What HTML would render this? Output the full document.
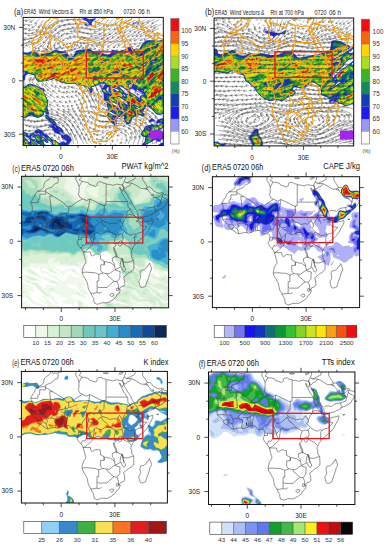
<!DOCTYPE html><html><head><meta charset="utf-8"><style>html,body{margin:0;padding:0;background:#fff;width:387px;height:550px;overflow:hidden}svg{display:block}</style></head><body>
<svg width="387" height="550" viewBox="0 0 387 550" font-family='"Liberation Sans", sans-serif'>
<defs>
<clipPath id="clipa"><rect x="23.1" y="17.4" width="140.2" height="128.1"/></clipPath>
<clipPath id="clipb"><rect x="214.1" y="18" width="139.6" height="127.9"/></clipPath>
<clipPath id="clipc"><rect x="21.6" y="176.3" width="147" height="131.5"/></clipPath>
<clipPath id="clipd"><rect x="212.4" y="176.7" width="147.2" height="130.9"/></clipPath>
<clipPath id="clipe"><rect x="21.4" y="371.4" width="146" height="131.6"/></clipPath>
<clipPath id="clipf"><rect x="208.5" y="372" width="146.4" height="132.5"/></clipPath>
<filter id="b1" x="-20%" y="-20%" width="140%" height="140%"><feGaussianBlur stdDeviation="1"/></filter>
<filter id="b2" x="-20%" y="-20%" width="140%" height="140%"><feGaussianBlur stdDeviation="2"/></filter>
<filter id="b3" x="-20%" y="-20%" width="140%" height="140%"><feGaussianBlur stdDeviation="3"/></filter>
<filter id="b05" x="-20%" y="-20%" width="140%" height="140%"><feGaussianBlur stdDeviation="0.6"/></filter>
</defs>
<rect width="387" height="550" fill="#fff"/>
<g clip-path="url(#clipa)">
<path fill="#9898f8" fill-rule="evenodd" d="M83.1 17.3l2-.1 3.2 1.7 1.8.4 2-.3 3-1.5 1 .4.2.5-.9 1.5-3.3 2.5-.7 3.5-4.8.9-2.4-1.4-.7-1.5 1.1-.6 3.5.6.6-.5-2.1-1.9-5.5-2.5.1-.6 1.9-1.1zM136.1 21.8l2-.2 1 .3 0 .5-5 2.4-1 .1-.6-.5.4-1 3.2-1.6zM166.1 38.8l0 75.4-2.5-.1-4.5 1-2-.4-1.7-1.3-2.9-3.5-4.2-3-1.7-.4-.6.4-.4 1.8-1.3.7-.1 1.5-1.3.5.4 1 1.7 1 .2 1.5-.6 1.4-1 .5-1.5.1-1.5-1.8-1-.2-1.5 1.3-3.5.7-2.5 1.8-.2 1.7-1 1-.1 1.5-2.2 1.8-1.8-.3-1.2-1-.6-2.5-1.9-2.9-3.5-1.2-1 0-.2.6 1.1 1.5-2.4 0-.6.5 0 2 1 2-.5 1-1.4.8-1.5-.2-1-.6-5.1-5.5-1.5-3 1-3.5.6-.6 1 .1 1.4 1.5 4.1 2.1 1.7-.1-.2-.5-2-.8-2-1.7-3-1.3-.8-1.2-1.7-4.5.2-2-3.6-3.5.4-4-.3-3-1.5-2-.8-3.5-2.4-1.9-3.5.6-2 .9-1-.1-.3.5.9 3.5-.6 2-1 .9-1-.5-1.3-4.4-3.2-2.5-9-1.4-2.5-1.5-7.5.5-6.5-1.7-5.5-3.1-2.5 0-5.5 1.9-8 .8-2-1.4-1-2.6-2-2.8-4.5-1.1-1.5.2-1.3 1.2-.8 1.5-.1 2-.8.9-1.5.3-3-1 0-3.4 2-.3 2.1-2-.6-.8-3.5-.3 0-20.6 8 .9 6.5-2 1.5.4 2.5 2.6 2 .5 8.5-1.4 4.5-2.5 2.5-.5 4.5 1.6 5.6.6 1.2 1 1.7 3 1.5.9 2.5-.9 2.3-4.5 1.2-1.1 5.5-.5 6.5-1.4 1.5.5 4 3.2 7 .2 5.5 2.2 3-.5.8-.6 1.7-4.1 4.5 1.4 3.5.2 6-1.9 4.5-3.1 1.4.5 1.6 2.6 4 .3 2-.9 2.3-4.5 2.7-2.6 2-1.2 12.5.6 7-1.9zM127.3 52.4l-1.3 1 .1.5 2.4-.5 1.2-1-.6-.4-1.8.4zM148.6 59.9l-2.1 2.5.1.4 2.5-2.4 0-.9-.5.4zM152.8 61.4l.3.5.9-.5-1.2 0zM144.8 63.9l-2.2 2 0 .9 2.5-2 .5-.9-.8 0zM159.5 64.4l-.5.5.6.5.8-1-.9 0zM119.1 70.9l-.5.6.7-.1-.2-.5zM103 83.9l-.5.5.6 1.3 1.5-.8 0-1.2-1.6.2zM128.8 84.9l-.1.5 1.4 1.6 1.3-.1-.3-2.5-2.3.5zM120.4 86.9l.6 2 1.7 1 1.4 2.2 2.5 1.6 1.2-.3-.1-1-1.6-2-3.3-3-1.2-.6-1.2.1zM107.2 88.4l-.6 1.5 1.5 1.6.3-2.6-.3-.8-.9.3zM112.4 88.4l1.2.5.7-.5-1.2-.4-.7.4zM115.3 88.9l.8 1.6 3.2.4-2.2-2-1-.3-.8.3zM129.6 89.4l-.5 1 .8 1.5 4.2 2 4.5 3.6 1.3-.1-.3-1.8-2-.5-.3-1.2 1.3-.1 1.5 1.8 2.2-.7-.1-1.5-1.1-1-1 0-1 .7-2-1.4-1.5 1.3-.8-.6 0-1.5-1.7-1.5-3.5 0zM136.8 89.9l.8 1.2.9-.2-.9-1-.8 0zM123.4 94.9l.7 1.3 1 0-.5-1.4-1-.4-.2.5zM117.6 96.9l-.5.5.3.5 5.7 3.6 1.5 1.5 3 1.4-.1-1-2.4-2.5-2-.9-2.5-2.1-3-1zM110.4 100.4l-.3.5.4 1 3.4 3 3.8 2.5 1.9.6-2-3.1-7.2-4.5zM131.5 103.9l1.1.8-.3-.8-.8 0zM123 105.4l1.1 1.1 1.6.4-.1-.5-1.5-1-1.1 0zM135 105.9l4.1 3.6 1 0-.9-1.6-4.2-2zM115.7 108.9l.4.9.5-.2 0-.7-.9 0zM122.1 109.4l-.6.5.3.5 2.1 1.5-.5-2-1.3-.5zM114.6 110.9l.5.7.7-.2-.2-.9-1 .4zM122.4 116.4l.7 1.3 1.1-.3-.1-1.1-1-.4-.7.5zM113.4 117.9l.2.6.6-.6-.8 0zM29.6 83.9l3 .3 8.5 3.4 2.5.3.8.5.2 1-.5 2 .5 2 2.6 5.5.8 3-.2 6 1.4 5.5-.6 2 1.5 1.6 3.5 2.3 3.8 6.1 4.6 3 2.3 5 4.8 2 2.7 3.5.1 2-2.8 2.9-1.5 3.4-1.5-.6-2.5.4-1.2 1.4-6 0-5.2-4 .4-1.5-.5-.8-3-1.3.7 1.6-.7.6-2-.2-1.5-1.2-.7.3 1.3 4 1.9 1.2.3-.2-.8-1.5.5-.6 1 0 4.8 3.6-22.7 0-1.1-.6-.2.6-7.7 0-.6-.6-.5.2 0-3.9 2 1.9 1 0 .2-.6-.7-1.7-2.5-.6 0-19.1 1.9.4 1.1 1 .5 1.5-.1 3.5 2.1 2.1 4 .7 3.5-.5 3-3.4 3-.3 2.3.9 3.2 2.9 2 .1 1.1 2.5 3.9 3.5 4.5 1.5 1 1.3 1.5.9 1.4.3.6-1.1 2.5-.8 2 1.2 1.1-.3-.4-1-2.2-1.2-2-1.8-.6-2-.9-.9-3-1.2-2.5 0-.5-.4-2-4.8-3.7-2.2.2-1.5 2-1.5-2.7-3.5-2.3-2-.5-2.5.9-1.5-.9-1.6-.7.1-.5 2.5-4.8 3-2.5-.1-5-2.2-2 .4-1.5 1-3.5 1.4-4.5-.7 0-31.8 2.5.9 1.5 0 3-2.1 2.5-.8zM51.5 123.9l.5 0-.5 0zM37.5 133.4l.1.6 1-.1-.3-.5-.8 0zM21.3 133.9l-.1.5.9.1-.2-.6-.6 0zM28.3 134.4l0 1 .9 0 .2-1-.3-.3-.8.3zM24.8 136.4l0 .5 2 2.5 1.8 1.8 1 .3.4-1.1-1.4-2-3.8-2zM42.1 136.4l.5.5 1.2 0-.7-.8-1 .3zM31.4 136.9l.7 2 2.9 0-1.2-2-1.7-.4-.7.4zM35.6 142.4l.5 0-.5 0zM31.6 143.4l.5 1 1.1 0-1.6-1zM37.4 143.9l1.2 1.6 1 .5.9-.1-.9-1.6-2.2-.4zM26.6 145.9l.4 1 .9 0-1.3-1zM152.1 117.9l3.3 2-.4 1-5.4 1.6-.9-.1-.1-2 2-2 1.5-.5zM165.6 117.8l.5-.1 0 15.6-1 .3-.3.8.3.7 1 0 0 2.8-2 .4-3.6 3.1-2.9.6-4 1.9-1 0 .3-.5 2.2-.6 1.3-1.4-.3-.8-1-.3-6.9 3.1-1.3 1 .5 1 1.2.6-.3 1.4.8.1 6.5-2.2 3-.5 3-2.3 3.5-.1 1-.8 0 6.8-9.2 0-.8-.7-1 .7-8.3 0-.2-.6-.9.6-4.3 0-.2-1 .4-2.5 3.3-4-.2-2 .5-1.5-3.1-1.1-1.5-2.4 1.3-2.5 1.6-2 .5-1.5 2.6-2.1 5-1.6 3-.7.5.9.8 0-.3-1.5 1-2.8 4-1.6 5-.7zM158.5 123.4l-1.1 1 .3.5 2.8-1-.3-.5-1.7 0zM162.1 128.4l-2.5 2.3-2.9.7-.1 1.5-2 1.7-.6 1.3 1.6 0 7.5-4.7.6-.8.2-2-.8-.4-1 .4zM151.9 132.9l-.8.5.5 1.3 1 .2 1.2-.5-.4-1-1.5-.5zM163.2 132.9l1.3 0-1.3 0zM161.4 145.4l-.7.5.9.3 1-.8-1.2 0zM53.6 134.8l1-.4.2.5-.7 1-.5-.1 0-1zM57.6 138.8l1 .3.3.8-.3.4-1-.9 0-.6zM150.6 144.8l-1.1 1.1 0-.5 1.1-.6z"/>
<path fill="#1c1cf0" fill-rule="evenodd" d="M84.1 17.9l1 0 4.5 1.8 2-.1 3-1.2.4.5-3.2 3-.7 3.6-3.5.3-1.5-.3-1.3-1.1.8-.5 3 .6.9-.6-.1-.5-2.3-2.1-4-2.4.1-.5.9-.5zM164.6 39.3l1.5-.3 0 58.4-1-.1-.2.6.2.4 1-.3 0 15.8-2.5 0-4 1-2.5-.4-1.5-1.1-2.7-3.4-3.3-2.6-2-1-2-.1-.3 2.2-1.2.5-.7 1.5-2.1 0 1.2 2 2 1.5-.2 2-2.2.3-1.2-1.3-2.8-.3-2.6-2.2-.9-.2 2.4 2.2.3 1-3.2 1.2-2.5 1.8 0 1.5-1.1 1.5-.2 1.5-2.2 1.3-1.4-.3-.8-1-.3-1.5-1.8-3 1.1-1.5-1.3-1.2-1.5-.1 0 1.5-.5.2-2.5-.8-1 .1-.1 1.3-1.9 1.5-.1 2.5 1 1.5-1.4 1.4-2-.4-5.6-6-1.1-2.5 1.2-3.5 6.5 3.4 1.5.2.8-.6-.8-.9-2-.7-5.2-3.4-2-5 .6-2-3.8-3.5.5-2-.4-5-1.7-2-.3-2 .3-.9 1.5-.4 0-1.2 1.4-1.5.4-1-.8-.9-4 .6-7 3-2 .1.8 3.7-.6 2-.7.8-.9-.8-1.1-3.5-3.5-2.6-8.5-1.6-2.5-1.3-8 .4-6.5-1.7-4-2.6-2.5-.7-6.5 2-8.5.8-1.8-1.2-3-5.5-3.7-1.1-2.5 0-1.8 1.1-.7 1-.3 3-.7.6-1.5.1-2.5-1.1 0-2.1 2-.4 2-1.2 1.1-1.9-.6-.6-4.5-.3 0-20 8 .9 5.5-1.9 1.4-.1 1.1.5 2.5 2.7 1.5.3 9-1.4 4.6-2.6 2.4-.5 4.5 1.7 5.5.6 1 .9 2.3 3.8 1.2.4 2-.5 1-.9 2-4 1.5-1.3 4.5-.3 7-1.5 1.5.5 3.5 2.8 2 .5 5.5 0 5 2.3 4-.7.9-.8 1.6-3.3 5 1 3 0 5.5-1.5 3.3-2.7 1.2-.5 1 .5 1.5 2.5 4.5.2 2.5-1.2 2-4.2 3-2.8 2-1 12 .4 5.5-1.5zM155.8 45.4l-.2 1.3 1-.3 1-1-.5-.4-1.3.4zM128.6 51.4l-3 1.5-.6.5 0 1 3.1-.5 2.6-1.5.4-1-2.5 0zM148.8 59.4l-6.6 6.5-.1 1.2 1.5-.6 5.5-5.7.8-1.4-.3-.4-.8.4zM152.6 60.9l-.7 1 .7.5 1.5-.5.6-1-.6-.4-1.5.4zM160 63.9l-.9.6-.5 1.3 2-.7.2-.7-.8-.5zM156.9 66.9l-.3.7.8-.7-.5 0zM118.4 70.9l-1 1 .7.4 2.3-1.4-.8-.4-1.2.4zM112.3 72.4l-.4.5.7.2 1.3-.7-1.6 0zM147 73.9l-.9 1.6 1.1-.6.2-1-.4 0zM114.7 82.4l.5 0-.5 0zM130.6 83.9l-2 .8-.2.7 1.7 1.9 1.7.1-.1-2 1.3-1-1.4-.8-1 .3zM118.7 85.9l.4 1.2 3.5 3.1 1.5 2.2 2.5 1.6 2-.2.2-.4-2.2-3.1-4-3.3-3.5-1.4-.4.3zM108.8 86.4l.1.5-1.3.1-1.2 1.4-.3 1.5 3.8 4 1.2.3-.1-.8-2.5-2.5.6-3.9 1-.1-.2-.5-1.1 0zM111.6 87.9l.7 1 2.3.6 1.5 1.3 3.6.6-.3-1-2.3-1.7-4-1.1-1.5.3zM132.4 88.4l-3.7 1-.4.5 1.2 2 4.2 2 5.3 4.5.6 1.5.5.1.1-3.6.4-.5 3.1-1 .2-1-7.8-5.2-.5.2 1 2-.5.4-3-2.8-.7-.1zM141.1 89.9l1 1.3.5 0 .5-1.3-2 0zM123.4 93.9l-.3.5.4 1.5 2.1 1-.4-2-1.8-1zM108.6 95.4l.7 1 .9 0-.6-1.1-1 .1zM161.7 95.9l-.2.5.6.5.9-.5-.4-.8-.9.3zM117 96.9l0 1 9.6 6.7 1 .2.5-.4-1-2.2-1.9-1.8-6.1-3.5-1-.4-1.1.4zM109.7 100.4l.9 1.9 3.5 3 3.8 2.6 1.7.7.8-.2-2.3-3.8-4-1.9-3-2.4-1-.2-.4.3zM138.5 100.9l.5 0-.5 0zM139 101.4l.3 0-.2-.4-.1.4zM130.9 103.4l1.2 1.5 1.5.1-1-1.1-1.7-.5zM122.4 104.9l1.9 2 1.8.4.2-.4-2.2-1.8-1.7-.2zM110.5 105.4l.6.7 0-.5-.6-.2zM134.4 105.4l1.2 1.7 3.5 2.6 1.7.2-1.3-2-5.1-2.5zM130 106.4l.6.5.6-.5-.6-.4-.6.4zM113.5 107.9l1.1.5.6 1-.6.6-1.5-.7 0 .6 2 2.3 1-.2.9-3.1-.9-.7-2.6-.3zM121.9 108.9l-.9.5.2 1 1.9 2 1.6.5-.1-1.8 1 0 .5-.7-4.2-1.5zM113.1 117.4l-.1 1.5 1.6-.5-.5-1.2-1 .2zM28.6 84.3l3.5 0 3.5 1.1 5 2.5 3.5.9-.2 2.6.5 2 2.5 5 1 3.5-.7 6 1.6 5-.1 1-.6.5-1.5-.3-1-1.7-1-.4-.7.4-.3 2.3-4.5 2.8-2 .1-3-1-2-1.7-1.5-.4-3 2.2-3 1.3-4.5-.4 0-31.3 4 .9 4.5-2.9zM138.1 94.2l.8.7-.9 0-.4-.5.5-.2zM46.1 114.9l.5-.2 3.5 3 3.2 1.7 2.3 3.1 1.2 2.9 4.8 3.2 1.7 3.3-.2.8-1 0-1.5-1.2-1-.2-.2.6 1.1 2-.9.3-4.9-1.8-2.1-4.5-2.5-1.3-.5-.7 3.4-1-.1-1-2.8-1.9-4.2-4.1-.5-2 .7-1zM54 125.4l.4 1 1.7 1.3 0-1.8-2.1-.5zM165.1 118.3l1-.2 0 5.7-1.5.1-.2.5.2.5 1.5-.2 0 2.1-1.5.8-2 .3-3.5 2.6-2.7.4-.4.5.3 1-.7.8-1 .3-3-.9-1 1.3.6 1 1.9.5.5.7 2 0 2-1.3 2.3-.4.7-1.5 2-.7 1.5-1.8.5-1.7.5 0 1 .3 0 3.9-3.5-.4-.2.9 1.7.5.5 1.5 1.5.3 0 1.9-1.5.1-2 1.5-1.5-.1-.7.8-.2 1-.6.3-1.8.2-2.2-2.1-2.2.6-1.4 1.5-6.2 3-.1.5 2.3 1.5-.4.7-2.5 1.3-3.3 0-.4-1 .5-2.5 3.3-4-.2-2 .8-1.5-.3-.5-3.4-.9-1.2-2.1 1.2-2.4 1.8-2.1.5-1.5 2.4-2 4.8-1.5 1 0 .7 1 .8.1 3.5-.2 2.5-.8 1.4-1.1-.4-.3-2.5-.3-1.5.7-.5-.3-.2-.8.8-2 3.4-1.6 4.5-.5zM148.5 127.9l-.7 1 1.3.6.6-.6 0-1-1.2 0zM148.5 134.9l-.7 1 .3.2 1.4-.7-.4-.6-.6.1zM160.8 136.4l.3.7.5-.7-.8 0zM151.6 118.7l2.8 1.2-.3 1-5 1 0-1.1 2.5-2.1zM20.5 124.4l1.6.5 1 1.3-.3 3.7.4 1 2.4 1.9 2.6.6-.6 1.5 1 1.1 1.3-.6.2-1.6 3-.5 1 .2 1 1.3 4-.2 1.8.8-1.8-2.5-3.5.2-1-.7 0-1 1.5-1.5 2.5-.7 2.9 1.2 1.9 2 1.2 2.2 2 0 5 4.6 4.2 1.2 1.3 1.6 2 1.1 1.5.3.5-1 2-.6 2 1.2 2-1.1-.5-1.1-4.8-3.4-.6-2.5.4-.6 2 1.5 1.5-1.2 3.8 1.3 2.2 3 0 2-2.4 2.5-1.1 2.8-1.5-1.4-1 1.1-2 .8-1.1 1.7-5.1 0-4.8-3.5-.4-.5.2-1.5-.6-1-4.7-2.7-3-3.6-2.5-.1.4.9 2.1 1.2 4.4 3.8.2 1-1.1.4-2.5-1.7-1-.1-.6.4 2.2 5 3.5 2-18.2 0-3.9-2.8-.5.3 0 1 2 .7.5.8-6.9 0-1.6-2 0-1.8 2 1.6 1 0 .4-.8-.9-2.2-2.5-.6 0-18.2.4 0zM21.3 133.4l-.6.5.4 1 1.5 0-.5-1.4-.8-.1zM23.9 136.4l4.7 5.3 1 .5.3-.3.3-2-1.6-1.8-3-1.9-1-.2-.7.4zM30.9 136.4l.7 2.5 1 .5 1.5-.1 1.2 1.1-1.2.5.4 1 4.1 3.8 1.5.8.8-.1-1-2-2.3-1.1-2.2-2.4 1-.5 0-.5-2.2-3-2.6-.8-.7.3zM40.1 138.4l.6 0-.6 0zM23.1 140.4l.5.9.7-.4-1.2-.5zM38.7 141.9l1.2.5-.3-.7-.9.2zM31 143.4l.6 1 2 .5.1-.5-1.1-1-1-.3-.6.3zM166.1 142.2l0 4.9-.6.8.6.1 0 .4-9 0-1-1-1.3 1-7.5 0 7.8-2.8 3.5-.6 3-2.1 3 0 1.5-.7zM161.6 144.9l-1.9 1 .3.5 1.6.1 1-.4.5-1.3-1.5.1zM47.1 145.4l.5-.3 1 .3 4 3-2.9 0-1.6-1.2-1-1.8z"/>
<path fill="#1240b0" fill-rule="evenodd" d="M85.6 19l6.4 1.4-1.4 4.5-.5-1.5-4.8-4 .3-.4zM165.1 39.4l1-.2 0 42.5-2.5 1.7-.1.5.6.7 2-1 0 7.4-.6 1.4.6 1.1 0 3-2-.1-1.5-1.3-1 .4-1 1.4-1.7 1 .7 1 1 .1 1-1.5 2-.6.5.1.5 1.7 1.5.2 0 14.5-3 .1-3.5 1.1-2.5-.5-1.5-1.1-2.5-3.3-2-1.3-1-1.5-5-1.5-.7 0 .7 1.5 0 1.1-1.5.7-.9 1.2-1.1-.1-3-2.6-4.5-2.3-1.9-1.5-2.1-.6-.4.1 1.9 2.1 2 .6 2.6 2.3 4.5 3 2.9 3 .5 1-.5.8-1 .2-2-1.4-2-.3-4.6-2.8 0 1 2.1 2.5-5 3.4.1 1.6-.8 1-.3 1.6-2 1.1-1.5-.5-2.2-4.2 0-.5 1-.5-.3-2.1-2.5-.7-1-1.1-.8.4.7 2-.4.4-3-.7-2-2-2-.6-4.9-3.1-2.1-5.5.5-.7 1.5 0 1.5 2.3 1 .3.2-.9-1.2-1.5-3-1.6-1-1.7-2.4-1.7.4-.8 1.5-.4.7-.8-.7-.9-1-.3-.7-1.8.1-1.5-2.1-2-.2-2 1.4-.4 1.8.9 3.6 4.5-.9.6-2-.7 0 .9 1.5.3 1.2 1.4 1.3.5.5-.5-.3-1.5 1.3-.5 0-.5-2.7-3 .6-3 1.1-.1.7 1.1 2.4 1 .2 1 5.7.8.5-.3-.5-1-2.5-1.9-5.5-1.4-1-.9-3-1-2 .6.2-1.9-.7-1-3.5 0-8 3.5-2 0-.3.5.8 3-1 2-2.1-3.5-2.9-2.2-9-1.8-2.5-1.2-8 .4-6.5-1.8-3.8-2.4-2.2-.8-2 .2-5 1.9-8.5.7-1.5-1.1-2.5-4.9-1-.9-4.5-1.1-3 .3.5-1.3-.5-.7-6 0 0-19.4 2.6.1 5.4 1.2 6.5-2.2 1.3.5 2.2 2.8 1.5.3 5-1.1 4.5-.3 5.4-3.2 2.1-.1 4 1.7 4.6.4 1.1 1 .3 2.2 1.5.6 1 1.9 2.5.3 2.5-2 2-4 1-1 4.5-.4 7-1.6 5.5 3.3 6.5.3 4.5 2.4 3.3-.5.6 1.5 1.1.2 1.6-1.2-.3-1.5 1.7-2.8 6.5.5 6.5-1.1.7.4-2.5 2.5.3 1.3 1.3.2 4.2-1.5 4.5-3.2 2-.2 1.5.5 3.3-3.1.2-1.8 1-1.4 4-2.8 6.5-.7 6 .3 6-1.6zM155.6 44.9l-.5.2-.3.8.2 1 .6.4 2.4-1.9-.4-.8-2 .3zM149.1 48.9l1 .5-.3-.5-.7 0zM142.8 51.9l-3.3 4 .1.6 1.7-.6 2.3-2 0-2-.8 0zM165.1 51.9l-.7 1.5 1.6-1.5-.9 0zM150.1 58.4l-8 7.1-.6.9.1 1 1.5-.2 2.5-2.3 4.1-4.5.6-1.5-.2-.5zM155.9 58.9l-.8.8-3.1 1.2-.7 1 .3.8 2.5-.5 2.8-2.8.2-.8-1.2.3zM102 61.9l.6.4.7-.4-1.3 0zM159.6 63.9l-3.7 3.5-.6 1 1.7-.5 1.6-1.6 2-.7.5-1.7-1.5 0zM97.9 67.4l-.2.5.9 0 0-.6-.7.1zM139.8 68.9l.3.5.3-.5-.6 0zM121.5 69.4l-5.9 2.5.1.5 1.9.3 1.5-.4 4.1-2.9-.6-.5-1.1.5zM148 69.9l-.2.5.3.2.5-.7-.6 0zM147.1 70.9l-.9 1 .9 1-1.5 3 1.5-.5 1-2 0-.5-1-.5.7-1.5-.2-.3-.5.3zM93.3 71.4l.8.3.4-.3-.4-.3-.8.3zM112.9 71.9l-1.3.6-.6 1.4 2.6-.6 1.4-.9-2.1-.5zM140 76.4l.1.4.5-.4-.6 0zM134.1 77.9l.5.4.2-.4-.7 0zM95.1 78.9l.6 0-.6 0zM142 78.9l-.2.5.3.3.9-.8-1 0zM136.4 79.9l.2.7.6-.7-.1-.3-.7.3zM114.2 81.9l.4.9 1.7.6-.8-1.5-1.3 0zM130.3 83.4l-.7.8-1.6.7 2.3 3-3.2 1.6-1.5-.3-3-2.5-3.5-1.4-.7.1.4 2 3.7 3 1.6 2.4 2 1.4 2.5.3 1.5 1 .3-.1-1-2 .2-.7 2 .2 1.7 1 5 4.5.4 1.5-1.5.5 2.4 1.5.3-1 1-1-.4-3.5 3.1-.8.8-.7.2-1.8-1.5-.1-.5-.6.9-3-1.9 0-1.5-.9-.5.4 0 1.2-.5.2-3.5-2.6-1 0-2.2-1.3-.3-.5.4-.5 1.6-.2-.2-.8-2.3-1.3-1.3.3zM145.6 86.9l-1.2.5.2.8 1.2-.3.2-.5-.4-.5zM122.5 93.4l1.1 3 1.5 1 1 .1.2-.6-.7-2.1-2-1.5-1-.2-.1.3zM117.3 96.4l-.9 1 .7.8 5.5 3.5 4 3.2 1.6 0 .2-1-.6-2-2.7-2-2.4-1-1.1-1.1-3-1.4-1.3 0zM145.1 96.9l.6 0-.6 0zM108.5 99.4l1.8 3 6.9 5.5-3.6-.8-.9.3-.4 2.5 2.3 2.3 1 .6 1.3-.4-.1-1.5.7-1.5-.3-1 .4-.2 2.7 1.2.8 1.5 1.2 1 .3 1.1 2.5.4 1.3-3-.8-.8-4-1.4-2.2-1.8-.8-2.1.1-.4 1.9-.5-.5-.5-2-.9 0 1.4-1.5.4-2.5-1.3-3-2.4-2.6-.7zM147.8 103.4l.5 0-.5 0zM152.8 103.4l-.6 1 .9.3.6-1.3-.1-.5-.8.5zM147.3 103.9l.4 0-.4 0zM121.8 104.4l1.3 2 3.7 1.5-.1-1-.7-1-2.4-1.2-1.8-.3zM129.5 105.9l1.1 1.4 1.1-.4-.6-1.2-1.6.2zM129.1 48.1l1.5.2-.5 1.1-2 1.1-1-.1 2-2.3zM23.1 76.2l1 .2.1.5-.1 1.5-1 .6-2.3-1.6 2.3-1.2zM29.1 84.4l2-.1 3.5 1 6 3.2 3 .4.1 2.5.7 2.5 2.4 4.5.8 3 0 3-1 4 1.7 4-.2 1.3-1-.1-2-1.9-1 .1-.5.6 0 2-3 2.2-2.5.8-3.5-1-2.5-2.3-2.5-.9-.5.2 0 1.5-.4.5-3.6 2.1-2 .4-3-.5 0-13.5 1 .3.5-.3-.5-1-1-.5 0-15.8 4.5.9 3-2.5 1.5-.6zM105.1 85.7l.5.2.3 1-1.3.5-.4-1 .9-.7zM134.6 88.8l.3.6-.8-.5.5-.1zM127.6 90.6l1 .5.5 1.3-1-.4-.5-1.4zM140.6 90.8l.7.6-.7-.6zM108.6 112.9l6 3.3 2.1.2.7.5 0 1-1.7 1.5-.3 2.5.9 1.5-.2.5-1 .5-1-.3-5.8-5.7-1-3 1.3-2.5zM113.3 116.9l-1.6 2 .3.5 1.6.1 1.4-1.1-.4-1.3-.5-.4-.8.2zM46.1 115.4l2.5 1.5 1 1.5 2 .4 1.5.8 2.5 3.4.4 1.4-.3.5-1.6-.2-1.3-1.8-2.2-.9-2.3-2.6-1.7-1.1-.8-1.4.3-1.5zM164.6 118.9l1.5-.2 0 4.6-1-.2 0-.8-1.5-1.2-2 1.5-2.3-.2.1-2 .8-1 4.4-.5zM152.1 120.2l1-.2.6.4-1.1.6-.5-.1-.3-.5.3-.2zM162.6 123.2l1 .2.4 2 2.1-.3 0 1.3-3 .9-4.5 3-2.5.4-1 2.2-4-.6-1 1.5-2 .8-1.5 1.8 1.5.1 2.5-1.4 1.5.4 1.1.9 1.9.1 2.5-1.4 2.5-.3 1.5-1.2 2 .5.5 1.6 2 1.3-2 .5-1 1-1 .2-.8-.3 0-.5.8-1 .1-1-1.1-.3-1.1 1.3.9 1.5-1.3 1.7-2 .2-.8-.4.8-1.5-.5-.3-4.6 1.3-.9 2-8.2 3.5-.2.5 3.4.6.5.7-2.9 1.7-2.1-.1-.4-1.4.9-2.4 3.3-4.1-.5-1.5 1.3-2-.1-.4-4-.5-1.4-2.1 1.4-2.6 1.6-1.4.6-2 2.3-1.9 2.5-.3 1.5-.8 1-.1 1 1.1 4 0 5.5-2.7zM149.3 126.9l-1.7 1.1-.4.9.9.9 1.5.4 1.7-1.8-.7-1.5-1.3 0zM20.6 125l1.2.4.7 1-.5 3 .9 2 4.2 2.4.1 1.6.9.8 2 0 1.5 3.2 1.7.5.8 2 5.5 4.7 2 .5 1 .8.3-.5-3.3-3.7-2-.7-.4-.6-.1-.5.5-.3 2 1.5.5-.1.3-1.1-.8-.7-2-.4-3.5-4.3-3.5-1.1-.2-1 .7-.6 2-.1 1.5 1.4 4.5-.1 5 3.2 3.5 3.1.1 1.1-1.1 0-2.5-1.7-1-.1-.9.8 1.2 1.5 1.7 3.7 3.1 1.8-17.4 0-4.2-3.1-.6.1-1 1.5 2.6.8.7.7-6 0-.7-1.5 2-.5.3-.5-.4-2-.9-1.2-2.5-.6 0-17.1.5 0zM20.5 133.4l.1 1.5 2.5 1.1 4.6 4.9.9 1.7 1.5.7 1.8 1.6 2.4 0-1.7-1.7-2-.9 0-2.4-2-2.2-2.9-1.8-2.1-.5-1.5-2.4-1.6.4zM39.5 137.9l.6 1 1 .4.1-.9-.6-.7-.5-.2-.6.4zM22.4 140.4l.7 1.1 1.5-.1-.5-1.2-1.7.2zM52.6 126.2l.4.2-.4.3 0-.5zM57.6 126.7l3.7 2.2.3 2.1-3.5-.9-.8-2.7.3-.7zM37.1 129.9l2.5 0 1.4 1-1.9 1.3-3.5-.3-.1-.5 1.6-1.5zM55.6 129.7l1.5.5.5 1.7-1.7 0-.5-1 .2-1.2zM165.1 129.8l1-.4 0 3.1-2.7-.6 1.7-2.1zM42.1 132.4l1 .6.5 1.4-1.5.8-1.3-.8-.4-1 .7-.8 1-.2zM45.6 135.2l1 0 1 1.4 1.5.4 2.5 2.5 4 1 1.5 1.8 2.5 1.4 2.5.4-.1-1.2 1.6-.4 1.2 2.4-.7.4-1-.3-2 3.3-1.5-2.7-1 .3-1.5 1.7-1.5-.2-3.2-3-.8-2.8-3.5-1.7-2.4-2-1-1.5.9-1.2zM65.1 135.5l2.5.6 2 1.7.4 2.1-.9 1.8-.6.2-4.2-4-.1-1 .9-1.4zM166.1 142.6l0 4-1.5 1.2-2.1.6-5.2 0-.2-.9-1-.4-1 .4-.6.9-6.7 0 7.3-2.6 2.5-.4 1 .1 1.5 1.3 2-.2 4-4zM66.6 143.1l1-.1.3.4-.3 1.7-1.4-1.2.4-.8zM161.6 143.4l1.7 0-.3.5-3.1 1 1.7-1.5zM20.6 145.4l-.5.2 0-.5.5.3zM47.6 145.9l1-.2 3.7 2.7-2.2 0-2.5-2.5zM58.1 148.3l1.1.1-1.1-.1z"/>
<path fill="#17885a" fill-rule="evenodd" d="M88.6 20.6l2.1.3-.1 1.3-.5.4-1-.6-.8-1.1.3-.3zM165.1 39.9l1-.3 0 11.4-1.5 1-1.5 2-1 .4 0 .5 2.6-1 1.4-1.5 0 28.4-2.6 2.1-.6 1 .7 1.3 2.5-1.3 0 6.7-.8.8-.2 1.5 1 1.5 0 1.5-2-.2-1-.9-2.2.6-2.3 1.6-3.8 4.4 1.6 0 2.2-2.2 2.5.2.9-1.5 1.1-.4.5 0 .5.9-1.5 2 .5.8.5 0 1-1.7 1.5 0 0 13.4-3 .2-3.5 1.2-3-.8-3.2-4.1-1.9-1-.9-1.8-2.7-1.2 1.2-2.5-1-.5-2 1.5 0 1.1-2-.1-.3.5.9 1.5 0 1-1.4.5-.7 1.1-1 .1-2-2-5.5-2.9-1.6-1.3-4.4-1.7-6.5-4.2-4-1.4-1.6.8.4 1 6.3 4 3.4 3.3 2.5.2 1 1.6 1.5.9.8-.5.2-1.7 1.5.2 2 2 2 1 3 2.5 2.8 3 .1.5-.9.4-3.5-1.2-4.9-3.2-.8-1.5-2 0-.4.5 2.1 1.3 2.1 3.7-4.2 3-.1 2-1 1-.2 1.5-1.6.6-1-.2-2.3-3.9 1.4-1 .2-2-1.3-1.5 1.6-3-.1-1.3-7-4-.6-1.2.6-.8 1.5.1 2 2.5 4 2 .7-.3-1.2-2.7-5-1.8-5-3.6-.8.1 1.7 1.5.1 1.4-1 .2-2-.8-3.5-2.8-3-1.5-1.5-2.5 1-.3 1.5 1.3 2 .4-.3-1.9 1.1-1-2.2-3 .3-1.5-.4-1 .5-.2.4.7 2.4.5.7 1.5 7 .5-1-1.8-2.3-1.7-10.7-3.9-1.2-1.6-1.3-.6-3.9.6-7.1 3.5-2 0 .6 2.5-.6 1.2-5-4-5.5-1.1-5.5-2-8.5.4-6.5-1.8-3.5-2.2-2.5-1-2 .2-4.5 1.9-8.5.7-2-1.3-3-5.5-6.2-1.5-1.3-1.6-4.5.4-2-.3 0-18.4 3 .2 4.5 1.4 6.5-1.8 1.5.8 1.2 2.3 1.3.4 7-1.8 3 .3 1.9-.4 4.1-3.1 2-.3 4.5 2.4 3.6 0 1.5 3 1.8 1-.2 1.5.8.4 3 0 1.5-.7 5-5.5 10.5-2.4 5.5 2.8 6 .3 3 1.6 4.5.3 1.4 1.2 1.6.2 1-.3 3.1-2.9.5-1 .9-.4 7-.4 1.3 2.8 1.2.4 6-1.6 1.7-1.8 2.3-1.2 1-.3 2.3.5 3.7-3.6.2-1.9 2.3-1.8 4-1.6 4-.7 6.5 0 6-1.4zM154.2 44.4l-4 3.5-2.6.5-2 2.5-1.5 0-1.5.6-2.5 3-1.4.9.4 2.1.5.1 4-3 1-1.4 4-3.2 2.5-.1.3-1.5 2.2-1.9.5-.1.5 1 1 .5 2-1.5.7-1-.2-1-3.9 0zM154.5 52.9l.1 1 1.1-1-.6-.5-.6.5zM136.6 53.4l1.5 1.7-.5-1.5-1-.2zM153.1 54.9l-.3.5.3.2.6-.7-.6 0zM128.1 56.4l-.3.5.9 0 .1-.5-.7 0zM97.3 57.4l-.2.5.5.2 1.2-.7-1.5 0zM150.6 57.4l-5.5 5.4-3.7 2.6-.8 2.5-1.5 0-1.2-1.5.3-1-.6-.6-.7 1.1-1.7 1 1.9.3 1.5 1.2.9 1.5.6 0 1.5-1.9 1.5-.6 2.3-2 4.2-4.6 2-3.4-.5-.4-.5.4zM155.8 58.4l-4.8 3-1 2.5.5 1 .6-.1 1-1.4 2.2-1 2.8-2.6.4-1.4-.9-.4-.8.4zM164.8 59.4l-1.3 1 .1.7 1 0 .8-.7.3-1-.9 0zM103.1 60.9l-3 1.5 1.5.5 1.9-.5 1.6-1.5-2 0zM135.4 63.4l.2.7.9-.2-.4-.7-.7.2zM160.4 63.4l-1.3.6-3.7 3.4-1.3 1.9-1.1.6-.1 1 1.2-.1.8-1.4 2.2-1.1 1.5-1.6 2-.7.9-2.1-.4-.6-.7.1zM147.1 66.4l0 .6 0-.6zM151.4 66.4l-2.3 2-1.5.5-1.7 2.5.4 2-1.5 3 .3.3 2.4-1.3 2.1-3-.3-2 1.7-1.5 1-2.5-.6 0zM97.9 66.9l-1.1 1 .2.5 1.1.3.7-.3.5-1-.3-.5-1.1 0zM94.6 68.4l-2.6 3.5 2.6.3 2.6-1.3-2.4-.5.7-1.5-.2-.5-.7 0zM121.6 68.9l-4.5 2.1-5 .9-2.6 2.5 1.1.4 4.5-1.8 3.5-.1 5.3-3.5.2-.5-.5-.3-2 .3zM130.1 68.9l-1.5.7-.2.8 1.2 0 1.4-1 .2-.5-1.1 0zM127.2 73.9l-1.4 1 2.3-.4.5-.8-1.4.2zM142.1 73.9l-.5 1-1.5.6-4 4 0 1.5 1 .1 1.1-2.2 2.6-2 2.3-3-.5-.4-.5.4zM107.3 74.9l-.7 1 .5.2 1.1-.7-.1-.5-.8 0zM123.3 75.4l-1.2 1 1 .3 2.4-1.3-.4-.4-1.8.4zM135.6 75.9l-.3.5.3.2 0-.7zM155.1 76.4l.5.2 0-.7-.5.5zM93.2 76.9l-.8 1 1.2.3.5 1.2 1 .3 5-2.3-3.5.5-1-.3-1-1.1-1.4.4zM133.7 77.4l.4 1.4.9-.4.1-1.2-1.4.2zM143.5 77.9l-2.2 1-.1 1 .9.3.9-.3.5-2zM152.9 78.4l-.4 1 .6.2.7-1.2-.9 0zM150.8 80.9l-.2.5.5 1.1 1.5 0 .8-.6-1.3-1.2-1.3.2zM162 80.9l-1.8 2 1.9-1.2.5-.8-.6 0zM114.3 81.4l-.7.5.1.5 3.5 2-1.6-3.4-1.3.4zM127.7 81.4l1.9 1.3.2.7-.3.5-1.7.5-.1.5 1.3 2 .2 1-2.1 1.2-2-.5-3-2.5-4.3-1.2.8 3.1 4 2.9.5 1.5-1.4.5 1.9 3.8 1.5 1.2 1 .1.7-1.1-.6-2 .9-.4 5 2.2.3-.3-.2-.5-1.1-.4-1.1-1.6.1-.7 1.5-.1 4 3 2.5 2.7 0 .7-1.5-.1-.4.5 3.4 2.3 1.9-1.8-.6-1.5.2-2.6 2.5-.1 3 2.1-.5-2-1.2-.9.3-2 1-2-2.1 1-.6 0-.2-.5.8-2.9 2.5-1.1-.3-1.5-2.7.4.1 1.6-1.6.6-.8-.1-.7-.8-1 0-1 1.5-2-1.7.8-1-.3-.8-1-.3-1.7.6.3-1-.3-1-2.3-1.5-1.7-.5-.3-1.5-2.4.5zM139.5 81.4l-1 1 .6 1 1.2-1.5-.2-.6-.6.1zM143.7 81.9l-.1.6.6-.6-.5 0zM150.1 84.4l0 .8.6-.8-.6 0zM111.3 97.4l.4 0-.4 0zM112.1 97.9l1.5 1.3.8-.3-.8-.9-1.5-.1zM164 101.4l-.7 2 .3.5.9-1-.5-1.5zM153.6 102.4l-1.7 1.5 0 1 1.2.3 1-.6.3-2.2-.8 0zM28.6 84.8l2-.2 4 .9 5.9 3.4 2.9.5-.1 1.5.9 3 2.4 4.5.9 3.5-.2 3-1.5 4 1.9 3-.1 1.2-2.5-1.7-1.5.2-.4.3 0 2.5-3.1 2.1-2.5.5-3-1.1-.8-1-.1-2-1.6-.8-1.5.8-1.8 0-.3 2-4 2.5-1.9.2-2.5-.5 0-12.4 3.5 1.1.5-.4-4-3.8 0-14.7 4.5 1 4-3.1zM34.5 91.9l2.6 2.3 1.1.2.3-1-.4-.4-1.5-.3-1.5-1.2-.6.4zM102.6 89.2l1-.2 1.5.6 3 3.3 0 .9-2.5-.7-2.5-1.7-.6-1 .1-1.2zM105.6 99.4l1-.4.2.4-1.2 0zM108.1 100.3l1 .4.7 1.7 1.3 1.3 1 .4 3.5 3-3-.6-1.8-2.6-3.2-1.6-.2-1.4.7-.6zM129.1 103.3l1 .4 1 1.4-2 .1 0-1.9zM107.6 104.8l1.4.1 1.6 2 1.5.7-.3 2.3 3.1 3-.3.5-5.5-3.5-.4-2-1.2-2 .1-1.1zM118.1 108.8l2 1 0 1.7 1.7.4-1.7 2.5.8 1.5-.3.4-2.5-.6-1.5-1.8.1-.5 1.6-.5-.2-.9-.8-.6.8-2.6zM108.6 113.8l.5-.2 3.2 1.3 1.3 1-3 3.9-1.5-.8-.7-1.1-.6-2.5.8-1.6zM123.1 113.9l1.2.5-.4.5-.8 0-.4-.5.4-.5zM46.1 116.3l.5-.3 1.4.9.7 1-.1.6-2-.5-.5-1.7zM115.1 116.8l1.5.1.5.5-.5.6-1 .1-.5-1.3zM115.1 119.4l.2 1-1.2 2.2-1.8-.7-1.3-1.5.1-.5 2.5.4 1.5-.9zM49.6 119.7l1.5.6 1.5-.5 1.3 2.1 1.2 1 .4 1-.3.5-1.1-.4-1-1.8-1.6-.3-1.4-.9-.5-1.3zM161.1 119.7l1.5.2.2.5-.9 1.5-1.3.4-.6-.4.1-1 1-1.2zM164.1 119.8l1-.1.4 1.2-.9.2-.5-1.3zM162.1 123.7l1-.1.4.8-.9 3-3 1.4-1 1.2-2.8.4-1.2 1.8-4-.5-1 1.9-4 2.5-2.2-.2-1.8-1.8.5-1.6 2.5-1.9.5-2.3 2-2 1.5-.1 0 .7-2.7 1.5 1.7 1.6 2.5 1.2 1.8-2.3-.6-2 .3-.8 4 0 1.5.5 5-2.9zM151.1 125.3l0 .6 0-.6zM164.6 125.7l1.5.2-1.5.9-.8-.4.8-.7zM58.6 127.9l2 1 .5 1.1-2.1-.1-.4-2zM166.1 129.7l0 2.5-2-.3-.2-.5.7-.8 1.5-.9zM37.6 130.8l1.5.1-.2.5-.8.1-.5-.7zM21.1 131l1.2.9-1.2.2-.3-.2.3-.9zM22.6 132.2l3.9 1.7 0 1.5-1.9.1-1-.6-1-2.7zM41.6 133.3l1 0 .2 1.1-1.3 0-.3-.5.4-.6zM31.1 134.3l2-.1 1.5 1.5 2 .2 1.5-.7 1 .2 2 1.7 2.5.9 3.9 3.9-.9.2-1.5-1.5-3-.3-.5-.4-.5-2.3-1-.6-1 .3 0 .6 1.8 2.5-.1.5-2.7-.2-4-4.6-2.5-.7-.7-.5.2-.6zM161.6 134.3l1.5.1.1.5-.6.4-1-.2-.5-.2.5-.6zM20.5 135.4l2.4 1 4.5 4.5 1 2.5 2.2.8 1 1 3 .2.1-.5-3.9-3 .3-2 1 0 7.5 7.2 3.5 1.2.2-.9-1.7-1.5-1.3-2 .8-2.8 1.6 1.3.4 1-.4.5 2.4 3 1.5 1.2 1.1.3-16.7 0-3.9-3.2-1-.1-1.5.9-1.6-3.6 2-1-.4-1.3-3-.2.5 1.8-2 0 0-6.7.4.4zM158.1 135.2l1.9.2-.9 1.6-7.3 2.4-.4.5.1 1-1.4 1.1-5 1.7-.7-.3 2.2-3.2 1.3-.3-.1-.5-1.2.4-.8-.9 1.3-1.8 4-1.6 2 1.1 2 .1 3-1.5zM29.1 136.9l1 .2.5 2.1-1.5-1.1-.3-.7.3-.5zM163.1 136.9l-.5 1.2-.3-.2.8-1zM46.1 137.1l1 .6 2-.4 2.3 3.1-.8.5-2.5-1.3-1.9-1.7-.1-.8zM159.1 137.8l.5-.1.6.7-.6 1.1-2 .1 1.5-1.8zM52.6 140.3l3 .4 1 1.4 2.9 2.3-2.9 2.8-1.2-.3-.3-1.5-1.6-.5-.6-1-.8-3.5.5-.1zM38.1 142.4l.1.5-.1-.5zM63.1 143.1l.5.8-.9-.5.4-.3zM166.1 143.3l0 2.9-1.5 1.3-1.5.1-1 .8-4.6 0 0-1-.9-.8-1.9.8-.5 1-4.5 0 1.4-1 4.6-1.5 1.3 0 3.1 1.1 2.5-.3 3.5-3.4zM60.6 144.7l1 .5 0 1-1-.8-.3-.5.3-.2zM48.6 146.2l1 1.1-.9-.4-.1-.7zM144.6 146.4l.6.5-.6.6-2.5 0 .5-.9 2-.2zM22.6 146.9l1.5 0 3.9 1.5-4.2 0-1.2-.6-.3-.4.3-.5zM50.6 147.7l1.5.7-1.6 0 .1-.7z"/>
<path fill="#3cb42a" fill-rule="evenodd" d="M165.6 40.2l.5-.1 0 10.6-3 2.8-1.9.9.4 1.1 1 .1 2.5-1.5 1-1.3 0 5.7-1.5.5-3.1 3.4-2.6 1.5-5.1 5-1.2.5-.5-.5.1-1 1.7-2-.3-.6-1.5 0-.3-.4.8-1.4 2-.7 1.5-1.9 1-.1 1 1 1-.3 5-4.6-.5-.2-1.5.5-2.5 2.8-1.5.6-.6-.7.4-2-1.3-.2-1-1-.5.2-2.6 3-2 1.5-.9 2.1 0 2.6-3.2-.2-.3 1 .6 1.5-.1 1-1.2 2.5.3 2-1.9 3-1.2.9-1.5.3-1.1 2.3-1.4.8-.6-.3.6-1.9 2-1.1 2.9-3.5.1-1.2-1-.3-5.1 4.5-2 2.5.5 1.5 2.6 2.5 1.3-.5 1.7-2.6 1.5.1-.4 1.5.4.9 1.3-.4 1.1-2-2-.5.6-2 1.3-1.5 2.4-1.5 2.3-3 .5-1.8 1-.4 1 1.1 1.5 0 1.4-1.9 1.6-.5.4.5-.6 1 .7.3.8-3.3 2.2-1 2.3-4 2.2-1.2 1-1.1 0 20.2-3.3 3.1-.6 3 .4.4 3.5-2.5 0 5.9-1.3 1.2-.1 2 .8 1.5-.9.5-1-1-1-.2-4 2 0-1.8-.8.5-.8 1 1 1-.5 1-5.7 5.5-.7 2 3-.1 1-2.8 2-.4 2-2.2 2.4 0 .8-1.5.8-.4.5.4-.2.5-1.2 1 .1 1.5.8 1-1.3 2.5-.2.5.5.3 2.5-2 .2-3.3 1.3-.5 0 7.4-1.4 2.1.4.7 1-.3 0 2.5-3 0-1.5 1-2 .6-3.3-1-1.9-2.5 0-1.5-2.5-.5-.9-2.5-1.4-.2-1-.8 1-1.5-.1-1-1.9-1.1-1 1.5-1 .6-.1 1-2.1.5 1 2.5-1.3.6-.5 1-1 .3-2-2-9.5-5.3-2-.6-3.5-2.7-1.3-.3-1.1-1-3.6-1.5-3 .5-1.5-.7-.4.2.4.8 1.5.5 1.1 1.2 5.9 3.6 1.7 1.9-.2.3-2.5-.6-6.5-4.3-1.5-1.8-2-.8-.4-.8 1-1.5-1.9-3 .5-1 .8-.4.8.4.5 1 1.2.5 3.5-.3 3.5 1.2 2 3.8 2.5 2.1 1.5-1.3-.5-2 .5-.6 1 .2 3 2 1.7-.1-.1-1-1.6-.8-.8-1.2.3-.6 1.3.1 3.7 3 1.5 2 .3.5-1.6.5.3.8 3.5 2.3 2.7-2.1-1-1.5-.3-2 .5-.5 1.6.1 3 2.3 1-.1 0-1.2-1.7-3.1 1.5-3.5-.3-.4-2 1.3-.9-.4.9-2.3 3.5-.2-1-3.1-4.4.6.5 1.5-1.1.8-.7-.3-.4-1-2.4.3-.9-1.8-2.2-.5-1.3-1.5-3.1-2 .5-2.1-4.7 1.1-.2.5 2.5 2-1.9 1 1.5 3-1.7 1.4-1.5-.2-3-2.6-2-.5-3-1.6-.8-1.5.3-2-.3-1 1.7-1.5-.9-.5-1 .2-1.5 1.3-.1 1.5-2 1-.4.8-2-.6-.4.3 1.4 1.6 1 0 .5-.9 4 2.3.6 1 .4 2.4-3-.7-4-2.2-3.5-.8-2.5-2.2-1.5-.4-4 .7-6.5 3.4-2-.2.1 3-.6.2-5-3.4-4.6-.8-5.9-2.1-8 .5-3-1.1-4-.8-3.5-2.2-2.5-1-2 .2-4.7 2-8.3.4-1.6-.9-3.4-5.9-5.5-1.4-1.5-1.7-5 .5-2-.4 0-17.7 3 .4 5 1.5 6-1 1.8 2.2 2.2.6 7-2 3 .7 1.5-.3 2-.9 2.5-2.5 2-.4 2.4 1.3 1.1 1.5 1.6.5 1.5 1.5.3.5-.4 1.2 2.5-.7.9.5.7 1.5 1.4.7 4.5-.7 4-4.5 1.5-1 9-2 3.5.7 2.5 1.7 4-.1 3.2 1.2-.7.7-2.5.4-2.5 1.9-.6 1 1.1.8 7-4 4 0 2 1.3 2.5 0 5.5-3.8 3.5-.8 2 .2 2.5 2.4 2 .2 3.5-1.1.3.3-.3.3-2 .5-.9.7.1 1 1.3.4 2.9-1.9 2.1-3.6 2.5-1.1 3 .1 4.1-3.9.4-1.8 2.5-1.7 1.5-.2 2-1.1 3-.1 3-.9 7-.3 2 .6 1.5-1.7zM153.4 43.9l-.2 1-2.6 1.8-4.9 2.2-3.4 2.5-2.7 3.1-1 0-2-2.3-1 .3-.3.9.3.5 2.8 2.5.2 2.5.5.1 1.9-2.1 2.9-2 1.2-1.7 2-1.4 2-1.2 2 .1 1.6-.8-.1-1.5.5-.7.5-.2 1.5 1.5.5 0 2.8-3.1.3-1.5-.6-.4-4.7-.1zM153.1 50.4l-.2 1.5 1.2 0 0-1.6-.5-.3-.5.4zM154.2 52.4l-.5 1.5-1.8 2-8.8 8.2-2-.1-1-.8-.5.7.9.5-.9.9-2.4-1.4-.6-1-1-.3-.8 1.3 1.7 1-.4 1-4 2.3-3.9 1.2-.5 1 .9.6 1-.1 3-2.1 3.5-1.2 2.3 1.3 1 1.5 1.2-.4 1.1-1.6 4.3-3 .8-1.5 3.2-3 2.1-4.2 1.5-1 2.4-2.8.1-.6-.5-.4-1.4.5zM147.9 56.4l-1.8.7 0 1.6 1-.3 1.4-1.5.3-.5-.9 0zM117.6 58.4l-1.1.5.6 1 .5-.5 0-1zM106.2 58.9l-6.2 3-1.1 1 1.2.5 3.5-.7 3.6-2.3 0-1.5-1 0zM130.4 59.4l-1.6 1.5 2.9-1 .3-.5-.4-.5-1.2.5zM138.2 59.4l.4.3 0-.8-.4.5zM92 60.9l-.9 1-.1 1 1.1 2 .7-.5-1-1.5 1.4-2-1.2 0zM143.6 60.9l-.6.5.6.7.6-.7-.1-.5-.5 0zM111.1 61.4l-1 1 1 .2 1-.3.7-.9-1.7 0zM132.3 61.4l-.2.6 1.3-.1-.3-.7-.8.2zM118.4 61.9l-.3 1.5 1 .7.9-1.2-.9-1.3-.7.3zM88.2 63.4l-.2 1 .6.2 1.8-1.2-2.2 0zM98.5 66.4l-2.4 1.2-2 0-2.5 2.8-2.5.5.2 1 .8.6 4.5.3 5-2.4.4-.5-.8-1 .5-2-1.2-.5zM107.8 66.4l-.7 1.2 1.5.3 1.1-.5-.6-1.1-1.3.1zM121.8 68.4l-4.7 2.3-5 .9-2.5 2-2.6.8-1.2 2 .3.4 1.9-.4 7.1-3 2.5.1 1.5-.5 5.4-3.6.1-1-2.8 0zM36.7 70.4l-.4.5.8.6 2.1-1.1-1.6-.4-.9.4zM136.6 71.4l.5 1.2 1-.2-.7-1-.8 0zM129.3 72.9l-6.2 2.3-4 2.3 1 .2 3.5-.6 3.5-1.4 3.3-2.3.2-.5-1.3 0zM157.1 74.4l-2 1.4-5 5.1 0 2-1.3 2 .5 1 1.3-.4 3.5-3.6.3-.5-.9-1 1.1-2.3 2.4-2.7.1-1zM135.4 75.4l-2.2 2 .4 1.5 1.6 0 1.2-2.5-.3-.9-.7-.1zM93.4 76.4l-2.7 2 1.9.2.8 1.3 1.7.4 2.3-.4 1.7-1.3 1.5.4.9-2.6-.9-.5-3.5 1.4-2-1.2-1.7.3zM126.4 76.4l-.3.6 1 .5 1.6-1.1-1.1-.4-1.2.4zM163 79.9l-2.4 2-1.5 2.2 1-.2 2.2-2 1.4-2-.7 0zM151.8 89.4l.3.3.3-.3-.3-.4-.3.4zM151.6 98.9l-.5 1.5.5.4 1.5-.4 1-1.5-2.5 0zM139 105.4l.7.5-.1-.5-.6 0zM140.7 106.9l.6 0-.6 0zM96.6 69.3l.8.1-.8.2 0-.3zM29.6 84.9l5.3 1 5.2 3.2 2.6.8 4.4 10.8 0 3.8-2.1 4.4 2 2.5.1.8-2-1.2-2 .1-2.6-1.7-.6.5.1.5 2.1 1 1.1 2.5-3.6 2.3-2 .2-2-.5-.8-2.5-1.2-1.1-1.5-.6-3.5.7-.7 2.5-3.8 2.3-1.5.2-2.5-.5 0-3.9 1 .4.1-.5-1.1-1 0-6 3.3.5 1.7 1.1.9-.6-.5-1-2.9-2.3-2.5-2.9 0-13.4 2.5.7 2.5.2 3-2.8 1.5-.5zM33.7 91.4l3 3 1.4.6.8-.1.9-2-1.2-1.4-1.5.7-1.5-1.3-1.9.5zM35.1 95.9l.9 1 1 0-.9-1.2-1 .2zM21.7 97.9l3.4 3.7 4 3.2 1.5.4-.1-.8-1.7-1.5-6.2-5-.9 0zM37.9 107.9l.2.5-.2-.5zM103.1 89.4l2 .6 2.6 3.4-4.2-2-.7-1 .3-1zM119.6 89.2l2.5 1.4.5 1.4-1.5-.3-1.7-2.3.2-.2zM108.6 97.2l2.5.6 3.5 2 2.5 2.1.2 1-.7.4-2.5-1.1-5.1-3.8-.7-1 .3-.2zM108.6 100.8l.6 1.1-.6.4-.8-.4 0-.5.8-.6zM129.6 103.8l.8 1.1-1.2-.5.4-.6zM120.1 104.3l1.2.6.3 1.4-2-.7-.2-.7.7-.6zM112.1 104.8l1.7 1.1-.2.5-1-.5-.5-1.1zM108.1 105.1l3.5 2.8-.3 1.5.8 1.8-2.7-1.3 0-2-1.4-1.5.1-1.3zM127.6 105.8l1 .4 1.5 1.7.4.5-.1 1.5 2.3 1.5 1.8 3-.4.9-3.5 2.6 0 1.8-1 .9-.1 1.3-1.4.7-1-.5-1.8-2.7 1.5-1-.1-1 .6-1 0-.5-1.5-1.5 1.2-3-.3-2 1.5-.5-1-2.5.4-.6zM132.6 106l1.5.4 1 1.5-2.8.5.3-2.4zM122.6 106.8l3.9 2.1-2.4-.4-1.9-1.6.4-.1zM135.1 108.7l1-.2 1.5.6 4.6 4.3.4 1.2-3.5-.8-4.5-2.9-.4-1.5.9-.7zM118.6 109.2l1.1.7-.6.9-.8-.4.3-1.2zM112.6 111.2l0 .4-.4-.2.4-.2zM119.1 112.1l1.5.8-.8 1 .2 1.5-.4.4-1.4-.4-.7-1 0-.5 1.1-.5.5-1.3zM109.1 114.1l3 1 1 .8-3 3.2-1.3-1.2.2-1.5-.6-1 .7-1.3zM46.6 116.8l.7.1.6 1-.8 0-.5-1.1zM161.6 120.3l.2.6-.7.6-.2-.6.7-.6zM162.6 123.9l.5.8-1 1.2.3 1-.8 1-2.5.7-1 1.3-2.5.2-1.5 1.6-3.1-.8.1-.7 1.4-1.3-.4-2.1 3-.3 2 .7 1.3-1.3 4.2-2zM147.1 126.7l.5-.2.4.4-.9.4 0-.6zM146.1 129.7l3.5 1.9.2 1.3-2.2 1.1-1.5 1.5-2 .1-.4-.2-.2-1-1.4-.4-.1-.6 1.1-1.4 2-.9 1-1.4zM165.6 130.1l.5-.2 0 2.1-1.8-.6 1.3-1.3zM24.1 133.3l1.7.6.2 1-.9.3-1.1-.3-.4-1 .5-.6zM32.1 134.7l1 0 .3.7-1 0-.7-.5.4-.2zM38.1 135.7l1 .1.4.6-1 1 1.3 2-.2 1.1-1 .1-1-.6-2.5-3.6 2 0 1-.7zM151.1 135.8l1.5 1 2.5.1 3.5-1.5.7.5-.2.5-4.5 2-3 .7-.9.8-.1 1.5-.8.5-3.2 1-1.3 0 .8-1.3 3.4-1.2-1.4-1.6-1.5-.1.1-.8 4.4-2.1zM20.6 136.3l1.7.1 4.4 4 .7 1 .2 1.5 1 1.2 3 1.5 3.5-.2-.5-1.3-3.5-2.2 0-1.1 1-.5 7.5 7.3 1.5.1 1 .7-10.8 0-3.7-3.3-1.5-.2-1.5.4-1-2.9 1.7-1 .1-1-.8-.9-2.5-.1-.8-.5-.7-1 0-1.6zM29.6 137.6l.5.3 0 .7-.5-.2 0-.8zM41.6 137.8l1.5.1 1.9 2-2.9-.3-.5-1.8zM48.6 137.6l.9.3.6.9 0 1.6-2.5-1.5-.1-.5 1.1-.8zM159.1 138.7l0 .4-.4-.2.4-.2zM20.6 139.9l.6 1-1.1.3 0-1.6.5.3zM53.6 140.4l1.9.5 1 1.5 2.1 1.5 0 .5-2 2-1-1.4-2-.6-.4-.5-.3-3 .7-.5zM41.6 142.3l.7.6-.2.2-.5-.1 0-.7zM166.1 144.4l0 1.3-1.5 1.5-2 .3-1 .9-3.9 0 .9-1.3 4 .2 1.5-2 2-.9zM41.6 144.5l2 .8 1.4 2.1-.1 1-1.2 0 .1-1-2.2-2 0-.9zM152.1 147.4l1.7 0-.1 1-3.4 0 1.8-1zM24.1 147.7l3.5.7-3.3 0-.2-.7zM51.1 148.2l.6.2-.6-.2z"/>
<path fill="#a8e020" fill-rule="evenodd" d="M166.1 40.6l0 9.8-3 2.7-2 .3-.4.5-.1 2.1-1-.1-2 1.5-1.5-1.1-.7.1-3.3 3.5-1.4.5 1.7-3.5 1.4-1 2.5-3 .3-1.5-1.3-.5 1.6-3 1.7-1.7 1.1-2.8-.6-.3-2.5.5-2.3-.7.2-.5 1.4-.5 2.7.4 3-.6 2.5 1.5 2-2.6zM149.1 43.2l2.5.1.6 1.6-3.1 2-3.1 1 .3-3 1.6-.5 1.2-1.2zM144.1 46.3l0 .7 0-.7zM142.1 48.1l1 .2 1.1 1.1-5.1 4.8-1.3-1.8.1-.5 1.2-.4 3-3.4zM149.1 51.3l2.3.1.7 1.8 1.1-.3-.1.9-2 2-.5-1.4-5 2.2 0 2.8 1.5-.4 2.5-2.1.1.5-4.6 4.7-.5-.2 0-1.6-2.5.6.6 1.5.8.5-.1.5-.8.1-2-1.3-2.5 1.3.2-2.6 2.6-3.5 2.2-1.4 1.5.1 0-1.7.5-.8 2-.4 2-1.9zM54.6 52.3l1.5-.1 1.1.7.5 1-.3 1 2.1 1 2.1 2.8 3 .1 2.5 1.6.5 1.1 2-1 3-.5 4-4.4 2.5-1.2 8-1.4 2.8.4.9.5.1.5-1.3.4-1 1.1-.3.5.8.6 2-.5 1.5.6.5-.2.1-1 1.5-1 1.9 0-1.3 2.5-4.2 3.1-1 1.5-2.5 1-1.4 1.9.3 1.5 1.2.5.8 1.5-.6 2 .4 1.5.8.9 1 .3 5.5.1 4.7-2.8.2-1-.7-1 .5-1.5-1.2-.9-3 .9-2-.4-1.5 1.3-2.5.4-.5-.3.1-1 .9-1 2-.2 1.2-.8-.6-2 .9-1.8 1.5-.4 1.5-1.3 5.5-2.8 2.5-.1 1 .4 0 .5-1 1.6-6.8 3.4-.7 1 .5.6 1 .1 4.5-1 3.5-2.2 1.3-2.5 3.2-.7 1-1.3 1.5-1 4.5-1.6 1.9.1-.4 2.7-2 .3-1-1-.5.2-.3 1.3-.7.3-1 2-4 1.6-2.5 1.6 4 .3 1 1.2.5-.1.7-.9-.8-1 1.6-1.7 1-.2 1.5.9-.1 2.5 2.1 1.1 1-1.1.1-1-1.1-1.7-1.4-.8 1.4-2.3 1.8-.7 1.2-1.5 2 .1.8.4.2 2.1 2-.1 1.5-.5 3.5-2.3 3-1 2.3 1.8.3 1.5-.6.8-.5-.1-.5-1.8-1.5 1.5-1.5-.4-2 .3-3.5 1.9-2 .3-.3 1.5 3 0 .3 1.2.9-.7-.7-.5 1.3-.9.5.1.5 1.3 2 0 .4-1.5-.9-.7 1.5 0 1 .9 1-1.9.8 1.2-3.1 3 0 1 1.6 1-.4.5-3.4 1.9-4 1.3-.8.8.3 1.2 2.6.8-11.1 4.8-2 .1-2 1.1-1.5.3-.2.7.8 1.5-.6.4-4-.2-.7.8 2.2 2.2 1.5.4 1.5-.4 1.5.6 1.5 1.2.5 2.2-2 0-4.5-2.6-3.5-.6-3-2.9-5 .7-.9-2.3.4-.5 2-.1 1.4-3.4-1.9-1.5-1-.2-.7 1.7-.8.6-1 .2-2-1.1-2.5.5-3.3 2.8 2.8.5-.5 2.2 1-.1 1-.7 3.5 0 1.8 1.6-5.8 3.4-2.4-.4-.1-.5.1 3-.6.2-4-2.5-4-.7-6-2.3-9 .5-3.5-1.5-4-.6-2.5-1.7-3-1.3-2 .1-5 2.1-8.5 0-1.5-1.7-1.7-3.6.7-.7 1.6-.3.9-.9 1.8-.1 2.7-1.4-2.1-.6 1.6-2.3-6 1.2-1.6 1.1-1.2 2-.7.3-4-.8-.8-1.5-1.2-.4-5 .6-2-.4 0-17 2.5.2 5.5 2 5-.7 1.5 1.9 3.5.5 3-1.3 4-.9 3 .9 2-.2 2-1 2.5-2.8zM31.9 64.9l-.7 1 .4.3 1 0 .9-.8-.4-.6-1.2.1zM111.1 64.9l-3.5 1-2 2-2 0-1.2 1 1.2.5 2-1.2 1 .3 3.5-.4 1.1-2.7-.1-.5zM102.6 65.4l-.5 1.2 2.1-.2-.2-1-1.4 0zM112.6 65.9l.9 0-.9 0zM77 66.4l.5 0-.5 0zM58.9 66.9l.2.6.9-.6-.4-.3-.7.3zM28.5 67.4l.1.5.9-.5-1 0zM44.3 67.4l-.3.5.6.1 1.9-.6-.4-.4-1.8.4zM126 67.4l-1.4.5-2.5-.1-5 2.6-5.5 1.1-2 1.7-2 .4-1.3.8-1.4 3 .7.1 7-2.3 2.5-1.5 2.5.1 1.5-.5 5-2.6 1.5-2.2 1.8-1.1-.3-.4-1.1.4zM54.2 68.9l-.1.8 2-.8-.5-.4-1.4.4zM56 70.9l.8 0-.8 0zM106.6 71.4l-.4.5.9.3 1.1-.8-.6-.4-1 .4zM104.5 72.4l-1.1.5-.3 1.2 1.5-.1 1.6-1.6-1.7 0zM104.7 79.9l-.1 1 .5.4 1.3-.4-.3-1.2-1.4.2zM107 81.9l.7 0-.7 0zM86.5 82.9l.7 0-.1-.3-.6.3zM90 83.9l-.4.5.3.5.7 0-.6-1zM133.6 52.8l.4.1-.2 1.5-1.2.2.2-1.2.8-.6zM164.1 55.2l.5.2-.5.2 0-.4zM165.1 56.7l1 0 0 1-3 2.1-2 2.6-2.5 1.4-3 2.6-.9 0-.6-1.7-1.5-.2 1-1.2 1.5.7 2.5-1 3-2.1 4.5-4.2zM160.1 57.3l.6.1-.3 1-1.3 1.4-1-.1.5-1.7 1.5-.7zM166.1 60.7l0 2.9-.7 1.3.7.2 0 11-.5 1.3.5.3 0 2.2-3.4 3-1.2 2.5.6 1.9 4-2.7 0 5-1.5.7-1-.3-.8.9 1.3.8 0 1.6-1.5 0-1.1 1.1-1.4.4-.5-1.2-.5.1-1.9 1.2-2.6 2.8-3.2.7-1 2 0 1 3 0-2.2 2-1.1 1.7-.6-.2 0-.5.9-1-.2-1.5-1.5-.5.3-1.5-1.4-.2-1.3 2.7-1.2.7-.1.8-2.2 1 1.1 2-.3.6-1 0-3.5-2.6-.7.5.9 1-.2.3-1.5-.7-7.5-4.4-3-1.2-.7-1 1.3-2-.6-2.1 1 0 2 1.6.1.5-.9.5 1.3.9 0-.9.5-.4 2.2-.6-.4-1.5-2.1-1-.2-.5.5-.5 1 .3 1 1.5 2.6 1.7.6 1.5-1.1.5.9 1.6 3.5 2.1 1 0 .5-1.2 3.2-1-2.3-1.5-.6-1.5.2-.7 1.5.2 3 2.4 1 0 .5-.4-.7-3.5.2-.7 1.3-.8-.1-.5-1.7 1.2-.5-.1-.1-.6 1.6-3.5 2.2-2-1.7-1.5 0-.5 1 .3 1-.4 6-5.8.7-1.1-.2-.3-1.5.5-.2-.7 3.7-5 .1-1-2.6 1.7-6.1 5.8-.8 2.5-1.1 1.1-5.5 1.7-1 .9-2.5.3-1.5-1.6-2-.2-2.7-2.7-.2-1 .4-1.5.5-.6 1.5.3.5 1.9 3 3 1-.2 2-2 .5 1.8 3-1 1.2-2.7-2.1-1 1-2 2.5-1.5 3.4-4.2 4 .3 3-1 1-2.1-.1-1.5 1.6-.5 3-4.4 2.5-1.8zM160.3 68.9l.8.9.9-.9-.4-.4-1.3.4zM163.3 79.4l-2.5 2-2.6 3 .4.4 1-.2 2.7-2.2 2.2-3-.4-.4-.8.4zM156.1 82.4l-1 1.7 1.6-.7.3-1-.4-.4-.5.4zM153.6 84.4l-.5.5.5.4 1.3-.9-1.3 0zM151.3 88.9l-.1 1 .4.6 1-.6.5-1-.5-.4-1.3.4zM149.4 94.9l.7 0-.7 0zM144.6 62l0 .4 0-.4zM149.1 62.4l-.4 2.5-1.9 0 .3-1 2-1.5zM145.1 66.3l.5.1.4 2.5-1 2 .2 3-2.1 3.1-.5.3-.6-.4 2.2-2.5.3-1-1.4-1.1-2.5 1.6-2.5 2.8-1 .1-.5-1.9-1.5 0-2.3 2-.6 2-3.1 1.1-1-.3-1.9 1.2-.3 1-.9.5 3.4 4.5-1.2 1.5-1.1.1-1.5-.8-2.5-3.6-.5.1-.1.7-.9.2-2-.7-1-1 .4-2-.3-2 .6-.5 1.3-.3 1.5 2.3.5.1.6-2.1-1.6-.5 1-.6 3.5-.3 2.5.8 1.5-.7 1.7-1.7-.2-.7-1 .2-.4-.5.9-.3 2-2.2-1.8-1 1.8-1.8 3.5-1.6 1.5.3 1.3 1.1.4 1.5-.7.4-2-.5-.2.6 1.2 1.7 1 .2.6-.4.1-1.5 1.8-1 1-1.5 3.5-2.6zM156.1 69.6l0 1.1-.5.4-.2-.7.7-.8zM37.6 72.4l1 0-.5.5-.5-.5zM36.1 72.6l.9.3-.9.4-.4-.4.4-.3zM136.1 77.7l.3.2-.3.3 0-.5zM139.1 79.2l.5-.2.1.4-.6.7-.5-.2.5-.7zM127.1 82.5l1.3.9-1.3.1-.4-.6.4-.4zM31.1 86.4l3-.4 1.5 1 1.6.4 4.9 3.1 1 1.3 3.5 8.1-.5 1.3-1 .1-1.3-.4-2.2-2.1-2.5-.5-1.6-2.4 2.1-.5.5-1.2 2 .5.3-.3-.3-.6-7-4.7-.5 1.4-2.2-.1 3.6 4-2.3 1 .7 1 4.7 2.2 1.5 1.7 2.4.6.8 2-.8 1 .9.5.4 0 .3-1.2 2-.4 0 2.1-.8 2-1.3 1.5.3 2-1.2.4-2-1.8-2-.5-1.5-1.4-1.5-.4.5 1.7 1.5 1.1 1 1.8 2 .7 1 .9 0 1.1-1.5.2-1.5 1.3-2-.3-3.2-2.8-2.8-1.2-2 .2-1.5.8-.5 2.4-3.6 2.3-1.4.3-2.5-.5 0-3.2 1.5.6.7-.2 0-.5-2.2-2 0-4.8 2-.1 3 1.8 1.7-.4-.7-2-3.5-2.7-2.5-3.2 0-12.4 2.5.9 3 .2 2-1.1 1 .3 1.5 1.7 1.5.5-.6-1.2-1.8-1.5.4-1 1.5 0zM24.7 91.9l.9 1.5 1.5 1.2 1.7-1.7-.2-.5-2 .1-1.5-1-.4.4zM41.3 96.4l-.3.5.6.9 1.5.7-.6-1.6-1.2-.5zM21.1 97.4l.5 1.4 3.5 3.4 4 3 2.1.7.1-1-1.4-2 .7-1.1-2 .1-6-4.5-1.5 0zM31.8 100.4l-.7 1 1 .5 1.5 2 2 .4 1.5.9.8-.3-.8-1.5-1.5-.2-1.4-1.8-1.6-1.1-.8.1zM27.4 108.4l1.3.5-.6-.8-.7.3zM145.1 89.2l1 .2.2.5-.8 1-1.1.5-.3-1 1-1.2zM103.6 89.7l1.5.7 1.3 2-2.8-1.3-.5-.7.5-.7zM120.6 90.3l1.5.6 0 .8-1-.4-.5-1zM111.6 90.8l3 1.5 3-.5 2.9 1.1 1.6 2.1.5 1.9-2-.3-2-1.1-2.5.5-3-.8.3 1.7-1 0-.8-1 1.2-1-1.4-2.5.2-1.6zM156.6 97.4l.6 0-.3.5-1.8 1.6.2-1.1 1.3-1zM109.6 97.7l5 2.5 2.1 1.7.1 1-2.7-.9-4.6-3.6-.3-.5.4-.2zM114.6 97.8l.5-.3 3.5 2 4.2 2.9.8 1.1-2-.2-6-4.1-1-1.4zM159.6 100.3l2 .6-1 2.5.5.1 1-1.1.4.5-1.2 1.5-.3 1.5.6.5 1.5.3.5 1 1.2-.3.3-.5 0-.5-1.3-.5-.1-.5 1.1-1.5.6-2.5.7-1 0 6.4-.8.6-1.2 2.5 1.8 1 .2.5-.5.4-1.5.1-3-1.9-1.3.9 1.4 1.5-2.6.1-.9-.6.9-2-.5-1.1-1-.2-1.5.9-1-1.3-2 .3-.7-.6.2-1.9 2.6-.6.7-2 1.7-.5 1.4-2 1.1-.6zM120.1 104.7l.8.2.2.7-1 .1-.4-.8.4-.2zM108.6 105.9l0 .6 0-.6zM128.1 106.4l1.3 1.5-.3.8-1.3-1.8.3-.5zM133.1 106.3l1 .4.5.8-1.5-.1 0-1.1zM141.1 107.6l1.2.3 0 1-1.2-.2-.5-.8.5-.3zM124.6 108.4l.6 0-.6 0zM110.1 108.8l.7.6-.1 1-1.1-.8.5-.8zM128.1 109.3l1-.4 1.5 1.6 2 1.2 1.5 2.7-3.9 3.5.1 1.5-1.3 1 .1 1.5-1 .3-1-.6-1.5-2.2 2-.5-.5-1.5.7-1.5-1.6-1.5 1-2.5 0-2 .9-.6zM135.1 109.2l1.5-.3 1 .5 4.5 4.5-2.5-.2-3-1.6-2.1-1.7-.1-.5.7-.7zM155.6 110.4l1.4 1.5-1 0-.6-1 .2-.5zM118.1 114.4l1-.3.2 1.3-.7-.1-.5-.9zM109.6 114.6l1 .8 1.5-.1.6.6-1.1.6-1-1.1-1.2 0-.2-.5.4-.3zM109.6 117.4l1.1 0-1.1 1 0-1zM162.1 124.3l.6.1-.1.5-1.2 1 .5 1-.8 1-2 .2-1.3 1.3-2.2.2-2 1.2-1.5.2-.5-.3 1.5-1.8-.5-1.5 1.5-.3 1 .9 2-.3 1.7-1.8 2.3-.6 1-1zM146.6 130.4l2.8 1.5 0 1-.8.5-1.5-.1-1.5-1.9 1-1zM165.6 130.4l.5-.3 0 1.6-1.3-.3.8-1zM144.1 132.3l2.5 1.6-.5 1.1-1 .4-.8-.5-.2-1.2-1.1-.8 1.1-.6zM24.6 133.9l.9.5-.4.5-.9-.5.4-.5zM158.1 135.8l.6.1-.1.5-1.6.5-.1-.5 1.2-.6zM150.1 136.4l1 0 .5.8 3.7.2-.7.7-4.5 1.5-2.5-1.7 2.5-1.5zM21.1 136.8l1.1.1 1.8 2-1.4.2-1-.5-.6-.7.1-1.1zM36.1 136.9l1.5.1 1.8 2.9-.8.4-.7-.4-1.7-2-.1-1zM42.1 137.8l1.5.6.5 1.3-1.7-.3-.5-1 .2-.6zM48.6 138.6l.5.5-.9-.2.4-.3zM26.1 140.5l1 .9.5 2.4 1 .9 1.5.4 1 .8 4 .1.6-.1-.1-1.7 4 3.8 2.1.4-10.2 0-3.4-3.4-3.5-.8-.7-1.3 2.2-2.4zM31.6 140.7l1 .2 1.3 2-2.4-1 .1-1.2zM53.6 140.7l1.6.2 1 1.5 1.5 1 .3 1-1.4.6-3-1.1-.5-1.5.5-1.7zM148.1 141.3l1.6.1-1.6.6-.5-.1.5-.6zM42.6 145.3l.4.1-.4-.1zM165.1 145.4l.4.5-.8 1-1.4 0 .8-1.3 1-.2zM43.1 145.4l.5.5-.7 0 .2-.5zM43.6 146l0 .5 0-.5zM161.1 147.4l.8 0 0 .5-1 .5-3 0 .7-.9 2.5-.1zM152.6 147.9l.1.5-1.5 0 1.4-.5zM25.1 148.2l.8.2-1.1 0 .3-.2z"/>
<path fill="#ffd400" fill-rule="evenodd" d="M166.1 41.3l0 5.1-1.4 1.5 1.4 1-.3 1.5-3.2 2.6-1 0-1-.7-1.2.6-.3.6 1 .7.1.7-2.6 2-.5 0-.5-.9-1.5.2-2.6 2.2.4-1.5 1.2-.8 5.3-6.7-.3-.7-2.3 1.2.6-2 1.4-1 .8-2.6 1-.6 1-1.5 1.3.7 1 2 1.2.2-.1-2.2 1.1-1.6zM156.1 42.3l1 .1.3.5-1.5 0-.3-.5.5-.1zM149.1 43.9l2-.3.3.8-.3.4-2.5 2-1.5.4-.4-.3.4-1.2 2-1.8zM141.6 48.9l1-.2.4 1.2-1.5 1-1.7 2.5-.7.3-.5-.8.2-.5 1.1-.5 1.7-3zM149.6 51.8l1 0 .5.6-.5.8-3.6 2.2-1.4.2-.5-1.2.4-.5 2.1.2 2-2.3zM55.1 53.3l1.1.6-.5 1.5 2.7 1 1.2 1.5-.5 1.6-2.1.4.1 1 .5.3 2-.4 1.5-1 2 0 2.9.6-.1 1.5.7.6 1.5 0 2-1.3 2.5-.6 4.1-2.7-.3-1 .8-1 4.4-1.4 6-.3.4 1.2-.9 1.3-1.8.7.3.5 2-.7 3 .1 1.8 1.1-2.3 2-.7 1.5-3.3.5-.7.5.3 1-.4 2 1.3 2.2 1 .4 0 .9-2.1 2 0 1.5-.4.7-1-.1-.5-1.4-1-.1-1.5.9-1.4 3.5.4.5 2-1.1 3-1.1 2 0 1.5-1.1 1-.2 1.5.5-.3 3-4.2 2.8-2 .7-.6 0 .2-1.5-.6-.6-3 .7-2.6 2.9 2.1.4 3.4-1.4.1.5 1.5.5.9 2 2.6-.3.1 1.3 1.5 1-.1 1.5-1-.1-3-2.1-4.3-.8-1.2-1.6-1.5.6-1.2-.5-.3-.7-4-.3-5.5.9-4.5-1.8-3.5-.1-2.5-1.7-3.5-1.5-1.5 0-5.5 2.3-7-.1-1.4-.5-2.9-4 12.4-5.5-1.6 0-2 .9-1.5-.2-.5-.7 1-1.1 3-.8 1.2-1.1-.2-1-2 .3-.5-.3.4-.5 1.6-1.2 2.5.3 3.3-2.6-.5-.5-.9 0-3.9 2.2-2.5.1-1.9 1.7.8 1-.9 1.2-3 1.2-2.5-.1-1 .4-4.9 3.3-1.6 0-.8-.5.1-1 1-1-.8-1-1.5 1.2-1.7-.2-1.3-1.1-1.5.6-.8 1-2.7-.1 0-10.4 1 .1.8-.6-1.5-1 .2-1-.5-.5 0-2.8 2.5.3 3.7 1.5 1.7 1.5.4 1.5 2.2.3 5-1.4 2.5.3 2.5-1.3 4.5-1 2.5 1 5 .6 1.1-1 .4-2.1 1-1zM83 58.4l.9 0-.9 0zM22.4 61.4l-.4.5 1.1 0 .1-.5-.8 0zM81.1 61.4l-.4.5.4.1 1.1-.6-1.1 0zM24.6 63.4l-2.7 1.5-.8 1.2 1 0 3.5-1.7.4-1-1.4 0zM60.3 63.9l-3.2 3.6-3.5.3-.2 1.1-.8.9-6.5 3.1 1 .5 2-.4.5.9 1 .2 3.6-2.2-.6-.5.5-.2 2 .5 5.5-1.6 1 .3-.5 1.1 1.5-.1.6-1-.5-2-3.3 0 .9-4-.2-.5-.8 0zM31.3 64.4l-1.7.8-2 2.2-.1 1 2.1.5 1-1.2 3.7-1.8.5-.5-.5-1-2.2-.3-.8.3zM77.7 65.4l-2.2 1 .3.5 1.8.3 2.5-1.1.4-.7-.4-.5-2.4.5zM71.3 65.9l-1.2 2.5.5.6 1-.1 1.3-1.5-.8-2-.8.5zM81.3 67.4l-1.7 1.4-2 .4-2.5 1.7-1.3 1.5.3 1 .5.3 1.3-1.8 1.7-.5 2-1.5 2 .4.8-.4.7-2.6-.5-.3-1.3.4zM32.4 68.4l-.2 1 .8 0 .1-1-.7 0zM65.1 74.9l-5.1 3 3.6-.2 1.5-1.9 2-.3.9-.6-1.4-.5-1.5.5zM74.6 74.9l0 .8.4.2.9-.5-.3-.7-.5-.2-.5.4zM70.5 77.9l-2.9.2-1.3 1.3 0 .5 1.3.3 3-1.1.8-.7-.2-.5-.7 0zM135.1 55.3l.8.1-.3 1.1-3 1-1.4-.1 1.4-1.1 1.5-.1 1-.9zM114.6 55.8l.6.1-.1.5-1 .7-1-.2 1.5-1.1zM31.6 56.4l.6 0-.6 0zM124.1 56.4l.1 2.5.8 1.5-.5 2.5 1.6.3 1-.9.8.1-.8 1.6 3.5-1.1 1.5 0 .7.5-.7 1.6 3.1.4-3.1 2.1-4.5 1.5-1.1 1.4 0 .5 1.2 1-.7 1-8.4 3.5-2-.2-1.5 1.1-2 .2-.6.9-.1 1.5-1.3 0-1-2.1-1 .5-1 1.8-.5.1-1-1-2.2-.3.2-.5 2.5-1.2 5.5-1.3 3-1.9 2 .3 4.5-2.1 1 1 1-.3 1.5-2 0-1.6 2.5-1.9.1-.5-.6-.5-3 1.1-2.5-.3-2.2 1.7-5.7 2-2 0-.5-.5.7-1 .2-2 2.5-1.5-.4-1.5.4-.4 1 0 3 2 1.5-.1.5-.5 1.1-1.5-2.8-4 .9-1 2.8-1-.3-1 1.3-.5zM103.6 56.8l1.3.1.2 1-3.5 2.9-3 .8-1.5.8-1.5-.5-1 .4 0-.6 1.5-.6 1-1.2 6.5-3.1zM142.6 56.8l2 .4-.1 2.2-.9.6-2 0-.8 1.4-1.7 1-.4-.5.3-1 2-2 .5-1.5 1.1-.6zM111.1 58.8l2.5-.3.5.4-.2.5-6.1 3-.8 1 1.1.5 2-.2.4.2-.5.5-3.9 1.6-.5-.1-1-1.8-2 .7-1.5 1.3-2.1-.7 0-.5 1.6-.9 3-.3 1.5-1.5 2-.9 2-2.4 1 .4 1-.5zM152.1 58.7l0 .7-1 .5 1-1.2zM158.6 58.8l.5-.4 0 .6-.5-.2zM161.6 60.3l.5-.3.2.4-1.7 2-1.5.8-.5-.3 3-2.6zM115.6 61.3l1.1.6-.1 1-1.4-.5-.2-.5.6-.6zM166.1 61.1l0 2.1-1.3 2.2.3.4 1-.3 0 5.3-.5.6.5.6 0 1.6-3 1.3-2.1 3 1.1.1 2.5-2.5.9.4-.3 1.5-7.6 6.5-.3-.5.5-2-1.3-.5 1.1-2-1.7-.5.1-.5 3.4-4.5.8-2.5 1.4-.5.8-1 .2-1.1-1.6-.9 1.1-2.3 2-2.6 2-1.4zM96.1 63.8l.9.6.5 1-1.4.9-1.1-.9 1.1-1.6zM147.6 63.9l.5-.4.4.4-.9.6 0-.6zM157.6 63.9l.1.5-.6.6-1.7.4.1-.5 2.1-1zM91.1 66.7l.5-.3.7.5-.7.4-.8-.4.3-.2zM144.6 67.1l.5-.2.2 2-1.1 1.5-.1 1.1-1 .1-2 1.4-1.5-.1-.1-1 2.5-3 2.6-1.8zM101.1 67.7l.8.2-.8.8-.5-.3.5-.7zM136.1 68.4l1.9 1 .1 1.3-2-.5-1.5.7-2.7 0 .6-1 3.6-1.5zM57.6 68.7l1.4.2-1.4 1.1-.7-.6.7-.7zM107.1 68.9l2.4 0 1 1.5 1 .5-1.9 2-1.4 0 .8-2-1.9-.5-1 .2-4.5 3.3-2.5-.1-1.5 2.2-2.5-1.1-2 .5-.7-1-.1-.5.8-.3 2 .7 6.5-4.6 3 .1 2.5-.9zM134.6 71.5l1 .2 1 1.8-2 .6-1.3 1.8-1.2.1-.9-1.6.2-.5 3.2-2.4zM156.6 71.9l1.3 0-.1 1-8.2 7.5-1 2.1-1.5.5-1-.5 1.4-3.1-.4-.5-2 .4-.4-.4.9-1.5 2.7-1.5.8-1.7 2.5-1.9 2-.2 1 .8 2-1zM138.1 74.1l1 .3 0 .5-.5 1-1 .4-.3-.9.8-1.3zM104.1 75.2l.5-.2.1.9-1.1 1-.1-1 .6-.7zM130.6 77.2l1 .3 0 .9-1.9.5-.1-.5 1-1.2zM124.6 78.3l2 .4.5.7-.3.5-1.7 1.3-2 .3-.4-.6.2-1 1.7-1.6zM166.1 78.3l0 1.1-2.5 2.4 0-.7 2.5-2.8zM101.6 79.4l1.5-.4.5.4-.1 1.5-2.4 1-1-.1-.3-1.4 1.8-1zM133.6 79.9l1.1 0 .7 2 2.2 2.5-.5.4-1.5-.2-2.3-2.2.3-2.5zM88.1 80.3l2-.3.5.4-2 1.6-1.3-.6-.1-.5.9-.6zM119.1 80.3l1.6 1.6-.6 2.6-1.5-.4-.7-.7.2-.7 1.3-.8-.5-1 .2-.6zM94.6 81.6l2.5-.1.5.5 0 .9-4.3 2.5-1.6 0-.6-2.1 1-.5.4 1.1 1.6-.2.9-.8-.8-1 .4-.3zM155.1 81.9l.6 0-.6 1.2-1 .5-.4-.2 1.4-1.5zM108.6 82.3l1.3.6.9 1-.2.3-2 .3-1.5-.6-.5-1 2-.6zM123.1 82.9l1.5.3 3 2.7.5 1-.5.8-1 .5-1.8-.8-2.1-4 .4-.5zM161.6 83.4l-.8 2 .8 2.5 4.5-2.9 0 1.6-1.7 2.3-4.3 3.8-3 1.7-3.1 3-2.7.5-1.2 1.4-1.8-.4-.9-2.5.1-1 .6-.3 1 .7 1.1-.4.4-1-1.1-1 4-4.5-.4-.8-1.5-.1-.9-.6-.5-.5.3-.5 1.6-1.3 1.5.7 3-1.5 2 1 1.5-.5 1.5-1.4zM111.1 84.3l4.1.1 1.7 1.5.3 1.5-1.6.1-1.4-.6-3.1-2.6zM140.6 84.4l.5 1.5-1 .6-1-.2-.4-.9 1.9-1zM143.6 84.2l.5-.3.7.5-1.2.7-.5-.2.5-.7zM33.6 86.8l.5.3-.5.1 0-.4zM31.1 87.2l1.5.4 1.5 2.3-2-.5-1.4-1.5.4-.7zM35.6 87.8l2 .1 4 2.8 1.4 1.7.1 1.1-2.5-1-1.5-1.5-2.8-1.6-.9-1 .2-.6zM20.6 88.3l.5 1.1-.5.4-.5-.1 0-1.5.5.1zM23.6 89.4l1-.2 2 .7 1.5-1 2.5 2 2 .7 2 2.3.5 0-3.5-.2-1.1-.8-.4-1.9-2.5.4-4-2zM150.1 89.1l.5.3-.3 1.5-1.7 1.6-1 .1.5-2.1 2-1.4zM144.6 89.9l.5-.4.7.4-1.2 1.1 0-1.1zM103.6 90.3l.5-.2.8.8-.8.2-.5-.8zM21.6 91.3l1.5 0 3.5 3.8 2 .1.5-1.2.5.1 1 1.1 2 .4 2 1.6 2.8 1.2 2.7 2.4 2 .4.6 1.2-.9 1 .1 1 3.7 1.2 0 .8-2 2-.5 0-4-3.1-1.5-2.7-2-.4-.6-1.3-3.4-2.4-1-1.2-1.6 1.1.6 2-1 .5-2-.9-3.5-2.8-2-.5-.6.7.9 2 2.1 1.5 1.6 1.9 4 2.7 2 1.2 1-.3-.5-3.2 3.6 2.7.9 2-.6 1 .2.5 2.4.9 1.2 2.1-.6 1.5-2.1-.4-6-3.4-1.5-2.1-2-1.1-1.5-2-3-2.2-1.6-2.8-.9-.4 0-7.2.5.1 1-1.1zM21.5 93.4l.8 1.5 1.4 0-1.1-1.6-1-.2-.1.3zM112.1 92.2l3 .5 1.5-.7 2 .4 2.5 1.8.9 2.2-1.1 0-2.3-1.3-2.5.6-3-1-1.1-1.8.1-.7zM161.1 93.4l.2.5-.7.2.5-.7zM131.1 93.7l.8.2.2.9-1-.4 0-.7zM43.6 95.3l1.5 1.6 0 1.2-1-.2-1.1-1.5.6-1.1zM127.6 95.7l1 .2.7 1-1.2 0-.5-1.2zM39.1 96.4l.8 0 .5 1-.8.2-.5-1.2zM134.1 96.1l1 .5.5 1-.5.2-1-.5-.4-.9.4-.3zM142.1 96.9l2.6 1.5.4 1-1 0-1.9-1-.5-1 .4-.5zM131.6 97.7l1.5-.1 3.1 3.3 4.4 2.3 2 2 .7 1.7-.7.1-3.5-2.3-1 0-.5 1-.5-.1-7-4.3-2.6-.9-.3-1 .9-1.2 2.5 1.1.5-.1.5-1.5zM136 103.4l.8.5-.2-.5-.6 0zM110.6 98.3l0 .3-.4-.2.4-.1zM115.6 98.2l1 .7-.9 0-.4-.5.3-.2zM117.1 99.1l5.4 3.3.6 1-1-.1-3.8-2.4-1.7-1.5.5-.3zM112.6 99.6l1.9.8 2.1 2-.5.2-1.9-.7-1.6-1.5-.3-.5.3-.3zM159.6 100.7l1.1.2.3.5-.4 1-2 2-2 .7 2.1-3.7.9-.7zM144.1 101.4l1.5-.4.3.9-.3.5-1.4 0 .3 1-.4.6-1 .1-2.1-1.7.6-.9 2 .3.5-.4zM166.1 101l0 5.3-1.4-1.4 1.4-3.9zM159.6 104.7l.9.2-.3 1.5 2.1 1 .2.5-.4.6-2.5 0-1-.8-2.5.6-1.5-.6-2 .4-.5-.7.5-1 3.5-1.1 1.5.9 2-1.5zM39.1 106.4l1 .7.1.8-.9-.5-.2-1zM21.6 106.9l1.5.5 1.5 1.8 2-.1 1.7 1.3-.2 1-1 .5 0 2.4-1 .3-2.5-.8-3.5-2.9 0-3.7 1.5-.3zM24.5 109.9l.6 1 1.6.5-2.2-1.5zM141.6 108.1l.4.3-.4.2-.3-.2.3-.3zM163.1 108.8l0 1.5-.6-.4.6-1.1zM43.1 109.2l.5-.2.4.9-.6 0-.3-.7zM135.6 109.3l2 .4 3.4 3.7-1.4 0-4.4-2.5-.5-1 .9-.6zM127.6 109.9l1.5-.3 3 2 1.4 2.3-1.9 2.5-1.5 1.1 0 1.4-.5.7-1.7-1.2-.3-.5.7-1-.1-1-1.5-1.5.8-2.5.1-2zM129 113.4l.6.7.7-.7-.7-.4-.6.4zM20.3 113.9l2.8 1.3.7 1.2-1.2.6-2.5-.6.2-2.5zM126.1 119.7l1.5.1 1.1 1.1-.1.7-1 .1-1.5-2zM159.6 125.9l1 .2.6 1.3-3.2.5.7-1.5.9-.5zM157.1 128.3l-.4.1.4-.1zM166.1 130.3l0 1.2-.8-.1 0-.5.8-.6zM148.1 132l.5-.1.5.6-1 .4 0-.9zM145.1 134.3l.6.1-.6.3 0-.4zM149.6 136.8l.7.1 1.1 1.5-1.3.6-1.8-1.1.1-.5 1.2-.6zM37.1 137.4l1.5 1.6 0 .7-1.9-1.8.4-.5zM153.1 137.4l.7 0 .2.5-1.9.4-.6-.4 1.6-.5zM22.1 137.6l1 .8-1 0-.4-.5.4-.3zM42.6 138.1l1.1.8-.1.5-1.3-.5-.2-.5.5-.3zM54.1 140.8l1 .4 2.5 2.9-1 .2-2.5-.6-.6-1.3.6-1.6zM32.1 141.2l.3.7-.6-.5.3-.2zM25.6 141.9l1-.4.5 2.9-1.8 0-1-1-.1-.5 1.4-1zM29.6 145.5l.5.8-.9-.4.4-.4zM33.1 145.9l2 .5 1.5 1.3.5-1.8 2.4 2.5-7.8 0-.5-1.5 1.9-1zM164.6 145.8l.2.6-.7.5-.3-.5.8-.6zM158.6 147.8l2.4.1-.6.5-2.3 0 .5-.6z"/>
<path fill="#f66414" fill-rule="evenodd" d="M166.1 41.8l0 3.6-.7-2.5.7-1.1zM162.1 43.4l0 .8-.3-.3.3-.5zM149.6 44.3l.8.1-1.3 1.5-1.6.5 2.1-2.1zM160.1 44.7l2-.1 2.5 1.8-1 1.3-2-.5-.7.7 1.1 1 .1 1.6 2.5-1.6 1 .2.3.8-3.3 2.6-.8-.1-.7-1-1 .5-1.3 1-1.8 2.5-1.9.5-.1-1 5-5.5.3-1-.9-1 .7-2.7zM83.6 55.2l1.5-.1 1 .3-.2.5-1.3 1-4.5 1.8-2.3 1.7-.2.5.6 1-1.3 1 0 .5 6.2-1.4 1.4-1.1-.8-1 .8-1 3.1-1 1 0 1.2 1-.7 1.9-3.5 1-4 2.4-7.5 1.8 1-3.1-1.6-1.5.8-1.5 1.8-.6 2-1.5 2 0 2-1.9 1.5-.7zM23.6 56.4l1-.4.9.4-.4.9-3 .4-.2-.3 1.7-1zM45.1 56.4l3.4 1.5 0 .5-1.4 1.2-2 .6-.4.7.4.1 7-2.6 3-1.8 2.5.1.7 1.7-1.7.8-1.5 1.7-3.5-.2-4.5 2.4-2 0-2.9 2.3.8 1.5-2.9 1.4-1-.2-1-.9-1 .1-2 1.3-.7-.7.2-.9 1.5-.4 1.5-1 1.1-1.7-.1-.6-3 .7-2.8-.6-.3-.5.6-1.6-3.5.8-2.2-.2.1-1 1.1-.8 4.5-.5 2.5-1.2 2.5.3 3-1.7 4-.6zM103.1 57.3l1 0 .2.6-2.7 2.6-4.5.5.9-1.1 5.1-2.6zM142.1 57.8l1-.3.9.4-.4 1.4-1 .1-.5-.4 0-1.2zM25.1 58.4l1.5-.2 0 .7-2.2 1.5-1.4 0-.1-.5.7-1 1.5-.5zM111.6 59.4l1.3 0-1.3.7-.7-.2.7-.5zM121.1 59.3l1.5 0 1.6 1.1-.1 1-1 1.3-1.9-1.3-.6-1.5.5-.6zM108.6 60.2l1-.2.8.4-2.3 1.5-.5-.5 1-1.2zM140.1 60.1l.5 0 0 .7-1 .7.5-1.4zM63.1 60.8l1.3.1-1.4 1.5.6 1 3.7 0 1 1-1.2 1.3-4.5 2-.8-.8.5-3-2.3-1.5 1.1-.9 2-.7zM20.5 61.4l-.4.6 0-.7.4.1zM166.1 61.6l0 1.2-4 4.2.5-1.9.9-.7.8-1.5 1.8-1.3zM70.1 62.2l1.5-.2.6.4-2.6 1.4-.4-.4.9-1.2zM105.6 62.3l1-.3.3.4-.8 1.1-1-.5.5-.7zM23.1 62.9l.5 0-.2.5-3.3 2.6 0-2.2 3-.9zM59.1 62.8l0 1.7-3 2.4-3.3.5-.1 1.5-.6.6-2-.6-4 .5-1.5.8-1.2-.3.7-.8 2-.4 3.5-2.5 3-.2 4-1.4 2.5-1.8zM130.6 63.2l1.3.2-.7 2 2 .5 0 .5-1.6 1-3 .6.3-1.6-.8-.5-3.5 1.2-2.7-.7.2-1 1.6-1.5.9-.1 2.5.9 3.5-1.5zM26.6 64.3l1.5-.2.5.8-2 2.8-4.5.9-2 1.1 0-2.8 1.5.2 5-2.8zM84.1 64.1l.5.3-.5.3 0-.6zM100.6 64.4l1.5 0-1.5 1.1-.6-.6.6-.5zM69.1 65l1 .3.2.6-.7 1.7-1 .8-3 1-.4-.5.4-.4 1.5-.2.9-.9 1.1-2.4zM81.6 65l.5-.1.3.5-.8.7 0-1.1zM116.6 65.4l.5 0 .5 1-2 1.1-.1-.6 1.1-1.5zM165.6 66.1l.5-.2 0 3.7-1.5 1.1-.3 2.7-2.2 2-1.6 2.5.1 1 1-.2 3-2.4.2 1.1-6.7 5.7 0-.8 2-1.9.2-1-1.7-.3-.3-1.2-1.7.1-.1-.6 9.1-11.3zM118.1 66.8l3 0-1 1.6-5.5 2.1-1.5-.1 2.5-2.4 2.5-1.2zM84.6 67l1 .9-.5 1-1.1-.5.6-1.4zM74.6 67.7l1.5-.2 1.1.9-.7 1-2.9 2.1-3 1.4-5.5 1.3-5.5 3-1.5 1.4-5-1.3-5.5 2.3-3.4-.2.4-.9 3.5-1.5 2.3-2.1 4.2-2.5 5.2-1-.8 1 .2 1-.6 1-2.4 1-.1.5 1.6 0 6.5-3.5 1.4-1.5 2 0 1.5-1.2 2.5-.2 3-1.8zM143.6 68.4l1 0-.5 1-1.7 1-.8 1.6-1 .3-.2-.4 1.7-2.6 1.5-.9zM85.1 69.2l1.3.2-.2.5-2.1.7 1-1.4zM136.1 69.3l1.5.1.2 1-1.7-1.1zM101.6 70.3l2.5.1.6.5-.3.5-2.8 1.7-2.5 0-1.6 1.3-.6 0 1.1-1.5 3.6-2.6zM79.6 70.8l2 .6-1.9 2.5-.6 2-1.7 1.5 1.7 1-.2.5-3.8 2.4-1.5-.5-2 .9-1.6-.3-.5-.5.4-.5 4.2-1.8 2.5-2.5.8-1.2-1.3-1.5.1-.5 3.4-2.1zM30.6 71.4l.5 0-.5 0zM109.6 71.5l.5-.1.1.5-1.1.6.5-1zM44.6 72.2l.4.2-.4.2 0-.4zM126.1 72.2l.5.2-.5.4-.4-.4.4-.2zM135.1 72.1l.4.3-.2.5-.5-.5.3-.3zM152.6 72.3l2 1.1 2-1.1.7.1-.1.5-8 7.5-.8 1.5-1.3.5-.5-.5 1.4-3-.4-.5-2 .2 0-.7 1-.9 2-.6.8-2 3.2-2.1zM42.1 73.3l.6.1-.6.2 0-.3zM120.6 73.3l1-.4.9 1-1.4.9-1.5-.4 1-1.1zM133.1 73.3l.4.1-.1.5-.8.4-.2-.4.7-.6zM40.6 73.8l1 .1-.1 1 .6.4 1 0 1.3-.9 1.2-.2 1 .1.2.6-1.2 1.9-2-1-1.7 1.1-3.3.1-2-1.1 4-2.1zM72.1 74.2l1.2.2 0 1.5-.7.9-.7-.4.2-2.2zM88.6 74.4l1-.4.4.4 0 2.5-.9.7-.6-.2.1-3zM115.6 74.9l.2.5-.5 0 .3-.5zM118.1 74.8l1-.2.2.3-1.2.6 0-.7zM84.6 75.7l1.5.2 0 3.1-.5.1-2-1.7-2 .5-.4-.5 3.4-1.7zM114.6 75.7l.5-.2.1.4-.6.8-.6-.3.6-.7zM108.1 77.3l.6.1-1.1 1.3-1.1-.3.1-.5 1.5-.6zM61.1 78.8l2 .1.8.5-1.9 1-1.9 0-.8-.5.1-.5 1.7-.6zM125.1 78.8l1 .1.1 1-2.6 1 0-.8 1.5-1.3zM102.1 79.7l.5.1.1.6-1.4 1-.7 0 0-.5 1.5-1.2zM134.1 80.3l.5.2.2 1.4 1.5 2-.2.4-2.3-1.9.3-2.1zM109.1 82.9l.6.5-.6.7-1.5-.2-.4-.5 1.9-.5zM119.1 82.8l.8.6-.3.6-1.2-.6.7-.6zM124.1 83.6l1.2.8.3 1-1 .3-.5-.3-.4-1.5.4-.3zM112.6 84.9l2.5-.1 1.3 1.1.5 1-.8.5-1.5-.5-2-1.5 0-.5zM155.6 85.1l.5-.2 1.5 1.1 2.5-.5.8 1.9-1.8 2 .5.2 1.5-.6 3.8-3.1.7-.2-.1.7-1.4 2.1-3.5 3.4-2 1.3-1.5.2-3.5 3.8-2 .1-2 1.5-1-.1-.5-1.8 2.5-1.5.4-1-.7-1 .8-1.3 1-.5 0 1.4 1.5-1.1 0-.8-1.3.3 2.3-3.5-2.5-.4-.9-1.1.4-.5 2.5.3 1.5-1.1zM157 87.4l-.4 1 .5.4 1.6.1-.3-1.5-1.4 0zM126.1 85.5l.5 0 .9.9-.2 1-.7.4-.8-.4-.1-1.5.4-.4zM89.1 86.2l.5 0 0 .5-.8-.3.3-.2zM32.1 88.2l.7.7-.7-.1-.4-.4.4-.2zM36.1 88.3l1.5 0 1.6 1.6-.1.4-2.2-.9-.8-1.1zM39.6 90.3l1.5.6.9 1-1.4 0-1.4-1.5.4-.1zM149.6 90.4l-1 1.5-.5 0 .3-1 1.2-.5zM116.6 92.3l1.9.6 2.6 2.3 0 .6-2.5-1.3-2 .9-3.5-1.1-.5-1.7 1-.1 1.5.7 1.5-.9zM20.3 93.4l1.8 2.3 2 0 1-.8.6.5.2 1 1.2 1 .5-1 .5 0 .5.5-.6 1 .2 2-3.3-1.5-2.3-2.3-2.3-.2 0-2.5zM32.6 96.8l4.5 2 3 2.9 1.5.1 0 .5-1 .8-1-.1-5-2.9-2.3-2.2-.2-.5.5-.6zM20.1 97.9l0 .7 0-.7zM132.1 97.9l1.5.4 2.5 2.9 4.3 2.2 1.9 2 .3 1-5-2.4-1.5-1.4-1.5 1.3-3.5-1.8-1-1.1-2.2-.6-.2-.5.4-1 1-.1 2 .8 1-1.7zM142.6 97.6l.5.5-.7-.2.2-.3zM117.6 99.8l1 .1 4 3.1-2.4-1.1-2.6-2.1zM113.1 100.3l1 .1 1.5 1.5-1.1 0-1.4-1.6zM22.1 100.7l1.4.7.1 1.1-1.2-.6-.3-1.2zM159.6 101.2l.9.2-.1.5-1.3 1.4-.5-.4 1-1.7zM141.6 101.8l1.5.2 1 1.4-.5.4-1-.2-1.3-1.2.3-.6zM166.1 101.8l0 3.7-.9-.6.9-3.1zM26.6 104.4l4 2.6 2 .8 4.1 3.6.6 1-1.2-.1-4.6-2.4-1.9-2.2-2.4-1.3-.6-2zM40.1 104.7l4 1.7-.5 1-2.9-1.5-.6-1.2zM155.1 106.3l.5.7-2.5.7-.6-.3.6-.7 2-.4zM20.2 107.9l.8 1 1.7.5.4.5-.5.8-2.5-.3.1-2.5zM128.6 109.8l3.5 2.1.8 1.5-.2 1-1.6 2-2 1 .3 1-.3.5-.7-1 .7-.5-.9-2.5-1.1-1 .7-1.5-.1-2 .9-.6zM128.8 112.9l-.4.5.2.9 1.1.1 1-.5-.6-1.1-1.3.1zM135.6 109.6l1.8.3 1.9 2.5-2.2-.4-1.6-1.1-.4-.5.5-.8zM25.1 112.3l1 .2.3.9-.8.1-1-.5.5-.7zM20.6 114.4l2.4 1.5.1.5-1 .2-2-.6 0-1.8.5.2zM127.1 120l1 .9-.9 0-.5-.5.4-.4zM159.6 126.3l.8.6-1.3.3 0-.7.5-.2zM166.1 130.7l0 .5-.4-.3.4-.2zM149.1 137.3l.7.1-.2.7-.6-.2.1-.6zM54.1 141.3l1 .5.4 1.1-1.3 0-.1-1.6zM25.6 142.2l1 .3 0 1.7-1 .1-1.1-.9 0-.5 1.1-.7zM32.6 146.3l2.1.1 1.4 2-4.2 0-.2-1 .9-1.1zM159.1 147.9l.9.5-1.7 0 .8-.5zM37.1 148.2l1-.3.8.5-1.8-.2z"/>
<path fill="#ee1010" fill-rule="evenodd" d="M166.1 42.3l0 1.5 0-1.5zM160.6 45.8l.9.1-.9 1-.5-.5.5-.6zM162.6 45.9l.8.5-1.1 0 .3-.5zM161.1 49.4l-.4 1.5-2.1 1.4-1.7 2.6-.8.5-1 0 2.5-2.9 3.5-3.1zM164.6 49.3l.9.6-.4.5-2.5 1.2.2-.7 1.8-1.6zM45.1 57.3l1.1.6-.1.8-1.8-.3.8-1.1zM54.6 57.4l1.5-.3.7.3-2.2 2.4-3.5.3-2.5 1.9-2 .6-1.2-.2-.1-.5.7-.5 5.1-1.8 3.5-2.2zM40.6 57.8l1.5-.1 1.9 1.2-.3 1.5-1 1 0 .5 1.3 1-.8 1-2.7.5.8-2-.7-.5-2.5.1-2 1.3-1.9-.4.3-2-.4-1 .6-.5.9-.3 2 .9 3-2.2zM85.6 58.9l1.5 0-.1 1.5-.9.3-1-.8-.2-.5.7-.5zM100.1 59.3l1.5-.3.1.9-1.1.6-1.5-.1-.1-.5 1.1-.6zM109.1 60.7l0 .3-.5-.1.5-.2zM122.6 60.7l.5.2-.5.3 0-.5zM80.1 63.3l1.3.1-.9.5-1.9 0 1.5-.6zM130.1 63.8l1.2.1-.7.9-1 .6-1-.2-.2-.3 1.7-1.1zM20.4 64.4l-.3.9 0-.9.3 0zM39.6 64.6l.7.3-.7.8-.5-.1.5-1zM123.6 64.8l1-.2 1.5.8 0 .5-1.5.8-1-.2-.6-.6.6-1.1zM26.6 65.3l.5-.3.3.4-1.3 1-.2-.5.7-.6zM54.1 65.9l1.3 0-1.3.5 0-.5zM130.6 66.3l1.5 0-.1.6-2.9.5 1.5-1.1zM166.1 66.3l0 2.1-.5-.1-.5-.9 1-1.1zM49.6 66.8l2.5 0-.5 1.1-4 .9-.3-.4 2.3-1.6zM118.6 67.3l1.5.1-.5.8-2.5 1.2-1.3 0 .1-.5 2.7-1.6zM20.5 67.9l-.4.8 0-1 .4.2zM75.1 68.3l1 .1 0 .5-3.5 2.5-4.5 1.7-2.2-.2 3.7-2.5 2-.3 3.5-1.8zM102.1 70.9l.9.5-1.3 1-1.1.4-.8-.4 2.3-1.5zM163.1 70.7l.7 1.7-.2 1-3.5 3.4-1-.1-2 .9 0-.9 2.8-2.8.9-1.5 2.3-1.7zM79.1 71.9l1-.3.5.3-2 1.8-.7-.8 1.2-1zM56.1 72.4l1.7 0-.2 1-2 .9-1 2.3-8 2.3 3.5-2.1 2.5-3.1 3.5-1.3zM152.1 72.9l1-.1 1.8 1.6-1.9 2.5-5.4 4.7.9-2.7-1.1-1.5 2.2-.5.3-2.5 2.2-1.5zM64.1 73.3l1.1.1-1.6 1.3-2.7.7 3.2-2.1zM57.1 76.8l1.6.1-.8 1-.8.2-.9-.7.9-.6zM75.6 78.8l1.3.1-1.3.6-.5-.1.5-.6zM113.6 85.3l2 .2.8 1.4-1.5 0-1.3-1 0-.6zM164.1 87.3l-.4 1.1-1.6 1.1-2 2.5-1.5.7-1-.6-.5.3-3.8 4.5-2.2.2-1.5 1.3-1-.2 0-1.3 2-1.2 1-2 1.5-.8 1.3-1.5.4-1-.8-.5.6-.9.5-.2 2.3.6 1.2 1.2.5 0 5-3.3zM113.1 92.9l1.7 1-1.2.4-.7-.9.2-.5zM117.1 92.7l.6.2-.5 2-1.1 0-.8-.5 0-.5 1.8-1.2zM24.6 96.5l2.6 2.4-2.3-1-.7-1 .4-.4zM34.1 98.3l1.8 1.1-1.3.1-.6-.6.1-.6zM132.1 98.2l1 0 1.4 1.2 1.6 2.4 3.9 1.6 1.1 1.6-3-1-1.5-1.8-1-.2-1.5 1.3-3-1.4-1-1.5-1.5 0-.4-.5.4-.7.8.2.7 1 1.5-.7.5-1.5zM142.1 102l1.1.4.4 1-1.5-.5-.4-.5.4-.4zM166.1 103l0 1.7-.4-.3.4-1.4zM27.6 105.5l1.3.9-1 0-.3-.9zM31.6 108.3l2.8 1.6.7 1-2.1-.5-1.5-1.5.1-.6zM135.6 109.9l1.5.2 1 1.4-.5.3-1-.4-1.2-1 .2-.5zM128.1 110.3l1-.1 3 2 .3.7-1.3 3-1 .7-1-.2-.3-1 .3-.5 1.9-.5.2-.5-1.1-1.5-1.5 0-.5-2.1zM20.6 114.9l.7.5-.2.3-.8-.3-.2-.5.5 0zM25.1 142.7l1-.1.3 1.3-1.3-.2 0-1zM33.1 146.4l1.9.5.4 1.5-3.2 0-.2-1 1.1-1zM159.1 148.2l.6.2-1.1 0 .5-.2z"/>
<path fill="none" stroke="#3a3a3a" stroke-width="0.42" stroke-linecap="round" d="M25.8 20.1l-1.5.5-1.6.5-1.5.5-.7.3M22 22.3l-1.5-.4.9-1.3M30 19.4l-1.4.7-1.5.6-1.6.5M27.1 21.6l-1.6-.4 1-1.3M34.1 19.6l-1.3.9-1.4.9-1.4.7M31.6 22.3l-1.6-.2.8-1.4M39.1 19.2l-1 1.2-1 1.2-1 1.3-1.1 1.1M36.5 23.7l-1.5.3.2-1.5M43.3 20.3l-1 1.3-.9 1.3-.9 1.3-.8 1.4-1 1.3-.5.6M39.7 27l-1.5.5.1-1.6M48.6 19.4l-1.2 1.1-1.1 1.2-1 1.2-.9 1.3-.9 1.3-.8 1.4-.5.7M43.7 27l-1.5.6 0-1.6M52.9 20.3l-1.3.9-1.2 1.1-1.1 1.1-1 1.2-1 1.3-1 1.3-.9 1.3M46.9 27.9l-1.5.6 0-1.6M58.1 20.1l-1.4.8-1.4.8-1.3.9-1.3 1-1.2 1.1-1.1 1.1-1 1.2-.5.7M50.4 27.2l-1.5.5.1-1.6M62.1 19.7l-1.5.6-1.5.6-1.4.7-1.4.8-1.3.9-1.3 1-1.2 1-.6.6M53.5 25.7l-1.6.2.3-1.6M67 19.2l-1.5.3-1.6.5-1.5.5-1.5.5-1.5.7-1.4.7-1.4.8M58.2 23.3l-1.6-.1.7-1.5M71.5 19.4l-1.6.2-1.6.3-1.6.3-1.5.3-1.6.5-1.5.5-.7.3M62.9 22.2l-1.5-.4.9-1.3M76.5 19.2l-1.6 0-1.6.1-1.6.1-1.6.2-1.6.3-1.6.3M68.4 20.8l-1.5-.6 1.1-1.2M80.8 20.1l-1.6-.1-1.6-.1-1.6 0-1.6 0-1.6.1M74.2 20.8l-1.4-.8 1.3-1M84.9 20.2l-1.6-.3-1.6-.1-1.6-.2-1.6-.1-.8 0M79 20.5l-1.3-1 1.3-.9M90.2 19.1l-1.5-.1-1.6-.1-1.6-.2M86.7 19.7l-1.2-1 1.4-.8M94.6 19.1l-1.5.4-1.6.1-.8 0M92 20.5l-1.3-.9 1.3-.9M99 19.6l-1.2 1-1.4.8-1.6.5M96.4 22.4l-1.6-.5 1-1.3M103.2 19.5l-.9 1.2-1.1 1.2-1.2 1.1-1.4.9-.7.4M99.5 24.4l-1.6-.1.7-1.5M108.6 19.5l-1 1.3-1 1.2-1 1.2-1.1 1.2-1.1 1.1M104.9 25.3l-1.5.2.3-1.5M112.4 19.9l-1.1 1.2-1 1.2-1.1 1.3-1 1.2-1.1 1.1-.6.6M108.1 26.2l-1.6.3.3-1.6M117.3 20.1l-1.2 1-1.2 1.1-1.1 1.1-1.1 1.1-1.2 1.2M113.1 25.3l-1.6.3.3-1.6M121.7 19.5l-1.3.9-1.3.9-1.3 1-1.2 1-1.2 1.1M116.9 24.2l-1.5.2.3-1.6M127 19.7l-1.4.8-1.4.8-1.4.8-1.3.9-1.3.9M121.7 23.9l-1.5 0 .5-1.5M131.2 19.4l-1.4.7-1.4.8-1.4.7-1.4.8-1.4.8M125.8 23.4l-1.6-.2.7-1.4M135.2 20.2l-1.4.7-1.4.8-1.5.7-1.4.7-1.4.8M129.7 24.1l-1.6-.2.7-1.4M139.9 20.1l-1.4.7-1.5.7-1.4.8-1.4.7-1.4.7M134.3 23.9l-1.5-.2.7-1.4M144.8 20.2l-1.4.8-1.4.7-1.5.7-1.4.7-1.4.7M139.3 24.1l-1.6-.3.7-1.4M149.5 20.2l-1.5.7-1.4.8-1.4.7-1.4.7-1.5.7M143.9 24l-1.6-.2.8-1.4M154.3 19.4l-1.5.7-1.4.7-1.4.7-1.5.7-1.4.8M148.7 23.2l-1.6-.2.8-1.4M159.1 19.9l-1.4.7-1.5.7-1.4.8-1.4.7-1.5.7M153.5 23.7l-1.6-.2.8-1.4M27.9 24.3l-1.6.2-1.5.3-1.6.3M24.6 25.7l-1.4-.6 1.1-1.2M32 24.5l-1.5.5-1.6.3-.8.1M29.5 26.1l-1.4-.7 1.1-1.1M36.4 24.5l-1.1 1.2-1.3.9-1.4.7-.8.3M33.4 28l-1.6-.4.9-1.3M41.7 24.2l-.9 1.3-.9 1.3-.9 1.3-1.1 1.2-1.2 1.1-.7.4M37.6 30.8l-1.6 0 .5-1.5M46.5 23.9l-1 1.3-.9 1.4-.9 1.3-.9 1.3-.9 1.3-1 1.2-1.1 1.2M41.3 32.6l-1.5.3.2-1.6M50.6 24.7l-1.1 1.1-1 1.3-1 1.3-.9 1.3-.9 1.3-.9 1.3-1 1.3-.5.6M44.8 33.7l-1.5.5.1-1.6M55.2 24.6l-1.3 1-1.2 1-1.1 1.2-1 1.2-1 1.3-1 1.3-.9 1.3-.5.6M48.7 33l-1.5.5.1-1.6M60 24.8l-1.4.8-1.3.8-1.3 1-1.2 1-1.2 1.2-1 1.1-1 1.3-.5.6M52.6 32.2l-1.5.4.1-1.6M65.1 24.6l-1.5.4-1.6.5-1.4.7-1.4.8-1.4.8-1.2 1-1.2 1-.6.6M56.4 30.2l-1.6.2.3-1.5M69.5 23.9l-1.6.2-1.6.2-1.6.4-1.5.4-1.5.6-1.4.7-1.4.8M60.4 27.3l-1.5-.1.7-1.5M74 24.7l-1.6-.1-1.6 0-1.6.1-1.6.2-1.6.3-1.6.3-.7.3M65.2 26.3l-1.5-.5 1-1.3M78.2 24.4l-1.6-.3-1.6-.2-1.6-.1-1.6 0-1.6.1-1.6.1M70 24.8l-1.4-.8 1.2-1M82.9 24.9l-1.6-.4-1.5-.4-1.6-.3-1.6-.2-1.6-.2M76.2 24.5l-1.2-1.1 1.4-.7M87.3 24.2l-1.6-.4-1.5-.4-1.6-.4-1.5-.3-.8-.2M81.4 23.7l-1.1-1.2 1.4-.6M91.5 24.2l-1.6-.2-1.5-.3-1.6-.4-1.6-.4M86.3 24.1l-1.1-1.2 1.5-.6M96.9 24.8l-1.6.4-1.6.2-1.6 0-1.6-.2M91.7 26.3l-1.2-1.1 1.4-.7M101.8 24.1l-1.2 1-1.4.8-1.5.7-1.5.4-1.6.3M96.1 28l-1.5-.7 1.2-1.1M106.5 23.9l-1.1 1.2-1.2 1.1-1.2 1-1.3.9-1.4.8-1.4.7M100.4 29.9l-1.5-.3.8-1.4M110.9 23.9l-1.1 1.2-1.1 1.1-1.1 1.1-1.2 1.1-1.3 1-1.3 1M105.4 30.3l-1.6.1.6-1.5M115 23.8l-1.2 1.1-1.1 1.1-1.2 1.1-1.1 1.1-1.2 1.1-.6.5M110.1 29.6l-1.5.2.3-1.5M120.1 24.7l-1.3.9-1.2 1-1.3 1-1.2 1-1.3 1M115.4 29.5l-1.6.1.5-1.5M123.9 24.3l-1.4.9-1.3.8-1.4 1-1.3.9-1.2.9M118.9 28.8l-1.6 0 .5-1.5M128.6 24.3l-1.4.8-1.4.7-1.4.8-1.3.9-1.4.8M123.3 28.4l-1.6-.1.6-1.5M133.6 23.8l-1.5.8-1.4.7-1.4.7-1.4.8-1.4.8M128.1 27.7l-1.6-.1.7-1.5M138.5 24l-1.4.8-1.4.7-1.5.7-1.4.7-.7.4M133.7 27.5l-1.6-.2.8-1.4M142.6 23.8l-1.4.7-1.4.7-1.5.7-1.4.7-.7.4M137.8 27.2l-1.6-.2.8-1.4M146.7 23.9l-1.4.7-1.5.8-1.4.7-1.4.7-.7.4M141.8 27.4l-1.5-.2.7-1.4M151.7 24.8l-1.4.7-1.5.7-1.4.8-1.4.7-.7.3M146.8 28.3l-1.5-.3.7-1.4M157 24.3l-1.5.7-1.4.7-1.4.7-1.5.7-.7.4M152.1 27.7l-1.6-.2.8-1.4M161 24.5l-1.4.7-1.4.7-1.4.7-1.5.8-1.4.7M155.5 28.3l-1.6-.2.7-1.4M25.8 28.7l-1.6.1-1.6.1-1.5.3-1.6.3M21 30.1l-1.5-.6 1.1-1.1M30.4 28.8l-1.6.1-1.6 0-1.6 0-.8.1M26.1 29.8l-1.3-.8 1.2-1M34.7 29.2l-1.4.6-1.6.4-1.6.2-1.6.1M29.8 31.3l-1.3-.8 1.3-1M39.2 29.1l-1.1 1.2-1.2 1-1.4.8-1.5.7-1.5.4-.8.1M33.2 34l-1.5-.7 1.1-1.1M44 28.3l-.9 1.3-.9 1.3-1 1.3-1.1 1.1-1.2 1.1-1.4.9-1.4.7-.7.3M37 36.6l-1.6-.3.8-1.3M47.8 28.5l-.9 1.3-.9 1.3-.9 1.3-1 1.3-1 1.2-1.1 1.1-1.2 1.1-.7.5M41.7 37.5l-1.6.1.5-1.5M52.7 28.5l-1.1 1.2-1 1.3-1 1.3-.9 1.3-.9 1.3-1 1.2-1 1.3-.5.6M46.8 37.6l-1.5.4.1-1.6M57.1 28.6l-1.3 1-1.1 1.1-1.1 1.2-1 1.2-1 1.3-.9 1.3-.9 1.3-.5.7M50.8 37.1l-1.5.6 0-1.6M62.3 29.4l-1.4.7-1.3.9-1.3.9-1.2 1.1-1.1 1.2-1 1.2-.9 1.3M55.6 36.2l-1.5.5 0-1.6M66.6 28.7l-1.5.4-1.6.5-1.4.6-1.4.8-1.3.9-1.3 1-.5.6M59.1 33.3l-1.5.2.3-1.5M71.3 29.1l-1.6 0-1.6.1-1.6.2-1.5.3-1.6.6-1.4.6M63.6 31.2l-1.6-.3.8-1.3M76.3 29.4l-1.5-.3-1.6-.3-1.6-.1-1.6-.1-1.6.1-.8 0M69 29.5l-1.4-.8 1.2-1M80.5 29.1l-1.6-.4-1.5-.4-1.6-.3-1.6-.3-1.6-.2-.8-.1M73.1 28.4l-1.3-1 1.4-.8M85 29.3l-1.5-.5-1.6-.4-1.5-.5-1.5-.4-1.6-.4-.8-.1M77.6 28.1l-1.1-1.1 1.5-.7M89.5 29.3l-1.6-.3-1.5-.4-1.6-.4-1.5-.5-1.5-.4-.8-.2M82 28.3l-1-1.2 1.5-.6M94.4 29.2l-1.6 0-1.6-.1-1.6-.2-1.5-.3-1.6-.4-.8-.2M86.8 29.2l-1.1-1.2 1.5-.6M99 28.7l-1.5.5-1.5.4-1.6.2-1.6.1-1.6-.1-1.6-.2M90.8 30.6l-1.2-1 1.4-.8M103.6 28.4l-1.3.9-1.4.7-1.5.7-1.5.5-1.5.4-1.6.3-.8 0M95.4 32.7l-1.4-.8 1.2-1M107.7 28.9l-1.3 1.1-1.3.9-1.3.9-1.4.8-1.4.7-1.5.6-.8.2M100.2 34.5l-1.5-.4.9-1.3M112.8 29.3l-1.2 1-1.3 1-1.3 1-1.3 1-1.3.8-1.4.9-.7.4M105.9 35.5l-1.6-.1.7-1.5M116.8 29l-1.2.9-1.3 1-1.3 1-1.2 1-1.3.9-1.3.9M110.7 34.7l-1.5 0 .5-1.4M122 29l-1.4.9-1.3.9-1.3.9-1.3.9-1.3.9M117 33.5l-1.6 0 .5-1.5M126.9 28.9l-1.4.8-1.4.8-1.4.8-1.4.8-1.3.9M121.6 33.1l-1.6-.1.6-1.5M131.3 28.9l-1.4.7-1.5.8-1.4.7-1.4.8-1.4.8M125.8 32.8l-1.6-.1.7-1.5M135.9 28.6l-1.4.7-1.4.7-1.4.8-1.5.7-.7.4M131.1 32.1l-1.6-.2.8-1.4M140.5 29.1l-1.5.7-1.4.7-1.4.8-1.5.7-.7.3M135.6 32.6l-1.6-.3.8-1.4M144.6 29.5l-1.4.7-1.4.7-1.5.7-1.4.7-.7.4M139.8 32.9l-1.6-.2.7-1.4M149.9 29.4l-1.4.8-1.5.7-1.4.7-1.4.7-.8.3M145 32.9l-1.6-.3.8-1.3M154 28.8l-1.5.7-1.4.8-1.4.7-1.5.7-.7.3M149.1 32.3l-1.6-.3.8-1.4M158.5 28.4l-1.4.7-1.5.7-1.4.7-1.4.7-.7.4M153.6 31.8l-1.5-.2.7-1.4M27.1 33.2l-1.6 0-1.6.1-1.6.2-1.5.2-1.6.4M20.7 34.7l-1.5-.6 1.1-1.2M32.7 33.1l-1.5.3-1.6.1-1.6.1-1.6 0-1.6 0M26.1 34.5l-1.3-.9 1.2-.9M37.1 33.2l-1.4.8-1.5.6-1.5.4-1.6.3-1.6.1-1.6.1M29.3 36.4l-1.4-.9 1.3-1M41 33.1l-1.2 1.1-1.2 1-1.4.9-1.4.7-1.5.5-1.6.5-1.5.3-.8.1M31.8 38.9l-1.4-.7 1.1-1.1M46.3 33.5l-1 1.3-1 1.2-1 1.2-1.2 1.1-1.2 1-1.3 1-1.4.8-.7.4M39.1 41.6l-1.6-.1.7-1.5M50.8 33.4l-1 1.3-.9 1.3-1 1.3-.9 1.3-1.1 1.2-1 1.2-1.2 1.1-.6.6M44.7 42.5l-1.6.2.4-1.6M55 33.5l-1 1.2-.9 1.3-.9 1.3-.9 1.4-.9 1.3-.9 1.3-1 1.3-.5.6M49.5 42.7l-1.5.5.1-1.6M60.4 33.1l-1.2 1.1-1.2 1.1-1 1.2-.9 1.3-.9 1.3-.9 1.4M55.8 39.9l-1.5.6-.1-1.6M64.8 33.2l-1.5.6-1.3.9-1.3 1-1.1 1.1-1.1 1.2M60.1 37.6l-1.6.4.2-1.6M68.7 33.3l-1.6.2-1.5.3-1.5.6-1.4.8-1.3 1M63 36.1l-1.6.1.5-1.5M73.2 34l-1.6-.3-1.6-.1-1.6 0-1.5.2-.8.2M67.5 34.7l-1.4-.7 1.1-1.1M78.1 33.1l-1.5-.5-1.5-.4-1.6-.3-1.6-.3-1.6-.1M71.5 32.5l-1.2-1 1.4-.8M82.3 33l-1.5-.5-1.6-.5-1.5-.4-1.5-.5-1.6-.3-.8-.2M74.9 31.8l-1.1-1.2 1.5-.6M87.2 33.4l-1.6-.3-1.6-.4-1.5-.5-1.5-.4-1.6-.5-.7-.2M79.7 32.3l-1-1.2 1.5-.5M92.2 34.1l-1.6-.1-1.6-.1-1.6-.2-1.5-.3-1.6-.4-1.5-.4M83.8 33.8l-1-1.2 1.5-.6M97.2 33.2l-1.6.3-1.6.2-1.6.1-1.6 0-1.6-.2-1.6-.2-.7-.1M88 34.4l-1.1-1.1 1.4-.7M101.4 34l-1.4.6-1.6.5-1.5.4-1.6.3-1.6.3-1.6.1-1.6 0M91.9 37.1l-1.4-.9 1.3-.9M105.4 33.9l-1.4.8-1.4.7-1.5.7-1.5.6-1.5.4-1.5.4-1.6.4M96.5 38.5l-1.5-.6 1.1-1.2M110.4 33.8l-1.3.9-1.4.9-1.4.8-1.4.8-1.4.7-1.4.7-.8.3M102.9 39.2l-1.6-.3.9-1.4M114.9 33.7l-1.3.9-1.3.9-1.4.9-1.3.8-1.4.8-1.4.8M108.4 39l-1.6-.2.7-1.4M119.7 33l-1.3.9-1.4.9-1.3.8-1.4.9-1.3.9-.7.4M113.9 37.9l-1.6-.1.6-1.5M124.6 33.9l-1.4.8-1.4.8-1.4.8-1.3.8-1.4.8M119.3 38l-1.6-.1.6-1.4M128.9 33.4l-1.4.7-1.4.8-1.5.7-1.4.8-.7.4M124.1 36.9l-1.6-.1.7-1.4M134 33.3l-1.4.8-1.4.7-1.4.7-1.5.7-.7.4M129.2 36.8l-1.6-.2.8-1.4M138.6 33.4l-1.5.7-1.4.7-1.4.7-1.5.8-.7.3M133.7 36.8l-1.6-.2.8-1.4M142.5 33.3l-1.4.7-1.4.7-1.5.8-1.4.7-.7.3M137.7 36.8l-1.6-.3.8-1.4M146.8 33.2l-1.5.7-1.4.7-1.4.7-1.5.8-.7.3M141.9 36.7l-1.6-.3.8-1.4M151.6 33l-1.5.7-1.4.7-1.4.7-1.5.7-.7.3M146.7 36.4l-1.6-.3.8-1.3M156.5 33.4l-1.4.7-1.4.7-1.5.8-1.4.7-.7.3M151.7 36.9l-1.6-.3.8-1.4M160.5 33.1l-1.4.7-1.4.7-1.5.7-1.4.7-.7.4M155.6 36.5l-1.5-.2.7-1.4M25.9 37.7l-1.6.2-1.6.2-1.5.4-1.6.4-1.5.5-.7.2M18.9 40.1l-1.5-.5.9-1.2M29.8 38.6l-1.5.3-1.6.2-1.6.2-1.6.3-1.5.3-1.6.5M21.9 40.9l-1.5-.5 1-1.3M34.1 38l-1.5.4-1.6.3-1.6.3-1.5.2-1.6.2-1.6.3-.8.1M25.4 40.5l-1.5-.7 1.1-1.1M39.6 37.5l-1.4.9-1.4.7-1.5.7-1.5.5-1.5.4-1.6.4-1.5.3-.8.2M29.8 42.2l-1.4-.6 1.1-1.2M43.3 38.6l-1.2 1.1-1.2 1-1.4.9-1.3.8-1.5.7-1.4.7-1.5.5-.8.3M34.5 45l-1.5-.4.9-1.3M48.6 37.8l-.9 1.3-1 1.2-1.1 1.2-1.1 1.2-1.2 1.1-1.2 1-1.1 1.2-.6.6M42 46.2l-1.6.4.3-1.6M53 37.8l-.9 1.3-.9 1.4-.9 1.3-.9 1.3-.9 1.3-.8 1.4-.1 1.6M48.6 46.2l-1 1.2-.8-1.4M58.1 38.6l-.9 1.4-.8 1.3-.8 1.4-.8 1.4-.4 1.6.1.8M55.4 45.2l-.9 1.3-.9-1.3M61.7 38.1l-1.1 1.2-.9 1.3-.9 1.4-.7 1.4-.4.7M59.1 43.4l-1.4.7-.2-1.6M66.4 38l-1.4.7-1.3.9-1.1 1.2M64.1 40.5l-1.5.3.2-1.6M71.7 38.4l-1.6-.2-1.6.1-1.6.4M68.4 39.3l-1.5-.6 1.1-1.2M75.6 37.9l-1.5-.4-1.6-.4-1.6-.2-1.6 0M70.6 37.8l-1.3-.9 1.4-.9M80.5 38l-1.5-.4-1.6-.5-1.5-.4-1.6-.5-.7-.2M74.6 37.3l-1-1.3 1.5-.5M85.4 38.4l-1.6-.2-1.5-.3-1.6-.3-1.5-.4-1.6-.5M78.6 38l-1-1.3 1.5-.5M89.6 38l-1.6 0-1.6-.1-1.6-.2-1.6-.3-1.5-.3-.8-.2M82 38.1l-1.1-1.2 1.5-.6M93.9 37.9l-1.6.2-1.6.1-1.6 0-1.6 0-1.6-.1-1.6-.2-.8-.2M84.7 38.8l-1.2-1.1 1.4-.7M99.5 38.1l-1.5.5-1.5.4-1.6.3-1.6.3-1.6.2-1.6.1-1.6.1M89.9 40.9l-1.4-.9 1.3-1M103.7 38.2l-1.5.7-1.5.6-1.5.5-1.5.5-1.6.4-1.5.4-1.6.3M94.5 42.2l-1.5-.6 1.1-1.2M108.3 38.5l-1.4.7-1.4.8-1.5.7-1.4.6-1.5.6-1.5.6-.8.3M100.4 43.2l-1.6-.4.9-1.3M112.5 37.9l-1.4.8-1.3.8-1.4.8-1.4.8-1.5.7-1.4.7M105.6 42.7l-1.5-.2.8-1.4M117.9 38.1l-1.4.8-1.4.8-1.4.8-1.4.8-1.4.8-.7.4M111.8 42.7l-1.6-.2.7-1.4M122.6 37.7l-1.4.7-1.4.8-1.4.8-1.4.8-1.4.8M117.2 41.7l-1.6-.1.7-1.4M126.9 38.1l-1.4.7-1.4.8-1.4.7-1.4.8-.7.3M122.2 41.6l-1.6-.2.7-1.4M131.2 38.6l-1.5.7-1.4.7-1.4.7-1.4.7-.8.4M126.3 42l-1.6-.2.8-1.4M135.4 38.1l-1.5.7-1.4.7-1.5.7-1.4.7M131.2 41.2l-1.6-.3.8-1.3M140.1 37.9l-1.4.7-1.5.7-1.4.7-1.5.7M135.9 40.9l-1.6-.2.8-1.4M145.4 38l-1.5.7-1.4.6-1.5.7-.7.4M141.9 40.6l-1.6-.2.8-1.4M149.9 37.5l-1.4.7-1.4.7-1.5.7-1.4.6M145.7 40.5l-1.5-.3.7-1.3M154.8 38.6l-1.4.7-1.5.7-1.4.7-1.5.6M150.6 41.6l-1.6-.3.8-1.3M159 37.7l-1.4.7-1.5.7-1.4.7-1.5.7M154.8 40.8l-1.6-.3.8-1.4M27.9 42.3l-1.6.4-1.5.4-1.6.4-1.5.5-1.5.6-.7.3M21 45.2l-1.5-.3.9-1.4M32.1 42.1l-1.5.4-1.6.4-1.5.4-1.6.4-1.5.4-1.5.5-.8.3M23.6 45.3l-1.5-.4 1-1.3M36.4 42.3l-1.5.6-1.5.5-1.5.5-1.6.5-1.5.4-1.6.4-1.5.4M27.2 46.1l-1.5-.5 1-1.2M41.1 43.1l-1.3.9-1.4.9-1.3.8-1.4.8-1.3 1 .4.7 1.6.2M35.2 47.3l1.2 1.1-1.4.7M45.8 43.1l-1.1 1.1-1.1 1.2-.8 1.4 0 1.5 1.4.7 1.6.4 1.6.3M46.2 48.6l1.2 1.1-1.5.7M50.1 42.2l-.9 1.3-.9 1.3-.7 1.4.2 1.6 1.2 1 1.6.5.7.2M50.3 48.2l1 1.3-1.4.5M54.8 43.2l-.7 1.4-.3 1.6.8 1.4 1.4.7 1.6.5.8.1M57.3 47.8l1.1 1.1-1.5.6M60.3 42.1l-.8 1.4-.6 1.5.5 1.5 1.3.9M60.1 45.9l.6 1.5-1.6 0M65 42.4l-1.1 1.2-.6 1.4.2.8M64.4 44.5l-.9 1.3-.9-1.3M68.8 42.8l-1.4.7-1.2 1M67.8 44.3l-1.6.2.3-1.5M73.3 43.3l-1.6-.1-1.5.2-.8.2M70.8 44.2l-1.4-.6 1.1-1.1M78.1 42.8l-1.5-.2-1.6-.3-1.6-.2M74.6 43.2l-1.2-1.1 1.4-.7M83 42.4l-1.6-.1-1.6-.1-1.6-.2-1.6-.3M77.8 42.8l-1.2-1.1 1.5-.7M87.8 43.3l-1.6.1-1.6.1-1.6.1-1.6-.1-1.6-.1M81 44.4l-1.2-1 1.3-.8M92.2 42.2l-1.6.3-1.6.2-1.5.1-1.6.1-1.6.1-.8 0M84.8 43.9l-1.3-.9 1.2-.9M97.1 42.9l-1.6.4-1.5.4-1.6.4-1.6.3-1.5.2-1.6.1M89 45.5l-1.3-.8 1.2-1M101.3 42.9l-1.5.6-1.5.5-1.5.5-1.6.4-1.5.4-1.6.3-.8.1M92.7 46.4l-1.4-.7 1.2-1.1M105.6 42.5l-1.4.6-1.5.7-1.5.6-1.5.6-1.5.6-1.5.5-.7.2M97.5 46.8l-1.5-.5.9-1.3M110.5 42.2l-1.4.7-1.4.8-1.4.7-1.5.7-1.4.8-1.4.7M103.6 46.8l-1.6-.2.7-1.4M115.2 42.3l-1.4.8-1.4.8-1.4.7-1.4.9-1.3.9-.6.5M109.3 46.8l-1.6.1.5-1.5M119.4 43.2l-1.4.7-1.4.8-1.3.9-1.2 1 0 1.4M115 46.6l-.9 1.4-1-1.3M124.4 42.4l-1.4.7-1.4.8-1.4.7-1.4.9-.6.5M119.8 46l-1.6 0 .5-1.5M129.1 43.3l-1.4.7-1.4.8-1.4.8-1.1 1.2M125.4 46.5l-1.6.3.3-1.6M134 43.1l-1.5.6-1.4.7-1.4.8M131.3 45.4l-1.6-.2.7-1.4M137.9 42.8l-1.5.6-1.4.7-.7.4M135.8 44.7l-1.5-.2.7-1.4M142.8 42.2l-1.5.6-1.4.6-.8.3M140.7 44.1l-1.6-.4.9-1.3M147.5 42.7l-1.5.6-1.5.5M146.1 44.3l-1.6-.5 1-1.3M151.9 43l-1.5.6-1.5.5M150.5 44.5l-1.6-.4 1-1.3M156 42.4l-1.5.6-1.4.6-1.5.6M153.1 44.6l-1.5-.4.9-1.3M161.7 42.5l-1.5.6-1.4.7-1.5.7-.7.4M158.2 45.1l-1.6-.2.8-1.4M25.1 46.8l-1.4.7M29.8 47.4l-.2-.4M34 47l-1.1 1.1M38.9 46.9l-.4 1.5.7.3M39.2 47.1l0 1.6-1.4-.6M44.2 47.9l1.2 1 1.5.4M45.9 48.1l1 1.2-1.5.5M48.9 47.2l1 1.2 1.5.6.8.3M51.2 48l1 1.3-1.5.4M52.5 47.1l1.1 1.1 1.5.6 1.6.3M55.6 48l1.1 1.1-1.5.6M57.6 47.2l1.4.7 1.6.4 1.6.2.8 0M61.7 47.5l1.3 1-1.4.8M62.5 47.6l1.6.2 1.6 0 1.6-.1 1.5-.3M67.4 46.7l1.4.7-1.1 1.1M67.3 47.3l1.6-.2 1.5-.4 1.5-.5.7-.4M71.1 45.5l1.5.3-.8 1.4M71.1 47.8l1.5-.5 1.4-.7 1.3-1.1-.5-1.2M74.4 45.8l.4-1.5 1.3.9M76.5 46.9l1.1-1.2-.6-1.3M76.7 46l.3-1.6 1.4.8M80.3 47.5l1.1-1.1-.3-1.3M80.5 46.6l.6-1.5 1.2 1M85.6 47.9l1.1-1.1-.8-1.1M86 47.3l-.1-1.6 1.5.4M89.2 46.9l-1-.9M94.3 47.4l-1-.7M99.3 47.4l.3.4M103.6 47l-.3 1.3M108.4 47.4l1 .9M113.3 46.9l.6 1.1M116.9 47.1l1.2.8M121.8 47.2l1.5.4M126.2 47.5l1.6-.1.8-.1M127.2 46.5l1.4.8-1.2 1.1M131.6 46.7l1.6-.3M136.3 46.8l1.5-.6 1.4-.6M137.7 45.3l1.5.3-.8 1.3M140.2 47.3l1.4-.7 1.4-.7 1.5-.8.6-.4M143.6 44.6l1.5.1-.6 1.5M144.9 47l1.4-.8 1.5-.7 1.3-.8.6-.6M148.1 44.2l1.6-.1-.5 1.5M149.9 47.7l1.4-.7 1.4-.7 1.5-.7 1.4-.7-.7.3M154.6 46.8l.3-1.6 1.4.8M153.9 46.9l1.4-.7 1.5-.6.8-.3M156 44.9l1.6.4-.9 1.4M158.8 46.9l1.5-.5.8-.2M159.6 45.7l1.5.5-1 1.2M28.2 52.3l1.6-.4 1.5-.4 1.5-.5 1.6-.4.8-.2M33.7 49.9l1.5.5-1.1 1.2M32.7 51.8l1.6-.4 1.5-.4 1.6-.3 1.5-.3.8-.1M38.3 49.6l1.4.7-1.1 1.1M37.2 51.8l1.6-.3 1.6-.3 1.6-.1 1.6-.1.8-.1M43 50.1l1.4.8-1.3 1M41.4 51.4l1.6-.1 1.6-.1 1.6-.1 1.6 0 .8 0M47.3 50.2l1.3.9-1.3.9M45.5 52.1l1.6-.1 1.6 0 1.6 0 1.6 0 1.6 0M52.2 51.1l1.3.9-1.3.9M50.3 52.4l1.6 0 1.6 0 1.6 0 1.6-.1 1.6-.1 1.6-.1M58.6 51.3l1.3.8-1.2 1M55.4 52l1.6 0 1.6-.1 1.6-.1 1.6-.2 1.6-.2 1.5-.2.8-.1M64.3 50.4l1.4.7-1.1 1.1M60.4 51.7l1.6-.2 1.6-.2 1.5-.2 1.6-.3 1.6-.4 1.5-.4 1.5-.4.8-.3M70.6 48.8l1.5.5-1 1.3M63.9 51.6l1.6-.3 1.6-.3 1.5-.4 1.6-.4 1.5-.5 1.5-.5 1.5-.6.7-.3M73.9 48l1.5.3-.8 1.4M69 51.5l1.6-.4 1.5-.5 1.5-.5 1.5-.6 1.5-.6 1.4-.7 1.4-.8.6-.5M78.5 46.9l1.5 0-.5 1.5M73.4 52.2l1.6-.5 1.5-.6 1.4-.6 1.5-.6 1.5-.6 1.4-.8 1.4-.8M82.1 47.6l1.6.1-.7 1.4M78.2 51.7l1.4-.6 1.5-.6 1.5-.6 1.4-.7 1.5-.7 1.3-.9.6-.5M85.8 47.2l1.6-.1-.4 1.5M82.6 51.9l1.5-.6 1.5-.6 1.4-.6 1.5-.6 1.5-.7 1.4-.7M89.8 47.9l1.6.2-.8 1.4M88.1 51.5l1.5-.6 1.5-.5 1.5-.6 1.5-.6 1.5-.6M94 48.3l1.6.3-.9 1.4M92.5 52.2l1.5-.5 1.5-.5 1.6-.5 1.5-.5 1.5-.4M98.6 49.3l1.5.5-1 1.2M96.8 52l1.6-.5 1.5-.5 1.5-.4 1.6-.4.7-.2M102.3 49.4l1.4.6-1 1.2M101.3 51.4l1.6-.4 1.5-.4 1.6-.4 1.5-.4.8-.1M106.8 49.1l1.5.6-1.1 1.1M106 52.5l1.5-.4 1.6-.4 1.5-.4 1.6-.3.8-.2M111.5 50.2l1.5.6-1.1 1.2M110.8 51.9l1.5-.4 1.6-.4 1.5-.4 1.6-.3.8-.2M116.3 49.6l1.5.6-1.1 1.2M115 52.3l1.6-.3 1.5-.4 1.6-.4 1.5-.4 1.6-.4M121.3 49.8l1.5.6-1 1.2M119.1 51.5l1.6-.4 1.5-.4 1.5-.4 1.6-.4 1.5-.5M125.3 48.9l1.5.5-1 1.3M124.8 52.1l1.6-.5 1.5-.5 1.5-.5 1.5-.5 1.5-.5M130.9 49.2l1.5.4-.9 1.3M129.3 51.9l1.5-.5 1.5-.5 1.5-.6 1.5-.6 1.5-.6.7-.4M135.9 48.4l1.6.3-.8 1.4M132.9 51.9l1.5-.6 1.5-.6 1.5-.6 1.4-.7 1.5-.7 1.4-.6M140.2 47.8l1.5.3-.8 1.3M138.3 51.4l1.4-.7 1.4-.7 1.5-.7 1.4-.7 1.4-.7 1.5-.7 1.4-.7M146.7 46.2l1.6.3-.7 1.4M142.7 52.4l1.4-.7 1.4-.8 1.4-.7 1.5-.7 1.4-.7 1.4-.8 1.5-.7.7-.3M151.8 46.7l1.6.3-.8 1.4M146.8 51.4l1.4-.8 1.4-.7 1.4-.7 1.5-.7 1.4-.7 1.5-.7 1.4-.6.8-.3M156 45.8l1.6.4-.9 1.3M151.4 52.1l1.4-.7 1.5-.7 1.4-.7 1.5-.7 1.5-.6 1.5-.6 1.5-.5.7-.2M160.9 46.9l1.5.5-.9 1.2M157 51.5l1.4-.7 1.5-.6 1.5-.6 1.5-.5 1.5-.5 1.6-.4.7-.2M165.3 47.4l1.4.6-1 1.2M161.5 51.6l1.5-.6 1.5-.5 1.5-.5 1.6-.5 1.5-.4 1.6-.4M169.2 48.1l1.5.6-1.1 1.2M25.4 56.8l1.6-.4 1.5-.4 1.6-.4 1.5-.4 1.6-.4M31.7 54.3l1.5.5-1 1.2M29.5 56.5l1.6-.4 1.5-.4 1.6-.4 1.6-.3 1.5-.4M35.9 54l1.4.6-1.1 1.2M35 56.3l1.6-.3 1.6-.4 1.5-.3 1.6-.2 1.6-.3M41.5 54.1l1.4.7-1.2 1.1M39.6 56.4l1.5-.2 1.6-.3 1.6-.2 1.6-.2 1.6-.2M46.1 54.5l1.4.8-1.2 1M44.3 56.4l1.6-.2 1.6-.2 1.6-.2 1.6-.1 1.6-.2M50.9 54.7l1.4.8-1.2 1M48.8 56l1.6-.2 1.6-.1 1.6-.1 1.6-.2 1.6-.1.8-.1M56.2 54.4l1.4.8-1.3 1.1M52.8 56.1l1.6-.2 1.6-.1 1.6-.2 1.6-.1 1.6-.2 1.6-.2M60.9 54.4l1.5.7-1.2 1.1M57.5 56.4l1.6-.2 1.6-.2 1.5-.2 1.6-.3 1.6-.2 1.6-.3.8-.2M66.3 54.2l1.5.6-1.1 1.1M61.9 56.4l1.6-.2 1.5-.3 1.6-.3 1.6-.4 1.5-.3 1.6-.5.8-.2M70.6 53.7l1.5.5-1.1 1.3M67 56.6l1.6-.4 1.5-.3 1.6-.4 1.5-.5 1.5-.5 1.6-.5.7-.2M75.5 53.3l1.5.5-.9 1.3M71.1 56.8l1.5-.5 1.6-.4 1.5-.5 1.5-.5 1.5-.5 1.6-.5.7-.3M79.5 53.2l1.5.4-.9 1.3M76.3 56.4l1.5-.5 1.5-.5 1.5-.5 1.5-.5 1.5-.5 1.5-.6M83.8 52.9l1.5.4-.9 1.3M80.6 56.1l1.5-.5 1.5-.5 1.5-.5 1.5-.5 1.5-.6 1.5-.5M88.1 52.6l1.5.4-.9 1.3M85.6 56.3l1.5-.5 1.6-.4 1.5-.5 1.5-.5 1.5-.5.8-.2M92.5 53.2l1.5.5-1 1.2M89.6 57l1.5-.4 1.5-.5 1.6-.4 1.5-.5 1.5-.4M95.7 54.3l1.5.5-1 1.2M94.2 56.1l1.5-.4 1.5-.4 1.6-.5 1.5-.4 1.6-.4M100.4 53.5l1.5.5-1 1.2M98.9 56.5l1.5-.4 1.6-.4 1.5-.4 1.6-.4 1.5-.4M105.1 53.9l1.5.6-1 1.2M103.7 56.4l1.6-.4 1.5-.4 1.6-.4 1.5-.4 1.6-.4M110 53.9l1.5.5-1 1.2M108.4 55.9l1.6-.4 1.5-.3 1.6-.4 1.5-.4 1.6-.4M114.7 53.4l1.5.6-1.1 1.2M113.3 56.5l1.6-.4 1.5-.4 1.6-.4 1.5-.4 1.6-.4M119.6 53.9l1.5.6-1.1 1.2M117.3 56.4l1.6-.4 1.5-.4 1.6-.4 1.5-.4 1.5-.5M123.5 53.8l1.5.5-.9 1.2M121.7 56.9l1.6-.5 1.5-.4 1.5-.5 1.5-.5 1.6-.5M127.8 54l1.6.5-1 1.3M126.5 56l1.6-.5 1.5-.5 1.5-.6 1.5-.6 1.4-.6.8-.3M133.2 52.6l1.6.3-.9 1.3M131 56.5l1.5-.6 1.5-.7 1.4-.6 1.5-.7 1.4-.7 1.4-.7M138.2 52.3l1.5.2-.7 1.4M135.6 56l1.5-.7 1.4-.7 1.4-.7 1.4-.8 1.5-.7 1.4-.8 1.4-.7M144 50.7l1.6.2-.7 1.4M140.9 56.1l1.4-.8 1.4-.8 1.4-.8 1.4-.7 1.4-.8 1.4-.8 1.4-.7.7-.4M149.8 50.1l1.6.2-.7 1.4M145.3 56.4l1.4-.8 1.3-.8 1.4-.8 1.4-.8 1.4-.7 1.5-.8 1.4-.7.7-.3M154.3 50.4l1.5.3-.8 1.4M149.6 56.7l1.4-.8 1.4-.8 1.4-.7 1.4-.8 1.4-.7 1.5-.7 1.4-.6.8-.3M158.7 51l1.6.3-.9 1.3M153.6 56.5l1.4-.8 1.5-.7 1.4-.7 1.4-.7 1.5-.6 1.5-.6 1.5-.6.7-.2M163 51.1l1.5.5-.9 1.3M158.8 56.4l1.4-.7 1.5-.6 1.5-.6 1.5-.6 1.5-.5 1.5-.5 1.5-.5M167.7 52l1.5.4-1 1.3M27.1 60.5l1.6-.4 1.5-.4 1.6-.3 1.5-.4 1.6-.4M33.4 58l1.5.6-1.1 1.2M32.3 61l1.5-.3 1.6-.4 1.6-.4 1.5-.3 1.6-.3M38.6 58.6l1.5.7-1.1 1.1M36.7 60.6l1.6-.3 1.5-.4 1.6-.3 1.6-.3 1.5-.3M43.1 58.4l1.4.6-1.1 1.1M41.3 61.3l1.6-.3 1.6-.3 1.5-.3 1.6-.3 1.6-.3M47.8 59.1l1.4.7-1.1 1.1M46.5 61.4l1.6-.3 1.5-.3 1.6-.2 1.6-.3 1.6-.2M52.9 59.4l1.5.7-1.2 1.1M50.1 60.9l1.6-.3 1.6-.2 1.5-.2 1.6-.3 1.6-.2.8-.2M57.4 58.8l1.4.7-1.2 1.1M55.3 61.5l1.6-.3 1.5-.3 1.6-.2 1.6-.3 1.6-.3.8-.1M62.5 59.3l1.5.7-1.2 1.1M60 61.5l1.6-.3 1.5-.3 1.6-.3 1.6-.4 1.5-.3 1.6-.4M67.9 58.9l1.5.6-1.1 1.2M64.7 60.6l1.6-.3 1.6-.4 1.5-.3 1.6-.4 1.5-.4 1.6-.5M72.6 57.8l1.5.5-1.1 1.3M69.7 61.2l1.5-.4 1.6-.4 1.5-.4 1.6-.5 1.5-.4 1.5-.4M77.4 58.1l1.5.6-.9 1.2M73.8 60.8l1.6-.4 1.5-.4 1.5-.5 1.6-.4 1.5-.5.8-.2M80.8 57.9l1.5.5-1 1.2M78.8 61.7l1.5-.4 1.6-.5 1.5-.4 1.5-.5 1.6-.4.7-.2M85.7 58.8l1.5.5-1 1.2M82.7 61.1l1.5-.5 1.6-.4 1.5-.4 1.6-.5 1.5-.4M88.9 58.4l1.5.5-1 1.2M87 61.4l1.5-.4 1.6-.4 1.5-.5 1.5-.4 1.6-.4M93.2 58.7l1.5.6-1 1.2M92.3 60.8l1.5-.4 1.6-.5 1.5-.4 1.6-.4 1.5-.4M98.5 58.2l1.5.5-1 1.2M97.1 61.2l1.5-.4 1.6-.5 1.5-.3 1.6-.4 1.5-.4M103.4 58.6l1.4.6-1 1.2M101.8 61.5l1.6-.4 1.5-.4 1.6-.4 1.5-.4 1.6-.4M108.1 59l1.5.5-1.1 1.2M105.4 60.8l1.6-.4 1.5-.4 1.6-.4 1.5-.4 1.6-.4M111.7 58.3l1.5.5-1.1 1.2M110.9 60.5l1.6-.3 1.5-.4 1.6-.4 1.5-.4 1.6-.4M117.2 58l1.5.6-1.1 1.2M114.7 61.6l1.5-.4 1.6-.4 1.5-.4 1.5-.4 1.6-.4M120.9 59l1.5.6-1 1.2M120.1 60.8l1.5-.4 1.6-.5 1.5-.4 1.5-.5 1.5-.5M126.2 58l1.5.5-.9 1.3M124.1 60.5l1.5-.4 1.6-.5 1.5-.6 1.5-.5 1.4-.6.8-.3M130.8 57.2l1.6.4-.9 1.3M128.5 60.5l1.5-.5 1.4-.6 1.5-.7 1.5-.6 1.4-.7 1.4-.7M135.7 56.4l1.5.3-.7 1.4M133.6 61.2l1.5-.6 1.4-.8 1.4-.7 1.4-.7 1.4-.8 1.4-.8 1.4-.8M141.9 55.9l1.6.1-.7 1.4M137.7 61.5l1.4-.8 1.4-.7 1.4-.8 1.3-.8 1.4-.9 1.4-.8 1.4-.8.7-.4M146.5 55.4l1.6.1-.7 1.5M142.7 61.2l1.4-.8 1.3-.8 1.4-.9 1.4-.8 1.3-.8 1.4-.8 1.4-.8.7-.4M151.4 55l1.6.1-.7 1.5M147.5 60.7l1.4-.8 1.3-.8 1.4-.8 1.4-.8 1.4-.8 1.4-.7 1.4-.8.8-.3M156.4 54.6l1.6.3-.8 1.4M152.3 61l1.3-.8 1.4-.8 1.5-.7 1.4-.8 1.4-.7 1.5-.6 1.4-.7.8-.3M161.4 55.3l1.6.3-.9 1.4M156.5 60.7l1.4-.8 1.5-.7 1.4-.7 1.5-.6 1.5-.6 1.5-.6 1.5-.5.7-.3M166 55.5l1.5.4-.9 1.3M160.8 61l1.5-.6 1.4-.6 1.5-.6 1.5-.5 1.6-.5 1.5-.5.8-.3M169 57l1.6.4-1 1.3M25.7 65.6l1.5-.3 1.6-.4 1.5-.4 1.6-.4 1.5-.4M32 63.2l1.4.5-1 1.2M30.1 66l1.5-.4 1.6-.4 1.5-.3 1.6-.4 1.5-.4M36.4 63.5l1.4.6-1 1.2M34.5 65.1l1.5-.4 1.6-.3 1.6-.4 1.5-.4 1.6-.3M40.8 62.7l1.5.6-1.1 1.2M39.3 66.2l1.5-.3 1.6-.4 1.5-.4 1.6-.3 1.6-.3M45.6 63.8l1.5.7-1.1 1.1M43.2 65.7l1.6-.4 1.6-.3 1.5-.4 1.6-.3 1.6-.3M49.6 63.3l1.5.7-1.1 1.1M48.6 65.7l1.5-.3 1.6-.4 1.6-.3 1.6-.3 1.5-.3M55 63.4l1.4.7-1.1 1.1M52.5 65.7l1.6-.3 1.6-.3 1.5-.3 1.6-.4 1.6-.3M58.9 63.5l1.5.6-1.1 1.2M57.1 65.2l1.6-.3 1.5-.4 1.6-.3 1.6-.3 1.5-.3.8-.2M64.2 62.8l1.5.6-1.1 1.2M62 65.3l1.6-.3 1.5-.4 1.6-.3 1.6-.4 1.5-.3.8-.2M69.1 62.8l1.5.6-1.1 1.2M66.8 66.2l1.6-.3 1.5-.4 1.6-.4 1.5-.4 1.6-.4.8-.2M73.9 63.6l1.5.5-1.1 1.2M71.1 66.3l1.5-.4 1.6-.4 1.5-.4 1.6-.4 1.5-.4M77.3 63.7l1.5.6-1 1.2M75.8 66.1l1.6-.4 1.5-.4 1.6-.4 1.5-.5 1.5-.4M82 63.5l1.5.5-1 1.2M80.6 66l1.6-.4 1.5-.4 1.6-.4 1.5-.5 1.5-.4M86.8 63.4l1.5.5-1 1.2M85.6 66.1l1.6-.4 1.5-.4 1.6-.5 1.5-.4 1.6-.4M91.9 63.5l1.5.5-1.1 1.2M89.4 66.2l1.5-.5 1.6-.4 1.5-.4 1.6-.4 1.5-.4M95.6 63.5l1.5.6-1 1.2M93.9 66l1.6-.4 1.5-.5 1.6-.4 1.5-.4 1.6-.4M100.2 63.4l1.5.5-1.1 1.2M98.5 65.5l1.5-.4 1.6-.4 1.5-.4 1.6-.4 1.5-.4M104.7 62.9l1.5.6-1 1.2M103.2 65.8l1.5-.3 1.6-.4 1.5-.4 1.6-.4 1.5-.4M109.4 63.3l1.5.6-1 1.2M108 65.8l1.5-.4 1.6-.4 1.5-.4 1.6-.3 1.6-.4M114.3 63.3l1.5.6-1.1 1.2M112.5 65.6l1.5-.4 1.6-.4 1.5-.4 1.6-.4 1.5-.4M118.7 63.1l1.5.5-1 1.3M117.9 65.8l1.5-.4 1.6-.4 1.5-.4 1.6-.5 1.5-.4M124.1 63.2l1.5.5-1 1.2M122 66l1.5-.5 1.6-.4 1.5-.5 1.5-.5 1.5-.6.7-.3M128.8 62.8l1.5.4-.9 1.3M127.2 65.5l1.5-.5 1.5-.6 1.5-.6 1.4-.6 1.5-.7.7-.4M133.7 61.9l1.6.2-.8 1.4M130.7 65.4l1.5-.6 1.5-.7 1.4-.7 1.4-.7 1.5-.7 1.4-.8.7-.4M138.5 60.6l1.6.2-.7 1.4M135.4 65.6l1.4-.7 1.4-.8 1.4-.8 1.4-.8 1.4-.8 1.4-.8 1.3-.8.7-.4M144.2 59.6l1.6.1-.6 1.4M140.7 66l1.4-.8 1.3-.8 1.4-.8 1.4-.9 1.3-.8 1.4-.9 1.4-.8.7-.4M149.4 59.7l1.6.1-.7 1.5M144.5 65.3l1.4-.8 1.4-.9 1.3-.8 1.4-.9 1.4-.8 1.3-.8 1.4-.8.7-.4M153.2 59l1.6.1-.7 1.5M149.4 66.1l1.4-.8 1.4-.8 1.3-.9 1.4-.7 1.4-.8 1.5-.8 1.4-.7.7-.3M158.3 60l1.6.3-.8 1.4M154.2 65.7l1.4-.7 1.4-.8 1.4-.7 1.4-.7 1.5-.7 1.5-.7 1.4-.6.8-.2M163.4 60.2l1.6.4-.9 1.3M158.5 65.8l1.5-.7 1.4-.7 1.5-.7 1.5-.6 1.5-.5 1.5-.6 1.5-.5M167.4 61.1l1.5.4-.9 1.3M27.8 70.1l1.6-.4 1.5-.4 1.6-.4 1.5-.3 1.6-.4M34.1 67.6l1.5.6-1.1 1.2M32.4 70.6l1.6-.4 1.5-.4 1.6-.3 1.5-.4 1.6-.4M38.7 68.1l1.5.6-1.1 1.2M36.7 70.2l1.6-.3 1.5-.4 1.6-.4 1.5-.4 1.6-.3M43 67.8l1.5.6-1.1 1.1M41.1 70l1.5-.4 1.6-.3 1.5-.4 1.6-.4 1.5-.3M47.4 67.6l1.4.6-1 1.1M45.5 69.8l1.6-.4 1.6-.4 1.5-.3 1.6-.4 1.5-.3M51.9 67.4l1.4.6-1 1.1M50.2 70.8l1.6-.4 1.5-.4 1.6-.3 1.5-.4 1.6-.3M56.5 68.4l1.5.6-1.1 1.2M55.6 70.4l1.5-.4 1.6-.3 1.6-.4 1.5-.3 1.6-.4M61.9 68l1.5.6-1.1 1.2M60.3 69.9l1.5-.3 1.6-.4 1.5-.4 1.6-.3 1.6-.4M66.6 67.5l1.5.6-1.1 1.2M64.3 70.4l1.6-.4 1.5-.3 1.6-.4 1.6-.3 1.5-.4M70.6 68l1.5.6-1 1.2M69.5 70.3l1.6-.3 1.5-.4 1.6-.4 1.5-.4 1.6-.4M75.8 67.9l1.5.5-1 1.2M73.3 69.8l1.5-.4 1.6-.4 1.5-.4 1.5-.4 1.6-.5M79.5 67.2l1.5.5-1 1.3M77.7 70.6l1.6-.4 1.5-.4 1.6-.5 1.5-.4.8-.2M83.2 68.2l1.5.5-1 1.2M83.4 69.9l1.5-.5 1.5-.4 1.6-.5 1.5-.4.8-.2M88.8 67.4l1.5.5-1 1.2M87.9 69.8l1.5-.5 1.5-.5 1.6-.4 1.5-.5.8-.2M93.3 67.2l1.5.5-1 1.3M92.5 70.5l1.5-.4 1.6-.5 1.5-.4 1.5-.5 1.6-.4M98.7 67.8l1.5.5-1 1.2M96.7 70.3l1.5-.5 1.5-.4 1.6-.4 1.5-.4 1.6-.4M102.9 67.6l1.5.6-1 1.2M101 70.8l1.5-.4 1.6-.4 1.5-.4 1.6-.4 1.5-.4.8-.1M108 68.1l1.5.6-1.1 1.1M105.6 70l1.6-.4 1.5-.3 1.6-.4 1.6-.4 1.5-.3.8-.2M112.7 67.4l1.5.6-1.1 1.2M110.8 70.4l1.6-.4 1.6-.3 1.5-.3 1.6-.4 1.5-.4.8-.1M117.9 67.9l1.5.6-1 1.1M115.1 70.4l1.6-.4 1.5-.3 1.6-.4 1.6-.3 1.5-.5.8-.2M122.2 67.8l1.5.5-1 1.3M119.2 69.8l1.6-.3 1.5-.4 1.6-.5 1.5-.4 1.5-.5.8-.2M126.2 67l1.5.5-.9 1.2M124.9 70.5l1.5-.4 1.5-.5 1.5-.6 1.5-.5 1.5-.7.7-.3M131.6 67.2l1.5.3-.8 1.4M129 70.4l1.5-.6 1.5-.6 1.5-.6 1.4-.7 1.5-.7 1.4-.8M136.2 66.2l1.6.2-.8 1.4M133.2 69.9l1.4-.7 1.5-.7 1.4-.7 1.4-.8 1.4-.8 1.4-.8 1.3-.8M141.5 64.5l1.5.1-.6 1.4M138.2 69.7l1.4-.8 1.4-.8 1.4-.8 1.3-.8 1.4-.8 1.4-.9 1.3-.8.7-.4M146.9 63.5l1.6.1-.6 1.4M142.1 70.1l1.4-.8 1.4-.9 1.3-.8 1.4-.8 1.3-.9 1.4-.8 1.4-.8.7-.5M150.8 63.7l1.6.1-.7 1.5M147.4 70.8l1.4-.8 1.3-.9 1.4-.8 1.4-.8 1.3-.8 1.4-.8 1.4-.8.8-.3M156.2 64.6l1.6.2-.8 1.4M151.8 70.1l1.4-.9 1.4-.8 1.4-.7 1.4-.8 1.4-.7 1.5-.7 1.4-.7.8-.3M160.9 64.2l1.6.3-.9 1.3M157 70.1l1.5-.8 1.4-.7 1.4-.7 1.5-.6 1.5-.6 1.5-.6 1.5-.5.7-.3M166.5 64.9l1.5.4-.9 1.3M161.1 70.3l1.4-.7 1.5-.6 1.5-.6 1.5-.5 1.5-.5 1.5-.5.8-.3M169.3 66.2l1.5.4-1 1.3M24.9 74.4l1.5-.4 1.6-.3 1.5-.4 1.6-.4 1.5-.4M31.1 71.9l1.5.6-1 1.2M29.4 75.3l1.6-.4 1.5-.4 1.6-.4 1.5-.4 1.6-.4M35.7 72.7l1.5.6-1.1 1.2M34.5 75.1l1.5-.4 1.6-.4 1.5-.3 1.6-.4 1.5-.4M40.7 72.6l1.5.6-1 1.2M39.1 74.9l1.6-.4 1.5-.4 1.6-.4 1.5-.3 1.6-.4M45.4 72.4l1.5.6-1 1.2M44.2 74.8l1.6-.4 1.5-.4 1.6-.4 1.6-.3 1.5-.4M50.5 72.3l1.5.6-1 1.2M47.9 75.1l1.6-.4 1.5-.4 1.6-.3 1.5-.4 1.6-.4M54.2 72.6l1.5.6-1.1 1.2M52.4 74.9l1.6-.4 1.5-.3 1.6-.4 1.6-.4 1.5-.3M58.8 72.5l1.4.6-1 1.2M57.4 74.8l1.6-.3 1.6-.4 1.5-.4 1.6-.3 1.5-.4M63.8 72.4l1.4.6-1 1.2M62.5 75.3l1.5-.3 1.6-.4 1.6-.3 1.5-.3.8-.2M68 73.2l1.5.6-1.1 1.2M67.4 75.2l1.5-.3 1.6-.3 1.6-.4 1.5-.3.8-.2M72.9 73.1l1.5.6-1.1 1.2M71.8 75.4l1.5-.3 1.6-.4 1.6-.3 1.5-.4M76.5 73.4l1.5.6-1 1.2M75.9 74.7l1.5-.4 1.6-.4 1.5-.4 1.5-.5M80.5 72.5l1.5.5-1 1.3M80 74.8l1.6-.4 1.5-.5 1.5-.5 1.5-.5M84.6 72.4l1.5.5-.9 1.3M84.7 74.6l1.5-.6 1.5-.5 1.5-.5 1.5-.6M89.2 72l1.5.4-.9 1.3M89.7 74.8l1.5-.6 1.5-.5 1.5-.6 1.5-.5.8-.2M95 71.9l1.5.5-1 1.3M94.7 74.9l1.5-.6 1.5-.5 1.6-.5 1.5-.5 1.5-.4M100.8 71.9l1.5.5-1 1.2M99.2 74.3l1.6-.5 1.5-.4 1.6-.4 1.5-.4 1.6-.4.7-.2M106.3 71.4l1.4.6-1 1.2M103.9 75.2l1.5-.4 1.6-.4 1.5-.4 1.6-.3 1.6-.3 1.5-.3M111.8 72.4l1.4.7-1.1 1.1M107.6 74.7l1.6-.3 1.5-.4 1.6-.3 1.6-.3 1.6-.3 1.5-.3M115.6 72.2l1.4.6-1.1 1.2M113 74.5l1.5-.3 1.6-.3 1.6-.3 1.6-.3 1.5-.3 1.6-.4M120.9 72l1.5.6-1.1 1.2M117.8 75.5l1.5-.3 1.6-.3 1.6-.3 1.5-.4 1.6-.3.8-.3M124.9 73.1l1.5.5-1 1.3M122.3 75l1.6-.3 1.6-.4 1.5-.4 1.5-.5 1.5-.5.8-.3M129.2 72.2l1.6.4-.9 1.3M126.9 75.4l1.6-.4 1.5-.6 1.5-.5 1.5-.6 1.4-.7 1.4-.7M134.3 71.6l1.5.3-.7 1.4M131.7 74.7l1.5-.6 1.5-.7 1.4-.7 1.4-.7 1.4-.8 1.4-.8.7-.4M139.4 69.9l1.6.1-.7 1.4M136 74.4l1.4-.7 1.4-.8 1.4-.8 1.4-.8 1.4-.8 1.3-.8 1.4-.9.7-.4M144.8 68.3l1.6.1-.7 1.5M140.9 74.4l1.4-.8 1.3-.9 1.4-.8 1.4-.9 1.3-.8 1.4-.8 1.3-.9.7-.4M149.5 68l1.6.1-.6 1.5M144.7 75l1.4-.9 1.4-.8 1.3-.8 1.4-.9 1.3-.8 1.4-.8 1.4-.9.7-.3M153.4 68.6l1.6.2-.7 1.4M149.3 74.8l1.3-.8 1.4-.9 1.4-.8 1.4-.8 1.4-.8 1.4-.7 1.4-.8.7-.3M158.1 68.7l1.6.2-.8 1.4M154 75.1l1.4-.8 1.4-.8 1.4-.7 1.5-.7 1.4-.7 1.5-.7 1.4-.6.8-.3M163.2 69.5l1.6.3-.9 1.4M158.8 75.3l1.5-.7 1.4-.7 1.5-.6 1.5-.6 1.5-.6 1.5-.5 1.5-.5M167.7 70.6l1.5.5-1 1.2M27.8 79.8l1.3-1 1.5-.6.8-.3M29.8 77.5l1.6.4-.9 1.3M31.7 79.7l1.3-.9 1.5-.7.7-.2M33.7 77.5l1.5.4-.8 1.3M37.4 79.1l1.4-.8 1.5-.5 1.6-.5M40.3 76.8l1.6.5-1 1.3M41.8 79.8l1.3-.9 1.5-.7.7-.3M43.8 77.6l1.5.3-.9 1.4M45.6 79.6l1.3-.8 1.5-.7.7-.3M47.6 77.5l1.5.3-.8 1.4M50.5 79.3l1.4-.7 1.4-.6 1.6-.5M53.4 77l1.5.5-1 1.2M55.9 79.6l1.3-.9 1.5-.6.8-.2M58 77.5l1.5.4-.9 1.3M59.9 79.9l1.3-1 1.4-.6M61.1 78l1.5.3-.8 1.4M64.4 79.1l1.4-.7 1.6-.5.7-.2M66.6 77.2l1.5.5-1 1.3M69.7 79.1l1.4-.7 1.6-.5M71.1 77.5l1.6.4-1 1.3M74.2 80.1l.9-1.3M78.3 79l1.2-.9 1.5-.7M79.4 77.1l1.6.3-.8 1.4M82.9 79.6l.9-1.3 1.3-.9M83.5 77.3l1.6.1-.6 1.5M87.8 80.1l.7-1.4 1.2-1 .7-.4M88.8 77.2l1.6.1-.6 1.4M91.8 78.9l1.2-1 1.4-.8 1.5-.6.7-.3M95.1 75.9l1.5.3-.8 1.4M97.3 78.9l1.3-.9 1.5-.7 1.5-.5 1.5-.5M101.6 75.8l1.5.5-1 1.3M101.9 80l1.2-1 1.4-.7 1.5-.6 1.6-.4M106.1 76.8l1.5.5-1 1.2M106.4 79.4l1.4-.7 1.5-.5 1.6-.4 1.6-.3.8-.1M111.8 76.7l1.5.7-1.2 1.1M110.1 79.6l1.5-.6 1.6-.4 1.5-.3 1.6-.3M114.9 77.3l1.4.7-1.1 1.1M115 79.8l1.5-.5 1.6-.4 1.6-.4.7-.1M119 77.7l1.4.7-1 1.1M119.3 79.5l1.6-.5 1.5-.4 1.6-.4.7-.2M123.2 77.4l1.5.6-1 1.2M124.8 79.6l1.5-.6 1.5-.6 1.4-.6.8-.3M128.5 77.1l1.5.4-.9 1.3M129.4 79.8l1.4-.8 1.4-.7 1.5-.7 1.4-.7.7-.3M134.3 76.3l1.5.3-.7 1.3M133.1 79.7l1.3-.8 1.4-.8 1.4-.8 1.5-.7 1.3-.8.7-.4M139.2 75.2l1.5.2-.6 1.4M137.7 79l1.4-.8 1.4-.8 1.4-.9 1.3-.8 1.4-.8 1.4-.9 1.3-.8M145.7 73.1l1.6.1-.6 1.5M142.8 78.9l1.4-.8 1.3-.9 1.4-.8 1.4-.9 1.3-.8 1.4-.9 1.3-.8.7-.4M151.5 72.5l1.5.1-.6 1.5M146.8 79.4l1.3-.9 1.4-.8 1.3-.9 1.4-.8 1.4-.8 1.4-.8 1.4-.8.7-.4M155.5 73l1.6.2-.7 1.4M151.5 79.7l1.4-.9 1.3-.8 1.4-.8 1.4-.8 1.4-.7 1.5-.7 1.4-.7.7-.3M160.5 73.7l1.5.3-.8 1.3M156.2 79.2l1.4-.8 1.4-.8 1.4-.7 1.5-.7 1.4-.6 1.5-.6 1.5-.6M164.8 74l1.5.4-.9 1.3M161.2 79.5l1.3-.8 1.4-.8 1.5-.6 1.5-.6 1.5-.5.8-.3M167.6 75.5l1.6.4-1 1.3M25.8 84.5l-1.1-1.1-.9-1.4.1-1.6 1.1-1.1M23.4 79.6l1.6-.3-.2 1.6M30.5 83.6l-.9-1.3-.2-1.5.9-1.3M28.8 80l1.5-.5 0 1.6M34.1 84.4l-1.2-1.1-.8-1.4.1-1.5 1.1-1.2M31.8 79.5l1.5-.3-.2 1.6M39.1 83.6l-1-1.3-.1-1.6.9-1.3M37.4 79.9l1.5-.5 0 1.6M43.8 83.9l-1-1.2-.5-1.5.7-1.4.6-.6M42 79.6l1.6-.4-.2 1.6M48.1 84.3l-1.2-1.1-.8-1.4.2-1.5 1.1-1.1M45.9 79.4l1.5-.2-.3 1.5M53.3 83.8l-1.1-1.2-.5-1.5.7-1.4.6-.5M51.5 79.5l1.5-.3-.2 1.6M57.8 83.8l-1.1-1.2-.6-1.4.7-1.5M55.4 80.5l1.4-.8.3 1.6M62.7 84l-1.3-1-1-1.3.1-1.5.6-.6M59.6 80.3l1.5-.7.1 1.6M66.8 83.7l-1.4-.9-1-1.1 0-1.6M63.4 81.4l1-1.3.9 1.3M71.4 83.8l-1.5-.7-1.3-.8-1-1.3 0-.8M67.1 81.7l.5-1.5 1.2 1.1M76.3 83.7l-1.4-.8-1.3-.8-1.2-1.2.2-1.4M71.6 80.6l1-1.1.8 1.4M80.6 84l-1.3-.9-1.3-.9-1.2-1.1-.4-1.5 1.2-1.1M76 78.8l1.6-.3-.3 1.6M85.7 84.3l-1.2-1.1-1.1-1.1-.9-1.4 0-1.5 1.1-1.2.7-.4M82.7 77.6l1.6 0-.5 1.5M89.9 83.7l-.9-1.3-.6-1.5.2-1.6 1-1.2 1.4-.8M89.4 77.2l1.6.1-.7 1.4M93.9 84.2l-.8-1.4-.4-1.5.2-1.6 1-1.2 1.4-.9.7-.3M94.4 77.1l1.6.2-.7 1.4M99.5 83.6l-.3-1.6.4-1.5 1.1-1.2 1.3-.9.7-.3M101.2 77.9l1.5.2-.7 1.4M103.5 83.9l-.2-1.5.6-1.5 1.1-1.1 1.4-.9M104.8 78.8l1.6.1-.7 1.5M107.6 84.2l-.2-1.5.7-1.5 1.2-1M107.7 80.4l1.6-.2-.4 1.6M112.8 84.1l-.2-1.6.9-1.2M112 81.7l1.5-.4 0 1.6M117.8 84.2l-.7-1.3.2-.8M116.4 83.4l.9-1.3.9 1.3M121.7 84.7l-1-1.3.1-1.6M119.8 83.1l1-1.3.8 1.4M127.1 84.3l-.2-1.5.8-1.4M126.2 82.1l1.5-.7.1 1.5M130.7 84.3l.5-1.6 1-1.2.6-.5M131.3 81.2l1.5-.2-.3 1.5M135.2 83.8l1.1-1.1 1.2-1.1 1.3-.9 1.3-.9.7-.4M139.2 79.3l1.6.1-.6 1.4M140.3 84.1l1.3-1 1.3-1 1.3-.9 1.4-.8 1.3-.9 1.4-.8.6-.5M147.4 78.2l1.5 0-.6 1.5M145.3 84.2l1.4-.9 1.3-.9 1.3-.9 1.4-.9 1.3-.9 1.4-.8 1.3-.9.7-.4M153.8 77.5l1.6.1-.6 1.5M149.8 84l1.3-.9 1.3-.9 1.3-1 1.3-.9 1.3-.9 1.4-.8 1.4-.8.7-.4M158.2 77.2l1.6.2-.7 1.4M154.5 83.7l1.2-1 1.2-1.1 1.3-1 1.2-.9 1.4-.9 1.4-.8.7-.3M161.3 77.5l1.6.2-.7 1.4M159.3 84.5l.8-1.4.9-1.3 1.1-1.1 1.3-1M161.8 79.8l1.6-.1-.4 1.5M28.2 89.2l-1.2-1-1.2-1.1-1.2-1.1-1.2-1M23.8 86.5l-.4-1.5 1.6.2M32.6 88.4l-1.2-1-1.2-1.1-1.2-1-1.1-1.1M28.2 85.7l-.3-1.5 1.5.2M37.4 89.1l-1.2-1.1-1.2-1-1.2-1.1-1.2-1M32.9 86.4l-.3-1.5 1.5.2M41.5 88.2l-1.3-1-1.2-1.1-1.2-1-1.2-1.1M37 85.6l-.4-1.6 1.6.2M46.7 88.4l-1.3-1.1-1.2-1-1.2-1-1.2-1.1M42.2 85.7l-.4-1.5 1.6.2M50.3 88.8l-1.2-1-1.3-1.1-1.2-1-1.2-1M45.8 86.2l-.4-1.5 1.6.1M55.7 88.4l-1.3-.9-1.2-1-1.3-1-.6-.5M51.8 86.5l-.5-1.5 1.6.1M59.6 89l-1.4-.8-1.3-.9-1.3-1-.6-.5M55.5 87.3l-.5-1.5 1.6.1M64.6 88.8l-1.5-.7-1.4-.8-1.3-.8-.7-.5M60.3 87.5l-.6-1.5 1.6 0M69.2 89.1l-1.5-.6-1.5-.5-1.5-.7-.7-.3M64.8 88.4l-.8-1.4 1.6-.3M74 88.4l-1.5-.5-1.5-.5-1.5-.5-1.5-.6M68.9 87.6l-.9-1.3 1.5-.4M78.1 89.3l-1.4-.7-1.5-.6-1.5-.5-1.5-.5-.8-.3M72.4 88l-1-1.3 1.5-.4M83.3 88.7l-1.3-.9-1.3-.9-1.4-.8-1.4-.7-1.5-.7M77.2 86.1l-.8-1.4 1.6-.3M87.3 89.2l-1.1-1.2-1.1-1.1-1.3-1.1-1.2-.9-1.4-.9-1.3-.8M80.5 84.6l-.6-1.4 1.6-.1M91.8 88.7l-.8-1.4-1-1.3-1-1.2-1.1-1.2-1-1.2-.7-1.4M86 82.5l.2-1.5 1.4.7M96.8 89l-.7-1.4-.7-1.5-.8-1.4-.8-1.3-.6-1.5 0-1.6M92.3 81.6l.9-1.3.9 1.3M101.5 88.9l-.5-1.5-.6-1.5-.6-1.5-.5-1.5 0-1.6M98.4 82.6l.9-1.3.9 1.3M105.5 88.5l-.5-1.5-.5-1.5-.5-1.5-.1-1.6M103.1 83.8l.8-1.4 1 1.2M110.8 88.8l-.8-1.4-.6-1.5-.3-.7M108.7 86.7l.4-1.5 1.3.9M115.6 88.2l-1.2-1.1-.5-.6M114.1 88.1l-.2-1.6 1.6.3M120.3 88.7l-1.4-.8-1.3-.9M118.1 88.5l-.5-1.5 1.6 0M124.1 88.2l-1.2-1.1-1.2-1.1M122 87.6l-.3-1.6 1.6.3M128.4 89.3l-.7-1.5-.6-1.4M126.8 87.9l.3-1.5 1.3.8M133.8 89.3l.6-1.5.7-1.5.9-1.3M134.5 85.6l1.5-.6 0 1.6M138.5 88.6l1.1-1.2 1.1-1.1 1.2-1 1.3-1 1.3-1M142.9 83.4l1.6-.1-.5 1.5M142.3 88.7l1.2-1 1.3-1 1.2-1 1.3-.9 1.3-1 1.3-.9M148.4 82.9l1.5 0-.5 1.5M147 88.3l1.2-1 1.3-1 1.2-1 1.3-1 1.3-1 1.2-1 1.3-.9M154.2 81.4l1.6 0-.5 1.5M152 88.8l1.1-1.1 1.1-1.2 1.2-1.1 1-1.2 1.1-1.2 1.1-1.1M157.1 82.2l1.5-.3-.2 1.6M157.1 89.1l.8-1.4.7-1.4.8-1.4.7-1.5.5-.6M159.1 83.4l1.5-.6.1 1.5M160.5 88.3l.4-1.6.4-1.5.4-1.5.3-.8M160.7 83.9l1.3-1 .5 1.5M25.5 93.5l-1.2-1-1.2-1.1-1.2-1-1.2-1.1M21 90.9l-.3-1.6 1.6.2M30.6 93.4l-1.2-1.1-1.3-1-1.2-1.1-1.2-1M26.1 90.7l-.4-1.5 1.6.2M34.6 92.7l-1.3-1-1.2-1-1.2-1.1-1.2-1M30.1 90.1l-.4-1.5 1.6.1M39.1 93.7l-1.2-.9-1.3-1-1.2-1.1-1.2-1M34.6 91.2l-.4-1.5 1.5.1M43.3 93.3l-1.3-.9-1.3-1-1.2-1-1.2-1.1M38.7 90.9l-.4-1.6 1.5.2M48.9 93.9l-1.3-1-1.2-.9-1.3-1-1.3-1M44.3 91.5l-.5-1.5 1.6.1M52.4 93.1l-1.3-1-1.3-.9-1.2-1-1.3-1M47.8 90.7l-.5-1.5 1.6.1M57.2 93.9l-1.3-.9-1.3-.9-1.3-.9-.7-.5M53.1 92.2l-.5-1.5 1.6 0M62.6 93l-1.5-.7-1.4-.8-1.3-.8M59 92.1l-.6-1.4 1.6-.1M66.7 93.5l-1.5-.6-1.5-.6-.7-.3M63.8 93.3l-.8-1.3 1.5-.3M70.8 92.9l-1.5-.5-1.5-.4-1.5-.6M67.2 92.7l-.9-1.3 1.5-.4M76.3 93.1l-1.4-.7-1.5-.5-1.6-.5M72.8 92.7l-1-1.3 1.5-.4M80.3 93.8l-1.3-1-1.4-.8-1.4-.6-.8-.3M76.3 92.4l-.9-1.3 1.6-.4M85.5 93.7l-1-1.2-1.1-1.2-1.2-1-1.3-1-1.4-.8M80.1 89.9l-.6-1.4 1.6-.1M90.1 93.3l-.8-1.4-.9-1.3-.9-1.3-1.1-1.2-1.1-1.1-1.2-1M84.5 87.5l-.4-1.5 1.5.1M94 93.5l-.7-1.4-.7-1.4-.8-1.4-.9-1.3-.9-1.3-1.1-1.3-.5-.6M88.6 86.4l-.2-1.6 1.6.4M99.1 93.6l-.7-1.5-.7-1.4-.6-1.5-.7-1.4-.7-1.5-.8-1.4-.4-.7M94.4 85.8l.1-1.6 1.4.7M103.8 93.6l-.8-1.4-.6-1.4-.7-1.5-.5-1.5-.6-1.5-.3-.7M99.9 87.1l.4-1.5 1.3.9M107.7 92.9l-1-1.3-.7-1.4-.6-1.5-.6-1.5M104.4 88.7l.4-1.5 1.3.9M113.3 93.5l-1.4-.7-1.3-1-1-1.2M109.7 92.1l-.1-1.5 1.5.3M117.8 92.8l-1.5-.4-1.5-.6-.7-.3M114.9 92.8l-.8-1.3 1.5-.3M122 92.7l-1.5-.4-1.6-.4-.7-.3M119.2 92.9l-1-1.3 1.5-.5M126.2 92.8l-1.4-.9-1.4-.7-.7-.4M123.4 92.2l-.7-1.4 1.6-.2M130.8 93l-.8-1.4-.6-1.4-.4-.8M128.7 91l.3-1.6 1.4.9M135.3 93.5l0-1.6.4-1.6.6-1.4M134.9 89.7l1.4-.8.3 1.5M140.5 93.5l.7-1.4.9-1.3 1.1-1.2.5-.6M142.2 89.3l1.5-.3-.2 1.6M145.6 93l.9-1.3 1.1-1.2 1.1-1.1 1.2-1.1.6-.5M148.9 88l1.6-.2-.4 1.6M149.3 93.1l.9-1.4 1-1.2 1.1-1.2 1.1-1.2.5-.5M152.4 87.9l1.5-.3-.2 1.5M154.6 93.5l.5-1.5.7-1.5.8-1.4.8-1.3M156 88.4l1.4-.6.1 1.6M159.1 93l.1-1.6.2-1.6.5-1.5.2-.8M158.8 88.5l1.3-1 .5 1.5M27.3 97.9l-1.3-1-1.2-1.1-1.2-1-1.2-1.1M22.8 95.3l-.4-1.6 1.5.2M32.8 97.6l-1.3-1-1.2-.9-1.3-1.1-1.2-1M28.2 95.1l-.4-1.5 1.6.2M37.2 98.1l-1.3-.9-1.3-.9-1.3-1-1.2-1M32.5 95.8l-.4-1.5 1.6.1M41.3 98.1l-1.3-.8-1.3-1-1.3-.9-1.3-1M36.6 96l-.5-1.6 1.6.1M46.6 97.6l-1.3-.9-1.4-.9-1.3-.9-1.3-1M41.8 95.4l-.5-1.5 1.6.1M50.4 97.8l-1.3-.9-1.4-.9-1.3-.9-1.3-.9M45.6 95.7l-.5-1.5 1.6 0M54.9 97.8l-1.3-.8-1.4-.9-1.3-.9-.7-.4M50.8 96.2l-.6-1.4 1.6-.1M60.2 98.3l-1.4-.7-1.4-.8-.7-.4M57.4 97.8l-.7-1.4 1.6-.2M64.7 98l-1.5-.7-1.4-.7M62.6 98l-.8-1.4 1.6-.3M69.6 97.5l-1.5-.5-1.5-.6M67.5 97.7l-.9-1.3 1.6-.4M73.9 97.8l-1.4-.7-1.5-.6M71.9 97.8l-.9-1.3 1.5-.4M78.8 97.5l-1.2-1-1.4-.8-.7-.4M76.2 96.7l-.7-1.4 1.6-.2M82.6 97.4l-1-1.2-1.1-1.2-1.2-1-.7-.5M79.1 95l-.5-1.5 1.6.1M87.4 98.1l-.7-1.4-.8-1.4-.9-1.3-1-1.2-1.1-1.2M83.1 93.2l-.2-1.6 1.5.3M91.9 98.4l-.8-1.5-.7-1.4-.7-1.4-.8-1.4-.9-1.3-1-1.3M87.1 91.7l-.1-1.6 1.5.5M97.1 97.6l-.8-1.4-.7-1.4-.7-1.4-.7-1.5-.8-1.4-.7-1.4-.4-.7M92.1 90l.2-1.6 1.4.7M101.4 98.1l-.9-1.3-.8-1.4-.8-1.4-.7-1.5-.6-1.4-.7-1.5-.3-.7M96.3 90.5l.3-1.6 1.3.8M105.5 98.1l-1.2-1.2-1-1.2-.8-1.4-.8-1.4-.7-1.4-.3-.7M100.4 92.3l.3-1.5 1.4.8M110.7 98.3l-1.5-.7-1.3-.8-1.2-1.1-1.1-1.2-.9-1.3M104.7 94.8l0-1.6 1.5.5M114.9 97.5l-1.6-.4-1.5-.5-1.5-.7-1.3-.9M109.6 96.5l-.6-1.5 1.6 0M119.8 98.3l-1.6-.1-1.6-.2-1.6-.3-1.6-.3-.7-.2M113.7 98.4l-1-1.2 1.4-.6M123.8 97.5l-1.5-.3-1.6-.2-1.6-.2-1.6-.2M118.7 97.7l-1.2-1.1 1.4-.7M128.4 98.5l-1.5-.6-1.5-.5-1.5-.4-1.6-.3M123.4 97.8l-1.1-1.1 1.5-.7M133.8 97.4l-1.1-1.1-1.1-1.2-1-1.2M130.7 95.5l-.1-1.6 1.5.4M138.5 97.8l-.7-1.4-.5-1.5 0-1.6M136.4 94.6l.9-1.3.9 1.3M142.1 97.4l-.3-1.6.2-1.6.7-1.4M141.3 93.6l1.4-.8.3 1.5M147 97.3l-.1-1.5.4-1.6.8-1.4.4-.7M147.1 92.7l1.4-.6.1 1.6M151.5 97.4l-.2-1.6.3-1.6.6-1.5.4-.7M151.2 92.8l1.4-.8.2 1.6M156.1 97.4l-.5-1.5-.1-1.6.3-1.6.2-.7M154.8 93l1.2-1 .6 1.4M161 98.3l-.8-1.4-.7-1.4-.4-1.6-.1-1.6M158.2 93.7l.8-1.4 1 1.3M25.7 102.5l-1.2-.9-1.3-1-1.2-1-1.2-1.1M21.2 100.1l-.4-1.6 1.5.2M29.5 103l-1.3-.9-1.3-.9-1.3-1-1.3-1M24.8 100.7l-.5-1.5 1.6.1M34.1 101.9l-1.4-.8-1.3-.9-1.3-1-1.3-1M29.3 99.8l-.5-1.6 1.6.1M39.5 102.7l-1.4-.8-1.4-.8-1.3-.9-1.4-.9-.6-.4M33.9 100.4l-.5-1.5 1.6 0M44.1 102.2l-1.4-.7-1.4-.8-1.4-.8-1.4-.8-.6-.5M38.5 100.1l-.6-1.5 1.6 0M48.9 102.9l-1.5-.7-1.4-.7-1.4-.7-1.4-.8-.7-.4M43.2 101l-.7-1.4 1.6-.2M52.5 103l-1.5-.7-1.4-.7-1.4-.7-1.4-.8M47.5 101.5l-.7-1.4 1.6-.2M57.9 102.9l-1.4-.7-1.4-.8-1.4-.7M54.4 102.1l-.7-1.4 1.6-.2M62.2 102.9l-1.4-.8-1.5-.7M60.1 102.8l-.8-1.4 1.6-.2M67.3 103l-1.4-.8-.7-.3M65.9 103.3l-.7-1.4 1.5-.3M71.1 102.1l-1.4-.8-.7-.3M69.7 102.4l-.7-1.4 1.6-.2M76.2 102.4l-1.2-1-.6-.5M74.8 102.4l-.4-1.5 1.5.1M81 102.4l-.8-1.3-1-1.3-.5-.6M78.8 100.8l-.1-1.6 1.5.4M84.8 102.4l-.7-1.5-.7-1.4-.9-1.4-.4-.6M82 99.1l.1-1.6 1.4.5M90.4 102.7l-.7-1.4-.7-1.5-.7-1.4-.7-1.4-.8-1.4M86.6 97.1l.2-1.5 1.4.7M94 102.1l-.8-1.4-.7-1.4-.7-1.4-.7-1.5-.7-1.4-.8-1.4M89.4 95.2l.2-1.6 1.4.7M98.9 103l-1-1.2-1-1.3-.8-1.4-.8-1.4-.7-1.4-.7-1.5M93.7 96.4l.2-1.6 1.4.8M103.6 102.2l-1.2-1-1.1-1.2-1-1.2-.9-1.4-.8-1.3-.7-1.4-.4-.8M97.3 95.5l.2-1.6 1.4.8M107.9 102.2l-1.5-.8-1.3-.9-1.2-1-1.1-1.1-1-1.3-.9-1.3M100.9 97.4l0-1.6 1.5.5M112.8 102.2l-1.5-.4-1.5-.5-1.5-.7-1.4-.8-1.3-.9-1.1-1.1M104.8 99.4l-.3-1.6 1.5.2M116.9 102.9l-1.6-.2-1.5-.2-1.6-.4-1.6-.4-1.5-.5-1.4-.7M108.5 101.9l-.8-1.4 1.6-.3M122.2 102.6l-1.6-.2-1.6-.1-1.6-.2-1.6-.2-1.6-.2-.7-.1M114.6 102.7l-1.1-1.1 1.4-.7M126.3 102.4l-1.6-.3-1.5-.3-1.6-.2-1.6-.2-1.6-.2M119.6 102.3l-1.2-1.1 1.4-.7M131.7 102.2l-1.5-.6-1.5-.5-1.6-.5-1.5-.4-1.6-.3M125.1 101.1l-1.1-1.2 1.5-.6M135.7 102l-1.4-.7-1.4-.8-1.4-.7-1.5-.7-.7-.4M130.1 100.1l-.8-1.4 1.6-.2M140.3 102l-1.3-.9-1.3-1-1.2-1-1.2-1.2-.5-.5M135 98.9l-.2-1.5 1.5.3M145.3 103.1l-1.2-1-1.3-1-1.1-1.2-1-1.2-.8-1.4M139.8 98.9l.1-1.6 1.4.7M149.1 102.3l-1.1-1.1-1.1-1.2-.8-1.4-.5-1.5 0-1.6M144.7 96.8l.9-1.3.9 1.3M154.7 102l-1-1.2-1-1.2-.7-1.5-.4-1.5 0-1.6M150.7 96.3l.9-1.3.9 1.3M159.2 102l-1.1-1.2-1-1.2-.8-1.4-.6-1.4-.3-1.6M154.7 96.6l.7-1.4 1.1 1.1M27.7 107.4l-1.4-.8-1.3-.9-1.3-.9-1.3-1M22.9 105.3l-.5-1.5 1.6.1M32.6 107.5l-1.4-.8-1.4-.7-1.3-.9-1.4-.8M27.7 105.7l-.6-1.4 1.6-.1M36.7 107.1l-1.5-.6-1.4-.7-1.4-.7-1.4-.8-.7-.5M30.9 105.3l-.6-1.5 1.6-.1M41.1 107.7l-1.6-.5-1.4-.6-1.5-.7-1.5-.7-1.4-.7M34.5 105.9l-.8-1.4 1.6-.2M46.4 107l-1.5-.6-1.5-.6-1.5-.6-1.5-.6-1.4-.7M39.8 105.3l-.8-1.4 1.6-.3M50.7 107.2l-1.5-.6-1.5-.6-1.5-.6-1.5-.6-.7-.3M44.9 105.9l-.9-1.4 1.6-.3M55.1 106.9l-1.4-.7-1.5-.6-1.5-.6-1.4-.7M50.1 105.7l-.8-1.4 1.5-.3M60.4 106.7l-1.4-.7-1.5-.7-.7-.4M57.6 106.3l-.8-1.4 1.6-.2M65 107.2l-1.3-.8-1.4-.8M63 107l-.7-1.4 1.5-.2M69.1 107.1l-1.4-.9-.7-.4M67.6 107.2l-.6-1.4 1.6-.1M73.1 106.9l-1.2-1-.6-.5M71.7 106.9l-.4-1.5 1.5.1M78.3 106.6l-1-1.3-1-1.2M76.4 105.6l-.1-1.5 1.5.4M82.3 106.5l-.7-1.4-.8-1.4-.4-.7M80.2 104.6l.2-1.6 1.4.7M87.6 106.5l-.7-1.4-.6-1.5-.7-1.4-.7-1.5M84.7 102.3l.2-1.6 1.4.8M92.6 107.3l-.8-1.4-.8-1.4-.8-1.4-.6-1.4-.7-1.5M88.6 101.8l.3-1.6 1.4.8M97 106.6l-1.1-1.3-.9-1.2-.9-1.4-.8-1.4-.7-1.4-.4-.7M92 100.8l.2-1.6 1.4.7M101.3 106.7l-1.3-.9-1.1-1.1-1.1-1.2-1-1.3-.8-1.3-.9-1.4M95 101.1l.1-1.6 1.5.7M106.4 106.9l-1.5-.6-1.4-.8-1.3-.9-1.2-1-1.1-1.2-1.1-1.2-.4-.6M98.4 102.2l0-1.6 1.5.4M110.1 107l-1.5-.4-1.5-.5-1.5-.7-1.4-.7-1.3-.9-1.2-1-.6-.6M101.4 103.7l-.3-1.5 1.6.2M114.9 106.7l-1.6-.2-1.6-.3-1.5-.4-1.6-.4-1.5-.6-1.4-.7-1.4-.8M105 104.7l-.7-1.4 1.6-.1M120 106.8l-1.6-.2-1.5-.2-1.6-.1-1.6-.3-1.6-.2-1.6-.4-.7-.2M110.8 106.4l-1-1.2 1.4-.5M124.8 107.4l-1.6-.3-1.6-.2-1.6-.2-1.6-.1-1.5-.2-1.6-.2-.8-.1M115.6 107.2l-1.1-1.1 1.4-.7M129.3 107.4l-1.5-.4-1.6-.3-1.6-.3-1.5-.2-1.6-.3-1.6-.1-.8-.1M120.3 106.7l-1.2-1 1.4-.8M134 107.6l-1.6-.4-1.5-.5-1.6-.4-1.5-.3-1.6-.4-1.5-.3-.8-.1M125 106.3l-1.1-1.1 1.4-.7M137.5 106.8l-1.5-.6-1.5-.5-1.5-.5-1.5-.5-1.5-.5-1.6-.4-.8-.2M128.7 104.8l-1.1-1.2 1.5-.6M143.2 107.2l-1.4-.8-1.5-.6-1.4-.7-1.5-.7-1.5-.6-1.4-.7-.7-.3M134.6 104.1l-.8-1.3 1.5-.3M147.8 107.1l-1.4-.9-1.3-.8-1.4-.8-1.4-.9-1.3-.8-1.3-.9-.7-.5M139.6 103l-.6-1.5 1.6 0M151.7 107.5l-1.3-.9-1.3-1-1.3-.9-1.3-.9-1.3-1-1.2-1-.6-.5M143.8 102.8l-.4-1.5 1.6.1M156.2 107l-1.2-1.1-1.2-1-1.2-1-1.2-1.1-1.1-1.1-1.1-1.3M149.4 102l-.2-1.6 1.5.4M161.5 107l-1.2-1.1-1.1-1.1-1.2-1.2-1.1-1.1-1.1-1.2-1-1.2M154.9 101.7l-.1-1.6 1.5.4M25.6 111.3l-1.4-.8-1.3-.9-1.4-.9-1.2-.9M20.8 109.3l-.5-1.5 1.5 0M29.7 112.3l-1.5-.7-1.5-.7-1.3-.7-1.4-.9M24.6 110.8l-.6-1.5 1.6-.1M34.2 111.3l-1.5-.5-1.5-.6-1.4-.7-1.5-.7-.7-.4M28.4 109.8l-.8-1.4 1.6-.2M38.6 111.2l-1.5-.4-1.6-.5-1.5-.5-1.5-.6-1.4-.6M31.9 109.9l-.8-1.3 1.5-.3M43.7 111.8l-1.6-.3-1.5-.4-1.6-.3-1.5-.5-1.6-.4-.7-.3M36.1 110.9l-.9-1.3 1.5-.5M48.9 112.3l-1.6-.4-1.6-.4-1.5-.3-1.6-.4-1.5-.4-1.6-.4M40.6 111.2l-1.1-1.2 1.5-.6M52.8 111.7l-1.5-.5-1.5-.5-1.6-.4-1.5-.5-1.5-.4-.8-.2M45.4 110.4l-1-1.2 1.5-.6M57.5 111.7l-1.5-.7-1.5-.6-1.5-.5-1.5-.6-.7-.2M51.7 110.4l-.9-1.3 1.5-.5M62.6 111.6l-1.4-.8-1.4-.7-1.4-.7-.8-.3M58.4 110.4l-.8-1.3 1.6-.3M67.1 112.1l-1.3-.9-1.4-.8-1.4-.8M63.7 111l-.7-1.4 1.6-.2M71.3 111.5l-1.2-1-1.3-1-.7-.4M68.6 110.6l-.5-1.5 1.6 0M75.5 111.9l-1.1-1.1-1.1-1.2-1.2-1M72.4 110.1l-.3-1.5 1.5.2M81 111.9l-1-1.3-.9-1.3-.9-1.3-.5-.7M77.7 108.9l0-1.6 1.5.5M84.9 111.9l-.8-1.3-.9-1.4-.8-1.4-.4-.6M81.9 108.7l.1-1.5 1.5.6M89.5 112.1l-1-1.3-.8-1.4-.8-1.4-.8-1.4M85.9 108.2l.2-1.6 1.4.8M94.9 111.5l-1.1-1.1-1-1.2-1-1.3-.9-1.4-.4-.7M90.4 107.4l.1-1.6 1.5.7M99.1 111.6l-1.3-.8-1.2-1.1-1.2-1.1-1-1.2-1-1.3M93.4 107.7l0-1.6 1.5.5M103.4 112.2l-1.5-.6-1.4-.7-1.4-.9-1.3-.9-1.1-1.1-1.1-1.2M95.8 108.4l-.2-1.6 1.5.3M108 112.1l-1.6-.4-1.5-.4-1.5-.6-1.5-.6-1.4-.8-1.3-.9-.6-.5M99.1 109.4l-.5-1.5 1.6 0M113.1 111.2l-1.6-.1-1.6-.3-1.5-.3-1.6-.4-1.5-.4-1.5-.6-1.4-.8M103.1 109.7l-.7-1.4 1.5-.2M117.8 111.6l-1.6-.2-1.6-.1-1.6-.2-1.6-.2-1.6-.2-1.5-.3-1.6-.4-.7-.2M107 111l-1-1.2 1.5-.5M121.8 111.6l-1.5-.1-1.6-.2-1.6-.1-1.6-.2-1.6-.1-1.6-.2-1.6-.2-.8-.1M111.1 111.5l-1.2-1.1 1.4-.7M126.5 111.6l-1.6-.3-1.6-.2-1.6-.2-1.6-.2-1.5-.1-1.6-.2-1.6-.1-.8-.1M115.8 111.2l-1.2-1 1.3-.8M131.5 111.5l-1.6-.4-1.5-.3-1.6-.4-1.6-.2-1.5-.3-1.6-.2-1.6-.2-.8-.1M120.9 110.5l-1.2-1.1 1.4-.7M135.4 112l-1.5-.4-1.6-.5-1.5-.3-1.6-.4-1.6-.3-1.5-.3-1.6-.3-.8-.1M124.8 110.5l-1.1-1.1 1.4-.7M140.3 111.7l-1.5-.5-1.5-.5-1.5-.5-1.5-.5-1.6-.4-1.5-.4-1.6-.4-.8-.2M129.9 109.5l-1.1-1.2 1.5-.6M144.6 111.9l-1.4-.7-1.5-.6-1.5-.6-1.5-.6-1.5-.5-1.5-.6-1.5-.4-.8-.3M134.4 108.9l-1-1.3 1.5-.5M149.7 111.9l-1.3-.9-1.4-.8-1.4-.8-1.4-.7-1.4-.7-1.5-.7-1.5-.7M140.7 108l-.9-1.4 1.6-.3M154.7 111.2l-1.2-1-1.3-1-1.3-.9-1.3-.9-1.3-.9-1.4-.9-1.3-.9M146.2 106.2l-.6-1.5 1.6 0M158.8 111.2l-1.1-1.1-1.2-1.1-1.3-1-1.2-1.1-1.2-1-1.3-1-.6-.5M151.3 106l-.4-1.6 1.6.1M27.5 116.5l-1.5-.6-1.4-.7-1.4-.7-1.4-.8M22.5 115.1l-.7-1.4 1.6-.1M32.7 116l-1.6-.3-1.5-.4-1.5-.6-1.5-.6-.7-.3M26.7 115.2l-.8-1.4 1.5-.3M37.4 116.8l-1.6-.1-1.6-.2-1.6-.3-1.5-.3-1.6-.5M30.5 116.7l-1-1.3 1.5-.5M42 116.2l-1.6-.1-1.6-.2-1.6-.1-1.6-.2-1.5-.3-1.6-.3M33.6 116.2l-1.1-1.2 1.4-.6M46.3 116.3l-1.6-.2-1.6-.2-1.6-.1-1.6-.2-1.6-.2-1.6-.2-.8-.1M37.1 116.2l-1.2-1.1 1.4-.7M50.2 116l-1.6-.3-1.6-.3-1.5-.2-1.6-.2-1.6-.2-1.6-.2-.8-.1M41.1 115.5l-1.2-1 1.4-.8M55.7 115.9l-1.5-.5-1.5-.5-1.6-.4-1.5-.4-1.6-.3-1.6-.4-.7-.1M46.8 114.4l-1.1-1.1 1.4-.7M59.8 116.5l-1.4-.7-1.5-.6-1.5-.6-1.5-.5-1.5-.5-1.5-.5M51.9 114.4l-1-1.3 1.5-.5M64.4 116.4l-1.4-.9-1.3-.8-1.4-.7-1.5-.7-1.4-.7-.8-.3M57.5 113.7l-.9-1.4 1.6-.3M69.2 115.9l-1.3-1-1.3-1-1.3-.9-1.3-.9-.7-.4M63.9 113.2l-.6-1.5 1.6-.1M73.1 116.3l-1.1-1.1-1.2-1.1-1.2-1-1.3-1-.6-.4M68.2 113.2l-.5-1.5 1.6 0M78.5 116.4l-1.1-1.2-1-1.2-1.1-1.2-1.1-1.2-.6-.5M73.9 112.6l-.3-1.5 1.6.2M83.5 115.9l-1-1.3-1-1.3-.9-1.2-1-1.3-.5-.7M79.2 111.7l-.1-1.6 1.6.5M87 116.7l-1-1.2-1-1.3-1-1.3-.9-1.3-.4-.6M82.7 112.5l0-1.5 1.5.5M92.6 116.9l-1.2-1.1-1.2-1.1-1-1.2-1-1.3M88.3 113.8l-.1-1.6 1.5.5M97.2 116.2l-1.4-.8-1.3-1-1.2-1-1.2-1.1-.5-.6M91.8 113.3l-.2-1.6 1.6.3M101.4 116.5l-1.5-.5-1.5-.6-1.4-.8-1.4-.9-1.2-1M94.8 114.2l-.4-1.5 1.6.1M106 116.2l-1.6-.2-1.6-.3-1.5-.5-1.5-.5-1.4-.7-1.4-.9M97.6 114.6l-.6-1.5 1.6-.1M110.9 116.6l-1.6 0-1.6-.1-1.6-.1-1.6-.2-1.6-.3-1.5-.4-1.5-.6M100.8 116.2l-.9-1.3 1.5-.4M114.5 116.8l-1.6 0-1.6 0-1.6 0-1.6-.1-1.6-.1-1.5-.2-1.6-.2-.8-.2M103.7 117.1l-1.1-1.1 1.4-.6M119.6 116.6l-1.6-.1-1.6-.1-1.6 0-1.6 0-1.6 0-1.6-.1-1.6 0-.8-.1M108.9 117.2l-1.3-1 1.4-.8M124.9 116.5l-1.6-.2-1.6-.2-1.6-.2-1.6-.1-1.6 0-1.6-.1-1.6 0-.8-.1M114.2 116.6l-1.3-1 1.3-.8M128.6 116.4l-1.6-.3-1.5-.3-1.6-.2-1.6-.2-1.6-.2-1.6-.1-1.6-.1-.8 0M118 115.9l-1.3-.9 1.4-.9M133.4 115.9l-1.5-.4-1.6-.4-1.5-.3-1.6-.4-1.6-.2-1.6-.3-1.6-.2-.7-.1M122.8 114.7l-1.1-1.1 1.4-.7M137.7 116.6l-1.5-.5-1.5-.5-1.6-.5-1.5-.4-1.6-.3-1.5-.4-1.6-.3-.8-.1M127.2 114.7l-1.1-1.1 1.4-.7M142.6 116.2l-1.4-.7-1.5-.6-1.5-.5-1.5-.6-1.5-.4-1.6-.5-1.5-.4-.8-.2M132.3 113.5l-1-1.2 1.5-.5M147.1 116.4l-1.3-.8-1.4-.8-1.4-.7-1.5-.7-1.5-.6-1.5-.5-1.5-.6-.8-.2M137.2 112.8l-1-1.3 1.6-.5M152.1 116.7l-1.3-1.1-1.2-1-1.4-.9-1.3-.8-1.4-.8-1.4-.7-1.5-.7-.7-.3M142.7 111.8l-.8-1.4 1.5-.3M156.3 116.4l-1.2-1.1-1.1-1.1-1.2-1-1.3-1-1.3-1-1.3-.8-1.4-.9-.7-.4M147.5 110.6l-.7-1.5 1.6-.1M161.1 115.8l-1-1.2-1.1-1.2-1.2-1.1-1.1-1.1-1.2-1-1.3-1.1-1.2-1M153.4 109.7l-.4-1.6 1.6.1M25.8 121l-1.5-.5-1.5-.6-1.4-.7-.7-.4M21.4 120.2l-.7-1.4 1.6-.2M30 120.9l-1.6-.2-1.6-.4-1.5-.5-1.5-.5M24.7 120.6l-.9-1.3 1.6-.4M34.6 120.8l-1.6 0-1.6-.1-1.6-.2-1.5-.3-.8-.1M28.6 121.2l-1.1-1.1 1.4-.7M39.2 121.3l-1.6.1-1.6.1-1.6.1-1.6 0-1.6 0-.8-.1M31.7 122.5l-1.3-1 1.4-.8M43.7 121.2l-1.6.1-1.6.1-1.6.1-1.6.1-1.6.1-1.6.1M35.4 122.7l-1.3-.9 1.2-.9M47.8 120.7l-1.6-.1-1.6 0-1.6 0-1.6 0-1.6.1-1.6.1-1.6.1M38 121.7l-1.4-.8 1.3-1M53.3 121.1l-1.6-.4-1.5-.3-1.6-.2-1.6-.1-1.6-.1-1.6 0-1.6 0-.8 0M42.7 120.9l-1.3-.9 1.3-.9M57.1 120.7l-1.5-.6-1.5-.5-1.5-.4-1.6-.3-1.6-.3-1.6-.2-1.5-.2-.8-.1M46.7 119.1l-1.2-1 1.3-.8M62.1 121.3l-1.3-.9-1.4-.7-1.5-.7-1.4-.7-1.5-.5-1.6-.5-1.5-.4-.8-.2M52.1 117.9l-1-1.2 1.5-.6M66.3 120.5l-1.2-1-1.3-.9-1.4-.9-1.4-.8-1.4-.8-1.4-.6-1.5-.7M57.5 116.2l-.8-1.4 1.6-.3M71.2 120.8l-1.2-1.1-1.2-1.1-1.2-1-1.2-1-1.4-1-1.3-.8-.7-.4M63.6 115.8l-.6-1.4 1.6-.1M76.2 120.8l-1-1.2-1.1-1.2-1.1-1.2-1.1-1.1-1.2-1.1-1.3-1M69.9 115.5l-.5-1.5 1.6.2M80.9 120.6l-1.1-1.3-1-1.2-1-1.2-1.1-1.2-1.1-1.2-.5-.6M75.3 115.5l-.2-1.6 1.6.4M85 121.2l-1-1.2-1-1.2-1.1-1.2-1-1.3-1-1.2M80 116.7l-.1-1.6 1.5.4M89.7 120.9l-1.1-1.1-1.2-1.1-1-1.2-1.1-1.2-.5-.7M84.9 117.2l-.1-1.6 1.5.5M94.3 120.4l-1.3-.8-1.3-1-1.2-1-1.2-1.2M89.6 118l-.3-1.6 1.6.3M99 120.4l-1.5-.5-1.5-.6-1.4-.8-1.3-.9-.7-.5M93.1 118.6l-.5-1.5 1.6.1M103.2 121.2l-1.6-.1-1.6-.2-1.6-.4-1.5-.5-1.4-.6M96.3 120.7l-.8-1.3 1.5-.3M108.5 121.5l-1.6.1-1.6.2-1.6.1-1.6-.1-1.6-.1-1.6-.2M100.1 122.6l-1.2-1.1 1.5-.7M113.1 120.8l-1.6.1-1.6.2-1.6.2-1.6.1-1.6.2-1.6 0-1.6 0M103.2 122.5l-1.3-.9 1.4-.9M117 120.6l-1.6 0-1.5.1-1.6.2-1.6.1-1.6.2-1.6.2-1.6.1-.8.1M106.5 122.4l-1.4-.8 1.2-1M121.7 121.4l-1.6-.1-1.6 0-1.6 0-1.6.1-1.6.1-1.6.2-1.6.2-.8.1M111.2 122.8l-1.5-.8 1.2-1.1M126.5 120.9l-1.6-.3-1.5-.2-1.6-.2-1.6-.1-1.6 0-1.6 0-1.6 0-.8.1M115.9 121l-1.3-.8 1.2-1M131.2 120.4l-1.5-.4-1.6-.4-1.5-.4-1.6-.2-1.6-.3-1.6-.2-1.6-.1-.8 0M120.7 119.4l-1.3-1 1.4-.8M135.9 120.3l-1.5-.6-1.5-.5-1.5-.5-1.5-.4-1.6-.4-1.6-.3-1.5-.3-.8-.1M125.5 118.3l-1.1-1.1 1.4-.7M140.6 120.6l-1.4-.8-1.5-.7-1.5-.6-1.5-.5-1.5-.5-1.5-.5-1.6-.4M131.2 117.8l-1.1-1.2 1.5-.5M145.6 121.1l-1.3-1-1.3-.9-1.4-.8-1.5-.7-1.4-.6-1.5-.6-1.5-.5M136.6 117.2l-.9-1.2 1.5-.5M149.6 120.4l-1.2-1.1-1.2-1-1.3-.9-1.4-.8-1.4-.8-1.4-.7-1.5-.6M141 115.8l-.8-1.3 1.6-.3M153.9 120.6l-1-1.2-1.1-1.1-1.2-1.1-1.2-1-1.3-1-1.4-.8-1.4-.8M146 115l-.7-1.4 1.6-.2M159.3 120.9l-.9-1.3-1-1.3-1-1.2-1.1-1.1-1.2-1.2-1.2-1-1.2-1M152.1 114.3l-.4-1.5 1.6.1M27.7 125.5l-1.6-.3-1.5-.3-1.6-.5-.7-.3M23.2 125.4l-.9-1.3 1.5-.4M32.1 125.7l-1.6.1-1.6 0-1.6-.1-1.5-.2M26.9 126.6l-1.1-1.1 1.4-.7M36.9 125.6l-1.6.3-1.6.3-1.6.2-1.6.1-1.6.1M30.3 127.5l-1.4-.9 1.3-1M41.8 125.7l-1.6.3-1.6.4-1.5.3-1.6.4-1.5.4-.8.1M34.6 128.3l-1.4-.7 1.1-1.1M45.7 126l-1.6.2-1.6.3-1.5.3-1.6.4-1.5.4-1.5.5M37.9 128.6l-1.5-.5 1-1.3M50.3 125.6l-1.6-.1-1.6 0-1.6.1-1.6.1-1.6.3-1.5.3-.8.2M41.5 127.1l-1.5-.6 1.1-1.2M55.8 126.1l-1.5-.6-1.5-.4-1.6-.3-1.6-.2-1.6-.1-1.6 0-1.6.1M46.2 125.4l-1.4-.8 1.3-1M59.7 125.6l-1.3-.9-1.5-.7-1.5-.6-1.5-.5-1.5-.4-1.6-.3-1.6-.2-.8-.1M49.6 123l-1.2-1.1 1.4-.7M64.7 125.2l-1.2-1.1-1.3-.9-1.3-.9-1.4-.8-1.4-.7-1.5-.7-1.5-.5-.8-.3M55.3 120.6l-1-1.3 1.5-.4M69 125.6l-1.1-1.2-1.1-1.1-1.2-1.1-1.3-1-1.3-.9-1.3-.9-1.4-.8-.7-.3M60.3 119.7l-.7-1.4 1.6-.2M73.3 125.8l-.9-1.2-1.1-1.3-1.1-1.1-1.1-1.2-1.2-1.1-1.2-1-1.3-1-.6-.4M65.3 119l-.5-1.5 1.6 0M78.9 124.9l-1-1.3-1-1.2-1-1.3-1-1.2-1.1-1.1-1.1-1.2-.6-.5M72.4 118.6l-.3-1.5 1.6.2M83.5 125.5l-1-1.3-1-1.2-1-1.3-1-1.2-1-1.2-.6-.6M78.1 120.2l-.2-1.5 1.6.4M87.9 125.5l-1.2-1.2-1-1.1-1.1-1.2-1-1.3-1.1-1.2M82.7 121.1l-.2-1.6 1.6.4M92.1 125l-1.3-1-1.3-1-1.1-1.1-1.2-1.1M87.5 122.4l-.3-1.6 1.6.3M96.4 124.9l-1.5-.5-1.4-.7-1.4-.9-1.2-.9M91.4 123.4l-.5-1.5 1.6 0M101.3 125.7l-1.6 0-1.5-.2-1.6-.3-1.5-.5M96 125.9l-.9-1.2 1.5-.5M105.8 126l-1.6.3-1.5.3-1.6.2-1.6.1-1.6-.2M99.1 127.7l-1.2-1 1.4-.8M111 125.2l-1.5.4-1.5.4-1.6.5-1.5.4-1.6.3-1.6.3M103.2 128.2l-1.5-.7 1.2-1.1M114.9 125.1l-1.6.3-1.5.4-1.6.4-1.5.5-1.5.5-1.5.5-.8.2M106.4 128.4l-1.5-.5 1-1.2M119.4 125.7l-1.6.1-1.6.2-1.6.3-1.6.3-1.5.5-1.5.5-.8.3M110.8 128.3l-1.6-.4 1-1.3M124.6 126.1l-1.6-.3-1.5-.2-1.6-.1-1.6.1-1.6.1-1.6.2-.8.2M115.7 126.8l-1.4-.7 1.1-1.1M128.9 125.4l-1.5-.6-1.5-.4-1.6-.4-1.6-.2-1.6-.1-1.5-.1-1.6 0M119.3 124.5l-1.3-.9 1.2-.9M134 125l-1.4-.8-1.4-.7-1.5-.6-1.5-.4-1.6-.4-1.5-.4-1.6-.2M124.6 122.6l-1.1-1.1 1.4-.7M138.1 125.3l-1.3-1-1.3-.8-1.4-.8-1.5-.6-1.5-.6-1.5-.5-.8-.2M129.8 122l-1-1.2 1.5-.5M143 125.3l-1.1-1.1-1.3-1.1-1.3-.9-1.4-.8-1.4-.7-1.5-.6M135.9 121.4l-.9-1.3 1.6-.3M146.9 126l-1-1.3-1-1.2-1.2-1.1-1.3-.9-1.3-.9-1.4-.8M140.4 121.2l-.7-1.4 1.6-.2M152.5 126l-.8-1.4-.9-1.3-1-1.3-1.1-1.2-1.1-1.1-1.3-.9-.6-.5M146.2 119.8l-.5-1.5 1.5 0M156.1 125.3l-.8-1.4-.8-1.4-.9-1.3-1-1.2-1.1-1.2-1.2-1.1-1.2-1M149.5 118.2l-.4-1.5 1.5.1M161 125.4l-.8-1.4-.8-1.4-.8-1.4-.9-1.3-1-1.3-1-1.2-.6-.6M155.3 118.4l-.2-1.6 1.6.4M25.4 130.5l-1.5-.3-1.6-.5-1.5-.5M21.7 130.5l-.9-1.3 1.6-.4M30.6 130.4l-1.6.2-1.6.1-1.6-.1-.8-.1M26.2 131.5l-1.2-1 1.4-.8M34.9 130.1l-1.5.4-1.6.5-1.5.3-1.6.2M30.1 132.2l-1.4-.7 1.2-1.1M39 130.7l-1.5.6-1.5.6-1.5.6-1.5.6-.7.3M33.8 133.8l-1.5-.4.9-1.3M43.7 130.7l-1.5.5-1.5.6-1.5.7-1.4.7-1.4.7M38 134.1l-1.6-.2.7-1.4M48.7 129.9l-1.6.1-1.6.3-1.5.4-1.5.5-1.5.6-.8.3M41.8 132.4l-1.6-.3.9-1.3M52.6 130.4l-1.5-.4-1.6-.1-1.6 0-1.6.2-1.6.4-.7.2M45.5 131.2l-1.5-.5 1-1.2M57.8 130.2l-1.4-.9-1.4-.7-1.5-.5-1.5-.4-1.6-.2-1.6-.1-.8 0M49.3 128.3l-1.3-.9 1.3-.9M62.2 129.8l-1.1-1.1-1.2-1-1.4-.9-1.4-.8-1.4-.6-1.5-.6-1.6-.4-.8-.1M52.9 125.4l-1.1-1.1 1.5-.6M67.3 130.1l-1-1.3-1-1.2-1.1-1.1-1.2-1.1-1.3-1-1.3-.9-1.4-.8-.7-.4M59 123.8l-.7-1.5 1.6-.1M71.9 130.5l-.9-1.4-.9-1.3-1-1.3-1-1.2-1.1-1.1-1.2-1.1-1.2-1-.6-.5M64.4 123.1l-.4-1.5 1.6.1M76.3 129.7l-.9-1.4-.9-1.3-.9-1.3-1-1.2-1-1.3-1.1-1.1-1.1-1.2-.6-.5M69.1 121.9l-.3-1.5 1.6.2M80.2 129.9l-.9-1.3-.9-1.3-.9-1.3-1-1.3-.9-1.3-1.1-1.2-.5-.6M74.2 123.1l-.2-1.5 1.6.4M85.7 129.7l-.9-1.3-1-1.3-1-1.2-1-1.3-1-1.3-.5-.6M80.4 124.3l-.1-1.6 1.6.5M89.3 129.7l-1.2-1.1-1-1.2-1.1-1.2-1.1-1.2-.5-.6M84.6 126l-.2-1.6 1.6.4M94.1 130.2l-1.4-.8-1.3-.9-1.3-1-.6-.5M89.9 128.5l-.4-1.5 1.6.1M98.5 130.4l-1.5-.2-1.6-.4-1.5-.6-.7-.4M94 130.2l-.8-1.4 1.6-.2M103.7 130.2l-1.5.5-1.6.3-1.6.1-1.6-.1M98.7 132l-1.3-1 1.4-.8M108.6 129.9l-1.5.7-1.4.7-1.4.7-1.5.6-.8.2M103.5 133.2l-1.5-.4.9-1.3M113.3 130.1l-1.4.6-1.5.7-1.3.8-1.4.9-1.3.9M108 134l-1.6 0 .6-1.5M117.6 130.4l-1.6.4-1.5.5-1.4.7-1.4.8-.7.4M112.6 133.3l-1.6-.1.6-1.4M121.8 130.5l-1.5-.2-1.6.1-1.6.2-1.6.5-.7.2M116.3 131.8l-1.5-.5.9-1.2M126.1 130.1l-1.5-.6-1.5-.5-1.6-.2-1.6-.1-1.6.1M119.6 129.6l-1.3-.8 1.2-1M131.2 129.6l-1.2-1-1.4-.9-1.4-.6-1.5-.6-1.6-.4-.8-.1M124.4 127.1l-1.1-1.1 1.5-.6M135.9 130.7l-.9-1.3-1.1-1.2-1.2-1-1.4-.9-1.4-.8-.7-.3M130 126.6l-.8-1.4 1.6-.3M140.6 129.9l-.7-1.4-1-1.3-1.1-1.1-1.3-1-1.3-.9-.7-.4M135.1 125.2l-.6-1.4 1.6-.1M145.1 130.4l-.5-1.5-.8-1.4-.9-1.3-1-1.2-1.2-1.1-.6-.5M140.5 125l-.4-1.6 1.5.1M149.9 130.4l-.5-1.5-.6-1.5-.7-1.4-.9-1.4-1-1.2-1.1-1.1M145.3 123.8l-.2-1.5 1.5.3M154.6 130l-.5-1.5-.6-1.5-.7-1.5-.8-1.4-.8-1.3-1.1-1.2-.5-.6M149.8 122.5l-.2-1.5 1.6.3M159.1 130.1l-.5-1.5-.6-1.5-.6-1.5-.7-1.4-.8-1.4-.9-1.3-.5-.7M154.5 122.4l0-1.6 1.5.6M27.5 134.6l-1.6 0-1.6-.2-1.5-.4M23.8 135.2l-1-1.2 1.5-.6M32.9 135l-1.5.5-1.6.4-1.6.3M29.7 136.9l-1.5-.7 1.2-1.1M36.9 135.3l-1.4.8-1.4.8-1.4.7-.7.3M33.5 138.2l-1.5-.3.8-1.3M41.7 134.8l-1.4.8-1.3.9-1.3 1-.6.5M38.7 137.9l-1.6.1.5-1.5M46.3 134.6l-1.5.6-1.4.7-1.4.9-.6.5M43 137.3l-1.6 0 .5-1.5M50.2 134.6l-1.6.1-1.6.2-1.5.6-.8.3M46.3 136.1l-1.6-.3.9-1.3M55 135.2l-1.3-.8-1.5-.6-1.6-.4-1.6 0M50.3 134.3l-1.3-.9 1.3-.9M60.2 134.2l-1-1.2-1.2-1.1-1.3-1-1.4-.7-1.4-.7-1.6-.4M53.3 130.3l-1-1.2 1.5-.5M64.1 134.1l-.8-1.3-1-1.3-1-1.2-1.2-1.1-1.3-.9-1.4-.9-1.4-.7M56.8 128.1l-.8-1.4 1.6-.2M69.4 135l-.6-1.5-.8-1.4-.8-1.3-1-1.3-1-1.3-1.1-1.1-1.1-1.1-.7-.5M62.7 127l-.4-1.5 1.6.1M73.5 134.3l-.7-1.4-.7-1.5-.8-1.3-.9-1.4-1-1.3-1-1.2-1.1-1.2-.5-.6M67 126l-.2-1.6 1.5.4M78 134.8l-.7-1.4-.7-1.4-.8-1.4-.8-1.4-.9-1.4-.9-1.3-1-1.2M72.3 126.9l-.1-1.6 1.5.4M82.5 134.1l-.8-1.3-.9-1.4-.8-1.4-.9-1.3-.9-1.4-.9-1.3M77.3 127.6l0-1.6 1.5.6M87.2 135.3l-.9-1.3-.9-1.3-1-1.3-.9-1.3-.9-1.3M82.6 130.4l0-1.6 1.5.5M91.7 134.9l-1.2-1.1-1.2-1.1-1.1-1.1-.5-.6M87.9 132.5l-.2-1.5 1.5.3M97.2 135.2l-1.5-.5-1.5-.6-.7-.4M94.3 135.1l-.8-1.4 1.6-.2M101.5 134.7l-1.6.3-1.6.1-1.6-.3M97.9 135.9l-1.2-1.1 1.4-.7M106.2 135.1l-1.3 1-1.4.8-1.4.7M103.6 137.9l-1.5-.3.7-1.4M110.4 134.8l-1.2 1-1.2 1.1-1.1 1.2-.6.5M107.9 138.3l-1.6.3.3-1.5M115.1 134.1l-1.3.9-1.2 1-1.1 1.2M113 136.8l-1.5.4.2-1.6M120.1 135.1l-1.6.1-1.5.4M118.5 136.1l-1.5-.5 1-1.2M124.7 134.3l-1.2-1-1.5-.6-1.5-.3M121.6 133.5l-1.1-1.1 1.4-.7M128.6 134.7l-.8-1.4-1-1.2-1.3-.9-.7-.4M125.4 132.2l-.6-1.4 1.6-.1M133.3 134.3l-.5-1.5-.8-1.4-1-1.3-1.2-1-1.4-.9M129 129.7l-.6-1.5 1.6 0M137.5 134.3l-.3-1.6-.6-1.5-.8-1.4-.9-1.2-1.2-1.1M134 129l-.3-1.5 1.6.2M142.3 134.7l-.1-1.6-.4-1.6-.5-1.5-.7-1.4-1-1.3-.5-.6M139.2 128.3l-.1-1.6 1.5.4M147.8 134.2l-.2-1.6-.3-1.6-.4-1.5-.6-1.5-.8-1.4-.4-.7M145 127.5l.1-1.6 1.4.6M151.4 135.3l-.2-1.6-.2-1.6-.3-1.6-.4-1.5-.6-1.5-.4-.7M149 128.3l.3-1.5 1.4.8M155.9 134.3l-.2-1.5-.4-1.6-.4-1.6-.5-1.5-.6-1.5-.7-1.4M152.9 126.8l.2-1.6 1.4.8M161.4 134.8l-.4-1.5-.4-1.6-.5-1.5-.5-1.5-.6-1.5-.3-.7M158.3 128l.4-1.5 1.3.8M25.3 139.8l-1.6-.3-1.5-.5-.7-.3M22.4 140l-.9-1.3 1.5-.4M29.5 139.4l-1.6.2-1.6 0-.7-.1M26.8 140.5l-1.2-1 1.3-.8M35 139.8l-1.3.8-1.4.8-.8.3M33.1 142l-1.6-.3.8-1.4M38.7 139.4l-1.2 1.1-1.1 1.1-.6.5M37.3 141.9l-1.5.2.3-1.5M43.5 139.1l-1.1 1.2-1.1 1.2-.4.6M42.4 141.7l-1.5.4 0-1.5M47.9 138.8l-1.4.7-.7.5M47.4 140l-1.6 0 .7-1.5M53.6 139.1l-1.2-1.1-1.4-.7M51.8 138.7l-.8-1.4 1.6-.2M57.6 139.5l-.6-1.5-.9-1.3-1.1-1.1-.7-.5M54.8 136.6l-.5-1.5 1.6.1M62.7 139.7l-.4-1.5-.6-1.5-.7-1.5-.9-1.3-1-1.2-1.2-1.1M58.2 133.2l-.3-1.6 1.6.2M66.9 139.8l-.3-1.5-.5-1.5-.6-1.5-.7-1.5-.9-1.3-.9-1.3-1.1-1.2M62.1 131.6l-.2-1.6 1.6.4M71.1 139.7l-.4-1.6-.5-1.5-.6-1.5-.6-1.4-.8-1.4-.8-1.4-.9-1.3-.5-.7M66 130.5l0-1.6 1.5.5M75.5 139.6l-.5-1.5-.5-1.5-.6-1.5-.7-1.5-.7-1.4-.8-1.4-.8-1.4M70.8 131l.1-1.6 1.4.6M80.9 139.5l-.6-1.4-.7-1.5-.6-1.4-.8-1.5-.7-1.4-.8-1.4M76.6 132.5l.1-1.6 1.5.7M85.4 139.9l-.8-1.4-.8-1.4-.8-1.4-.8-1.4-.8-1.4M81.3 134.5l.1-1.6 1.5.7M89.4 139.3l-1-1.3-.9-1.2-1-1.3-.9-1.3M85.6 135.7l0-1.5 1.5.5M94.2 139.3l-1.3-1-1.3-1-1.1-1.1M90.8 137.8l-.3-1.6 1.6.2M99.3 139.7l-1.6-.2-1.5-.5M97.2 140.2l-1-1.2 1.5-.5M103.5 138.8l-1.4.7-1.5.4M102.1 140.5l-1.5-.6 1-1.2M107.8 139.5l-1 1.2-1 1.2M107.3 141.5l-1.5.4.2-1.5M113 139.6l-.5 1.6-.1.8M113.5 140.9l-1.1 1.1-.6-1.5M117.3 139.4l-.1 1.6M121.7 139.6l.3-1.6M126.1 139.2l.2-1.6-.2-1.6-.7-1.4M125.2 136.2l.2-1.6 1.4.8M131.7 139.5l.2-1.6 0-1.6-.2-1.5-.5-1.6-.3-.7M130.6 134.1l.3-1.6 1.3.8M135.8 139.3l.2-1.6.1-1.6-.1-1.6-.4-1.5-.6-1.5-.3-.7M134.4 132.3l.3-1.5 1.4.7M139.9 138.8l.2-1.6.1-1.6-.1-1.6-.3-1.6-.5-1.5-.3-.7M138.6 131.7l.4-1.5 1.3.8M145.5 139l.1-1.6.1-1.6 0-1.6-.2-1.6-.3-1.6-.2-.7M144.4 131.7l.6-1.4 1.2 1M149.7 139l.1-1.6 0-1.6 0-1.6-.2-1.6-.3-1.6-.2-.8M148.5 131.7l.6-1.5 1.2 1.1M154.7 139.4l0-1.6-.1-1.6-.2-1.6-.2-1.6-.3-1.6M153.3 132.9l.6-1.5 1.1 1.1M158.5 139.5l-.2-1.6-.3-1.6-.2-1.6-.3-1.6-.3-1.5M156.5 133l.7-1.4 1.1 1M27.5 143.5l-1.6-.2-1.5-.4M25.4 144.1l-1-1.2 1.5-.5M31.9 143.7l-1.6.4-1.6.1M30.1 145l-1.4-.8 1.2-1M37.5 143.9l-1.1 1.2-.6.5M37.4 145.3l-1.6.3.3-1.6M41.4 143.8l-.7 1.5-.3.7M41.8 145.2l-1.4.8-.3-1.5M45.6 144.4l.1 1.5M50.9 143.7l.3-1.5M55.2 144.3l.3-1.5 0-1.6-.2-.8M54.6 141.8l.7-1.4 1.1 1.1M60 143.7l.1-1.6-.2-1.6-.3-1.6-.6-1.5-.4-.7M58.4 138.3l.2-1.6 1.4.8M64.1 144.5l0-1.6-.1-1.6-.3-1.6-.4-1.5-.5-1.6-.7-1.4M61.9 136.8l.2-1.6 1.4.8M69.2 144.1l-.2-1.6-.2-1.6-.3-1.5-.4-1.6-.5-1.5-.7-1.5-.3-.7M66.3 135.7l.3-1.6 1.4.8M73.6 143.7l-.3-1.5-.3-1.6-.4-1.5-.5-1.6-.5-1.5-.6-1.5-.7-1.4M70 134.7l.3-1.6 1.4.8M78 143.9l-.5-1.5-.4-1.6-.5-1.5-.5-1.5-.6-1.5-.6-1.5M74.6 136.4l.3-1.6 1.3.9M83.3 143.3l-.6-1.4-.7-1.5-.6-1.4-.7-1.5-.7-1.4-.3-.8M79.4 136.9l.3-1.6 1.4.8M87.6 144l-.9-1.4-.8-1.4-.8-1.4-.8-1.4-.4-.7M83.8 139.3l.1-1.6 1.5.7M91.7 143.4l-1.1-1.2-1-1.3-1-1.2-.4-.7M88.2 140.6l0-1.6 1.5.5M96.8 143.8l-1.4-.8-1.3-1-.6-.5M93.9 143.1l-.4-1.6 1.6.1M101.6 144l-1.6-.1-.8-.2M100.4 144.9l-1.2-1.2 1.4-.6M105.8 144l-1.3 1M110.6 143.6l.1 1.6M114.8 144.4l1.4.6M119.7 143.6l1.4-.7.7-.6M120.2 142.4l1.6-.1-.6 1.5M124.8 143.8l.9-1.4.7-1.4.5-1.5M125.7 140.4l1.2-.9.5 1.5M128.5 143.6l.7-1.5.6-1.5.4-1.5.1-1.6 0-.8M129.4 137.9l.9-1.2.9 1.3M133.2 144.2l.6-1.5.5-1.5.4-1.6.2-1.6.1-1.6M134 137.7l1-1.3.9 1.4M137.8 144.4l.5-1.5.4-1.6.3-1.5.3-1.6.1-1.6.1-.8M138.5 137l1-1.2.8 1.3M142.2 143.8l.4-1.6.3-1.5.3-1.6.2-1.6.1-1.6 0-.8M142.5 136.4l1-1.3.9 1.3M147.6 144.5l.1-1.6.2-1.6.2-1.6.2-1.6 0-1.6M147.4 137.8l.9-1.3.9 1.4M152.3 143.7l0-1.6 0-1.6.1-1.6 0-1.6-.1-.8M151.5 137.8l.8-1.3 1 1.3M156.3 143.3l-.2-1.6-.1-1.6-.1-1.6-.2-1.5-.1-.8M154.9 137.5l.7-1.3 1.1 1.2M160.7 143.4l-.4-1.5-.3-1.6-.3-1.5-.3-1.6-.2-.8M158.6 137.8l.6-1.4 1.1 1.1"/>
<rect x="149.8" y="130.4" width="12.6" height="8.4" fill="#a424ee"/>
</g>
<g clip-path="url(#clipa)" fill="none" stroke="#f2a21a" stroke-width="1.25" stroke-linejoin="round">
<path d="M50.7 17.1l1-.2 1.5 1.2 2.6-.1 1.2.3 1.7-1 2.1-.4 2.6-1.2 2.6-.4 3.4 0 2.6-.5 2.6.3 1.7-.5 2 0 .2.9 1.2-.6.2 1.1-.9 1.1.9 1-1.6 1.6-.3.9 1.4.4 1.2.9 1.7.5 1.2-.2 3.4 1.1.9 1.6 3.1.9 2.6 1.1 1.7-1.1.2-1.2-.2-.9 1.7-1.3 2.6 0 1.4 1.1 2.7.5.5.6 3.1.3 3.5.9 1.7-.7 1.7-.5 2.3.5 2 .3 1.2-.3 1.2 3.2-.5 1.6-.6 1.5-1.1-1-1.7-2.8.1 1.2.7 1.4.9 1.6.5 1.3.7 1.2 1.2 2.7 1 1.3 2.3 3.3.5 1.8 0 2.5.3 1.4 1.9 1.5 1.4 3.5.3.9 1.2.9 1.8 1.8 1.9 1.8 1.3.5.4 1.4-.9.7 1.4.9 1.5 1.1 1.8-.5 1.9-.2 2.4-.6 2.5-.5 2.8-.9.2 2.7-.6.2-.6 1.9-1.8 3-1.7 3.6-1.7 2.3-1.7 2.2-1.7 1.7-2.6 1.8-2.6 2.7-1.7 1.9-1.2 1.5-1.2 1.6-.9 1.9-.7 1.1-.7 2.7 1.2.9-.3 2.3.7 2.6 1.2 1.3.2 2.7.1 3.9-.3 2.5-2.4 2.1-2.6 1.4-2.2 2.2-2.4 1.7.6 2.2.4 2.1.2 3-.9 1.3-3.4 1.4-.7 1.3.5 1.2-.9 3.2-1.9 1.4-2 3.4-3.3 2.5-2.9 1.8-1.6.5-1.5 0-3.6-.2-1.9.9-2.6.7-1.4-.7-1.4-.5 0-1.4-.6-1.5.3-1.4-1.5-2.3-1.4-3.2-1.4-2.3-.9-1.3-.5-2.8-.7-3.7-.8-1.6-1.4-2.7-2.1-3.4-.5-2.3.2-2.3.7-2.7.5-1.8 1.9-2.6.3-1.8-1-2.7-.3-1.8-1.2-4.2-.2-.6-.5-1.4-1.4-2-2.2-2.5-1.1-1.7-.7-1.3.9-1.9.3-1.3.6-2.3 0-1.4-.7-1.4-.9-.9-1-.4-2.1.4-1.9.1-1-1-.7-1.3-1.2-1.2-2.8 0-2.7.5-2.8 1.1-2.5 1.1-1.9-.6-2.6-.2-5 1.5-2.6-1.1-3.1-2.5-1.2-.9-1.5-.7-1.4-1.6 0-2-1.6-1-1-1.3-.8-.7-1.6-1-1-1.5-.2-1.4 0-1.4-.7-1.3 1.2-2.3.7-4.4-.3-1.1-.4-2.1-1-1.1.3-1.8 1.1-1.4.8-2 1.2-1.2.7-1.8.5-1.4 2.3-2.3 1.9-.9 1.7-1.3 1.7-1.4.7-1.4-.4-1.4 1.1-2.4 1.5-1.6 2.4-1.2 1.2-1.8.6-1.2z"/>
<path d="M145.6 102.2l1 2.5 1.1 3.3-.6 1.3-1 1.8-.3 2.1-1.4 4.1-1.2 3.4-1.4 4.4-1.7.6-1.7.7-1.9-1.1-.5-2.5-.7-2.7 1-2.1.9-2-.7-2.6 0-2.3.7-1.5 1.9-.5 1.3-.4 1.2-1.2 1.2-.7.6-1.8 1.3-.7.9-2.1z"/>
<path d="M119.6 25.1l1.2-2.2.4-1 .7-1.4.6-1.5-.1-1.9.7-1.4-1.2 0-1.6-.4-1.9 1.1-1.7.1-2.6-1.2-1 .9-1.9 0-2.2-.5-1.8-1.7-1.7-4.4 75.7 0 0 26.3-14.6 0-3.5-.3-1.7-.4-2-.3-.6-1.6-1.2-.7-1.3.7-1.2.3-2.3-.5-1.7-1.1-1.7-.9-1.1-1.6-1.2-1.4-1.2-.9-1.7.2-.8 0-.6 1.1 1.2 1.6.7 1.4 1.2 1.1 1.1 1 .1 1.6 1.1 1.1.3-1.8.9-.2.2 1.6-.6 1.1.6.5 1.7.2 2.4.2 1.2-1.2 1.4-1.3 1-1.1.5-.3 0 2.3.5.9 1.4 1.1 1.7.5 1.2 1.2 1.1.8-1.4 2.6-.9 1.1-1.2 2.3-1.7.7-.5 1.3-1.7.3-.9.5-2.6 1.3-2.2.5 0 1.5-2.1.8-2.6 1.1-1.5 1.1-1.9.2-2.6.8-1.7 1.1-1.7.4-1.2-.2-.5-2.3-.4-1.8-.2-1.8-1.2-1.8-1.3-1.7-.7-1.8-1.4-1.8-1.4-2.1-.1-1.5-1.1-1.7-1.7-2.4-1.7-3-1.4-2.3-1-1.4-.4-2.5-1.2-3.2z"/>
<path d="M101.2 18l1.4-.1 1.2-.1 2.2.2-.5.5-2.2.1-2.1-.6z"/>
<path d="M116.4 18.7l1-.9 2.9-.5-1 1.2-1.7.7-1.2-.5z"/>
<path d="M152.5 58.6l2-.2-.5.5-1.2 0-.3-.3z"/>
<path d="M115.5 81.7l2.4-1.4 1.4 1 .2 1.6-1.4 2.3-1.4.2-1.4-1.4.2-2.3z"/>
<path d="M111 86.9l.7 3.7 1.4 2.7.3 2.6.9.2-.7-3.7-1.5-3.6-.7-2.1-.4.2z"/>
<path d="M119.3 97.7l.5 3 .5 2.3 1 3.3-.8-4.1-.5-3.2-.7-1.3z"/>
<path d="M57.7 18.5l.2 2.7-.5 2.3-3 .9-2.5 3-6.1 2.3 0 1.8"/>
<path d="M38.1 31.5l7.7 0"/>
<path d="M45.8 31.5l0 3-5.6 0 0 4.5-1.9.9.1 3-6.8 0"/>
<path d="M45.8 32.2l6.7 4.1 10.4 6.6 3.4 4.1 1.7-.4 2.8-.5 2.9-2.5 7.6-4.6"/>
<path d="M52.5 36.3l-2.9 0 1.7 15.3-10.1 1.8-1.4 1.4"/>
<path d="M32.8 51.6l3.1-.3 3.9 3.5"/>
<path d="M39.8 54.8l1.4 3.9-1.7 0-2.3-.3-5.1.3"/>
<path d="M41.2 58.7l4.1.4 1.4 3.4.3 1.7.7 1.6-1.2 1.3-.3.5 1.7 5.4"/>
<path d="M38.1 64.2l3.4-1.2 1.6 2.8-.4.8-1.7 1.9"/>
<path d="M43.1 65.8l2.2 1.6 1.2-.3"/>
<path d="M51.3 62.3l1.4-2.7 2.9-2.8 4.3-2.9 3.1-.3 4-.6 1-2.3 0-4.1"/>
<path d="M47 62.6l4.3-.3 4.7 1.4.3 2.9-1 3.2.5 2.1"/>
<path d="M56 61.2l4.8 0 1.5 0 2.3-1.2-.4-1.8-1.7-1.1-1-1.2-1.6-2"/>
<path d="M60.6 61l1.1 4.1.1 4.8"/>
<path d="M63.4 61.2l.2 3.6.1 5"/>
<path d="M65.6 59.4l1.4.6 0 2.6-1.6 2.2 0 4.8"/>
<path d="M67 60l1-3.2 4.5.7 3.8.5 5.7-.5 2.2-1.1 3.3-11.2.6-6.1-2.9 1.7-3.9-1.8"/>
<path d="M85.2 58.6l.7 1.7-2.2 2.9-1.9 2.5-1.6 3.4-2-.6-2.6 3.8"/>
<path d="M88.1 39.1l14 7 0-.9 1.7 0 0-3.6"/>
<path d="M102.1 46.1l-.2 6.8-2.6 3-.7 2.5 1.6 2.3-.9.7"/>
<path d="M85.2 58.6l.4 2.1 2 2.3-.7 1.8 2.5 2.3 3.4-.5 2.6-2 2.7-2.7 1.2-.5"/>
<path d="M87.6 63l-2 6.8 1 1.4 2.1 5.7-.2.7"/>
<path d="M88.5 77.6l3.1-3.2 1.2-1.3 1.4-1.4 2.5 1.4 2.6.6 3.5-2 1.5-.2 3.6 0 2.8 1.5 3.1 1.6"/>
<path d="M99.3 61.4l2.1 3.9 2.6 1.6 3.9 4.6"/>
<path d="M104 24.6l-.2 17"/>
<path d="M80.6 21.9l-2.6 5-.2 5.8-.7 1.5 1.4 3.2 2.8 1.6"/>
<path d="M75.2 15.1l-.5 5 2.1 3.4 1.2 3.4"/>
<path d="M103.8 41.6l20.5 0"/>
<path d="M100.2 60.7l5.1 1.8 1.9 1.2 4.5-.9 2.1.7 3.2-3.9 2.5 4.3"/>
<path d="M123.6 55.3l-.4 2.4-1.7 1.6-1.2 2.8-.8 1.8 0 1.9-1.9 1.1 3.9 4.1"/>
<path d="M127 48.8l-.8 1.7-1.9.4-.7 4.4 2.4-1 2.4.5 2.7.9 2.5 2.7 1.3-.2"/>
<path d="M132.7 61l1.7.4 3.1 4.3 5.5.9-5 5.3-3.2.7-1.9 1.3-1.2 0-.7-.8-2.1 1.5-2.6-.2-2.2-1.4-1.6-.7-1-1.3"/>
<path d="M132.7 61l1.7-.7"/>
<path d="M131.3 83.8l0-8 1.6-1.9"/>
<path d="M113.8 74.6l.7-.6 3.7-.1 1.1-.6 2.2-2.3"/>
<path d="M119.3 73.3l1 5.2-1.2 2.1.2 2"/>
<path d="M113.8 74.6l-1.4 3.4-.7 3.9 0 1.4 1.4-.5.2 2.3-2.1 1.6"/>
<path d="M119.3 82.6l6.3 3.7 2.6 2.9"/>
<path d="M113.3 82.6l2.2 0"/>
<path d="M88.5 77.6l2.9 6-2.6 2.4-1.5 1.4-1.9 1.9-3.4 2.4"/>
<path d="M92.8 73.1l-1.2 8.8"/>
<path d="M85.7 76.9l-2 0-3.5-.2-2.5 0"/>
<path d="M80.2 76.7l0 2.3-2.9 0"/>
<path d="M85.7 76.9l-.8 1.4.5 3.2-2.1 3.6-1.9-.7-1.5 3.3"/>
<path d="M81.8 91.1l1.4.2 5.6 0 .6 3 1.5.9 2.6-1.9 1.7 0 3.1.5.3 4.8 3.3 1.6.2 3.7-3.5 0 0 5.7 2.1 2.4-4 1.4-3.6-1.6-9.1-.7-3.1.5"/>
<path d="M102.1 103.9l0-3 2.4 0 1.9 1.1 1.2-.6 1.9 1.5 2.2 1.6 0-2-1.7-2.1-.2-3.2 3.8-1.6"/>
<path d="M111.7 104.5l1.2 3.9-2.6 1.6-3.1 2.7-2.9-.2-3.6-.5"/>
<path d="M113.6 95.6l3.8 1.9 1.7.4 1.2 3.4 5 .1 5-1.9"/>
<path d="M118.1 105.7l-.9-.9.4-1.6.5-3.2 1-2.1"/>
<path d="M112.9 108.4l.2.9 4.3 1.2-.4 4.1.2 2.3-2.7 3.6-3.1-.4-3-2.8-2.7-2.3-1.4-2.5"/>
<path d="M121.3 106.3l1.2 1-.1 2.2-1.4 1.2-1.2-1.4-1.7-3.6-5 2.9"/>
<path d="M114.5 120.5l1.3 3.7 0 3.4 1.6.9"/>
<path d="M96.7 113.4l.2 6.6-1.7 0 0 4.9 0 6.5-4.5.7-1.5-.4"/>
<path d="M95.2 124.9l1.2 1.3 3.6 0 4.8 0 2.1-2.3 4.5-3.8"/>
<path d="M95.2 131.4l1.7.5 2.6-1.3"/>
<path d="M107.2 133.5l1.2-1.3 2.5 0 .5 1.8-2.1 1.3-2.1-1.8"/>
<path d="M114.1 126.7l1.9.4-.3 2.1-1.6.2-.3-1.4.3-1.3"/>
<path d="M120.8 28.3l1.9.5 1.7-2.3 1.8 0 2-3 3.1 1.4 6.4 3.9 3.1.2 2-.5"/>
<path d="M123.6 23.3l4.6.2"/>
<path d="M121.9 21.9l.1.7 2.1.7 3.4-2 3.8-1.7.7-2.9"/>
<path d="M140.8 29l3.2 1.1"/>
<path d="M134.8 50.5l1.7-.7 3.4.4 1.7.5 3.5-2.8 5.1-.9.9 2.6 1 1.7"/>
<path d="M150.2 47l5.2-1.8 1-3.6-.7-1.2-4.4-2.7"/>
<path d="M156.4 41.6l.9-3.5.5-1.6"/>
<path d="M143.4 27.4l-1.1-2.3-1.9-2.7-1.3-2.1 0-3-1.8-3.3"/>
</g>
<path d="M26.4 145.5V147.7" stroke="#222" stroke-width="0.8"/>
<path d="M43.6 145.5V147.7" stroke="#222" stroke-width="0.8"/>
<path d="M60.8 145.5V149.7" stroke="#222" stroke-width="0.8"/>
<path d="M78 145.5V147.7" stroke="#222" stroke-width="0.8"/>
<path d="M95.2 145.5V147.7" stroke="#222" stroke-width="0.8"/>
<path d="M112.4 145.5V149.7" stroke="#222" stroke-width="0.8"/>
<path d="M129.6 145.5V147.7" stroke="#222" stroke-width="0.8"/>
<path d="M146.8 145.5V147.7" stroke="#222" stroke-width="0.8"/>
<path d="M23.1 134.2H18.9" stroke="#222" stroke-width="0.8"/>
<path d="M23.1 116.4H20.9" stroke="#222" stroke-width="0.8"/>
<path d="M23.1 98.6H20.9" stroke="#222" stroke-width="0.8"/>
<path d="M23.1 80.8H18.9" stroke="#222" stroke-width="0.8"/>
<path d="M23.1 63H20.9" stroke="#222" stroke-width="0.8"/>
<path d="M23.1 45.2H20.9" stroke="#222" stroke-width="0.8"/>
<path d="M23.1 27.4H18.9" stroke="#222" stroke-width="0.8"/>
<rect x="23.1" y="17.4" width="140.2" height="128.1" fill="none" stroke="#111" stroke-width="1"/>
<text x="15.3" y="29.7" font-size="6.5" text-anchor="end" fill="#222">30N</text>
<text x="15.3" y="83.1" font-size="6.5" text-anchor="end" fill="#222">0</text>
<text x="15.3" y="136.5" font-size="6.5" text-anchor="end" fill="#222">30S</text>
<text x="60.8" y="159.1" font-size="6.5" text-anchor="middle" fill="#222">0</text>
<text x="112.4" y="159.1" font-size="6.5" text-anchor="middle" fill="#222">30E</text>
<g clip-path="url(#clipb)">
<path fill="#9898f8" fill-rule="evenodd" d="M235.1 17l2-.4 1.3.9-.8.7-2 0-1.1-.7.6-.5zM264.6 26.8l1.2.2.4 2 .8 1 5.1.8 4.5 1.9 4 0 4-2.4 1.5-.3.2.5-1.2 4.1-2.5-.6-4.5 1-3.5 2-1.5.1-4-2.8-4.6-1.3-1.6-1 1.1-4.5.6-.7zM356.6 37.5l0 3.3-1.5-.3-.8-1.5.8-1 1.5-.5zM332.6 40.4l1-.3 7 1 6.5 3.9 2.5.4 1 1.9 3-.4 1.5 1.3 1.5-.2 0 11.1-.5.2-.5-.8-1-.1-3.5 1.3-2-.1-4.8 4.4-.5 2-2.7 1.8-.6 1.2.6.8 1-.4 11-8.7 1.5-.2-.6 1.5-1.9 1.5 0 1.3 3-1.4 1.5-1.4 0 18.4-3 3.1.2.5.8-.1 2-2.1 0 18.2-.8 1 .8.4 0 4.8-3.1-.2-.8-.5-.6-1.5-2.5 1.3-4 .8-2-.5-1.9-1.6-2.1-.5-3 .7.7-1.2-.2-1-1.5.1-4 1.5-2.5-1-.7-1.1.6-2-1.1-1.5-1.8-1.1-4.5-1.4-1.2-1 .7-3-1.2-5-5.3-3.5-2-.7-2.8.7-2.7 4-1 .6-4.5.4-4-.3-1.5.4-1.5-.5-1 .4-.7 1 .2.5 3 2.5-1.5 2.3-2 1.5-4 1-5 3.8-2 .3-5-1.1-5.5 1.2-2-.1-4.5-1.8-4.3-3.1-3.9-4.5-2.7-4-4.6-4.1-3.9-2.4-1.3-4.5-1.3-1.5-4-.6-4-2.9-2-.5-1.9.5-2.1 1.7-1.5.5-10.5-1.8-5.5 1.8 0-24.8 3.5-.6 2 .6 1.4 2.1.3 2.5 2.3.7 7-2 3.5-1.8 2-.4 1.5.8 3.5 3.7 3.5 1.3 4-.5 3-2 1.5-.4 5 1.5 6-1.4 10.5 1.9 7-.5 2.5-.8 2.7-2.1 1.8-.2 7.5 1.2 4 4.3 2.5.8 18-3.4 4-1.7 2.5 0 2.5-.7 2.5-1.7 1.5-2.1.1-5.5.8-1.5 1.1-.6zM353.5 49l-1.1.5-1.3 1.8-1.5 0-.6 1.2 1.1.3 2.5-.6 1.5-1.7.1-1-.7-.5zM345.7 50l-3.1 2-3 1.1-2 1.8-1.5.6-1.7 2 .2.4 4.5-1.7 2-1.8 1.5-.5 5-3.4.5-.5-.5-.5-1.9.5zM337.7 60.5l-.4 1 .8.4 1.8-1.4-.8-.5-1.4.5zM338.3 70.5l-2.5 1.5-.7 2.5.5.2 1-.4 3-3 .3-.8-.3-.3-1.3.3zM332.6 75.5l-.6.5.6.8 1 .2.5-.5 0-1.3-1.5.3zM338.5 82l-2.4 2.1-.4.9.9-.1 1.5-1.4 2.2-1 0-.5-.7-.3-1.1.3zM333.5 86l-1.2 1 .3.3 1.3-.8.2-.5-.6 0zM255.6 128.3l1.5-.1 1.3.8.6 6 2.5 3.5 1.6 4 .3 2.5-1.3 4-10.2 0-.3-5-3.2-5.5.5-2.5 2.3-2.5 2.4-4 2-1.2zM215.1 141.4l3-.2 2 1.9 1.5.7 4-1.1 1 .2.4.6-.5 1-3.9 2.8-2.5.7-5-2.8-4-.7 0-2.2 4-.9zM246.1 146.7l1-.1 1 .6.5.8-.2 1-3.2 0 .2-1.5.7-.8z"/>
<path fill="#1c1cf0" fill-rule="evenodd" d="M236.6 17l1.1.5-1.6.2-.5-.2 1-.5zM285.1 30.4l.8.6-.8 2.8-2-.3-5.5 1.2-3.5 1.5-1.5-.2-3-2.2-5-1.8 1-.7 4 .1 5.5 1.6 4 .3 2.5-.6 3.5-2.3zM356.1 37.9l.5-.1 0 2.7-1.8-1 .2-1 1.1-.6zM333.6 40.5l7.5 1.1 3 2.2 5.3 2.2.4 2 3.3-.9 1 .3.3 1.1-1.8.6-1.5 1.7-2 .2-.5 2 3 .3 1-.3 1.8-2 .4-2 1.8-.8 0 8.6-.5.8-7.3 1.9-4.7 4.3-.6 2.2-2.4 1.6-1 1.9-4.2 2-1.8 2.9-2.6 1.1-.1.5.7 1.1 2 .4.9-2 2.1-1.3 3.5-3.9 3-1.7 9.5-7.6.8 0 0 .5-1.8 1.6-.8 1.9.3.4 1.5-.4 3.5-2.3 0 17.2-2 1.6-1.7 2.5.2.3 1.5-.1 2-1.9 0 17.5-.9.7-.3 1 1.2.3 0 4.1-2 .1-1.3-.5-.3-.5.1-1.6-3.5 1.7-3 .7-2-.1-2.5-1.7-4-1-1-1.3-2 .1-2 .9-.1-.7 1.1-.8 0-.8-2.5.6-1.5 1.1-.7-.1-.3-1 1.8-1.5 1.7-2.2-3 1.8-3-2.3-2.5-.6-1-1-2-.3-.5-.9.7-2.5-1.2-5.3-5.5-3.4-2-.8-3 .9-3.5 4.1-6.5.7-5.5-.7-1.7 2 .6 1 2.6 2-1 1.9-2 1.6-4.1 1-4.9 3.8-2 .4-5-1.1-5.5 1.1-2 0-4-1.5-4.5-3.2-4-4.5-2.6-4-4.9-4.3-3.6-2.2-1.4-4.8-1.5-1.5-4.5-.9-3-2.2-2-.7-2.5.5-2.1 1.6-1.4.5-10.5-2-5.5 1.8 0-21.9.5-.9-.5-1 1.5-.5 2-.4 2 .7 1 1.7 0 2.5 3 .9 6.5-1.8 4.5-2.2 1.5-.1 1.3.7 3.7 3.9 3.5 1.2 4-.4 4.5-2.3 5 1.3 6-1.4 10 2 7.5-.6 2.5-.6 2.5-2.1 2-.4 6.8.9 1.6 1 3.1 3.8 2.5.6 18.5-3.5 9-2.6 2.4-1.8 1.5-2 .1-5.8 1-1.1 1.5-.6zM346.6 49.5l-4.5 2.5-2.5.7-1.7 1.8-2.3 1.1-2.7 2.9-.3 1 6.5-3.1 2-1.8 1.8-.6 3.5-2.5 2.2-1 .4-1-.4-.5-2 .5zM338.2 60l-1.2 1 .1 1.2 3.5-.2 0-2.2-2.4.2zM355.5 69l-.9 1 .5.4 1.2-.4.1-.5-.9-.5zM352 73.5l-.4.5.5.2-.1-.7zM350.5 77.5l-.6 1 .2.6 1.2-1.1-.2-.6-.6.1zM334.5 78l0 1.5.6.6 1-.1-.5-1.5-1-.9-.1.4zM337 81l.6.7-.2.8-2.3 2.5-2.3 1-2.2 2.2 2.5-.6 2-1.7 5.6-3.4-.1-.8-3.6-.7zM345 81.5l-1.7 1-.5.5.2.5.6 0 2.1-1.5.3-.5-1 0zM279.8 83.5l1.1 0-1.1 0zM272.9 85l1.4 0-1.4 0zM280.9 86l-2.7 1 .4.5 2.5-.6 1-.9-1.2 0zM334.6 95.5l1 0-.5-.4-.5.4zM337.3 96.5l-.2 1.6 1.2-1.1-.2-.7-.8.2zM255.6 129.3l1.5-.2 1 .9.3 5 2.9 4 1.2 3 .2 2.5-1.9 4.5-8 0-.5-5.5-2.9-5 .3-2 2.7-3 1.7-3 1.5-1.2zM214.6 141.9l3-.1 3 2.2 4 0 .3.5-2.5 2.5-2.3.7-5-2.7-4-.8 0-1.4 3.5-.9z"/>
<path fill="#1240b0" fill-rule="evenodd" d="M284.6 30.8l.9.2-.4 2.1-.5.4-2.5-.5 2.5-2.2zM356.1 38.4l.5-.2 0 1.7-1-.4.5-1.1zM332.6 41.5l2-.5 6.1 1 3.4 2.3 5 2 .3.7-.8 1.5-3.5 1.4-3 1.9-2 .1-1 .6-1 1.5-2.5 1.2-3.1 3.3-.4 1 .5.3 6.7-3.3 1.8-1.7 2.5-.8 3.5-2.6 1.2.1-.5 2 4.3.4 2.4-2.4 1.1-2.5 1-.6 0 8-1 1.1-2 0-5 1.9-4.8 4.1-.6 2.5-2.3 1.5-1.2 2-4.2 2-2.4 3-1.5.4-1.5-.3-.3.4 1.8 2.4 2.1.6-.3 2 2.5 1 .7 1.5-2 2.5-2 .9-2.8 2.1-.2.7.5.4 2.5-.9 6.5-4.6 1.6-.6.9-1.5 1.5-.5 1.9-2-2.4.4-1.5 1.7-2.5-.1-2-1.3-1.6-2.7.1-1.1 5.9-5.4 10.1-7.7.6.2-.9 2.5.8.4 5-2.5 0 5.4-1.5 0-.8 1.2.3.7 2 .2 0 8.5-2.4 2.1-2.1 3 .5.5 2-.5 2-1.8 0 16.9-1 .7-1.1 1.7-4.9 2.9-5 .6-2.5-1.7-3.5-1.1-1.2-1.2-2.3-.4.5-1.2 3.1-2.4.1-2-.7-1.4-.5.8-2-.5-1 .2-1.1 1.4-3.9 2.6-2.5-1.9-2.5-.7-.6-1-2.4-.2-.7-.8.7-2.5-1-3.1-.1-2.4-7.4-4.2-3 .5-4 4-6.5 1.2-2-.3-1.5-1-2.5.5-1.8 2.8 3.4 2.5-.6 1.5-2 1.8-4.5 1.1-4.5 3.6-2 .4-5-1-7 1.1-4.4-1.5-4.6-3.2-3.8-4.3-2.4-4-5.2-4.5-3.3-2-1.6-5-1.7-1.5-4.5-1-3-2.1-2-.7-2.5.4-3.5 2.1-10.5-2-5.5 1.7 0-20.7 1.1-.7.3-2 1.1-.5 2.5.5 1.1 1.5-.1 1.5-2.1 1.5 0 .5.6.3 2.5-.4 3 .5 11.5-4.1 1.5.6 4 4 2.5 1 2.5.3 2.5-.4 4.5-2.2 5 1 6.5-1.2 7.1 1.6.7.5 0 1.5.7.1 2-1.2 2.5-.8 6.5-.8 2.8-2.3 1.7-.5 7 1 3.1 3.5.4 1.4 3.5.2 3.5-.7 2.5.3 4.5-1.7 9.5-1.3 8.5-2.8 2.1-1.4 1.1-2 .5-2-.5-3 1.3-2zM334.3 48l.3.7.7-.2.1-.5-.3-.4-.8.4zM341.3 58l-1.2 1.2-3 1.3-1 2.2 2 .2 3-.6.8-3.8 0-.5-.6 0zM333.3 63.5l1.3 1.8 0-1.8-1.3 0zM351.8 73l-.6 1 .4.9 1-.4.6-1-1.4-.5zM345.8 75l-1 .5.1.5 1.2-.4.2-.6-.5 0zM354.1 76.5l0 .9 1-.2.3-.7-.3-.4-1 .4zM350.4 77l-.9 1.5.1 1 1 0 1.4-2-.9-.6-.7.1zM285 80l.6 2.1 1-.6.5-1 2 1.4.2-.4-.7-1.9-3.6.4zM345.2 81l-1.6.7-1.3 1.3 0 .5 1.3.3 2.5-1.8.6-1-1.5 0zM327.7 81.5l.4.6.8-.6-.8-.3-.4.3zM289.3 82l-.6 1.5 1.7-.5-.8-1.1-.3.1zM280.1 83l-3 1.5 4-.5 1.3-1-2.3 0zM264.5 83.5l-.1.5.7.7 1-.1.5-.6-.5-.6-1.6.1zM285.6 83.5l-1.1 1 .6.6 1.5-.1 1.3-1 0-.5-2.3 0zM272.9 84.5l-.8.5 1 .7 2.4-.7-.4-.5-2.2 0zM280.9 85.5l-2.3.7-3.7 2.3.7.2 2-1 4.1-.7 1.1-1-.1-.5-.6-.3-1.2.3zM348.8 86l-.6 1 .4.3 1-.3.7-1-.7-.3-.8.3zM284.5 91.5l.6.4.2-.4-.8 0zM344.6 93l-.3.5.8.9.1-1.4-.6 0zM277.2 94l.4.3.3-.3-.7 0zM273.2 95l-.1.6 1.2-.6-1.1 0zM352.6 47.4l1.3.1-.3.9-1.3.6-1.2 1.4-1.4-.4.5-1.5 2.4-1.1zM334.1 96.3l2 0 0 1.7-1 1.4-3 1-.5-.4.2-1 2.3-2.7zM355.1 102.4l1.5-.3 0 3.5-2 .1-1-.7.2-1 1.3-1.6zM255.6 130.5l1-.4.7.4.7 5 2.8 3.5 1.3 3 0 2.2-2.2 4.8-6.4 0-.5-5.5-2.7-5 .4-2 4.9-6zM214.1 142.4l3-.2 3.5 2.2 2.9.6-.1.5-1.8 1.6-2 .2-6.5-3.3-.5-.5.4-.5 1.1-.6z"/>
<path fill="#17885a" fill-rule="evenodd" d="M284.1 31.4l1-.3.2.4-.7 1.6-1.3-.6.8-1.1zM333.6 42.4l1.5-.3 4 .7 8.7 3.2 1.2 1-.4 1.1-6.3 3.4-1.2 0-.5-.4-1.6.9-1.2 2-2.2.7-3.4 3.8-.5 1 .4.5 1.5-.1 1.5-1.2 4.5-2.2 2-1.7 1.5-.2.7.4-.5 1.5.5 0 .7-2.5 2.1-2 1.2 0-1.3 2 3.6 0 .5.5 0 1.2 5-4.7 1 0 0 5.1-1.5 1.2-1.5-.1-5 1.9-3.5 3.3-1.5.8-.5 2.4-2.5 1.8-1 1.9-4.7 2.2-1.8 2.5-4 .1 0 .9 1.3 1.5.2 1.5 2.3 0 .2 1-1 1.4-2 .4-2.5-.4-.8 1.1.8 1.6 4.5-2.5 3 .9.5 1.4-1 1.8-5.2 3.3-.5 1 .7.9 3.5-1.7 6.9-4.7 1.1-.3 1.5 1 1.5-.3 3.8-3.4-.3-.4-3.1.4 1.9-2.5-.3-.4-3 .9-.7 0 .2-.5 1-1.3 2.5-.4 1-1.3 1.9-1 .1-.7-2.5.4-3.4 1.8-1.7 3-.4 1.8-1 .5-3-1-1.7-2.8 0-1 5.7-5.3 9.5-7.2.5 0-.9 2 .9.7 1.5-.1 2.5-1.8 1.5-.5 0 4.6-2 .5-.8 1.6 1.2 1-.1.5-1.3.6-.8-.1-.7-1.3-2 1.3-.1.5.7.5 0 1-1.1 1 .2 1-1 3 1.8.4 2-2.2 1.5.3 1.5-.8.2-1.2-.6-.5-2.6 1.5-1.9-1 1.9-1 2.7-3 1.3-.5 0 7.4-2.5 2.2-2.7 3.9.4.5 1.8-.2 3-2.1 0 16.2-1.1.6-1.4 1.9-4.5 2.8-5 .6-2-1.5-2.5-.7-1.5-.7-1-1.2-1.5-.3.2-.9 2.4-2 .6-1 .5-1.5-.4-1 .5-2-.3-.3-1 .2-1.5 1.4-1.5-.1-1.5.7-4.5 3.7-2.5-1.9-2-.6-1-1.1-2.5-.1-.4-.9.8-2.5-1.2-3 .2-2-8.4-4.6-3 1-3.5 3.4-3.5 1.1-4 .4-2.5-1.6-2.9.8-1.6 2.2-3 1.3 3.5.3 2.7 1.7-.5 1.5-1.7 1.5-4.5 1.1-5 3.9-2 .1-4.5-.9-7 1-4-1.2-5-3.4-3.6-4.1-1.8-3 0-1-3.6-2.3-2-2.3-3.5-2.1-1.6-4.8-1.9-1.8-4.9-1.2-2.6-1.8-2-.6-2.5.3-3.5 2.1-10.5-2.2-5.5 1.7 0-8.1 1.8-.9-1.8-.1 0-4.2 2.6-1.2-1.4-1.5.1-1-.5-.5.7-.8 1 .1 1 .9 3.5-.1.5 1.5 1.7.4 2.8-.7 2-1.7 7-2.7 1.5.6 3.5 3.9 2 1.1 4.5.4 6.5-2.2 5 .3 6-1.1 4.5 1 2.3 2.1 1.7.5 6.5-2.4 6 .1 3.5-2.7 4.5-.1 2.5 1 1.7 2.6.4 1.5 7.9-.3 3 .5 4.5-2.2 11-1 2.1-1.5 4.4-.9 2.5-1.5.1.9.9-.1.9-.9 0-.5-.7-.5.4-.5 3.7-1 .7-1-.2-1.5-.8-.4-2 1.4-.3-.5.5-1.5-.5-2 .8-1.1zM341.4 57.5l-1.5 1.5-2.8 1.3-2 2-2.1.7-.3 1 1.4 2.2 1.1-.7.4-1.8 3-.1 3-1.1.9-5-.4-.5-.7.5zM347 57.5l-.8 1 .9.1.5-.6-.6-.5zM215.2 62l-.7.5.1.4 1.3.1.9-.5-.2-.6-1.4.1zM354 66.5l-.9 1.1 1 0 .5-.5.2-.6-.8 0zM241.5 67l-.9 1 1.8 0 .1-.5-1-.5zM259.8 67l-.1.5.4.2.7-.7-.2-.4-.8.4zM281.8 68.5l-.7.5.5.9.8-.9 0-.5-.6 0zM284.3 68.5l.9 0-.9 0zM328.1 69l0 .5.3 0 .2-.5-.5 0zM254.5 69.5l.7 0-.7 0zM256 76.5l-.4.6.6-.1.1-.5-.3 0zM255 79l-.6.5 0 .5 1.2.7 1-.1.4-1.1-.3-.5-1.7 0zM259 79l.6 0-.6 0zM287.8 79l-3.7 1 .3 2.5.6.5-1.9 1.7-1.1-.2 0-.5 1.1-1.3-1.5-.2-5.5 1.7-4 .3-.9.5.1.5 2.3.6 6.7-1.1-.7.5-1.5.1-.8.9-2.7 1.4-.4 1.1 1.4.3 2-1.1 4-.9 2.5-1.7 2.5 0 2-1.3 4.8-1.3.2-.6-2-.2-.9-.7-1.3-2.5-1.6 0zM264.4 83l-.8.5 0 .5.9 1 1.1.3 1-.5 1-1.3-.5-.8-2.7.3zM325.5 84l.1.5.5 0 .8-.5-.3-.3-1.1.3zM349.1 85.5l-1.1 1-.4 1.3 2-.3 1.8-2-2.3 0zM344 89l-.6 1 .7.2 1.6-1.2-1.7 0zM284.9 90.5l-1.5 1.5 1.7.4.9-.4-.2-1-.9-.5zM269.6 91.5l-.5.6 1.5-.1-.2-.5-.8 0zM345.8 91.5l-2.1 1.5-.3 1 .7 1.2 2 .3 3.5-1.4 2.4-2.1-4.9 2.3-.6-.3-.2-1 .8-1.5-1.3 0zM277.1 93.5l-1.5.9-1.5-.8-.5.2-1.9 2.2.9.4 3-1.6 2.5-.1.6-.7-.6-.5-1 0zM281 95.5l-.5.5 1.1.3 2.4-.8-.4-.3-2.6.3zM347.5 99.5l-.9 1.1 2-.3.7-.8-.7-.3-1.1.3zM353.1 47.5l.4.5-3 2-.3-.5.5-1 2.4-1zM356.6 48.9l0 1.2-.4-.6.4-.6zM213.6 49.4l1 0 1.2.6.8 1.5-.2.5-.8 0-2.5-1.5.5-1.1zM334.1 96.9l1.5.1-.1 1-.9 1.2-2.1.8-.4-.5.2-.5 1.8-2.1zM355.6 103l.7 0 .3.8 0 1.2-1 .3-1-.3-.2-.5 1.2-1.5zM255.6 132.4l1-.1.9 3.2 3.1 3.7 1.1 2.8-.2 2-2.5 5-4.8 0-.6-5.5-2.6-5 .6-1.9 4-4.2zM215.6 142.5l2 .3 4.9 2.7-.1.5-1.3 1-2-.1-5.4-2.9-.4-.5.4-.5 1.9-.5z"/>
<path fill="#3cb42a" fill-rule="evenodd" d="M284.6 31.4l.3.6-.3.6-.5 0-.2-.6.7-.6zM340.6 44.9l4 .3 1 .7 2.6.6.4 1-1.1 1-5.4 2.8-.7-.3-.3-1.4-.5.2-2.5 2.4-.5 1.5-1.5.3-1.5 1-3.1 4 .1 1 1 .4 1-.1 1.5-1.3 4.5-2.2 1.9-1.8 1.1 0 .4.5-3.4 3.4-2 .8-2.5 2-2.7 1.3-.2 1 .9 1 .5 1.7 1.9-.7.6-1.9 2.5 0 4-1.4 1.5-2.7-1.3-.5-.1-1.5 2-1.5.9-2.3 1.5.5 2.5-.4.4.7-.4 1 .5.5 4.5-3.9 2-.4 0 3.6-1.5 1.1-1.5 0-5 1.8-3.5 3.4-2 .6-.3.3 0 2.5-2.3 1.5-.9 2-4 1.6-.5-.1-1-1.4-.5.1-.4.8.2 2-1.3 1.4-3.1-.9-.6 1.5 1.3 2.5-.1 2 2.5-.1.5.1-.1.5-2.4 1.2-2.5-.5-3.4 2.3-.4.5 1 1-1.5 3-.6.5.9 1.4 1-.1.6-.8-.4-1.5 5.3-4 2-.6 2 .5.8 1.1-.3 1.3-6 4.2-.2 2.5 1.2.1 6.5-4.8 1.5-.2.5.7.5 0 2-1.1.4-.7-.4-.2-1.5.7-.5-.3.9-1.2 1.6-.2 1 .7 2-.2 4.5-3.7 2-.1 2-2.1 1.5.1 2.1-1 0-2.5-1.1-.3-2 1.2-.2-.4 3.7-3.5 0 6-.6 1-2.4 2-2.5 3.7-2.5.8-2 2.2-2.5.8-1.9 2 2.4.1 2.5-1.8 2-.5 2.5-2.2 2 .2 3-2.3 0 4.4-.4.6.4.4 0 9.8-1.5.8-1 1.6-4.7 2.9-4.8.6-1-.6-.5-1.2-2.8-.3-3.3-2.5 3.1-3.8 1.8-.7 0-.5-1.8-1.4.9-2.1-.4-.7-1.5-.1-2 1.8-2 .4-3.5 2.9-1.5.7-1.5-.2-1.5-1.3-1-.2-.4-.8-4-.5-.2-1 .6-1.1 1.7-.9-1.7-.4-.5-.6-.5-2 1.5-1-.2-.5-1.8-1.5-2-.4-4.5-3.1-.5-.5 0-1.6-1 .2-.9 1.4-2.1 1.1-3.5 3.2-3.5 1.3-4 .6-1-.6-.5-1-1-.5-3 1.1-1.1.8-.2 1-.7.6-2.9.9-1.6 1.2-2-1.4-1.4 2.2-2.1 1.5.5.2 4.5-.4 1-2 4-.4 3.5 2.1-2 2.2-4.5 1.1-4.8 3.7-1.7.3-5.5-.8-6.5.9-3.2-.9-5.6-3.5-3.5-4-.2-1.7-1.5-1.3 1-1.5-3-.6-2.4-1.9-1.1-1.6-3.5-2.1-2.4-5.8-2.1-1.4-4.2-1.1.7-1-.3-.5-2.2.3-4-1-2 .5-2 1.7-1 .2-10.5-2.2-5.5 1.6 0-7.3 3.5-1.3 2-.1 2.6-1.4.9-1-1-.3-3.5.8-2.5 1.3-2 .4 0-3.1 2.5-.6 1.3-1 .1-1-1.4-1 .5-.8 2.5.2 2 1.8 3.5-.2 1.5.4 1.5-.9 1.5-2 5.5-2 1 .4 1.8 2.1 1.2 3.6 3.5.3 1.5-.8 2.5 0 6.5-2.1 5 .1 6-1.1 4 .9 2.5 2.1 2 .6 6.5-2.5 6 .4 1.6-.5 2.9-2.1 3.5-.1 1 .2 1 .9 1.5 3.7 11.5.1 1.5-.3 3-1.6 10-.8 4-1.9 3-.3 4.5-1.5 2.2-2.8 2.6-1 1.2-1.5 3.5-2.6zM346.6 57l-.7.5-.2 1 .4.7 1.5-.5 1-1.2-2-.5zM221 60l-.6.5 1.4 0-.8-.5zM317 60.5l-.4.5.5.4 1.3-.4-.3-.6-1.1.1zM312 62l0 .5.6.2 1.2-.7-1.8 0zM291.4 63.5l-.7.5.4.6 1 0 .8-.6-.3-.7-1.2.2zM307.8 63.5l.7 0-.7 0zM317.5 63.5l-.7.5.8.3 1-.8-1.1 0zM274.9 64l-.1.5.8.7 1.6-.7-1.1-.9-1.2.4zM288.1 64l.5.8 1.4-.3-.1-.5-.8-.4-1 .4zM285.1 64.5l-1.1 1 .6.7 1 .2.7-1.4-1.2-.5zM260.4 66l-1.5 1-.3 1 1.5.4 1.1-.4.5-1.5-.6-.6-.7.1zM263.9 66l.9 0-.7-.4-.2.4zM241 66.5l-1.7 2 .3.5 3.5-.2 1.7-1.8-3.8-.5zM285 67l-7.7 3 1.8 1.4 3-.9 1.5-1 2-.1 1.5-.9.4-1-1.4-1-1.1.5zM300.5 67l.6.6 1.9-.1.1-.5-2.6 0zM330.2 67.5l-.6.9-1-.3-1 .7 0 2.1 1.5-.9 1-1.4 1.5-.7.2-.4-.7-.4-.9.4zM255 68.5l-5.4 2-1.3 1 1.3.4 3-1.3 3-.6 1.4-1-.4-.6-1.6.1zM318.7 69l-.4.5.3.3 1.1-.3-.1-.5-.9 0zM315.4 70l-1.3 1 1 .3 1.1-.3.7-.5-.3-.4-1.2-.1zM288.3 72.5l-1.5 1.5 1.3.2 1.1-.7.4-.5-.4-.5-.9 0zM259.6 74.5l-1 .8-4.5 1.6-3 .6.1.5.9.2 2-.6.8.4-3.1 2.5 1.8-.2 3 .9 1.5-1.3 2.3-.4.5-1-.3-.5-1-.2-2 .5-.8-.3.3-.5 1.5-.9 2.5 0 2.6-1.1-.1-.5-1-.5-3 0zM318.4 74.5l-3 .5-1.8 1.4-1 0-.2.6.7.2 5-1.2 1.5-1 0-.5-1.2 0zM321 77.5l-2.6 1.5 1.2 1 1.1 0 1.3-1.5-.4-.9-.6-.1zM288.5 78.5l-5.4 1.5 1 1.4-.5.6-3 .2-4.5 1.7-4 .2-2.2 1.4 2.2.9 2.6.1.3.5-1.5 2 .6 1.1.5 0 1.5-.4 1.5-1.2 4-.9 2.5-1.3 2.5-.1 4-2.1 2.5-.4 2.5.3 1-1-.2-.5-1.3-.3-1.5-1.2-2 .2-1.5-2.2-1.6-.5zM275.4 79.5l-.2 1 .9.8 4 .3.8-.6 0-.5-.8-.4-3.5-.8-1.2.2zM265.3 82.5l-3.2.7-1.4.8.4.6 1.5-.3 2 1.3 1.5.4 2.3-2.5-.8-1.4-2.3.4zM299.3 84.5l.3.5.6-.5-.9 0zM342.6 86.5l-.5.6 1 0 .6-.6-.1-.4-1 .4zM260.4 87.5l-1.2 1 0 .5.9.3 2.5-1 .8-.8-1.3-.4-1.7.4zM348.9 90l-4.3 1.6-1.8 1.9-.1 2 2.4.5 1.5-.2 3-1.3 2.8-2 .3-1-.6-.1-3.6 1.1 1.8-2.5-.7-.4-.7.4zM268.8 91l-.7 1.5.5.4 4.3-1.4-4.1-.5zM273.2 93l-.7 1.5-.9.7-.9-.2-.6-1.2-1 0-.6.7.1 1.5-1 .5-1.5-.1-.6.6-.1.5 1.2.4 4.5-1.1 2 .1 3-1.5.9.6-.7 1 1.3.4 2-.6 2.5-.1 3.6-1.7-.6-.4-4 .3-2 .8-.7-.2 2-1.5.2-.7-3.5-.2-1.5.7-1.5-1.2-.9.4zM344.1 97.5l0 .8 0-.8zM352.7 97.5l-.6.8 1-.2.8.9 1 0-.3-1.2-1-.5-.9.2zM348.2 99l-4.1 2.7-.8 1.3.3.3 3.5-2.2 2.3-.6.6-1-.4-.4-1.4-.1zM351.6 48.4l-.5.9-.2-.3.7-.6zM355.6 64.5l1-.1 0 3.6-2 .6-1.5 2-1.8-.1-.7-1.2-3 1.6-.5.6.5.6 1.5-.2 1.1-.9-1.1 1.5-1.5.5-1-.4-1.5 1.8-2.5.4-1.5 3.1-2.5 1.9-1.5-.4-1.4-2.9 2.6-3 3.3-2.9 7.5-5.4 1 1.2 2 .2.5.4 0 1.1 1.6-.1 1.5-2-1-.5.9-1zM348.4 67l.2 1 .5.1.1-1.1-.8 0zM347.6 75.1l1 .4 0 1 .7 1-.7 1.6-2 .7-.5-.3 1.2-2.5-.6-.5.9-1.4zM334.1 97.4l.8.1-.2 1-1.6.5 1-1.6zM255.6 134.5l.5 0 4 4.6 1.1 2.4-.1 2-3.1 5.5-3.1 0-.6-5.5-2.6-5 .9-2 3-2zM214.6 143l2.5 0 4.6 3-1.1.8-1.5-.2-4.7-2.6-.4-.5.6-.5z"/>
<path fill="#a8e020" fill-rule="evenodd" d="M341.1 45.4l3.3.6-1 1-.3 1.7 3-2.3 1.5.1.7 1-1.2 1-2.8 1-1.7 1.2-.5-.2.5-1.7-2 .3-1.4 1.9-1.6.9-.5 1.2-2 .9-.8 0-.2-.8-.5-.2-1.5.4 0 .9 1.7.2 0 .5-2.9 5 2.2.9 1-.2 1-1.2 2.2-1.5 2.8-1.2 1-1.3 1.4 0-2.9 3.2-6.5 3.1-1.2 1.2-.2 1 1.2 1.5-.3 1.2-2.5-.2-3.1 2.5 0 2.5 1.8 5-.7 2-2 1.9-3 1.6-.9-1 0-1 1.9-1.3.7-1.2-2.2-.4-1.4-1.1-.2-2-1.4-.2-4.5.8-3.4 1.4-.3 1.5 1.5 1-2.8 1.9-.8 1.6-3.8 3-3.6 1.5-3.3.5-.8-.5.3-.9 5.8-1.1 1.6-.5.3-.5-4.7.4-.9-.4.2-1 1.2-.6 1.5.1 1.5-.8 2.5-.2 2.3-1.5.3-1.5-2.1.4-4 2.4-1.5.4-2.5-.3-1.5.9-2.5-.1-1.5-1.5-2 .1-.6-1.3-2.4-.9-6 1-1.5.9-2.5-1-3.5 0-2.6 1.5-.7 1 .3.6 1 .4 1.5-.7 4.6.2-.3.5-3.3 1.2-6.5.4.1-1.1.8-1-.4-.4-3 0-4 1-1-1.3-.9 1.7-2 1.5.1 1-.5 1 .5 1-1.2 1.3-1-.1-.3-.7 1.1-1.5-1.3-.5-2.5.2-2-1.2-1.5-2.6-3.5-1.9-2.2-5-2.1-2.5-1.7-.3-1-.7 1.5-2 2 0 3.3-2 .2-.5-2.5-1.6-1.5.2-2.5-.5-3 3.9-2 .9-3-.7-3 .1-2.5-.7-2 .2-1-.6 0 .8.7.5-.7 1.1-7.5-1.2-5.5 1.7 0-6.3 3.5-1.4 2 0 4-2.3 2-.3 1.6-2.3 1.4-1.1 2.5-1.5 3-.9 1.3.5.1 1.5 1.6 2.5 3.6 1-3 2 1.4.5 2-.9 1.5.1 3.5-3.2 2-.9 5-1.5 4.5 0 4-.9 5.2.3 3.8 2.5 2.5.6 6.5-2.6 4.5.8 7.5-2.2 1.8.4 1.5 2-.8.9-1.5-.3-.6 1.9 0 .5.6.1 2-1 4.5-.7 8.5.2 2.5-.5 2-1.2 8.5-.9.9.5-.4.9-2 .1-2 .8-4 .6-3.5 1.4-2.4.2-1.2 1 1.1 1.2 4 1 2-1.7 3 .4 2-1.1 1 0 .7.2-.1.5-2.8 1.5.2.5 3 .1 5-1.2.8-1.4-1.4-1 .1-.5 3.3-1.5 1-1-.8-.2-6 1.3-.4-.6 1.9-2 3-1.7 3-.2 2.5-1.4 2.5-.6 2-2.8 2.5-1.1 3.5-3 1.5-.8zM258.1 61l-.4.5 1.4.4 1-.3.4-.6-2.4 0zM274.5 61l-.3.5.4.5.5.2.8-.7-.8-.7-.6.2zM254.2 61.5l-1.1.5.5.2 2.9-.2 0-.5-.9-.2-1.4.2zM278.4 62l-.8.9-2.5-.2-4 2-2.5-.8-1.1.6-.3 1 3.9-.2 4.2.7.3.5-1.5 1.5-2.5.5-1.6 1 1.6.6 4.6-2.1.2-.5-.8-1 1.5-1.2 3.5-.5 1.5-.8 1 .2.4.3-.5 1.5.7 1-2.6.7-5.2 2.3-.3.5 3 1.5 2-.4 3-1.5 3.5-.3 1.5.5.9-.8-.9-2 .9-1.5 4.1-1.8 1.5 0 1.5-.7-.8-.5-1.7.1-1.5-.6-2 .1-2.5-.7-1 1.6-1 .3-1.5-2-1 .1-2 1.4-2-1.5-1.2.2zM325.5 62.5l1.1.6.7-.6-.7-.3-1.1.3zM229.2 64l.6 0-.6 0zM234.4 64.5l-2.9 1.5.6.4 2-.4.5.5 0 1.8 1 .1 2.2-2.4-1.2-1.7-2.2.2zM263.5 65l-.9.6-2-.2-3.5 2.1-12 4.2-.5.3.2.5 4.8 0 3-1.4 2.5-.3 3.5-1.8 2-.1 2-1.1 2-.4 2.3-1.4-1.8-1.1-1.6.1zM299.3 66l-.7 1.2-6.9 1.3-1.4 1 1.3.4 2.5-.3.7.4-1.2 1.2-1.7.8 1.2.6 2.5-1.6-.3-1 1.3-1.1 3-.2 1 1.3 1-.5.5-.9 1.5.7 1.5-.1.6-.7-1.1-1.5-4.5-1.4-.8.4zM228.2 66.5l-1.5 1 1.4.1 1-.6 0-.5-.9 0zM318.2 68.5l-1.1.9-2 .1-6 2.5-1.8 1.5 6.3-1.6 2-.1 2-.8 2-.1 1.3-1.9-1.3-.9-1.4.4zM287.8 72l-2.8 2.5-.2 1 1.3.2 2.5-.8 2.1-1.9.4-.5-.7-.5-1.8-.4-.8.4zM262.6 73.5l-3 .1-5 2.6-4 .9-.8.9.3.5 1.6.5-1.5 2 1.4.6 2.5-.7 2.5.8 1.5-1.1 2.5-.5 1-.8 1.5.6.5-.3 1.7-1.6 0-.5-1-1 1.4-1.5-3.1-1.5zM292.6 73.5l-.4.5.4.4 2.7-.9-2.2-.4-.5.4zM278.4 75l-1 .5.6.5 1.6.2 1.2-.7-2.4-.5zM281.9 75l-.2.5 1.4 1.2 1.3-1.2-1.3-.7-1.2.2zM282.1 77.5l-.5.5.5.6.5.2.9-.8-.4-.9-1 .4zM355.1 52.7l1.5.1 0 2.8-5.5 2.3-1.8.1.5-1 5.3-4.3zM346.1 55l3-.3.3.8-.8 1.3-3-.2-.1-1.1.6-.5zM344.1 57.4l1.1.1-.1 1.4-.5.4-1.4-.3-.3-.5.2-.6 1-.5zM216.6 57.9l3.1.6.5.5-.3.5-2.3 1.3-2.5.5-2.5 1.3-1.5.3 0-2.3 2.7-.6 2.8-2.1zM314.1 59.8l1.2.2.2.5-.9.8-1.3-.3-.2-.5 1-.7zM345.1 59.6l1.8.4-2.3 2-.5-.5 1-1.9zM309.6 61.3l1.1.2-.6 1.4-1.3-.9.8-.7zM319.6 61.5l.4.5-1.4.4-.2-.4 1.2-.5zM340.6 63.4l1.5.2.6 1.4-.6.8-2 1.1-.5 1.7-1.5.5-1.3-.6.1 1-.8.3-2-1.5-.5.2-.9 1-.5 2.5-1.1.6-1-.6-.4-1.5 1.2-1.5 2.2-1.6 1 0 1.9-.9.5-2 2.1 0 2-1.1zM356.6 65.6l0 2.1-1 0-.1-.7 1.1-1.4zM350.6 66.9l1.3.1.2 1.6 1.8-.1-.8 1.7-1 0-.6-1.2-1.6-.5.1-1 .6-.6zM347.1 67.4l2 1.6 0 .5-3.2 2-.8 2.4-2 0-1.1.6-.4 2-1 1.3-2.5 1.7-1-.5-.5-1 0-1.5 1.5-2.6 3.5-3.1 5.5-3.4zM226.6 71.5l1.5-.4.6.4-1.6.8-.8-.3.3-.5zM318.6 76.4l1.4.1-.9 1.1-2 0-2.5 1-1-.6 5-1.6zM348.1 77.2l.8.3-.3 1-1.5.7 0-.7 1-1.3zM355.1 78.5l.2.5-1.1.5.9-1zM352.6 79.2l1.4.3-.8 1-.6 2-1.5 1.8-2.5.8-2.5 2.6-2.5.5-1.5 1.7-3 .6-2.5 2.1-1.5 0-4 3.6-2.5-.1.2-2.1-1.7-1-2.5.8-2.7-.3.2-1 .5-.4 2 0 .7-.6-.7-1-2.3-.5-.2-1 2.5-.2 1.3-1.3.1-1.5 2.1-1.9 1.5-.7 1-1.2 3 .1 1 1.2-.2.5-5.9 4-.7 1.5-.2 2 .5.5 1.9-.5 1.4-1.5 5.2-3.5 1 1.2 2.2-.2-1.5 1.5.3.6 1-1.1 4-.9 1.6-4.1 1.4-.6-.5 1.6 1.2 0 .9-1 0-.5-1.2-.5.5-.5 1.1-.7.6.2-.1.6.5-.1 3-2.8zM333.6 90.5l-.4.5.4.5 1.5.5-.3-1-1.2-.5zM315.1 79.8l2 0 1.5 1 2 .2.1 1 1.8 1 .7 1.5-.3.5-.8.4-6-2.6-1.5-1.8.5-1.2zM282.1 80.9l1 .1.4.5-1.9.3-.3-.3.8-.6zM290.6 84.5l2.5-.3 1 .8-2.4 1.5-.4 1.5-.7.5-2 .3-.4-.3.4-.6-1-.5-.3.6.6 1-1.3 1-1-.5-.5-1.2-.5 0-1.1 1.2-.5 1.5-2.8 1.5-1.6 0 .5-1-.5-.1-1.7.1-1.3 1.2-1.5-.7.4-1 1.6-.7 1.5-1.5 6-1.8 3.5-.1 1.5-1.5 2-.9zM268.1 84.8l.5-.2.4 1.4 1.4.5.7.9 2.5-.3.2.4-1.4 3-1.3.3-2.5-.9-1.5.5-2-.3-2.5.4-1.2-.5.2-.7 1.5-.7 1.5-1.6 2.1-.5 1.4-1.7zM342.1 84.8l1.6.2-.6.7-1.5.6-.2-.8.7-.7zM356.6 84.9l0 3.1-1.7 2 1.7-.1 0 3.3-1.5-.1-.3.4.4 2 1.4.1 0 3.4-.9 0-.7-3-.4-.1-3 1.4-1 1.5-1.5-.2-2.5.9-4.4 3.5-1.6-.1-1.6-.9-.2-1-1-1 1.8-1.5 0 1.6 1.5-.1.7-1-1.4-1 .9-1 1.9-.5-.2 2 .6.5 1 0 .4-.5 0-1.5.5-.5 4.1-1.7 3.3-2.3 1.7-2.2-3.9.7.5-2-.8-1 1.7-1.5 1 1 .5-.1 3-2.5zM262.1 85.9l1-.3 1 .9-1.8 0-.2-.6zM258.6 89.8l1.6.2-.6 2.4 1.5-.1 2-1.5 2 .8 2-.8.7.7-.3 1.5.8.5-.4 2-2.3.3-1.5.9-1.5-.3-1.5-.9-1-2-2.5-2 0-.9 1-.8zM261.7 93l-.3.5 1.2.7 2.4-1.2-2.4-.3-.9.3zM289.6 91l2-.1 2.6 1.6-.6 1.1-1.5 1-4 .7-2.7 2.2-2.8 1.2-1-.5-2 .7-5.6-.4 1.1-.6 2 .3 2.5-.8 2 0 4.5-1.7 1.3-1.7-.2-2 .4-.5 2-.5zM342.6 91.4l1 0 0 .6-1.5 1.2-.5-.1.1-1.1.9-.6zM271.6 92.5l.9 0 .1.5-1 1.6-1.2-1.6 1.2-.5zM283.1 93.4l1.5-.3.9.4-.9.7-2.5.2-.6-.4 1.6-.6zM271.1 97.4l1.5.6.2.5-.7.5-2 .4-2.1-.4 3.1-1.6zM351.1 99.5l1.5-.2 2 .7-.9 1.5-4.1 2.7-2 0-2 .8-1.5-.5-.2-.5 1.2-1.2 2.5-1.5 2-.1 1.5-1.7zM254.6 136l1-.3 1 .5 3.4 3.3.8 2-.2 1.7-4 5.6-1.1-.8-.4-4.5-2.6-5 .6-1.5 1.5-1zM215.1 143.3l2.5.3 3.4 2.4-.5.5-1.4-.1-4-2.4 0-.7z"/>
<path fill="#ffd400" fill-rule="evenodd" d="M341.1 45.9l1.9.6-.4 1.2-2.5 1.2-1 1.7-2 .7-.5 1.3-1 .5-1-.6-1.7 0 1-2 2.2-.9 5-3.7zM345.6 46.9l1.5-.2.7.8-1.2 1.1-2 .4-.4-.5 1.4-1.6zM354.6 53.3l2 0 0 2.1-5.5 2.3-1.2-.2 4.7-4.2zM329.6 53.8l1.5-.1.5 1 1.5.8-1 2-2.8 3 .3.7 1.5-.6 1.3.4.2.5-1.6 2.5 1.3 1.5 0 .5-2.2 0-6 4 2 .6 1.4 3.4.2 3.5-2.1 2.7-2 .9-.4-.6 3.1-3-.6-1.5-3.1.1-.5-2.4-2-.5-7.5 1.4-2 1.6-2 .5-3 2.3-3 1.4-2.5-.2-.5-.2 0-.5 1-.9 2-.6 1.4-1.5-.4-.4-6.5 1.9-.2.5 1.6 1.5-1.4 1-1.5-.2-.6-1.3.4-1-1.8.2-2-1.3-6 1.1-1-.3.3-1.2.6-.5 4.6-1.1 1.5.3 5.5-1.6.6-1.1-1.7-1 1.1-1.4 3.5.1 2-.9 3-.1 2.5-2.2.8-2.5 1.7-1.2 1 .2.5 1.5 2.4 3-.2.5-1.2.5-1.5-.8-.4.3 0 1.5-5.6 2.7-.6.8.1.9 1.5.5 1 1 .6-1.4 1.9-1.7 2-.1 2-.8 5.5-.1 1.8-1.3.5-1.5 1.2-.3 2.1-1.7.4-1-1.5-.2-.7 1.2-.8.3-1.5-.6-2.5.3-2 1.3-1.4-.3-.5-2 .9-.8 4-.9 2 .4 1 1 1-.2-.2-1.5.7-.7 2.5-.1 1-.6.6-1.1-.6-.5-2 .1-1.6-.6 2.8-2.5-.1-1-1.5-.5 4.4-3.2zM310.4 67.5l.7 0-.7 0zM348.1 55.4l.8.1-.8.9-.6-.4.6-.6zM257.1 56.9l5-.1 2 .7-2.5 2.1-5 1.1-1.6-.2-2.9 1-.7 1 .2.6 1 .3 5-1.1 2 .3 1.5-.4 1.5.7 3-.2.7.3-.2.5-3.5 1.3-2 0-3.8 2.2-8.2 3.2-3.5.6-.4-.3.3-.5 3.6-2.5-.1-.5-3.4-1.6-2 .1 0-.8 2.2-1.2-.2-.8-1.5-1.4.1-1.3 1.6-1 4.3-1.2 2.5 0 5-.9zM323.6 56.6l1.3.4-.3.5-1.5 0 .5-.9zM339.6 57.4l.5.1-.2.5-1.3 1-1.5.4-.5-.4 1.1-1 1.9-.6zM228.1 57.9l3 .2 1.5 1.9 2.6 1.5-1.6 1.3-2 .5-2-.1-2.5 1.3 2 .4 2.5-.7.5.3-.2.5-1.3.7-3 .5-2.5 1.3-4 1.4-1.5-.4-5 1.3-1.9-.3-1.6.7 0-3.7.7-.5 2.8-1.6 2.5-.2 3.9-2.2 1.9 0 5.2-4.1zM223.6 65l0 .7 1.7-.7-1.7 0zM276.6 57.9l3.5.7 2.5-.4 1.5.2 1.9 2.6-1.4-.8-3 .4-4-.3-1-.8 0-1.6zM311.6 57.9l3.5-.2.4.3-1.1.5-5.8 1.3-1-.1 1.3-1.2 2.7-.6zM344.1 58l.2.5-.7 0 .5-.5zM266.1 59l3.2 1.5-1.7.7-2-.7-.1-1 .6-.5zM216.6 59.3l1.3.2-.3.6-2.5.6-2 1.4-2 .5 0-1.6 3.5-.6 2-1.1zM295.6 59.9l11.5.1-1 .7-1.5 0-4 1.8 3.5 2 2.5.5 0 1-1 .4-6-1.6-2 2.3-2.5.1-5 1.1-.5-1.3 1-1 8.1-2.5.2-.5-4.3-1.5.2-1 .8-.6zM270.1 60.4l1.5-.3.5.4.1 1.5.5.5-.6 1-1.7 0-.2-.5.4-1-.6-1 .1-.6zM345.1 60.3l.5-.3.6.5-1.1.7 0-.9zM340.1 63.8l1.5 0 .6 1.2-2.5 1.5-.4 2-1.2 0-1-1-.2-2 3.2-1.7zM278.1 65.4l1 .6-.5.8-1 .2-.6-.5.1-.5 1-.6zM268.1 66.5l2-.4 1.1.9-1.6 1.3-2.9.2-.2 1.5-1.3 1.5 0 1-.6.8-2-.8.3-1-1.3-.4-1 1.2-1.5-.3-.9 1.5-1.1.3-2.2 1.7-4.3.6-1.5 1.8-1 .3-2-.6-.6-2.1-1.1-1.5.2-.6 2 .5 0 1.6 1 .5 2-1 1 .1.3-.6-1.3 0-.6-1 2.6-1.5 6-1.3 1.5-1.1 6-1.5 3-1.6zM253.6 73l-.7.5.2.3 1.1-.3-.6-.5zM356.6 66.2l0 1.1-.5.1.5-1.2zM229.6 67.5l2.3 0-1.1 1-1.7.5-.9-.5 1.4-1zM350.6 67.5l1 0-.5.7-.6-.2.1-.5zM335.6 67.9l0 .4 0-.4zM346.1 68.4l1-.2 1.3 1.3-3.3 1.3-.4 2.7-1.6 0-1.5.7-.6 2.8-3.4 2-.6-1.5 1.1-3.3 3.6-3.2 4.4-2.6zM352.6 68.8l1.1.2-1.1 1.1-.6-.6.6-.7zM269.1 70.5l2 .1 1.5 1.9 2-1.2 3.5 1.1 1.5 0 4.5-1.8 2.5.1.5.8-.5 1-2.5 1.5-6.5.5-.7.5-.4 1 .6.5 4.1 0 .2.5-1.3 1.1-4.5.5-4 2.1-6.5.5-1 .7-.2-.4.6-.5-.1-1 .7-.7 1.5-.4.7-.9.3-1-1.5-1 1.5-1.5.6-3 .9-1zM271.9 73l-1.4.5.6 1.9 1-.5 1.3-1.9-.8-.5-.7.5zM272.7 76.5l-.2.5.6.1.5-.6-.9 0zM269.5 77.5l0 .5.6.1.7-.6-.7-.4-.6.4zM290.1 70.8l1.2.2-1.2-.2zM241.6 71.2l1.1.3-1.1.6 0-.9zM348.1 77.9l0 .5 0-.5zM258.6 80.9l2.4.1-.4 1.7-2.5 1.3-2 .4-1 1.4-1-.1-2.2-1.7 1.7-2.4 3 .5 2-1.2zM308.1 81.5l.7 0-.7 0zM316.6 81.1l1.1.9-.6.7-1.1-.7.6-.9zM351.1 81.4l1.2.1-.4 1.5-1.3 1.3-2 .2 2.5-3.1zM275.1 82.4l3-.3.5.4-3 1-1.5-.5 1-.6zM331.1 82.6l2 .2.8 1.2-5.8 3.4-1-1.1.1-.8 1.4-1.2 1.5-.1 1-1.6zM320.6 83.4l.7.1-.7.3-.3-.3.3-.1zM290.6 85l1.5-.4.8.4-.2.5-3.1 1.3-.8-.3 1.8-1.5zM301.6 85.3l1.4.2-.9.6-1.5 0-1.5.6-.9-.2.4-.6 2 .1 1-.7zM342.1 85.5l.6 0-.6 0zM345.1 85.4l.5-.3 1.8.4-.9 1.5-1.4.7-.6-.2-.1-.5.7-1.6zM356.6 85.8l0 1.8-1.5 1.7-2.5 1.2-1 0 .6-1.5 4.4-3.2zM268.1 86.3l2 1.4 2.8.3-1.3 2.1-3-.8-2 .5-3-.8 1.3-1.5 3.2-1.2zM336.1 87.3l-.3 1.2.3 1 2 1-1.5 1.6-.5-.1-.5-1.3-2.3-1.2 1.3-1.5 1.5-.7zM282.1 88l1-.4.7.4-2.2 2.4-1 .4-3 .1-.8-.4 1.1-1.5 4.2-1zM326.1 87.9l1.7.1-1.2 3.6-2.2-2.1 1.7-1.6zM341.1 88.4l1.6.1-.6 1-1 .2-.9-.2.9-1.1zM286.6 88.8l0 .6-.4-.4.4-.2zM259.1 90.5l0 .5-.8 0 .8-.5zM331.6 90.5l.7 0 0 1 1.8 1 .1.5-2.6 2.6-2 .1-.4-.2.2-1 2-2-.4-1 .6-1zM356.1 90.4l.5 0 0 2.2-2.2-.1-.3 2-1.5 1.8-1.4.7-.9 1-4.7 1.7-3.5 3-1.5 0-1.1-.7.1-1.1 3-1.4 1.5.2 1-.5.5-2.2 4.5-2.2 2.9-1.8 1.8-2 1.3-.6zM289.1 91.4l2-.2 2.5 1.2.1.6-2.1 1.5-3 .1-.7-2.1.1-.5 1.1-.6zM329.1 92.4l.5.1 0 .6-1-.1.5-.6zM322.6 92.9l.5.1-.5-.1zM266.1 93.4l1.2.6-.7.8-3 .9-2.2-.7 4.7-1.6zM341.6 97.5l.5-.3.4.3-.4.4-.5-.4zM356.6 97.2l0 1.5-.6-.2.6-1.3zM351.6 100.5l1.5-.4 1 .5-4.5 3.3-2-.4-2 1.1-1-.5 1-1.2 2-.9 2 0 2-1.5zM255.1 136.8l1.5.3 3.5 3.4 0 2.2-2 1.5-1 .1-.5-.4-3.1-4.9.1-1.1 1.5-1.1zM216.1 143.8l1.6.2 2.4 2-2-.4-2-1.8z"/>
<path fill="#f66414" fill-rule="evenodd" d="M341.1 46.5l1 .2.1.8-2.1.7-1.5 2.2-1.5-.1-1.5 1.5-2.2.2.7-1.3 2.5-.8 1.2-1.4 3.3-2zM345.6 47.4l1-.3.6.4-1.6 1.1-.6-.1.6-1.1zM355.1 53.4l1.5.4 0 1.3-5 2.1-.8-.2 4.3-3.6zM330.1 53.9l.7.1.3 1.4 1.1.1-.1 1.1-1 1.4-3.2 2.5-1 0 .7-2.5-.6-1.5 3.1-2.6zM257.1 57.5l4 .4 0 .7-4.5 1.5-2 0-3.5 1.1-1.1-.2.1-.7 3-1.7 4-1.1zM338.6 58l.7 0-.3.5-1.5.5 0-.5 1.1-.5zM248.1 59l.7 0-1.1 1 .7 1.5-1.3 1.3-1-.1-1.3-2.7 3.3-1zM227.6 59.4l3-.3.8 1.4 2.9 1-.7.8-4 .4-3.5 1.5-2.5.4-1.5.8-2.1.1-1.1 1 .3 1-1.1.8-2 0-.5-.3.3-1-1.6-1 .7-1 2.1-.4 4-2 2.7-.1 3.8-3.1zM301.6 60.4l1.8.1-.8.9-1.5-.1-2 .7-1.2-.5 0-.5.7-.3 2 .2 1-.5zM331.1 61l1 .4-.1.6-2.4 2-.3.5 1.3.5-1.5 1.2-.5.1-.5-1.3-2.5.4-.8-.4-.2-.5.5-.3 2 .1 1.5-1.8 2.5-1.5zM211.6 61.2l1.6.3-2.1.8 0-1 .5-.1zM257.1 62.9l1.5 0 1.4 1.1-.9 1.3-2.5 1.2-3 .6-.5-.6-1-.2-1.1.7.8 1-.4.5-3.3 1.3-.7-.3.2-.3 1.7-1.2.4-1-1.6-1.1-1.5-.1-1.3-1.3 1.3-1.2 3.5-.1 2 1.1 5-1.4zM340.6 63.9l1 .6 0 .5-2 1-1 2.1-1-1.1.2-1 2.8-2.1zM296.6 64.5l1.5 0 .2.5-.6 1.5-.6.4-2-.2-3.5.9-1.1-.1.4-1 5.7-2zM310.1 64.9l.5-.1 0 .5-.5.1 0-.5zM226.1 65.5l.6 0 .1.5-1.7.9-4 1.1-1-.5 2-1.8 1.5.6 2.5-.8zM318.6 65.4l1.2.1.2.5-.5.5-1.4.5-1.1-.5 1.6-1.1zM307.6 68.9l1.5-.1.9 1.7-5.9 3-2.5.5-1-.5.1-2 2.4-1.2 2 .3 2.5-1.7zM352.6 69.4l.5-.3 0 .5-.5-.2zM343.1 70.5l1 .1.4 1.4-.4 1-2.8 1-.5.5-.2 2.4-2 .5-1 .9.5-1.3-.4-1.5.4-1 5-4zM324.1 71l1.2.5-.7.7-2.5.6-1.4-.3 1.4-1.2 2-.3zM269.1 71.4l.5-.4.6.5-.6.4-.5-.5zM283.1 71.5l.7 0 .1.5-.8 1.5-4 .5-2.2-.5.2-.4 3 0 3-1.6zM297.6 71.5l1.3 0-.1.5-.8 0-.4-.5zM251.6 72.8l.3.2-.5 0 .2-.2zM325.6 72.8l1 0 .3 1.2-.8.7-2 .3-.5-.5.3-.5 1.7-1.2zM314.1 73.3l.6.2-1 0 .4-.2zM298.6 74l.5-.4.3.4-.3.5 2.3 1-.6.5-3.7 1.4-2.5-.4 4.3-2 .2-.5-.5-.5zM310.1 74l1-.2.5.2 0 .5-1.5.8-.4-.8.4-.5zM268.6 74.4l.5-.4.5 1-1 .7-.3-.2.3-1.1zM274.6 74.9l1-.2.3.3-.8 1.3-.6-.8.1-.6zM247.1 76.9l1.5-.4.4.5-.9.5-1-.6zM275.1 76.7l3.5.3.7.5-.8.5-2.9.1-4 2.1-4-.2-.2-.5.7-.8 2 .1 5-2.1zM287.6 76.9l.5.1-.3.5-1.8 0 1.6-.6zM305.1 77.4l.5-.1.3.7-1 1-2.3.9-1.8-.4 4.3-2.1zM258.6 81.4l1-.1.4.7-1.9.8-.1-.8.6-.6zM254.1 82.5l1-.1.9.6-.3 1-1.1.8-.9-.8.4-1.5zM351.1 82.3l.5-.1-.3.8-.7.9-.8.1 1.3-1.7zM275.6 82.8l.8.2-.8.1 0-.3zM331.6 83.4l1.2.1.2.5-.5.5-3.4 1.8-1.4-.3.9-1.2 1.5.4.5-.3 1-1.5zM345.1 86l1-.4.6.4-1.1 1.3-.7-.3.2-1zM356.6 86.3l0 .8-1.5 1.9-2.7 1 1.6-2 2.6-1.7zM266.1 87.5l1.2 0-.3 1.5-1.4.1-1-.5.3-.6 1.2-.5zM269.6 88.3l1.7.2-.1.5-1.6.1 0-.8zM280.6 88.4l1.4.6-.9.9-3 .6-.5-.3.5-.8 2.5-1zM326.1 88.3l1.1.2-.3 1-.8.6-.9-.6.9-1.2zM355.6 91.1l1 .1 0 .5-1.4-.2.4-.4zM289.1 91.9l1.5-.1 2.5.7.2.5-1.7 1.2-2 .1-.6-.8.1-1.6zM332.6 92.5l1 .3-.2.7-1.8 1.7-1.5.2 0-1.1 2.5-1.8zM351.6 93.9l1.5-.3.4.4-1.3 2-3.1 2-3 .9 0-1.9 3.5-1.5 2-1.6zM340.6 100.9l1.5-.3.9.4-.9 1.4-1 .2-1.4-1.1.9-.6zM349.1 102.8l.8.2-.8.4-.4-.4.4-.2zM345.6 103.5l.5 0-.5.6 0-.6zM255.6 138.2l1.5.4 2 1.4.6 1-.3 1-1.3.5-1-.6-1.9-2.4 0-1 .4-.3z"/>
<path fill="#ee1010" fill-rule="evenodd" d="M338.1 48.9l.7.1-.7.8-.3-.3.3-.6zM354.6 53.9l1.5 0 .5.5-.3.6-1.7 1-2 .1 2-2.2zM330.1 54.4l-.6.6.6-.6zM256.1 58.3l2 .2-.9 1-1.1.2-1.2-.2-.3-.5 1.5-.7zM253.6 59.5l.7 0-.7 0zM253.1 59.9l-.4.1.4-.1zM246.6 61l.8.5-.8.6-.5-.6.5-.5zM331.1 61.4l.5.1-.5 1-2.5 1 2.5-2.1zM230.6 61.9l1.4.1-.9.3-.5-.4zM227.1 62.5l1-.3.5.3-.9.5-5.6 1.8-5.5 1.2-.7-.5 5.2-2.2 6-.8zM257.1 63.5l.7 0 .3.5-1.5 1.4-.6-.4 0-1 1.1-.5zM246.6 64.5l.6 0-.6 0zM249.1 64.4l1.5-.1.4 1.2-.5.5-.9-.1-.7-.9.2-.6zM340.1 64.4l.9.1 0 .5-.9.5-.5-.5.5-.6zM296.6 64.8l1 .2-.5 1.4-2.5-.3-2 .4 4-1.7zM221.6 66.8l.5-.3.6.5-1.1.3 0-.5zM307.1 70l1 0 0 .5-1 1-.9 0 .9-1.5zM303.1 71l1 .3.4 1.2-2.9.5 0-1 1.5-1zM342.6 71l1 .1.1 1.4-3 1.5-.6 2.6-1.5-.3-.5-.8.3-1 4.2-3.5zM297.1 76.3l1 .2-1 .2-.5-.2.5-.2zM271.6 78.3l2-.2.4.4-2.4 1.2-.9-.2.9-1.2zM254.6 83.5l.5 0-.5 0zM345.6 86.1l.5.4-.5.4 0-.8zM354.6 87.9l.7.1-.2.5-1.1.5.6-1.1zM280.6 88.9l.4.1-.2.5-.8 0 .6-.6zM326.1 88.8l.5.2-.5.5 0-.7zM290.1 92.8l2.5.2-2 .9-.7-.4.2-.7zM332.1 93.4l.6.1-.8 1-1.4.5.1-.6 1.5-1zM351.6 94.3l1 .2-.5 1-2 .9-1.5 1.6-1.5.6-.8-.1.3-1.5 3-.8 2-1.9zM340.6 101.4l1.4.1-.2.5-1.1 0-.1-.6z"/>
<path fill="none" stroke="#3a3a3a" stroke-width="0.42" stroke-linecap="round" d="M216.3 20l-1.5.3-1.6.4-1.5.5-.8.2M212.4 21.9l-1.5-.5 1-1.2M220.5 20l-1.6 0-1.6.1-1.5.2M217.2 21l-1.4-.7 1.1-1.1M225.7 20.4l-1.3-.9-1.5-.6-.8-.2M223.1 19.9l-1-1.2 1.5-.5M229.7 20l-.9-1.3-.5-.7M228.4 19.6l-.1-1.6 1.5.5M234.1 19.7l1-.8M237.8 20.6l-.1 1.6-.3.8M238.6 21.9l-1.2 1.1-.5-1.5M242.1 20.8l-.2 1.6-.4 1.5-.8 1.4M242.2 24.6l-1.5.7-.1-1.6M247.5 20.5l-.4 1.6-.6 1.5-.3.7M247.5 23.5l-1.3.8-.3-1.5M251 19.8l-.7 1.5M256.3 20.1l1.6-.4M260.5 19.7l1.5.5M264.3 20.2l1.2 1.1.5.6M265.8 20.3l.2 1.6-1.5-.3M269.4 20.2l.5 1.6.6 1.5.2.7M271.2 22.5l-.5 1.5-1.3-.9M273 20.6l.2 1.6.2 1.6.2 1.6 0 .8M274.4 24.8l-.8 1.4-1-1.2M277.5 20.1l-.3 1.6-.2 1.6-.1 1.6-.1.8M277.8 24.5l-1 1.2-.8-1.4M282.4 20l-.7 1.4-.6 1.5-.5 1.5-.2.8M281.6 24.2l-1.2 1-.5-1.5M286.6 20.7l-1.1 1.1-.9 1.3-.8 1.4M285.2 23.9l-1.4.6-.2-1.6M291 20.2l-1.4.8-1.3.9-.6.5M289.3 22.3l-1.6.1.5-1.5M296.1 19.9l-1.6.4-.8.2M295.2 21l-1.5-.5 1.1-1.2M300.4 20l-1.6.4M304.1 20.7l-1.1 1.2M308.2 20.6l-.4 1.6-.2.8M308.8 21.9l-1.2 1.1-.6-1.5M313.5 20.7l-.6 1.5-.4 1.5-.2.8M313.5 23.5l-1.2 1-.5-1.5M317 19.9l-.9 1.4-.6 1.4-.6 1.5M316.2 23.3l-1.3.9-.4-1.6M322.2 20.1l-1.2 1.1-1.1 1.1-.5.7M321 22.6l-1.6.4.2-1.6M325.7 20.4l-1.4.8-1.3.9-.6.5M324 22.6l-1.6 0 .5-1.5M331.1 20.8l-1.5.7-1.4.7M329.8 22.5l-1.6-.3.8-1.4M334.7 19.9l-1.3 1-1.3.9-.7.4M333 22.3l-1.6-.1.6-1.4M339.9 19.7l-1.1 1.2-1.1 1.1-1.2 1.1-.6.6M337.5 23.4l-1.6.3.4-1.6M343.6 20.1l-1.1 1.1-1.2 1.2-1.1 1.1-.5.6M341.2 23.8l-1.5.3.2-1.6M348.2 20.3l-1.3.9-1.3 1-1.2 1-1.1 1.1M344.9 24.1l-1.6.2.3-1.5M353.1 20.4l-1.4.7-1.4.8-1.3.8-1.3 1M349.3 23.7l-1.6 0 .5-1.5M218.7 24.7l-1.6 0-1.6.2-1.6.2-.8.2M214.6 25.9l-1.5-.6 1.1-1.1M222.6 24.5l-1.5-.5-1.6-.4-1.6-.1-.8.1M218.4 24.5l-1.3-.9 1.3-.9M227.9 25.1l-1.2-1.1-1.2-1-1.3-1-1.4-.7M223.5 22.7l-.7-1.4 1.5-.2M232 24.6l-1.2-1-1.1-1.2-.9-1.3M228.8 22.7l0-1.6 1.5.5M236.5 24.8l-1.5.3-1.6-.4M234.5 25.9l-1.1-1.2 1.5-.6M240.4 24.6l-1 1.3-1.3.9-1.6.5-.7.1M237.2 28l-1.4-.6 1-1.1M244.5 24.7l-.8 1.3-1.1 1.2-1.2 1-.7.5M242.3 28.7l-1.6 0 .6-1.5M249.1 24.9l-1.1 1.2-1.2 1.1M248.4 27l-1.6.2.3-1.6M254.1 25.2l-1.2-1M258.5 24.1l1.1-1.2M262.8 25l1.5.4M267.3 24.6l.8 1.4.5 1.5.1.8M269.3 26.8l-.6 1.5-1.2-1M271.3 24.6l.3 1.6.1 1.6 0 1.6-.2 1.6M272.6 29.8l-1.1 1.2-.7-1.4M275.3 25.1l-.1 1.6-.1 1.6-.2 1.6-.4 1.6-.5 1.5M275.3 32.1l-1.3.9-.4-1.5M280.7 24.3l-.5 1.6-.4 1.5-.4 1.5-.5 1.6-.3.7M279.9 30.3l-1.3.9-.4-1.5M285 24.2l-.8 1.4-.8 1.4-.7 1.4-.3.8M283.8 28.4l-1.4.8-.3-1.6M288.4 24.9l-1.2 1-1.1 1.2-.9 1.3M286.7 27.9l-1.5.5 0-1.6M293.7 24.2l-1.6.3-1.5.5M292.1 25.4l-1.5-.4.9-1.3M298.2 24.5l-1.5-.5M301.7 24.4l-1.5-.4M306 24.9l-.7 1.5M310.6 24.8l-.3 1.6-.6 1.5-.3.7M310.7 27.8l-1.3.8-.3-1.5M315.3 24.1l-.6 1.5-.6 1.5-.6 1.5-.4.7M314.5 28.5l-1.4.8-.2-1.5M319.8 25.2l-.9 1.3-.9 1.3-.9 1.4-.4.6M318.2 29.2l-1.5.6-.1-1.6M323.7 25.2l-1.3.9-1.2 1.1-1 1.1M321.7 28l-1.5.3.2-1.5M328 24.7l-1.5.6-1.4.6-.7.4M326 26.5l-1.6-.2.7-1.4M332.5 25.2l-1.5.7-1.5.5-1.5.5M329.5 27.3l-1.5-.4 1-1.3M337.4 25l-1.3 1.1-1.3.9-1.4.7-.7.3M334.2 28.3l-1.5-.3.7-1.3M341.9 24.5l-1.1 1.2-1.2 1.1-1.2 1-1.3.9M338.7 28.7l-1.6 0 .5-1.5M345.8 25l-1.2 1.1-1.2 1.1-1.2 1-1.2 1-.6.5M341.9 29.6l-1.5.1.4-1.5M351 24.9l-1.4.9-1.3.9-1.3 1-1.2.9M347.3 28.6l-1.5 0 .4-1.5M216.7 28.5l-1.6.1-1.6.3-1.5.4-1.6.5M211.9 30.3l-1.5-.5 1-1.2M220.4 29.1l-1.6-.2-1.6-.1-1.6.2-1.6.3M215.4 29.9l-1.4-.6 1.1-1.2M224.6 29.1l-1.5-.6-1.5-.6-1.5-.4-1.6-.2-1.6 0M218.2 28.2l-1.3-.9 1.3-.9M230 28.8l-1.4-.7-1.3-.9-1.4-.9-1.3-.9-1.4-.8-.7-.3M223.2 25.7l-.7-1.4 1.6-.2M234.1 28.6l-1.5-.3-1.5-.6-1.4-.8-1.3-.9-1.2-1M227.6 26.5l-.4-1.5 1.5.1M238.7 29.5l-1.6.4-1.6.1-1.6-.1-1.6-.3-1.5-.5-1.4-.7M230.2 29.8l-.8-1.4 1.6-.3M243.1 28.9l-1.4.8-1.5.7-1.5.5-1.6.3-1.5.1M236.9 32.1l-1.3-.8 1.2-1M246.9 28.5l-1.4.8-1.4.7-1.4.7-.8.3M243.5 31.4l-1.6-.4.9-1.3M251.9 29.5l-1.5-.4-1.6.1-.8.2M249.5 30l-1.5-.6 1.1-1.1M256 29.3l-.9-1.3-.9-1.3M254.2 28.3l0-1.6 1.5.5M260 29.3l-.4-1.5 0-.8M258.8 28.3l.8-1.3 1 1.2M264.4 29.3l-.5 1.4M268.5 28.9l0 1.6-.5 1.5-.8 1.3M268.6 32.7l-1.4.6-.1-1.5M273.2 28.4l-.2 1.6-.3 1.6-.5 1.5-.7 1.4-1 1.3M272 35.3l-1.5.5 0-1.5M277.6 29.5l-.4 1.5-.5 1.6-.7 1.4-.7 1.4-.9 1.4-1 1.2M274.9 37.6l-1.5.4.1-1.6M282.1 28.5l-.7 1.5-.6 1.5-.7 1.4-.7 1.4-.8 1.4M280 35.1l-1.4.6-.2-1.6M286.9 29.3l-1.1 1.2-1 1.2-1 1.3-.9 1.3M284.4 33.8l-1.5.5 0-1.6M290.9 29.5l-1.5.5-1.4.8-1.2 1M288.4 31.7l-1.6.1.4-1.5M295.7 29l-1.5-.4-1.6-.2-.8 0M293.1 29.3l-1.3-.9 1.3-.9M300.4 29.4l-1.4-.8-1.5-.7M298.3 29.3l-.8-1.4 1.6-.2M304.4 28.7l-1.6.1-.7-.1M303.3 29.7l-1.2-1 1.3-.8M308.7 29.1l-1 1.3-1.3.9-.7.4M307.3 31.8l-1.6-.1.7-1.5M313.6 29.5l-.8 1.4-1 1.3-1.1 1.2-1.2 1-.7.4M310.4 34.8l-1.6 0 .6-1.5M317 29l-.9 1.4-.9 1.3-1 1.3-1 1.2-.6.5M314.2 34.4l-1.6.3.3-1.5M322.4 28.9l-1.2 1-1.2 1.1-1.1 1.2-1.1 1.2M319.4 33l-1.6.4.3-1.6M326.6 28.7l-1.5.6-1.4.7-1.3.9-.7.5M323.3 31.3l-1.6.1.5-1.5M331.1 28.6l-1.5.5-1.5.4-1.5.5-1.5.6M326.6 31l-1.5-.4.8-1.3M334.8 28.7l-1.4.7-1.5.5-1.6.5-1.5.4M330.3 31.3l-1.5-.5 1-1.2M339.1 29.2l-1.3.9-1.4.8-1.5.7-1.5.6-1.5.5M333.4 33.1l-1.5-.4 1-1.3M344.3 28.6l-1.2 1-1.3 1-1.3.9-1.3.9-1.4.7M339.3 33.3l-1.5-.2.7-1.4M347.9 28.9l-1.3.9-1.2 1-1.3.9-1.4.9-.6.5M343.7 33.1l-1.6 0 .5-1.5M352.5 29.2l-1.4.7-1.4.9-1.4.8-1.3.9-.7.4M347.9 33l-1.6-.1.6-1.5M218 33.5l-1.5.2-1.6.3-1.6.3-1.5.5M213.3 35.3l-1.5-.5 1-1.2M222.9 32.9l-1.6-.2-1.6-.2-1.6 0-1.6.1-1.5.3M216.4 33.6l-1.4-.7 1.1-1.1M227.2 33.2l-1.5-.4-1.5-.5-1.6-.4-1.5-.3-1.6-.2-1.6 0M219.2 32.3l-1.3-.9 1.3-.9M231.2 33.2l-1.6-.4-1.5-.5-1.5-.5-1.5-.5-1.5-.6-1.5-.5-1.6-.3M221.6 31.1l-1.1-1.2 1.5-.6M236.3 33.9l-1.6 0-1.6-.1-1.6-.3-1.6-.3-1.5-.4-1.5-.5-1.5-.6-.8-.2M225.5 32.8l-.9-1.3 1.5-.5M241 33.7l-1.5.3-1.6.2-1.6.2-1.6 0-1.6-.1-1.6-.2-1.6-.3-.7-.2M230.2 34.8l-1-1.2 1.4-.6M244.8 33l-1.6.3-1.5.4-1.6.4-1.6.2-1.6.2-1.6.1M236.7 35.4l-1.4-.8 1.3-1M249.5 33.5l-1.6-.2-1.6 0-1.5.3-1.6.3-.8.2M243.9 34.7l-1.5-.6 1.1-1.2M254.1 33.1l-1.3-.9-1.4-.8-1.5-.4-1.6 0M249.6 31.9l-1.3-.9 1.3-.9M258.3 32.9l-1.2-1.1-1-1.2-1-1.3-.5-.6M254.7 30.3l-.1-1.6 1.5.5M262.3 33.3l-1.5-.6-1.3-.9-.5-.6M259.3 32.7l-.3-1.5 1.5.2M267.3 33.2l-1.2 1.1-1.5.7-1.5.2-.8-.1M263.5 36l-1.2-.9 1.3-.9M271.4 34l-.8 1.3-1.1 1.2-1.3.9-1.5.7-1.5.3-1.6.1M264.9 39.3l-1.3-.8 1.3-1M276.2 33.4l-.7 1.4-.8 1.4-.9 1.3-1.2 1.1-1.3.9-1.4.8-1.5.5M269.9 41.2l-1.5-.4.9-1.3M279.8 33.5l-.8 1.4-.8 1.4-1 1.3-1.1 1.2-1.2 1-1.3 1-1.4.8M273.8 41.7l-1.6-.1.7-1.5M284.9 33.5l-1.1 1.2-1 1.3-1 1.2-1.1 1.2-1.2 1.1-.6.5M280.5 39.8l-1.6.2.4-1.5M289.2 33.1l-1.4.7-1.3.9-1.2 1.1-1.2 1.1M285.7 36.7l-1.6.2.4-1.6M293 33l-1.6 0-1.5.3-1.5.6-.7.4M289.3 34.5l-1.6-.2.7-1.4M297.2 33.4l-1.5-.6-1.6-.4-1.6-.2-1.6.1M292.3 33.1l-1.4-.8 1.3-1M302.4 33.2l-1.5-.3-1.6-.5-1.4-.6-.8-.3M298 32.8l-.9-1.3 1.6-.4M307 33.2l-1.5.5-1.5.3-1.6-.1-1.6-.3M301.9 34.7l-1.1-1.1 1.4-.7M310.8 33.8l-1.3 1-1.4.8-1.5.5-1.6.3-1.6 0M304.7 37.3l-1.3-.9 1.3-.9M315.5 33.4l-1.1 1.2-1.1 1.1-1.3 1-1.4.8-1.5.6-1.5.4M309.1 39.1l-1.5-.6 1-1.2M319.4 32.9l-1.2 1.1-1.1 1.2-1.2 1-1.2 1-1.4.9-.7.4M314.2 38.6l-1.6-.1.7-1.4M323.7 33l-1.4.8-1.3 1-1.2 1-1.3.9-1.3 1M318.8 37.7l-1.6 0 .5-1.5M328.4 33.2l-1.5.5-1.5.5-1.5.7-1.3.8-1.4.9M322.8 36.7l-1.6-.1.6-1.5M333 33.1l-1.6.5-1.5.4-1.6.4-1.5.5-1.5.6-.7.3M326.2 36.2l-1.6-.4.8-1.3M337.5 33.9l-1.4.7-1.5.6-1.6.5-1.5.4-1.5.4-1.6.4M329.9 37.4l-1.5-.5 1-1.2M342.1 33.5l-1.4.8-1.4.8-1.4.7-1.5.6-1.5.4-.8.3M335.6 37.6l-1.5-.5 1-1.3M345.8 33.7l-1.3.9-1.4.8-1.4.8-1.5.6-1.5.6M340.3 37.8l-1.6-.4.9-1.3M350.9 32.9l-1.4.8-1.4.8-1.4.8-1.4.8-.7.3M346.2 36.6l-1.6-.2.7-1.4M216.7 38.3l-1.6.2-1.6.1-1.6.3-1.5.2-.8.1M211 39.9l-1.4-.7 1.1-1.1M220.3 37.4l-1.6 0-1.6.1-1.5.2-1.6.2-.8.2M214.6 38.8l-1.4-.7 1.1-1.1M225.4 37.8l-1.6-.2-1.6-.2-1.6-.1-1.6 0-1.6.1-1.6.2M217.2 38.4l-1.4-.8 1.2-1M229 37.9l-1.6-.2-1.6-.3-1.6-.2-1.5-.2-1.6-.1-1.6 0-1.6.1M219.2 37.8l-1.3-.8 1.2-1M234.3 38.1l-1.6-.1-1.6-.2-1.6-.3-1.6-.2-1.5-.3-1.6-.2-1.6-.2-.8-.1M223.6 37.5l-1.2-1 1.4-.8M237.8 37.3l-1.6 0-1.6-.1-1.6-.1-1.6-.1-1.6-.2-1.6-.3-1.6-.3-.8-.1M227 37.2l-1.2-1.1 1.5-.7M242.7 38l-1.6 0-1.6 0-1.6 0-1.6 0-1.6 0-1.6-.1-1.6-.2-.8-.1M231.9 38.7l-1.2-1.1 1.4-.7M247.6 38.1l-1.6-.4-1.6-.1-1.6-.1-1.5.1-1.6 0-1.6.1-.8 0M238.6 38.6l-1.3-.9 1.2-.9M251.7 38.3l-1.4-.8-1.5-.5-1.6-.4-1.6-.2-1.6 0-1.6.1-.8.1M243 37.4l-1.4-.8 1.3-1M255.8 37.4l-1.4-.9-1.3-.8-1.4-.8-1.5-.6-1.6-.3-1.6-.1-.8 0M247.6 34.8l-1.4-.9 1.3-.9M259.8 37.6l-1.4-.7-1.4-.8-1.3-.9-1.3-.9-1.3-.9-1.4-.8M252.4 34l-.7-1.4 1.6-.1M265.1 37.9l-1.6 0-1.5-.2-1.6-.4-1.4-.7-1.4-.8-1.4-.9M256.8 36.4l-.6-1.5 1.6 0M268.6 38.3l-1.5.6-1.6.3-1.6 0-1.6-.1-1.5-.4-1.5-.6-.8-.4M259.4 39.1l-.9-1.4 1.6-.3M273.9 37.3l-1.1 1.1-1.3 1-1.4.8-1.5.5-1.5.4-1.6.2-1.6-.1-.8-.1M264.3 42.2l-1.2-1.1 1.3-.8M278.2 37.4l-1 1.2-1.2 1.1-1.2 1-1.4.8-1.4.8-1.5.5-1.6.4-.8.2M269.6 44l-1.5-.6 1.1-1.2M281.8 37.7l-1.2 1.1-1.2 1.1-1.2 1-1.3.9-1.4.8-1.4.7-1.5.7M274.2 44.3l-1.6-.3.8-1.4M286.9 37.5l-1.3.8-1.4.9-1.3.9-1.3.9-1.4.9-.7.4M281.1 42.4l-1.6-.1.7-1.5M291 38.2l-1.6.2-1.5.4-1.5.6-1.4.7-1.4.8M285.1 41l-1.5-.1.7-1.5M295 38l-1.5-.3-1.6-.2-1.6.1-1.6.3-1.5.6-.7.3M288 39.1l-1.5-.3.8-1.3M299.7 37.3l-1.6-.5-1.5-.4-1.6-.4-1.5-.3-1.6 0-.8 0M292.4 36.6l-1.3-.9 1.2-.9M304.6 38l-1.6-.1-1.6-.2-1.5-.4-1.6-.4-1.5-.4-1.6-.4-.7-.2M295.5 37.1l-1-1.2 1.4-.6M308.7 37.8l-1.6.4-1.6.1-1.6 0-1.6-.1-1.5-.3-1.6-.4-.8-.2M299.4 38.5l-1-1.2 1.5-.5M313 38l-1.5.7-1.5.6-1.5.4-1.6.3-1.6 0-1.6 0-1.6-.3M303.3 40.8l-1.2-1.1 1.4-.7M316.9 37.3l-1.3.9-1.4.8-1.4.7-1.5.6-1.6.4-1.5.3-1.6.1M307.9 41.9l-1.3-.8 1.2-1M321.4 37.3l-1.4.8-1.4.8-1.4.8-1.4.7-1.5.6-1.5.6M314.3 42l-1.5-.4.9-1.3M326.4 37.7l-1.6.5-1.5.5-1.4.6-1.5.7-1.5.6-1.4.6M319 41.6l-1.5-.4.8-1.3M330.9 37.8l-1.6.3-1.5.4-1.6.3-1.5.5-1.6.5-1.5.5M323.2 40.7l-1.6-.4.9-1.3M335.4 38l-1.5.4-1.6.3-1.6.3-1.6.2-1.5.3-1.6.3M327.5 40.5l-1.5-.7 1.1-1.1M338.9 37.3l-1.5.5-1.5.4-1.6.4-1.6.3-1.5.2-1.6.3M331 40.1l-1.4-.7 1.1-1.1M344.1 38.2l-1.5.5-1.5.5-1.6.4-1.6.3-1.5.3-.8.2M337 41l-1.4-.6 1.1-1.2M348.7 37.3l-1.5.6-1.5.5-1.5.5-1.6.5-1.5.4M342.6 40.3l-1.5-.5 1-1.2M352.8 37.4l-1.5.5-1.5.5-1.6.4-1.5.5-.8.2M347.4 40l-1.5-.5 1-1.2M218.3 42.6l-1.6-.1-1.6 0-1.6-.1-1.6 0-1.6 0M211.6 43.3l-1.3-.9 1.3-.9M223 42.6l-1.5-.2-1.6-.1-1.6-.1-1.6-.1-1.6-.1-.8 0M215.6 43l-1.3-1 1.3-.9M227.4 42.7l-1.6-.3-1.5-.2-1.6-.2-1.6-.1-1.6-.2-1.6 0M219.1 42.6l-1.2-.9 1.3-.9M231.4 42.2l-1.6-.3-1.5-.2-1.6-.2-1.6-.3-1.6-.2-1.6-.1-1.6-.1M221.6 41.8l-1.3-1 1.4-.9M236.6 42.5l-1.6-.2-1.6-.2-1.5-.2-1.6-.2-1.6-.3-1.6-.2-1.6-.2-.8-.1M225.9 42l-1.2-1.1 1.4-.8M240 41.9l-1.6-.2-1.6-.2-1.6-.2-1.6-.1-1.6-.2-1.6-.2-1.6-.3-.8-.1M229.2 41.5l-1.2-1.1 1.5-.7M244.7 42.4l-1.5-.4-1.6-.3-1.6-.2-1.6-.2-1.5-.2-1.6-.1-1.6-.2-.8-.1M234.1 41.8l-1.2-1.1 1.4-.7M249 42.6l-1.4-.6-1.5-.6-1.6-.4-1.5-.3-1.6-.2-1.6-.1-1.6-.1-.8-.1M238.6 41.2l-1.2-1 1.3-.8M254.1 42.1l-1.4-.8-1.4-.7-1.5-.7-1.5-.6-1.5-.5-1.6-.3-1.5-.2-.8 0M244.1 39.3l-1.2-1 1.3-.9M257.8 41.9l-1.4-.7-1.5-.8-1.3-.8-1.4-.7-1.5-.8-1.4-.6-1.6-.5-.7-.1M248 38.1l-1-1.2 1.4-.6M262.2 42.2l-1.6-.4-1.5-.5-1.5-.7-1.4-.7-1.4-.8-1.3-.8-1.4-.8-.7-.4M252.1 38.6l-.7-1.5 1.5-.1M267 42.7l-1.6.1-1.6-.1-1.6-.3-1.6-.4-1.5-.5-1.5-.6-1.4-.7-.7-.4M256.2 41.2l-.7-1.4 1.6-.2M271.3 42.3l-1.5.5-1.6.3-1.6.2-1.6.1-1.6-.1-1.5-.3-1.6-.4-.7-.2M260.5 43.6l-.9-1.2 1.5-.5M275.4 42.8l-1.5.7-1.4.6-1.6.5-1.5.4-1.6.3-1.6.1-1.6 0-.8 0M265.1 46.3l-1.3-.9 1.4-.9M280.1 41.8l-1.4.8-1.4.8-1.4.7-1.5.7-1.5.6-1.5.5-1.5.4-.8.1M270.5 47l-1.4-.6 1.1-1.1M284.2 42.5l-1.4.6-1.5.7-1.4.7-1.4.7-1.5.7-1.5.6-1.5.6M275.6 47.5l-1.6-.4.9-1.3M288.6 42.8l-1.6.2-1.5.4-1.5.6-1.5.6-1.5.6-1.4.7-.7.3M280.4 46.5l-1.5-.3.8-1.4M293.4 42.6l-1.6-.3-1.6 0-1.6 0-1.6.3-1.5.4-1.5.6-.8.3M284.8 44.2l-1.6-.3.9-1.4M297.8 42.4l-1.5-.4-1.6-.4-1.6-.3-1.5-.1-1.6-.1-1.6.2-1.6.4-.8.2M287.5 42.4l-1.5-.5 1.1-1.2M302 42.6l-1.6-.4-1.5-.3-1.6-.4-1.5-.4-1.6-.4-1.6-.2-1.6-.2-.8.1M291.5 41.3l-1.3-.9 1.3-.9M306.9 42.6l-1.6-.1-1.6-.1-1.6-.2-1.6-.4-1.5-.3-1.6-.4-1.5-.4-.8-.2M296.1 41.7l-1-1.2 1.5-.6M311.1 42.6l-1.6.2-1.6.2-1.6 0-1.6-.1-1.6-.1-1.6-.3-1.5-.3-.8-.2M300.2 43.2l-1-1.2 1.5-.6M315.7 41.9l-1.6.5-1.5.4-1.6.3-1.5.3-1.6.1-1.6.1-1.6-.1-.8-.1M305.1 44.4l-1.2-1 1.3-.8M319.2 42.7l-1.6.5-1.5.4-1.5.5-1.6.3-1.6.3-1.6.3-1.5.1M309.6 45.9l-1.3-.8 1.2-1M324 41.7l-1.6.4-1.5.4-1.6.4-1.5.5-1.5.5-1.6.4-.8.2M315.4 45l-1.5-.5 1.1-1.2M328.9 42.6l-1.6.1-1.5.2-1.6.3-1.6.3-1.5.4-1.6.4M321 44.8l-1.5-.5 1-1.2M333 41.7l-1.6.1-1.6.2-1.6.1-1.5.2-1.6.2-1.6.3M324.9 43.4l-1.4-.6 1.1-1.1M337.7 42.2l-1.6.1-1.5.1-1.6.1-1.6.1-1.6.1-1.6.1M329.5 43.6l-1.3-.8 1.2-1M341.2 41.8l-1.6.2-1.6.2-1.6.1-1.6.1-1.6.1-1.6.1M333 43.4l-1.4-.8 1.3-1M345.7 42.6l-1.6.2-1.6.1-1.6.2-1.6.1-1.6.1-.8 0M338.3 44.2l-1.4-.9 1.2-1M351 42.7l-1.6.1-1.6.1-1.6.1-1.6.1-1.6.2M344.4 44.1l-1.4-.8 1.2-1M216.1 46.7l-1.6 0-1.6 0-1.6 0-1.6-.1-1.6 0M209.4 47.6l-1.3-1 1.3-.9M220.8 46.4l-1.6 0-1.6-.1-1.6 0-1.6 0-1.6-.1M214.1 47.2l-1.3-1 1.4-.8M224.5 46.1l-1.6-.1-1.6-.1-1.6-.1-1.6-.1-1.6 0-.8 0M217 46.6l-1.3-.9 1.4-.9M229 46.5l-1.6-.1-1.6-.1-1.6-.1-1.6-.1-1.6-.1-.8-.1M221.5 46.9l-1.3-1 1.4-.8M233.8 46l-1.6-.1-1.6-.2-1.6-.2-1.6-.1-1.6-.2-1.6-.1M225.5 46.1l-1.3-1 1.4-.8M237.8 46.5l-1.6-.2-1.6-.2-1.6-.2-1.6-.2-1.6-.1-1.6-.2-.8-.1M228.6 46.4l-1.2-1.1 1.4-.7M242.9 46.6l-1.6-.3-1.6-.3-1.5-.3-1.6-.2-1.6-.2-1.6-.1-.8-.1M233.8 46.1l-1.2-1 1.4-.8M247.4 46.7l-1.5-.5-1.5-.5-1.6-.4-1.5-.4-1.6-.2-1.6-.3-1.6-.2-.8-.1M236.9 45.2l-1.2-1.1 1.4-.7M251 46.1l-1.5-.6-1.4-.6-1.5-.6-1.6-.5-1.5-.4-1.6-.4-1.5-.3-.8-.1M240.7 43.7l-1.1-1.1 1.4-.7M255.7 46.7l-1.5-.6-1.4-.6-1.5-.6-1.4-.7-1.5-.6-1.5-.6-1.5-.6-.8-.2M245.6 43.5l-1-1.3 1.5-.5M260.7 47.1l-1.5-.4-1.6-.5-1.5-.5-1.4-.6-1.5-.7-1.4-.7-1.5-.7-.7-.3M250.4 44.1l-.8-1.4 1.6-.3M265.3 47l-1.6 0-1.6-.2-1.6-.3-1.6-.4-1.5-.5-1.5-.6-1.4-.6-.8-.3M254.5 45.4l-.8-1.3 1.6-.3M269 46.7l-1.6.2-1.6.1-1.6-.1-1.6-.1-1.6-.3-1.5-.3-1.6-.5-.7-.2M258.1 46.7l-.9-1.2 1.5-.5M273 47.1l-1.6.5-1.5.3-1.6.2-1.6.2-1.6 0-1.6 0-1.6-.2-.8-.1M262.3 49l-1.2-1 1.4-.8M278 46.1l-1.5.6-1.5.6-1.5.5-1.5.4-1.6.4-1.6.2-1.5.2-.8 0M267.8 49.8l-1.3-.8 1.2-1M282.8 46.9l-1.5.5-1.5.6-1.5.5-1.5.6-1.6.5-1.5.4-1.6.4-.7.1M272.8 51.2l-1.4-.7 1-1.1M287.3 46.1l-1.6.4-1.5.4-1.5.5-1.5.5-1.5.6-1.6.5-.7.3M278.9 49.7l-1.5-.4.9-1.3M291 46.1l-1.6.1-1.6.1-1.6.3-1.5.4-1.5.5-1.5.5-.8.3M282.4 48.7l-1.5-.4.9-1.3M296 46.2l-1.6-.3-1.5-.1-1.6-.1-1.6 0-1.6.1-1.6.3-1.6.4M286.4 47.1l-1.5-.6 1.1-1.2M300.2 46.8l-1.6-.2-1.6-.3-1.6-.3-1.6-.2-1.6-.1-1.6-.1-1.5.1-.8 0M289.6 46.5l-1.3-.8 1.2-1M304.4 46.6l-1.6-.2-1.6-.2-1.5-.2-1.6-.3-1.6-.3-1.6-.2-1.5-.3-.8-.1M293.7 45.9l-1.1-1.1 1.4-.7M308.6 47l-1.6 0-1.6 0-1.6-.1-1.6-.1-1.6-.2-1.5-.3-1.6-.2-.8-.2M297.8 47l-1.1-1.1 1.4-.7M313.2 46.4l-1.6.3-1.5.2-1.6.1-1.6.1-1.6-.1-1.6 0-1.6-.2-.8-.1M302.5 47.8l-1.2-1.1 1.4-.7M317.8 46.8l-1.6.3-1.6.4-1.5.2-1.6.3-1.6.1-1.6.2-1.6 0M308 49.2l-1.3-.9 1.3-.9M321.8 46.8l-1.5.4-1.6.3-1.6.3-1.5.3-1.6.3-1.6.2-.8.1M313 49.5l-1.4-.8 1.2-1M325.9 46.5l-1.6.2-1.6.3-1.5.3-1.6.3-1.6.3-1.5.3M317.9 48.8l-1.4-.6 1.1-1.1M331 46.9l-1.6.1-1.6.1-1.5.2-1.6.2-1.6.2-.8.1M323.7 48.5l-1.4-.7 1.1-1.1M335.4 47.2l-1.6.1-1.6 0-1.6.1-1.6.1-1.6.1-.8.1M328 48.5l-1.4-.8 1.2-1M339.4 47.1l-1.6.1-1.6 0-1.6.1-1.6 0-1.6.1-.8 0M331.9 48.3l-1.3-.9 1.2-.9M344.2 46.9l-1.6.1-1.6 0-1.6.1-1.6.1-1.6 0M337.6 48.1l-1.4-.9 1.3-.9M348.1 46.1l-1.6.1-1.6 0-1.6.1-1.6.1-1.6.1M341.4 47.3l-1.3-.8 1.3-1M353 46.1l-1.6 0-1.6 0-1.6.1-1.6 0-1.6.1M346.4 47.2l-1.4-.9 1.3-.9M218.7 50.4l-1.6 0-1.6 0-1.6 0-1.6 0-1.6 0M212 51.3l-1.3-.9 1.3-.9M222.5 50.9l-1.6 0-1.6 0-1.6 0-1.6 0-1.6 0M215.8 51.8l-1.3-.9 1.3-1M227.7 50.8l-1.6-.1-1.6 0-1.6-.1-1.6 0-1.6 0M221 51.5l-1.3-.9 1.3-.9M232.2 51.5l-1.6 0-1.6-.1-1.6-.1-1.6 0-1.6-.1M225.5 52.2l-1.3-1 1.3-.8M236.4 50.8l-1.6-.1-1.6-.1-1.6-.1-1.6-.1-1.6-.1-.8 0M228.9 51.2l-1.3-.9 1.4-.9M240.4 51.6l-1.5-.3-1.6-.1-1.6-.2-1.6-.1-1.6-.1-.8-.1M232.9 51.7l-1.2-1 1.3-.8M245 51.1l-1.6-.3-1.5-.3-1.6-.3-1.6-.2-1.6-.2-1.6-.2-.8-.1M235.9 50.6l-1.2-1.1 1.4-.8M249.4 50.6l-1.6-.5-1.5-.4-1.5-.4-1.6-.4-1.5-.4-1.6-.3-1.6-.2-.8-.1M238.9 49l-1.2-1.1 1.4-.7M254.3 51.1l-1.5-.4-1.6-.5-1.5-.5-1.5-.5-1.5-.5-1.6-.5-1.5-.4-.8-.2M243.8 48.8l-1-1.2 1.5-.5M258.3 51.4l-1.5-.4-1.6-.4-1.5-.4-1.5-.5-1.6-.5-1.5-.6-1.5-.5-.7-.2M247.8 49.1l-.9-1.2 1.5-.5M262.5 50.7l-1.6-.2-1.6-.3-1.5-.3-1.6-.4-1.5-.5-1.5-.5-1.5-.6-.8-.3M251.8 48.9l-.9-1.3 1.6-.4M267.4 50.6l-1.6.1-1.6 0-1.6-.1-1.6-.2-1.5-.3-1.6-.3-1.5-.5-.8-.2M256.6 50.3l-1-1.2 1.5-.5M271.1 51.2l-1.5.3-1.6.2-1.6 0-1.6.1-1.6-.1-1.6-.2-1.6-.2-.8-.1M260.3 52.3l-1.1-1.1 1.4-.7M275.6 51.1l-1.5.4-1.6.4-1.6.2-1.5.3-1.6.1-1.6.1-1.6 0-.8 0M265 53.5l-1.2-.9 1.3-.9M279.8 51.4l-1.6.5-1.5.4-1.6.3-1.5.4-1.6.3-1.6.2-1.6.2-.8.1M269.4 54.5l-1.4-.7 1.2-1.1M284.9 50.9l-1.5.4-1.6.4-1.5.4-1.6.4-1.5.4-1.6.4-.8.1M276.3 54l-1.5-.6 1.1-1.1M289.4 51.4l-1.6.2-1.6.2-1.6.3-1.5.3-1.6.4-1.5.4M281.5 53.8l-1.5-.6 1-1.2M293.5 50.7l-1.6-.1-1.6.1-1.6.1-1.6.2-1.6.2-1.5.4M285.4 52.2l-1.4-.6 1-1.2M297.1 51.5l-1.6-.1-1.6-.1-1.6 0-1.6 0-1.6.1-1.5.1-.8.1M288.2 52.4l-1.4-.8 1.1-1M302.6 51.1l-1.6-.1-1.6-.1-1.6-.2-1.6-.1-1.6-.1-1.6-.1-1.6-.1M292.7 51.3l-1.3-1 1.4-.8M306.5 51.3l-1.6 0-1.6-.1-1.5-.1-1.6-.1-1.6-.2-1.6-.1-1.6-.2-.8 0M295.8 51.5l-1.2-1 1.3-.8M310.8 50.8l-1.6.1-1.6 0-1.6.1-1.6-.1-1.6-.1-1.6-.1-1.6-.1M300.8 51.6l-1.2-1 1.4-.8M315.1 50.8l-1.6.2-1.6.2-1.6.1-1.6.1-1.6.1-1.6-.1-1.6 0M305.2 52.4l-1.3-1 1.4-.9M319.7 50.4l-1.5.2-1.6.3-1.6.2-1.6.2-1.6.1-1.6.2M311.6 52.4l-1.4-.8 1.2-1M323.8 51.1l-1.6.1-1.6.2-1.6.2-1.6.2-1.6.2-.8.1M316.4 52.9l-1.4-.8 1.2-1M329 51l-1.6.1-1.6.1-1.6.2-1.6.1-1.6.2-.8.1M321.6 52.6l-1.4-.8 1.2-1.1M332.6 51.5l-1.6.1-1.6 0-1.6.1-1.6.1-1.6.1M326 52.7l-1.4-.8 1.3-1M337.7 50.7l-1.6.1-1.6 0-1.6 0-1.6.1-1.6 0M331.1 51.8l-1.4-.9 1.3-.9M342.3 51.2l-1.6.1-1.6 0-1.6 0-1.6 0-1.6.1M335.6 52.3l-1.3-.9 1.3-1M345.8 51.1l-1.6.1-1.6 0-1.6 0-1.6 0-1.6.1M339.1 52.1l-1.3-.8 1.3-1M350.3 51.5l-1.6 0-1.6 0-1.6.1-1.6 0-1.6 0M343.6 52.5l-1.3-.9 1.3-.9M216.4 54.9l-1.6 0-1.6 0-1.6 0-1.6 0-1.6 0M209.7 55.8l-1.3-.9 1.3-1M220.7 55.5l-1.6-.1-1.6 0-1.6 0-1.6 0-1.6 0M214 56.4l-1.3-1 1.3-.9M225.5 55.9l-1.6 0-1.6 0-1.6 0-1.6 0-1.6 0M218.8 56.8l-1.3-.9 1.3-.9M229.7 55.5l-1.6 0-1.6-.1-1.6 0-1.6 0-1.6 0M223 56.3l-1.3-.9 1.3-.9M233.9 55l-1.6-.1-1.6 0-1.6 0-1.6-.1-1.6 0M227.2 55.7l-1.3-.9 1.4-.9M238.6 55.4l-1.6-.1-1.6-.1-1.6-.1-1.6 0-1.6-.1M231.9 56l-1.3-1 1.3-.9M242.6 55.7l-1.6-.2-1.6-.1-1.6-.2-1.6-.1-1.6-.1-.8 0M235.1 56l-1.3-1 1.4-.9M246.9 55.6l-1.5-.2-1.6-.3-1.6-.2-1.6-.2-1.6-.1-1.6-.2M238.6 55.4l-1.2-1 1.4-.8M251.3 55l-1.6-.3-1.5-.3-1.6-.4-1.6-.3-1.6-.3-1.5-.2-1.6-.2M241.4 54.1l-1.1-1.1 1.4-.7M256 55.9l-1.6-.3-1.6-.3-1.5-.3-1.6-.3-1.6-.4-1.5-.3-1.6-.3-.8-.1M245.3 54.7l-1.1-1.1 1.4-.7M259.9 55l-1.6-.2-1.5-.3-1.6-.3-1.6-.3-1.5-.4-1.6-.4-1.5-.4-.8-.2M249.2 53.7l-1-1.2 1.5-.5M264.5 55.8l-1.6 0-1.6-.1-1.6-.2-1.6-.2-1.6-.3-1.5-.3-1.6-.3-.8-.2M253.7 55.4l-1.1-1.2 1.5-.6M269 55.3l-1.5.1-1.6 0-1.6 0-1.6-.1-1.6-.1-1.6-.2-1.6-.2-.8-.1M258.2 55.8l-1.1-1.1 1.4-.7M273.3 55.2l-1.5.2-1.6.2-1.6.1-1.6.1-1.6.1-1.6-.1-1.6 0-.8-.1M262.6 56.7l-1.2-1 1.3-.8M278 55.3l-1.6.3-1.6.3-1.6.2-1.6.2-1.5.2-1.6.1-1.6.1-.8 0M267.4 57.6l-1.3-.9 1.2-.9M281.9 55.7l-1.6.3-1.6.3-1.5.2-1.6.3-1.6.2-1.6.2-.8.1M273 58.1l-1.4-.8 1.2-1M286.3 55.5l-1.6.2-1.6.2-1.6.3-1.5.2-1.6.3-1.6.3M278.2 57.7l-1.4-.7 1.1-1.1M291.1 54.8l-1.6.1-1.6.1-1.6.2-1.6.2-1.6.3-.8.1M283.8 56.5l-1.5-.7 1.2-1.1M295.2 55.8l-1.6-.1-1.6 0-1.6.1-1.6.1-1.6.1-.8.1M287.8 56.9l-1.4-.8 1.2-1M300.3 55.8l-1.6 0-1.6-.1-1.6 0-1.6-.1-1.6 0-1.6.1M292 56.5l-1.3-.8 1.3-1M303.9 55.7l-1.6 0-1.6-.1-1.6-.1-1.6 0-1.6-.1-1.6 0M295.6 56.3l-1.3-.9 1.3-.9M308.5 55.1l-1.6 0-1.6 0-1.6 0-1.6-.1-1.6-.1-1.6 0-.8-.1M299.4 55.8l-1.3-1 1.4-.8M312.7 55.9l-1.6 0-1.6.1-1.6 0-1.6 0-1.6 0-1.6 0M304.4 56.9l-1.3-.9 1.4-.9M318.1 55.5l-1.6.1-1.6.1-1.6.1-1.6.1-1.6 0-.8.1M310.6 56.8l-1.3-.8 1.3-1M322.4 55l-1.6.1-1.6.1-1.6.1-1.6.1-1.5.1-.8.1M315 56.4l-1.3-.8 1.2-1M325.7 55.4l-1.6 0-1.6.1-1.6.1-1.6.1-1.6.1M319.1 56.6l-1.4-.8 1.3-1M331.2 55.4l-1.6 0-1.6.1-1.6 0-1.6.1-1.6.1M324.5 56.5l-1.3-.8 1.2-1M334.8 55.9l-1.6 0-1.6 0-1.6.1-1.6 0-1.6.1M328.1 56.9l-1.3-.8 1.3-1M339.7 55.2l-1.6 0-1.6 0-1.6.1-1.6 0-1.6 0M333 56.2l-1.3-.9 1.3-.9M344 55.6l-1.6 0-1.6 0-1.6 0-1.6 0-1.6 0M337.3 56.5l-1.3-.9 1.3-.9M347.8 55.5l-1.6 0-1.6 0-1.6 0-1.6 0-1.6 0M341.1 56.4l-1.3-.9 1.3-.9M352.8 54.9l-1.6 0-1.6 0-1.6 0-1.6 0-1.6 0M346.1 55.8l-1.3-.9 1.3-.9M218.1 59.2l-1.6 0-1.6 0-1.6 0-1.6 0-.8 0M212.2 60.1l-1.3-.9 1.3-.9M222.6 59.2l-1.6 0-1.6 0-1.6 0-1.6 0-1.6 0M215.9 60.1l-1.3-.9 1.3-.9M227.4 60.2l-1.6 0-1.6 0-1.6 0-1.6 0-1.6 0M220.7 61.1l-1.3-.9 1.3-1M231.2 60.3l-1.6-.1-1.6 0-1.6 0-1.6 0-1.6 0M224.5 61.1l-1.3-.9 1.3-.9M235.8 59.2l-1.6 0-1.6-.1-1.6 0-1.6 0-1.6 0M229.1 60l-1.3-.9 1.3-.9M240.4 59.6l-1.6-.1-1.6-.1-1.6-.1-1.6 0-1.6 0M233.7 60.2l-1.3-.9 1.3-.9M244.7 59.6l-1.6-.2-1.6-.1-1.6-.1-1.6-.1-1.6 0-.8-.1M237.2 60l-1.3-1 1.4-.8M249.6 59.6l-1.6-.1-1.5-.2-1.6-.2-1.6-.1-1.6-.2-1.6-.1M241.3 59.7l-1.2-1 1.3-.8M254.1 60l-1.6-.2-1.6-.2-1.6-.2-1.5-.1-1.6-.2-1.6-.2-.8-.1M245 59.9l-1.2-1.1 1.4-.7M258.3 60.1l-1.6-.1-1.6-.2-1.6-.2-1.5-.2-1.6-.2-1.6-.2-.8-.1M249.2 60l-1.2-1.1 1.4-.7M262.1 60.3l-1.6-.1-1.6-.1-1.6-.1-1.6-.2-1.6-.2-1.5-.2-1.6-.2M252.1 60.3l-1.1-1.1 1.4-.7M267 59.2l-1.6 0-1.6 0-1.6 0-1.6-.1-1.6-.2-1.6-.1-1.6-.2-.8-.1M256.2 59.6l-1.2-1.1 1.4-.7M270.9 60.3l-1.6.1-1.6.1-1.6 0-1.6 0-1.6 0-1.6-.1-1.6-.1M261 61.3l-1.3-1 1.4-.8M275.9 59.2l-1.6.2-1.6.2-1.6.1-1.6.1-1.6.1-1.6 0-.8 0M266.8 60.8l-1.3-.9 1.3-.9M279.6 60.4l-1.6.1-1.6.2-1.6.2-1.5.1-1.6.1-1.6.1M271.4 62.1l-1.3-.9 1.2-1M284.2 59.7l-1.6.2-1.6.2-1.6.2-1.6.1-1.6.2-.8.1M276.8 61.5l-1.4-.8 1.2-1.1M289 59.2l-1.6.1-1.6.1-1.6.2-1.6.1-1.6.2-.8.1M281.6 60.8l-1.4-.8 1.2-1M293.2 59.9l-1.6 0-1.6.1-1.6 0-1.6.1-1.6.2-.8 0M285.8 61.1l-1.4-.8 1.2-1M297.1 59.8l-1.6 0-1.6 0-1.6 0-1.6 0-1.6.1-.8 0M289.7 60.8l-1.4-.9 1.3-.9M302.4 60l-1.6 0-1.6-.1-1.6 0-1.6 0-1.6 0-.8 0M294.9 60.8l-1.3-.9 1.3-.9M306.2 59.7l-1.6 0-1.6 0-1.6 0-1.6-.1-1.6 0-.8 0M298.6 60.5l-1.2-.9 1.3-.9M310.5 59.7l-1.6 0-1.6 0-1.6 0-1.6 0-1.6 0-.8-.1M303 60.6l-1.3-1 1.3-.8M315.1 59.7l-1.6.1-1.6 0-1.6 0-1.6 0-1.6 0-.8 0M307.6 60.7l-1.3-.9 1.3-.9M320 59.4l-1.6.1-1.6 0-1.6.1-1.6 0-1.6.1M313.3 60.5l-1.3-.8 1.3-1M324.6 60.1l-1.6.1-1.6 0-1.6 0-1.6.1-1.6 0M317.9 61.2l-1.3-.9 1.3-.9M329 59.6l-1.6.1-1.6 0-1.6 0-1.6 0-1.6.1M322.4 60.7l-1.4-.9 1.3-1M333.1 60l-1.6 0-1.6 0-1.6 0-1.6.1-1.6 0M326.4 61l-1.3-.9 1.2-.9M337.9 60l-1.6 0-1.6 0-1.6 0-1.6.1-1.6 0M331.2 61l-1.3-.9 1.2-1M341.7 59.4l-1.6 0-1.6 0-1.6 0-1.6 0-1.6 0M335 60.3l-1.3-.9 1.3-.9M346.4 60.3l-1.6 0-1.6 0-1.6 0-1.6 0-1.6 0M339.7 61.2l-1.3-.9 1.3-.9M350.7 59.8l-1.6 0-1.6 0-1.6 0-1.6 0-1.6 0M344 60.8l-1.3-1 1.3-.9M215.7 64.8l-1.6 0-1.6 0-1.6 0-1.6 0-.8 0M209.8 65.7l-1.3-.9 1.3-.9M221.1 64.4l-1.6 0-1.6 0-1.6 0-1.6 0-.8 0M215.2 65.3l-1.3-.9 1.3-1M225.1 64.5l-1.6 0-1.6 0-1.6-.1-1.6 0-.8 0M219.2 65.4l-1.3-1 1.3-.9M229.9 64l-1.6 0-1.6 0-1.6 0-1.6 0-.8 0M224 64.9l-1.3-.9 1.3-.9M233.5 64l-1.6 0-1.6 0-1.6 0-1.6 0-.8 0M227.6 64.9l-1.3-.9 1.3-.9M237.9 64.2l-1.6-.1-1.6 0-1.6 0-1.6 0-1.6 0M231.1 65l-1.2-.9 1.3-.9M243 64.1l-1.6-.1-1.6 0-1.6-.1-1.6 0-1.6 0M236.3 64.8l-1.3-.9 1.3-.9M247.1 63.8l-1.6-.1-1.6 0-1.6-.1-1.6-.1-1.6 0M240.3 64.4l-1.2-.9 1.3-.9M252.1 63.8l-1.6-.1-1.6-.1-1.6-.1-1.6-.1-1.6 0-.8-.1M244.5 64.3l-1.2-1 1.3-.8M256.4 63.9l-1.6-.1-1.6-.1-1.6-.1-1.6-.1-1.6-.1-.8-.1M248.8 64.3l-1.2-1 1.4-.8M260.8 63.8l-1.6-.1-1.6-.1-1.6-.1-1.6-.1-1.6-.1-1.6-.1M252.4 64.2l-1.2-1 1.4-.8M264.8 64.3l-1.6 0-1.6 0-1.6-.1-1.6-.1-1.6 0-1.6-.1M256.5 64.9l-1.3-.9 1.4-.9M268.7 64.3l-1.6.1-1.6 0-1.6 0-1.6-.1-1.6 0-1.6-.1M260.4 65.2l-1.3-1 1.3-.8M273.5 64.7l-1.6 0-1.6.1-1.6.1-1.6 0-1.6 0-.8 0M266 65.8l-1.3-.9 1.3-.9M277.4 64.2l-1.6.1-1.6.1-1.6.1-1.6.1-1.6 0-.8 0M269.9 65.5l-1.3-.9 1.3-.9M281.7 64.6l-1.6.1-1.6.1-1.6.1-1.6.1-1.6.1-.8.1M274.3 66l-1.4-.8 1.3-1M286.2 64.6l-1.6.1-1.6.1-1.6.1-1.6.1-1.6.1-.8.1M278.7 66l-1.3-.8 1.2-1M291.4 64.7l-1.6.1-1.6 0-1.6.1-1.6.1-1.6.1-.8 0M283.9 65.9l-1.3-.8 1.2-1M295.6 63.7l-1.6 0-1.6.1-1.6 0-1.6 0-1.6.1-.8 0M288.1 64.8l-1.3-.9 1.2-.9M300.2 63.6l-1.6 0-1.6 0-1.6 0-1.6 0-1.6 0-.8 0M292.7 64.5l-1.3-.9 1.3-.9M303.8 64l-1.6-.1-1.6 0-1.6 0-1.6 0-1.6 0-.8 0M296.3 64.8l-1.3-.9 1.3-.9M308.7 63.7l-1.6 0-1.6 0-1.6 0-1.6-.1-1.6 0M302 64.5l-1.3-.9 1.4-.9M313.1 63.8l-1.6 0-1.6 0-1.6 0-1.6 0-1.6 0M306.4 64.7l-1.3-.9 1.3-.9M317.2 64.7l-1.6 0-1.6 0-1.6 0-1.6 0-1.6 0M310.5 65.6l-1.3-.9 1.3-.9M322 64.8l-1.6 0-1.6 0-1.6 0-1.6 0-1.6 0M315.3 65.7l-1.3-.9 1.3-.9M326.6 64.1l-1.6 0-1.6 0-1.6 0-1.6 0-1.6 0M319.9 65l-1.3-.9 1.2-.9M331.1 64.4l-1.6 0-1.6 0-1.6 0-1.6 0-1.6 0M324.4 65.3l-1.3-.9 1.3-.9M334.8 64l-1.6 0-1.6 0-1.6 0-1.6 0-1.6 0M328.1 64.9l-1.3-.9 1.3-.9M339.3 64.1l-1.6 0-1.6 0-1.6 0-1.6 0-1.6 0M332.6 65l-1.3-.9 1.3-.9M344.4 64.7l-1.6 0-1.6 0-1.6 0-1.6 0-1.6 0M337.7 65.6l-1.3-.9 1.3-.9M347.8 64.1l-1.6 0-1.6 0-1.6 0-1.6 0-1.6 0M341.1 65l-1.3-.9 1.3-.9M352.3 64.6l-1.6 0-1.6 0-1.6 0-1.6 0-1.6 0M345.6 65.5l-1.3-.9 1.3-.9M218.5 68.5l-1.6 0-1.6 0-1.6 0-1.6 0-.8 0M212.6 69.4l-1.3-.9 1.3-.9M223.2 69l-1.6 0-1.6 0-1.6 0-1.6 0-.8 0M217.3 69.9l-1.3-.9 1.3-.9M226.7 68.2l-1.6 0-1.6 0-1.6 0-1.6 0-.8 0M220.8 69.1l-1.3-.9 1.3-.9M231.2 69.1l-1.6 0-1.6 0-1.6 0-1.6 0-.8 0M225.3 70l-1.3-.9 1.3-.9M235.9 68.4l-1.6 0-1.6 0-1.6 0-1.6 0-.8 0M230 69.3l-1.3-.9 1.3-.9M240.3 68.2l-1.6 0-1.6 0-1.6 0-1.6 0-.8-.1M234.4 69.1l-1.3-1 1.3-.9M244.5 68.4l-1.6 0-1.6 0-1.6 0-1.6 0-.8-.1M238.6 69.3l-1.3-1 1.3-.9M249.8 68.5l-1.6-.1-1.6 0-1.6 0-1.6-.1-.8 0M243.9 69.3l-1.3-1 1.3-.9M253.2 68.4l-1.6 0-1.6-.1-1.6 0-1.6 0-.8-.1M247.3 69.2l-1.3-1 1.3-.8M258 69l-1.6-.1-1.6 0-1.6-.1-1.6 0-1.6 0M251.3 69.7l-1.3-.9 1.3-.9M262.7 68.6l-1.6 0-1.6 0-1.6 0-1.6-.1-1.6 0M256 69.4l-1.3-.9 1.4-.9M266.7 68.1l-1.6 0-1.6 0-1.6 0-1.6 0-1.6 0M260 69l-1.3-.9 1.3-.9M270.9 68.4l-1.6.1-1.6 0-1.6 0-1.6 0-1.6 0M264.2 69.4l-1.3-.9 1.3-.9M276.1 68l-1.6.1-1.6.1-1.6 0-1.6.1-1.6 0M269.5 69.2l-1.4-.9 1.3-.9M280 68.8l-1.6.1-1.6.1-1.6.1-1.6 0-1.6.1M273.3 70l-1.3-.8 1.3-1M284 68.6l-1.6.1-1.6.1-1.6.1-1.6.1-1.6.1-.8 0M276.6 69.9l-1.4-.8 1.3-1M289.3 68.7l-1.6 0-1.6.1-1.6.1-1.6.1-1.6.1-.8.1M281.8 70l-1.3-.8 1.2-1M293.1 69.1l-1.6 0-1.6.1-1.6 0-1.6.1-1.6.1-.8.1M285.7 70.3l-1.4-.8 1.3-1M297.7 68.7l-1.6 0-1.6 0-1.6 0-1.6 0-1.6.1-.8 0M290.3 69.7l-1.4-.9 1.3-1M301.9 68.9l-1.6 0-1.6-.1-1.6 0-1.6 0-1.6 0-.8 0M294.4 69.7l-1.3-.9 1.3-.9M306.3 68.7l-1.6-.1-1.6 0-1.6-.1-1.6-.1-1.6 0-.8 0M298.8 69.3l-1.3-.9 1.3-.9M310.8 68.5l-1.6-.1-1.6 0-1.6-.1-1.6 0-1.6-.1M304.1 69.2l-1.3-1 1.3-.9M315 68.3l-1.6 0-1.6 0-1.6-.1-1.6 0-1.6-.1M308.2 69.1l-1.2-1 1.3-.8M319.7 68.7l-1.6-.1-1.6 0-1.6 0-1.6 0-1.6-.1M313 69.5l-1.3-1 1.3-.8M323.8 68.8l-1.6 0-1.6 0-1.6 0-1.6-.1-1.6 0M317.1 69.6l-1.3-.9 1.3-.9M329 68.8l-1.6 0-1.6 0-1.6 0-1.6 0-1.6-.1M322.3 69.7l-1.3-1 1.3-.9M333 69l-1.6 0-1.6 0-1.6 0-1.6 0-1.6 0M326.3 69.9l-1.3-.9 1.3-.9M337.4 68.3l-1.6 0-1.6 0-1.6 0-1.6 0-1.6 0M330.7 69.2l-1.3-.9 1.3-.9M341.2 68.3l-1.6 0-1.6 0-1.6 0-1.6 0-1.6 0M334.5 69.2l-1.3-.9 1.3-.9M346.1 68.4l-1.6 0-1.6 0-1.6 0-1.6 0-1.6 0M339.4 69.3l-1.3-.9 1.3-.9M350.1 69.1l-1.6 0-1.6 0-1.6 0-1.6 0-1.6 0M343.4 70l-1.3-.9 1.3-.9M216.7 72.6l-1.6 0-1.6 0-1.6 0-1.6 0-.8 0M210.8 73.5l-1.3-.9 1.3-1M220.7 73.6l-1.6 0-1.6 0-1.6 0-1.6 0-.8 0M214.8 74.5l-1.3-.9 1.3-.9M225.6 72.7l-1.6 0-1.6 0-1.6 0-1.6 0-.8 0M219.7 73.6l-1.3-.9 1.3-.9M229.1 72.7l-1.6 0-1.6 0-1.6 0-1.6 0-.8 0M223.2 73.6l-1.3-.9 1.3-1M233.3 73.4l-1.6 0-1.6 0-1.6 0-1.6 0-.8 0M227.4 74.3l-1.3-.9 1.3-.9M238.8 72.4l-1.6 0-1.6 0-1.6 0-1.6 0-.8 0M232.9 73.3l-1.3-.9 1.3-.9M243.2 72.7l-1.6 0-1.6 0-1.6 0-1.6 0M238.1 73.6l-1.3-.9 1.3-.9M246.9 73.2l-1.6 0-1.6 0-1.6 0-1.6 0M241.8 74.1l-1.3-.9 1.3-.9M251 73.4l-1.6-.1-1.6 0-1.6 0-1.6 0M245.9 74.2l-1.3-.9 1.3-.9M255.5 72.5l-1.6 0-1.6 0-1.6-.1-1.6 0M250.4 73.3l-1.3-.9 1.3-.9M260.1 72.7l-1.6-.1-1.6 0-1.6 0-1.6 0M255 73.5l-1.3-.9 1.3-.9M264.5 72.5l-1.6 0-1.6 0-1.6 0-1.6 0-.8-.1M258.6 73.4l-1.3-1 1.3-.8M269 73.3l-1.6 0-1.6 0-1.6 0-1.6 0-.8 0M263.1 74.2l-1.3-.9 1.3-.9M273.3 72.9l-1.6.1-1.6.1-1.6 0-1.6 0-.8 0M267.4 74l-1.3-.9 1.3-.9M277.7 72.6l-1.6.1-1.6.1-1.6.1-1.6.1-1.6 0M271 73.9l-1.3-.9 1.3-.9M282.7 73.1l-1.6.2-1.6.1-1.6.1-1.6.2-1.6.1-.8 0M275.3 74.6l-1.4-.8 1.3-1M287 73l-1.6.2-1.6.1-1.6.2-1.6.1-1.6.2-.8 0M279.6 74.6l-1.4-.8 1.2-1M291.2 72.9l-1.6.1-1.6.1-1.6.1-1.5.2-1.6.1-1.6.2M283.1 74.4l-1.4-.7 1.2-1.1M295.5 73.1l-1.6 0-1.6.1-1.6 0-1.6.1-1.6.2-1.6.1M287.3 74.4l-1.4-.8 1.2-1M299.7 72.8l-1.6-.1-1.6 0-1.6 0-1.6 0-1.6 0-1.6.1M291.4 73.7l-1.3-.9 1.3-1M303.8 73.3l-1.6-.1-1.6-.1-1.6-.1-1.6-.1-1.6 0-1.6 0M295.5 73.8l-1.3-.9 1.3-.9M308.3 73l-1.6-.1-1.6-.2-1.6-.1-1.6-.1-1.6-.1-.8-.1M300.7 73.3l-1.2-1 1.3-.8M312.9 72.5l-1.6-.1-1.6-.1-1.6-.1-1.6-.1-1.6-.1M306.2 73l-1.3-1 1.4-.8M317.4 73l-1.6 0-1.6-.1-1.6-.1-1.6-.1-1.6-.1M310.7 73.6l-1.3-1 1.4-.8M322.2 72.5l-1.6 0-1.6 0-1.6-.1-1.6 0-1.6-.1M315.4 73.3l-1.2-1 1.3-.8M326.2 73.6l-1.6-.1-1.6 0-1.6 0-1.6 0-1.6-.1M319.4 74.4l-1.2-1 1.3-.8M330.7 72.9l-1.6 0-1.6 0-1.6 0-1.6 0-1.6 0M324 73.8l-1.3-.9 1.3-.9M335.1 72.5l-1.6 0-1.6 0-1.6 0-1.6 0-1.6 0M328.4 73.4l-1.3-.9 1.3-.9M340 72.6l-1.6 0-1.6 0-1.6 0-1.6 0-1.6 0M333.3 73.5l-1.3-.9 1.3-.9M344.1 72.6l-1.6 0-1.6 0-1.6 0-1.6 0-1.6 0M337.4 73.5l-1.3-.9 1.3-.9M348.4 72.5l-1.6 0-1.6 0-1.6 0-1.6 0-1.6 0M341.7 73.4l-1.3-.9 1.3-.9M352.3 73.2l-1.6 0-1.6 0-1.6 0-1.6 0-1.6 0M345.6 74.1l-1.3-.9 1.3-.9M218 77.4l-1.6 0-1.6 0-1.6 0-1.6 0-.8 0M212.1 78.4l-1.3-1 1.3-.9M223 77.7l-1.6 0-1.6 0-1.6 0-1.6 0-.8 0M217.1 78.6l-1.3-.9 1.3-.9M227.7 77.7l-1.6 0-1.6 0-1.6 0-1.6 0-.8 0M221.8 78.6l-1.3-.9 1.3-.9M231.8 77.3l-1.6 0-1.6 0-1.6 0-1.6 0M226.7 78.2l-1.3-.9 1.3-.9M236.3 77.1l-1.6 0-1.6 0-1.6 0-1.6 0M231.2 78l-1.3-.9 1.3-.9M240.2 77.1l-1.6 0-1.6 0-1.6 0-1.6 0M235.1 78l-1.3-.9 1.3-.9M244.6 77.2l-1.6 0-1.6 0-1.6 0-.8 0M240.3 78.1l-1.3-.9 1.3-.9M249.5 78l-1.6 0-1.6 0-1.6 0-.8 0M245.2 78.9l-1.3-.9 1.3-1M253.8 77.9l-1.6 0-1.6 0-1.6 0M250.3 78.8l-1.3-.9 1.3-.9M258.1 77.5l-1.6 0-1.6 0-1.6 0-.8 0M253.8 78.4l-1.3-.9 1.3-.9M262.5 76.9l-1.6 0-1.6 0-1.6 0-.8 0M258.2 77.9l-1.3-1 1.3-.9M267.2 77.1l-1.6 0-1.6 0-1.6 0-.8 0M262.9 78l-1.3-.9 1.3-.9M271.1 76.8l-1.6.1-1.6 0-1.6 0-1.6.1M266 77.8l-1.3-.8 1.3-1M275.5 77.4l-1.6.1-1.6.1-1.6.1-1.6.1-.8 0M269.7 78.7l-1.4-.9 1.3-1M279.8 77.1l-1.6.2-1.5.1-1.6.2-1.6.1-1.6.1M273.2 78.6l-1.3-.8 1.2-1M284.6 77.5l-1.5.2-1.6.3-1.6.2-1.6.3-1.6.2-.8 0M277.3 79.5l-1.4-.8 1.2-1M289 77.2l-1.6.2-1.6.2-1.6.3-1.6.2-1.5.3-1.6.2M280.9 79.3l-1.4-.7 1.1-1.1M293 77.4l-1.6.1-1.6.1-1.6.2-1.6.2-1.5.2-1.6.3-.8.1M284.1 79.3l-1.4-.7 1.1-1.1M297.4 77l-1.6 0-1.6 0-1.6 0-1.6.1-1.6.2-1.5.1-.8.1M288.5 78.3l-1.4-.8 1.1-1M302.3 77.3l-1.6-.2-1.6-.2-1.6-.1-1.6 0-1.6 0-1.6 0M294 77.7l-1.3-.9 1.3-.9M306 77.9l-1.6-.3-1.6-.2-1.6-.2-1.5-.1-1.6-.1-1.6-.1M297.7 77.8l-1.2-.9 1.3-.9M310.7 77.2l-1.6-.2-1.6-.2-1.6-.2-1.6-.2-1.5-.2-.8-.1M303.1 77.2l-1.1-1.1 1.4-.7M315.3 77.7l-1.6-.1-1.6-.2-1.6-.2-1.6-.2-1.6-.2M308.5 77.9l-1.2-1.1 1.4-.7M319.9 77l-1.6-.1-1.6 0-1.6-.1-1.6-.2-1.6-.1M313.2 77.5l-1.3-1 1.4-.8M324.3 77.3l-1.6-.1-1.6 0-1.6-.1-1.6 0-1.6-.1M317.5 78l-1.2-1 1.3-.9M328.9 78l-1.6 0-1.6-.1-1.6 0-1.6 0-1.6-.1M322.1 78.8l-1.2-1 1.3-.8M333.5 77.6l-1.6 0-1.6 0-1.6 0-1.6 0-1.6 0M326.8 78.5l-1.3-.9 1.3-.9M337.2 77.7l-1.6 0-1.6 0-1.6 0-1.6 0-1.6 0M330.5 78.6l-1.3-.9 1.4-.9M342.2 77.3l-1.6 0-1.6 0-1.6 0-1.6 0-1.6 0M335.5 78.2l-1.3-.9 1.3-.9M345.7 77.1l-1.6 0-1.6 0-1.6 0-1.6 0-1.6 0M339 78l-1.3-.9 1.3-.9M350.3 77.2l-1.6 0-1.6 0-1.6 0-1.6 0-1.6 0M343.6 78.1l-1.3-.9 1.3-.9M216.3 81.5l-1.6 0-1.6 0-1.6 0-1.6 0-.8 0M210.4 82.4l-1.3-.9 1.3-.9M220.8 81.4l-1.6 0-1.6 0-1.6 0-1.6 0-.8 0M214.9 82.3l-1.3-.9 1.3-.9M225.2 81.5l-1.6 0-1.6 0-1.6 0-1.6 0-.8 0M219.3 82.5l-1.3-1 1.3-.9M229.6 81.5l-1.6 0-1.6 0-1.6 0-1.6 0M224.5 82.4l-1.3-.9 1.3-.9M234 81.7l-1.6 0-1.6 0-1.6 0-1.6.1M228.9 82.7l-1.3-.9 1.3-1M238.8 81.4l-1.6 0-1.6 0-1.6.1-.8 0M234.5 82.4l-1.3-.9 1.3-1M242.5 81.7l-1.6 0-1.6 0-1.6 0M239.1 82.6l-1.4-.9 1.3-.9M246.9 81.6l-1.6 0-1.6 0-1.6.1M243.5 82.6l-1.4-.9 1.3-1M251.6 81.2l-1.6 0-1.6 0-.8 0M248.9 82.1l-1.3-.9 1.3-.9M255.8 81.7l-1.6 0-1.6 0-.8 0M253.1 82.6l-1.3-.9 1.3-.9M260.7 82.3l-1.6 0-1.6 0-.8 0M258 83.2l-1.3-.9 1.3-.9M265.1 82.2l-1.6 0-1.6 0-1.6 0M261.6 83.1l-1.3-.9 1.3-.9M269.7 82.4l-1.6.1-1.6 0-1.6 0M266.2 83.4l-1.3-.9 1.3-.9M273.7 81.3l-1.6.1-1.6.1-1.6.1-.8 0M269.4 82.5l-1.3-.9 1.2-.9M278.3 81.8l-1.5.3-1.6.2-1.6.2-1.6.1-.8.1M272.6 83.5l-1.4-.8 1.2-1M281.7 81.4l-1.5.3-1.6.3-1.6.3-1.6.2-1.5.2M275.3 83.5l-1.4-.8 1.1-1M286.8 82.1l-1.6.3-1.6.4-1.5.3-1.6.4-1.5.4-.8.1M279.6 84.6l-1.4-.6 1.1-1.1M291.7 82.2l-1.6.2-1.6.2-1.6.4-1.5.3-1.6.4-1.5.4M283.7 84.7l-1.4-.6 1-1.2M296 81.3l-1.6 0-1.6 0-1.6.2-1.6.2-1.6.2-1.6.3-.7.2M287.1 83l-1.4-.6 1-1.2M299.8 82.2l-1.6-.2-1.6-.2-1.6 0-1.6 0-1.6.1-1.5.2-.8.1M290.9 83l-1.4-.8 1.1-1M304.7 81.4l-1.6-.3-1.6-.2-1.6-.3-1.6-.1-1.5-.2-1.6 0M296.4 81.2l-1.2-.9 1.3-.9M308.8 81.5l-1.6-.3-1.5-.3-1.6-.3-1.6-.3-1.6-.2-1.6-.2M300.5 80.9l-1.2-1 1.4-.8M312.7 82.2l-1.6-.3-1.6-.2-1.6-.3-1.5-.3-1.6-.4-.8-.1M305.1 81.7l-1.1-1.1 1.5-.7M317.4 82.3l-1.6-.2-1.6-.2-1.6-.2-1.6-.2-1.6-.3-.8-.1M309.8 82.2l-1.2-1.1 1.5-.7M321.3 82.3l-1.6-.1-1.6-.1-1.5-.1-1.6-.2-1.6-.2M314.6 82.7l-1.2-1.1 1.4-.7M326.7 81.8l-1.6-.1-1.6 0-1.6-.1-1.6 0-1.6-.1M319.9 82.4l-1.2-.9 1.3-.9M330.7 81.5l-1.6 0-1.6 0-1.6 0-1.6-.1-1.6 0M324 82.3l-1.3-.9 1.4-.9M335.1 82.1l-1.6 0-1.6-.1-1.6 0-1.6 0-1.6 0M328.4 82.9l-1.3-.9 1.3-.9M339.7 81.9l-1.6 0-1.6 0-1.6-.1-1.6 0-1.6 0M333 82.7l-1.3-.9 1.3-.9M343.5 81.5l-1.6 0-1.6 0-1.6 0-1.6 0-1.6 0M336.8 82.4l-1.3-.9 1.3-.9M348.9 81.7l-1.6-.1-1.6 0-1.6 0-1.6 0-1.6 0M342.2 82.5l-1.3-.9 1.3-.9M352.6 81.7l-1.6 0-1.6 0-1.6 0-1.6 0-1.6-.1M345.9 82.6l-1.3-1 1.3-.9M218.9 86.1l-1.6 0-1.6 0-1.6 0-1.6 0-.8 0M213 87l-1.3-.9 1.3-.9M223 86.1l-1.6 0-1.6 0-1.6 0-1.6 0-.8 0M217.1 87l-1.3-.9 1.3-.9M227 86l-1.6 0-1.6 0-1.6 0-1.6 0M221.9 86.9l-1.3-.9 1.3-.9M231.4 86.6l-1.6 0-1.6 0-1.6.1-.8 0M227.1 87.6l-1.3-.9 1.3-1M236.7 86.5l-1.6.1-1.6 0-1.6 0M233.2 87.5l-1.3-.9 1.3-.9M240.5 86.3l-1.6.1-1.6 0-1.6 0M237 87.3l-1.3-.9 1.3-.9M244.9 86.6l-1.6.1-1.6 0-.8 0M242.2 87.6l-1.3-.9 1.3-.9M248.9 85.7l-1.6 0-1.6 0M247 86.6l-1.3-.9 1.3-.9M254 86.2l-1.6-.1-1.6 0M252.1 87.1l-1.3-1 1.3-.9M258.4 86.7l-1.6 0-1.6 0M256.5 87.6l-1.3-.9 1.3-.9M262.1 86.5l-1.6 0-1.6 0M260.2 87.4l-1.3-.9 1.3-.9M267.2 86.4l-1.6 0-1.6 0-.8 0M264.5 87.3l-1.3-.9 1.3-.9M271.2 86.3l-1.6.1-1.6.1-1.6 0M267.7 87.4l-1.3-.9 1.3-.9M275.7 85.7l-1.6.2-1.5.2-1.6.2-.8 0M271.5 87.1l-1.3-.8 1.2-1M280.2 85.6l-1.6.4-1.5.3-1.6.3-1.6.3-.8.1M274.5 87.7l-1.4-.7 1.2-1.1M284.3 86.4l-1.5.5-1.6.5-1.5.4-1.6.4-1.5.3M278 89.1l-1.4-.6 1.1-1.1M289.4 86.7l-1.6.4-1.5.4-1.5.5-1.5.5-1.6.5-.7.3M282.5 89.7l-1.5-.4.9-1.3M293.1 85.6l-1.6.2-1.6.3-1.5.3-1.6.4-1.5.5-1.5.5M285.3 88.3l-1.5-.5.9-1.3M298.2 85.7l-1.6-.1-1.6-.1-1.6.1-1.6.1-1.6.3-1.5.3M290.1 87l-1.4-.7 1-1.1M302.3 85.9l-1.5-.4-1.6-.3-1.6-.2-1.6-.1-1.6 0-1.6.1M294.2 85.8l-1.4-.8 1.3-1M306.9 85.7l-1.5-.4-1.6-.4-1.6-.3-1.5-.3-1.6-.3-1.6-.2M298.7 84.9l-1.2-1.1 1.4-.7M311.4 85.7l-1.5-.3-1.6-.4-1.6-.3-1.5-.4-1.6-.4-.7-.1M303.9 84.9l-1-1.1 1.4-.6M315.4 86.6l-1.6-.2-1.5-.3-1.6-.3-1.6-.3-1.5-.4-.8-.2M307.9 86.1l-1.1-1.2 1.5-.6M319.3 86.1l-1.6-.1-1.6-.2-1.6-.2-1.6-.3-1.5-.3-.8-.1M311.7 86l-1.1-1.1 1.4-.7M323.9 86.7l-1.6-.1-1.6-.1-1.6-.1-1.6-.1-1.6-.2-.8-.1M316.3 87.1l-1.2-1.1 1.4-.7M328.6 86.7l-1.6-.1-1.6 0-1.6-.1-1.6-.1-1.6-.1-.8 0M321.1 87.3l-1.3-1 1.4-.8M333.5 86.3l-1.6-.1-1.6 0-1.6 0-1.6-.1-1.6 0M326.8 87l-1.3-.9 1.3-.9M337.7 86.2l-1.6 0-1.6-.1-1.6 0-1.6 0-1.6-.1M330.9 87l-1.2-1 1.3-.8M341.6 86.8l-1.6-.1-1.6 0-1.6 0-1.6 0-1.6-.1M334.9 87.6l-1.3-1 1.3-.9M345.9 86.1l-1.6-.1-1.6 0-1.6 0-1.6 0-1.6-.1M339.2 86.9l-1.3-1 1.4-.8M350.3 85.9l-1.6-.1-1.6 0-1.6 0-1.6 0-1.6 0M343.6 86.7l-1.3-.9 1.3-.9M216.1 90.3l-1.6 0-1.6 0-1.6.1-1.6 0-.8 0M210.2 91.3l-1.3-.9 1.3-1M221.1 90.9l-1.6 0-1.6.1-1.6 0-1.6 0-.8 0M215.2 91.9l-1.3-.9 1.3-.9M225.2 91l-1.6 0-1.6.1-1.6 0-1.6 0M220.1 92l-1.3-.9 1.3-.9M229.8 91.1l-1.6.1-1.6.1-1.6 0-1.6.1M224.7 92.2l-1.3-.8 1.3-1M233.5 90.4l-1.6 0-1.6.1-1.6.1-.8 0M229.2 91.4l-1.3-.8 1.3-1M238.7 90.4l-1.6.1-1.6.1-1.6.1M235.3 91.5l-1.4-.8 1.3-1M242.1 90.3l-1.6.1-1.6 0-.8.1M239.4 91.3l-1.3-.8 1.3-1M246.7 90.8l-1.6 0-1.6.1M244.8 91.7l-1.3-.8 1.3-1M252 90.5l-1.6 0-.8 0M250.9 91.4l-1.3-.9 1.2-.9M255.9 90.4l-1.6 0-.8 0M254.8 91.3l-1.3-.9 1.3-.9M260 90.1l-1.6-.1-.8 0M258.9 91l-1.3-1 1.3-.9M265.3 90.5l-1.6 0-1.6-.1M263.4 91.4l-1.3-1 1.3-.8M269.4 90.7l-1.6 0-1.6 0-.8 0M266.7 91.7l-1.3-1 1.3-.9M274.1 91l-1.6.2-1.6.1-1.6 0M270.6 92.2l-1.3-.9 1.2-.9M278.2 90.4l-1.5.4-1.6.2-1.6.2-.8.1M274.1 92.1l-1.4-.8 1.2-1M282.9 90.2l-1.5.5-1.6.5-1.5.4-1.6.3M278.2 92.6l-1.5-.7 1.1-1.1M286.8 90.6l-1.5.5-1.5.6-1.5.6-1.5.5-.8.2M281.5 93.5l-1.5-.5 1-1.3M290.6 91l-1.6.4-1.5.5-1.5.6-1.5.6-.7.3M285.3 93.7l-1.5-.3.9-1.4M295.1 90.6l-1.6.1-1.5.2-1.6.4-1.5.4-1.5.6M288.9 92.7l-1.5-.4.9-1.3M299.9 90.4l-1.6-.2-1.6-.2-1.6 0-1.6.1-1.6.2-.8.1M292.6 91.1l-1.5-.7 1.2-1.1M304.1 90.9l-1.5-.4-1.6-.3-1.5-.4-1.6-.2-1.6-.1-.8 0M296.7 90.4l-1.2-.9 1.3-.9M309.2 90.8l-1.5-.4-1.6-.4-1.5-.4-1.6-.4-1.5-.4-1.6-.3M301 89.6l-1.1-1.1 1.5-.7M313.1 90.2l-1.5-.3-1.6-.3-1.6-.4-1.5-.4-1.5-.4-1.6-.4M304.8 89.2l-1-1.2 1.5-.6M316.9 90.8l-1.6-.2-1.5-.3-1.6-.3-1.6-.3-1.5-.3-1.6-.4M308.5 90.2l-1-1.2 1.5-.6M322.2 91l-1.6-.1-1.6-.1-1.6-.2-1.6-.2-1.6-.2-1.5-.3M313.8 91l-1.1-1.1 1.4-.7M326.1 90.7l-1.6-.1-1.6-.1-1.6-.1-1.6-.1-1.6-.1-.8-.1M318.5 91.1l-1.2-1 1.4-.8M330.5 90.1l-1.6 0-1.6-.1-1.6-.1-1.6 0-1.6-.1-.8-.1M323 90.7l-1.3-1 1.4-.8M335.4 91.1l-1.6 0-1.6-.1-1.6-.1-1.6 0-1.6-.1-.8 0M327.9 91.7l-1.3-.9 1.3-.9M339.4 90.9l-1.6 0-1.6-.1-1.6 0-1.6-.1-1.6-.1-.8 0M331.9 91.6l-1.3-1 1.4-.8M344.3 90.1l-1.6-.1-1.6 0-1.6-.1-1.6 0-1.6-.1M337.6 90.8l-1.3-1 1.3-.8M348.5 90.4l-1.6-.1-1.6 0-1.6-.1-1.6 0-1.6 0M341.8 91.1l-1.3-.9 1.3-.9M352.6 91l-1.6-.1-1.6 0-1.6-.1-1.6-.1-1.6 0M345.8 91.6l-1.2-.9 1.3-.9M218.2 95.4l-1.6.1-1.6 0-1.6 0-1.6 0-.8.1M212.4 96.5l-1.4-.9 1.3-1M223.3 94.4l-1.6.1-1.6 0-1.6.1-1.6 0-.8 0M217.4 95.5l-1.3-.9 1.3-.9M226.9 95.6l-1.6.1-1.6.1-1.6 0-1.6.1-.8 0M221.1 96.8l-1.4-.9 1.3-.9M231.5 95.5l-1.6.2-1.6.1-1.6.1-1.6.1M226.5 96.8l-1.4-.8 1.3-1M236.3 95l-1.6.1-1.6.2-1.5.1-.8.1M232.1 96.3l-1.3-.8 1.2-1M240.3 95.1l-1.6.1-1.6.2-1.6.1M236.9 96.3l-1.4-.8 1.3-1M244.9 94.6l-1.6.1-1.6.2-.8 0M242.3 95.7l-1.4-.8 1.3-1M249.7 95.6l-1.6 0-1.6.1-.8 0M247 96.6l-1.3-.9 1.2-1M253.1 95.4l-1.6 0-1.6 0M251.2 96.3l-1.3-.9 1.3-.9M258.7 95.2l-1.6-.1-1.6-.1M256.7 96l-1.2-1 1.3-.9M262.4 94.6l-1.6-.1-1.6-.1M260.5 95.4l-1.3-1 1.4-.8M266.6 95.6l-1.6-.1-1.6-.2-.8 0M263.8 96.3l-1.2-1 1.3-.8M270.8 95.2l-1.6 0-1.6 0-1.6-.1M267.3 96l-1.3-.9 1.4-.9M275.8 95l-1.6.2-1.6.1-1.6 0-.8 0M271.5 96.2l-1.3-.9 1.3-.9M280.2 95.6l-1.6.3-1.6.3-1.5.2-.8.1M276 97.3l-1.3-.8 1.2-1M284.6 95.1l-1.5.5-1.5.5-1.6.5-1.5.3M279.9 97.5l-1.4-.6 1-1.2M289.1 95.2l-1.5.6-1.5.6-1.5.5-1.5.6M284.6 97.9l-1.5-.4.9-1.3M293.4 95.3l-1.6.4-1.5.4-1.5.5-1.5.6M288.8 97.6l-1.5-.4.9-1.3M298.3 95.2l-1.6 0-1.6.1-1.6.2-1.6.3-.8.2M292.6 96.6l-1.5-.6 1.1-1.2M302.6 94.6l-1.6-.3-1.6-.3-1.6-.1-1.6-.1-1.6.1M296 94.7l-1.4-.8 1.3-1M306.5 95l-1.6-.4-1.5-.3-1.6-.3-1.6-.3-1.6-.3-1.6-.1M298.3 94.3l-1.3-1 1.4-.8M311.3 94.8l-1.6-.3-1.6-.3-1.5-.3-1.6-.4-1.5-.3-1.6-.4-.8-.2M302.2 93.8l-1.1-1.2 1.5-.6M315.1 95l-1.6-.2-1.6-.2-1.5-.3-1.6-.3-1.6-.3-1.5-.4-.8-.2M305.9 94.3l-1-1.2 1.5-.6M319.4 95l-1.6-.2-1.6-.1-1.6-.2-1.6-.2-1.6-.3-1.6-.3-.7-.1M310.2 94.7l-1.1-1.1 1.4-.7M324.2 94.7l-1.6-.1-1.6-.1-1.6-.2-1.6-.1-1.5-.2-1.6-.2-.8-.1M315 94.8l-1.1-1.1 1.4-.7M328.1 95.3l-1.6-.1-1.6-.1-1.6-.1-1.5-.1-1.6-.1-1.6-.2-.8 0M319 95.6l-1.2-1 1.3-.8M333.3 95.1l-1.6 0-1.6-.1-1.6-.1-1.6-.1-1.6-.1-1.6-.1M325 95.6l-1.3-1 1.4-.8M337.6 94.5l-1.6 0-1.6-.1-1.6-.1-1.6-.1-1.6 0-1.6-.1M329.2 95.1l-1.2-1 1.3-.9M341.9 95.1l-1.6-.1-1.6-.1-1.6-.1-1.6 0-1.6-.1-1.6-.1M333.6 95.6l-1.3-1 1.3-.8M345.5 94.7l-1.6-.1-1.6 0-1.6-.1-1.6-.1-1.6-.1-.8 0M338 95.3l-1.3-1 1.4-.9M351 94.7l-1.6-.1-1.6-.1-1.6-.1-1.6-.1-1.6-.1-.8 0M343.4 95.2l-1.2-1 1.3-.8M216 99.5l-1.6 0-1.6 0-1.6.1-1.6 0-.8 0M210.1 100.5l-1.3-.9 1.2-.9M220.3 99.3l-1.6.1-1.6 0-1.6.1-1.6 0-.8 0M214.4 100.4l-1.3-.9 1.2-.9M225.4 99l-1.6.2-1.6.1-1.6.1-1.6.1-.8 0M219.5 100.3l-1.3-.8 1.2-1M229.5 98.9l-1.6.2-1.6.1-1.6.2-1.6.1-.8.1M223.7 100.4l-1.4-.8 1.2-1M233.7 99.9l-1.6.2-1.5.3-1.6.2-1.6.2-.8.1M228 101.6l-1.4-.7 1.2-1.1M238.3 99.8l-1.5.3-1.6.2-1.6.3-1.6.2-.8.2M232.7 101.6l-1.5-.6 1.2-1.2M242.9 99.3l-1.6.2-1.6.2-1.6.2-1.6.3M237.9 100.9l-1.4-.7 1.2-1.1M247.3 99.8l-1.6.1-1.6.1-1.6.2-.8.1M243.1 101.1l-1.4-.8 1.2-1M251.5 99.5l-1.6.1-1.6 0-1.6.1-.8.1M247.3 100.6l-1.4-.8 1.3-1M256.4 99.1l-1.6-.1-1.6 0-1.6 0M252.9 99.9l-1.3-.9 1.3-.9M260.5 99.7l-1.6-.2-1.6-.1-1.6-.2-.8 0M256.2 100.2l-1.3-1 1.4-.8M265.2 99.4l-1.6-.2-1.6-.2-1.6-.2-.8-.1M260.8 99.8l-1.2-1.1 1.4-.8M269.5 99.7l-1.6-.2-1.6-.2-1.6-.2-.8-.1M265.1 100.1l-1.2-1.1 1.4-.7M273.5 99.1l-1.6 0-1.6-.1-1.6-.2-.8 0M269.2 99.8l-1.3-1 1.4-.8M277.8 99.5l-1.6.2-1.6 0-1.6 0-1.6-.1M272.6 100.6l-1.2-1 1.3-.8M282.3 99.7l-1.5.4-1.6.3-1.6.2-1.6.1M277.4 101.5l-1.4-.8 1.2-1M287 99.4l-1.6.6-1.5.5-1.5.4-1.6.3M282.3 101.8l-1.5-.6 1.1-1.1M291.6 99.2l-1.5.5-1.6.6-1.5.5-1.5.5M287 101.7l-1.5-.4 1-1.3M295.6 99.1l-1.5.3-1.6.4-1.5.4-1.6.5-.7.3M290.2 101.4l-1.5-.4.9-1.3M300.4 99.8l-1.6 0-1.6.1-1.6.2-1.5.3-1.6.4M294 101.4l-1.5-.6 1.1-1.2M303.9 99.9l-1.6 0-1.6-.1-1.6.1-1.6.1-1.6.2-1.6.2M295.8 101.1l-1.5-.7 1.2-1.1M308.9 99.3l-1.6-.2-1.6-.1-1.6-.2-1.6-.1-1.6-.1-1.6-.1-.8 0M299.8 99.5l-1.3-1 1.3-.9M312.7 99.2l-1.5-.1-1.6-.2-1.6-.1-1.6-.2-1.6-.2-1.6-.1-1.6-.2M302.8 99.1l-1.2-1 1.4-.8M317.6 99.7l-1.6-.1-1.6-.2-1.6-.1-1.6-.1-1.6-.2-1.6-.1-1.6-.2-.7-.1M306.9 99.7l-1.2-1.1 1.3-.7M322.1 99.3l-1.6-.1-1.6-.2-1.6-.1-1.6-.1-1.6-.2-1.6-.1-1.6-.2-.8-.1M311.3 99.3l-1.2-1.1 1.4-.7M326.6 99.6l-1.6-.2-1.6-.1-1.6-.1-1.5-.1-1.6-.2-1.6-.1-1.6-.1-.8-.1M315.9 99.6l-1.2-1 1.3-.8M330.9 99.1l-1.6-.1-1.6-.1-1.6-.1-1.6-.1-1.6-.1-1.6-.1-1.6-.2M321 99.3l-1.3-1 1.4-.8M335 99l-1.6-.1-1.6-.1-1.6-.1-1.6-.1-1.6-.1-1.6-.1-1.6-.1M325.1 99.3l-1.3-1 1.4-.8M339.4 99.1l-1.6-.1-1.6-.1-1.6-.1-1.5-.1-1.6-.1-1.6-.1-.8 0M330.3 99.5l-1.2-1 1.3-.9M343.9 99.3l-1.6-.1-1.6-.1-1.6-.2-1.6-.1-1.6-.1-1.6 0-.8-.1M334.7 99.6l-1.2-1 1.3-.8M348.8 99.2l-1.6-.1-1.6-.2-1.6-.2-1.6-.1-1.5-.1-1.6-.1M340.5 99.4l-1.2-1 1.3-.8M352.2 99.3l-1.6-.1-1.6-.2-1.6-.2-1.6-.2-1.6-.1-.8-.1M344.6 99.4l-1.2-1 1.4-.8M218.7 103.9l-1.6.1-1.6.1-1.6.1-1.6 0-1.6.1M212 105.1l-1.3-.8 1.3-1M223.3 104.1l-1.6.2-1.6.2-1.6.1-1.6.1-1.6.1M216.7 105.6l-1.4-.8 1.3-1M227.2 103.7l-1.6.2-1.5.2-1.6.2-1.6.2-1.6.2M220.7 105.4l-1.4-.7 1.2-1.1M231.1 104.1l-1.5.3-1.6.3-1.6.3-1.6.3-1.5.2M224.7 106.2l-1.4-.7 1.1-1.1M235.6 103.7l-1.6.4-1.6.3-1.5.4-1.6.3-1.5.3-.8.2M228.4 106.2l-1.4-.6 1.1-1.2M240.3 104l-1.6.4-1.5.3-1.6.4-1.5.4-1.6.4-.7.2M233.2 106.7l-1.4-.6 1-1.2M244.7 103.5l-1.6.2-1.6.3-1.6.3-1.5.4-1.6.4-.8.2M237.5 105.8l-1.5-.5 1.1-1.2M249.9 103.8l-1.6.1-1.6.2-1.6.2-1.6.2-1.6.3M243.4 105.5l-1.5-.7 1.1-1.1M253.4 104.2l-1.6 0-1.6 0-1.6.1-1.6.1-1.6.2M246.8 105.3l-1.4-.7 1.2-1.1M257.7 104.3l-1.6-.1-1.6-.2-1.6-.1-1.6 0-1.6.1M251 104.9l-1.3-.9 1.3-1M262.2 104.2l-1.5-.3-1.6-.2-1.6-.3-1.6-.1-1.6-.1M255.5 104.2l-1.2-1 1.4-.8M266.8 104.3l-1.5-.3-1.6-.4-1.6-.2-1.5-.3-1.6-.3M260.1 103.9l-1.1-1.1 1.4-.7M270.9 103.3l-1.6-.2-1.6-.3-1.5-.3-1.6-.3-.8-.1M264.9 103.2l-1.1-1.1 1.4-.7M276.1 103.7l-1.6-.1-1.5-.1-1.6-.3-1.6-.2-.8-.1M270.1 104l-1.1-1.1 1.4-.7M279.6 104l-1.6.1-1.6 0-1.6-.1-1.6-.1-.8-.1M273.6 104.8l-1.2-1 1.4-.8M284.9 104.1l-1.6.4-1.5.3-1.6.2-1.6.1-.8 0M279.1 105.9l-1.3-.8 1.2-1M288.3 104.2l-1.5.5-1.6.4-1.5.4-1.6.3-.8.1M282.7 106.6l-1.4-.7 1.2-1.1M293.3 103.9l-1.6.4-1.5.5-1.5.5-1.5.5-1.6.4M287.1 106.7l-1.5-.5 1-1.2M297.5 103.7l-1.6.3-1.6.4-1.5.5-1.5.5-1.5.5-.8.2M290.5 106.6l-1.5-.5 1-1.3M301.6 104l-1.6.2-1.5.3-1.6.3-1.5.4-1.6.5-1.5.4-.8.3M293 106.9l-1.5-.5 1-1.3M306.4 104.3l-1.6.1-1.6.2-1.6.2-1.6.2-1.5.3-1.6.4-1.6.4-.7.2M296.1 106.8l-1.5-.5 1-1.2M310.4 104l-1.6.1-1.6 0-1.6.1-1.6.1-1.6.1-1.6.2-1.6.3-.8.1M299.9 105.7l-1.5-.7 1.1-1.1M315.1 103.9l-1.6 0-1.6-.1-1.6 0-1.6 0-1.6 0-1.6.1-1.6.1-.8 0M304.4 104.8l-1.3-.8 1.2-1M319.2 104.1l-1.6-.1-1.6-.1-1.6-.1-1.6 0-1.6-.1-1.6 0-1.6 0-.8.1M308.5 104.6l-1.3-.8 1.3-1M323.7 103.5l-1.6-.1-1.6-.1-1.6-.2-1.6-.1-1.5-.1-1.6-.1-1.6 0-.8-.1M313 103.7l-1.2-1 1.3-.8M328.3 103.7l-1.6-.1-1.6-.2-1.6-.1-1.6-.1-1.6-.2-1.6-.1-1.6-.1-.8-.1M317.5 103.7l-1.2-1 1.4-.8M333.3 103.2l-1.6-.1-1.6-.1-1.6-.1-1.6-.1-1.6-.1-1.6-.2-1.5-.1-.8-.1M322.6 103.3l-1.2-1 1.3-.8M337.5 104l-1.6-.2-1.6-.1-1.6-.1-1.6-.1-1.6-.1-1.6-.2-1.6-.1-.7 0M326.8 104.1l-1.2-1 1.3-.8M341.4 103.6l-1.6-.1-1.6-.2-1.6-.1-1.6-.1-1.6-.1-1.6-.2-1.6-.1-.8 0M330.7 103.7l-1.3-1 1.4-.8M345.7 104.3l-1.6-.3-1.6-.2-1.6-.2-1.6-.2-1.6-.1-1.6-.1-1.6-.1M335.8 104.1l-1.3-1 1.4-.9M350.9 104.3l-1.6-.3-1.5-.3-1.6-.3-1.6-.3-1.6-.2-1.6-.2-.7-.1M341.8 103.7l-1.1-1.1 1.3-.7M216.4 108.2l-1.6.1-1.6 0-1.6.1-1.6 0-1.6.1M209.7 109.4l-1.3-.9 1.3-1M220.8 108.5l-1.6.2-1.6.1-1.6.2-1.6.1-1.6.1M214.2 110l-1.4-.8 1.3-1M225.2 108.7l-1.6.3-1.6.3-1.6.2-1.5.2-1.6.2M218.7 110.7l-1.4-.8 1.2-1M230 107.6l-1.5.4-1.5.4-1.6.4-1.6.3-1.5.3-.8.1M222.9 110.2l-1.4-.7 1.1-1.1M234.2 108.2l-1.5.5-1.5.4-1.6.5-1.5.5-1.5.4-1.6.4M226.5 111.5l-1.5-.6 1-1.2M237.8 107.8l-1.5.5-1.5.5-1.5.5-1.6.5-1.5.5-1.5.5-.8.2M229.5 111.5l-1.6-.5 1-1.2M243 108.3l-1.5.4-1.5.5-1.6.5-1.5.5-1.5.6-1.5.5-1.4.6M234 112.3l-1.5-.4.8-1.3M246.9 108.7l-1.6.3-1.6.3-1.5.5-1.5.4-1.6.5-1.5.6-1.4.6M237.7 112.2l-1.5-.3.8-1.4M251.7 108.7l-1.6 0-1.6.1-1.6.2-1.6.3-1.5.3-1.6.4-1.5.5M242.2 111l-1.5-.5 1-1.3M255.8 108.4l-1.5-.2-1.6-.1-1.6 0-1.6.1-1.6.1-1.6.2-1.6.3M246.1 109.5l-1.4-.7 1.1-1.1M260 108.3l-1.6-.3-1.5-.3-1.6-.2-1.6-.1-1.6-.1-1.6.1-.8 0M251 108.3l-1.3-.9 1.3-1M265 108l-1.5-.4-1.5-.4-1.6-.4-1.6-.3-1.6-.3-1.5-.2M256.8 107.1l-1.1-1.1 1.4-.7M269.1 108.4l-1.6-.5-1.5-.4-1.5-.4-1.6-.4-1.5-.4-1.6-.3M260.9 107.1l-1.1-1.1 1.5-.7M274 107.8l-1.6-.3-1.6-.4-1.5-.4-1.6-.4-1.5-.3M267.2 107.2l-1-1.2 1.5-.6M277.9 107.9l-1.6-.2-1.6-.2-1.5-.2-1.6-.4-1.6-.3M271.1 107.8l-1.1-1.2 1.5-.6M282.4 107.9l-1.6.2-1.6 0-1.6 0-1.6-.2-1.6-.2M275.6 108.8l-1.2-1.1 1.4-.7M286.8 108.3l-1.5.4-1.6.3-1.6.2-1.6.2-1.6 0M280.2 110.3l-1.3-.9 1.3-1M291.5 108.4l-1.6.5-1.5.5-1.5.4-1.6.4-1.5.3-.8.1M284.4 111.3l-1.4-.7 1.1-1.1M295.5 108.4l-1.5.5-1.5.5-1.5.5-1.5.6-1.6.5-1.5.4M287.9 111.9l-1.5-.5 1-1.2M299.3 107.9l-1.5.4-1.5.5-1.5.5-1.6.5-1.5.6-1.5.5-1.5.5M290.2 111.9l-1.5-.5 1-1.2M304.7 108.1l-1.5.3-1.6.4-1.6.3-1.5.5-1.5.5-1.5.5-1.5.6-.8.3M294.8 111.9l-1.6-.4.9-1.3M309 108.6l-1.6.1-1.6.2-1.6.3-1.5.3-1.6.4-1.5.5-1.5.5-.8.3M298.8 111.6l-1.5-.4.9-1.3M313.5 108l-1.6 0-1.6.1-1.6.1-1.6.2-1.6.2-1.5.2-1.6.4-.8.2M303.1 110l-1.5-.6 1.1-1.2M318.1 108.3l-1.6-.1-1.6 0-1.6-.1-1.6.1-1.6 0-1.6.1-1.6.2-.8.1M307.5 109.4l-1.4-.8 1.2-1M321.5 108.7l-1.6-.2-1.5-.1-1.6-.1-1.6-.1-1.6-.1-1.6.1-1.6 0-.8.1M310.9 109.1l-1.3-.8 1.2-1M326 108.3l-1.6-.2-1.6-.1-1.6-.2-1.6-.2-1.6-.1-1.6-.1-1.6-.1-.8 0M315.3 108.3l-1.3-1 1.3-.9M330.6 108.5l-1.6-.1-1.6-.2-1.6-.2-1.6-.2-1.6-.1-1.6-.2-1.6-.2-.8 0M319.8 108.3l-1.2-1 1.4-.8M335.2 108.4l-1.6-.2-1.6-.2-1.6-.1-1.6-.2-1.6-.1-1.6-.2-1.6-.2-.7-.1M324.4 108.2l-1.1-1.1 1.3-.7M339.7 108.7l-1.5-.3-1.6-.2-1.6-.1-1.6-.2-1.6-.1-1.6-.2-1.6-.2-.8 0M329 108.4l-1.2-1 1.4-.8M343.6 107.9l-1.5-.3-1.6-.3-1.6-.2-1.6-.2-1.6-.2-1.6-.1-1.6-.2-.8 0M332.9 107.4l-1.2-1 1.4-.8M348.3 107.8l-1.5-.4-1.6-.3-1.6-.4-1.5-.2-1.6-.3-1.6-.2-1.6-.2M338.5 106.9l-1.2-1.1 1.4-.7M352.6 108.7l-1.6-.4-1.5-.5-1.6-.4-1.5-.4-1.6-.3-1.5-.3M344.4 107.5l-1.1-1.1 1.4-.7M218.6 112.3l-1.6.2-1.6.1-1.5.2-1.6.1-1.6 0M212 113.8l-1.3-.9 1.2-.9M222.7 112l-1.6.3-1.6.3-1.6.2-1.6.2-1.5.1M216.1 113.9l-1.3-.8 1.2-1M227.7 112.1l-1.6.5-1.5.4-1.6.4-1.5.4-1.6.4-.7.2M220.6 115l-1.4-.6 1-1.2M231.4 112.3l-1.5.6-1.5.6-1.5.6-1.5.7-1.4.7-1.4.8M224.2 116.4l-1.6-.1.7-1.4M236.5 112.2l-1.5.6-1.4.7-1.5.7-1.3.9-1.3 1-1 1.2-.4 1.5M229.3 117.8l-1.2 1-.5-1.4M240.1 112l-1.5.6-1.5.6-1.4.8-1.4.8-1.3.9-1 1.2-.7 1.5 0 .8M232.4 118l-1.1 1.2-.7-1.4M245.4 112.5l-1.5.4-1.5.5-1.5.6-1.4.7-1.3.9-1.2 1.2-.7 1.4-.2.7M237.4 118l-1.3.9-.5-1.5M249.3 112.4l-1.6.2-1.5.3-1.6.4-1.5.5-1.5.6-1.4.8-1.2 1-.6.6M240 116.6l-1.6.2.3-1.6M253.3 112.6l-1.6 0-1.6 0-1.6.2-1.6.2-1.6.4-1.5.5-1.5.6-.7.3M243.2 115.1l-1.6-.3.8-1.3M258.4 112.6l-1.5-.3-1.6-.3-1.6-.2-1.6-.1-1.6 0-1.6.2-1.6.2-.8.1M248 112.9l-1.5-.7 1.2-1.1M262.9 113.1l-1.5-.6-1.5-.5-1.5-.4-1.6-.3-1.6-.3-1.6-.1-1.5-.1M253.3 111.8l-1.2-1 1.3-.9M267.2 112.7l-1.5-.6-1.5-.5-1.5-.6-1.5-.5-1.6-.4-1.6-.3-1.5-.3M257.6 110.6l-1.1-1.1 1.4-.7M270.9 112.2l-1.5-.5-1.5-.6-1.5-.5-1.5-.6-1.5-.4-1.6-.5M262.8 110.3l-1-1.2 1.5-.5M275.5 112.1l-1.6-.4-1.5-.4-1.6-.5-1.5-.5-1.5-.5-.8-.2M268 110.8l-1-1.2 1.6-.5M280.1 112.6l-1.6 0-1.6-.2-1.5-.3-1.6-.4-1.5-.4M273.3 112.5l-1-1.2 1.5-.5M284.2 112.9l-1.6.3-1.6.1-1.6 0-1.6-.2-1.6-.2-.7-.2M276.6 113.9l-1.1-1.2 1.4-.6M289.1 112.6l-1.5.5-1.5.5-1.6.4-1.5.3-1.6.2-1.6 0M281.1 115.4l-1.3-.9 1.3-.9M292.8 112.1l-1.5.6-1.5.5-1.4.6-1.5.6-1.5.6-1.5.5-.8.3M284.6 116.2l-1.5-.4 1-1.3M297.6 112.8l-1.5.7-1.4.7-1.4.8-1.3.9-1.1 1.1-.9 1.4 0 1.5.3.8M290.9 119.2l-.6 1.5-1.2-1M302.7 112.8l-1.5.5-1.5.6-1.5.7-1.3.8-1.3 1-1 1.2-.6 1.5-.1.8M295 118.8l-1.1 1.1-.6-1.5M305.9 113.1l-1.5.4-1.5.5-1.5.6-1.4.8-1.4.9-1.1 1.1-.8 1.4-.2.8M297.8 118.7l-1.3.9-.4-1.6M311.5 113.2l-1.6.1-1.6.3-1.6.3-1.5.5-1.5.5-1.4.7-1.4.9-.6.5M301.9 116.9l-1.6.1.5-1.5M315.6 112.3l-1.5 0-1.6 0-1.6.1-1.6.2-1.6.2-1.6.3-1.5.4-.8.3M305.3 114.3l-1.5-.5 1-1.3M319.4 113.2l-1.6-.2-1.5-.1-1.6-.1-1.6 0-1.6.1-1.6.1-1.6.2-.8.2M308.9 114.1l-1.4-.7 1.1-1.1M324.4 112.1l-1.5-.2-1.6-.3-1.6-.2-1.6-.1-1.6-.1-1.6-.1-1.6 0-.8 0M313.8 112l-1.3-.9 1.3-.9M328.3 112.7l-1.6-.3-1.6-.3-1.6-.2-1.5-.3-1.6-.2-1.6-.1-1.6-.2-.8 0M317.6 112.1l-1.2-1 1.3-.8M333.1 112.7l-1.5-.2-1.6-.3-1.6-.2-1.6-.3-1.6-.2-1.6-.2-1.5-.3-.8-.1M322.4 112l-1.1-1.1 1.4-.7M337.5 112.2l-1.5-.3-1.6-.2-1.6-.2-1.6-.2-1.6-.3-1.6-.2-1.6-.2-.7-.1M326.8 111.6l-1.1-1.1 1.4-.7M341.4 112.4l-1.6-.4-1.5-.3-1.6-.3-1.6-.2-1.6-.2-1.6-.2-1.6-.2M331.5 111.6l-1.2-1 1.4-.8M345.9 113l-1.5-.6-1.5-.4-1.6-.4-1.5-.4-1.6-.3-1.6-.2-.8-.2M337 111.6l-1.2-1.1 1.5-.7M350.1 113.1l-1.5-.6-1.5-.6-1.5-.5-1.5-.5-1.6-.4-1.5-.4M342.1 111.3l-1.1-1.2 1.5-.6M216.4 117.2l-.7 1.3M220.4 116.5l-1.1 1.1-.2.8M220.5 117.7l-1.4.7-.2-1.6M225.5 117.4l-.2 1.5.8 1.3M226.2 118.7l-.1 1.5-1.5-.5M229.8 117l-.5 1.5.3 1.5 1 1.3M230.5 119.7l.1 1.6-1.5-.5M234.4 116.8l-.7 1.4 0 1.6.7 1.4 1.1 1.2M235.3 120.8l.2 1.6-1.5-.3M238.1 116.7l-.9 1.3-.2 1.6.5 1.5 1 1.2.6.6M238.9 121.3l.2 1.6-1.5-.3M242.5 116.6l-1 1.2-.6 1.5.4 1.6.9 1.3.6.5M242.5 121.1l.3 1.6-1.6-.3M247.6 117.5l-1.2 1.1-.4 1.5.9 1.4M247 119.9l-.1 1.6-1.5-.7M251.5 117.1l-1.6.2-1.5.6-1.1 1.1M248.8 118.8l-1.5.2.2-1.5M256.4 117.3l-1.4-.8-1.5-.4-1.6-.1M253.1 117l-1.2-1 1.4-.8M259.8 117.1l-1.2-1-1.4-.8-1.5-.5-1.6-.3M255.2 115.7l-1.1-1.2 1.5-.6M265.2 117.4l-.9-1.3-1.2-1.1-1.4-.8-1.4-.6M261.1 114.9l-.8-1.3 1.5-.3M269.6 117.6l-.8-1.4-1.2-1.1-1.3-.9M266.9 115.7l-.6-1.5 1.6 0M273.3 117.3l-.9-1.3-1.2-1-.7-.4M271 116l-.5-1.4 1.6-.1M278.1 117.1l-1.3-.8-.7-.4M276.7 117.3l-.6-1.4 1.6-.2M282.7 116.7l-1.5.4-.8.1M281.9 117.9l-1.5-.7 1.1-1.1M286.7 117l-1 1.3.2 1.5M286.7 118.4l-.8 1.4-1.1-1.2M290.6 117.1l-.7 1.4 0 1.6.8 1.4M290.9 119.9l-.2 1.6-1.4-.7M295.1 117.3l-.7 1.4-.1 1.6.5 1.5.9 1.3M295.7 121.5l0 1.6-1.5-.6M299.4 117.1l-1 1.3-.5 1.5.3 1.6.7 1.4 1 1.2M299.8 122.6l.1 1.5-1.5-.4M304.7 117.4l-1.2 1.1-.8 1.4 0 1.6.6 1.5 1 1.2M304.2 122.6l.1 1.6-1.5-.4M308.3 117.1l-1.4.7-1.3 1-.8 1.3-.1 1.6.7 1.4M305.7 121.6l-.3 1.5-1.4-.7M312.8 116.7l-1.6.2-1.5.3-1.5.6-1.4.9-.9 1.3-.3.7M307 119.9l-1.4.8-.3-1.5M318.1 117.1l-1.6-.3-1.6-.1-1.6 0-1.6.1-1.5.3M311.6 117.7l-1.4-.6 1.1-1.1M322.3 117.1l-1.5-.6-1.5-.5-1.6-.3-1.6-.2-1.6-.1M315.8 116.4l-1.3-1 1.4-.8M326.6 117.4l-1.4-.8-1.5-.6-1.5-.5-1.5-.4M321.7 116.3l-1-1.2 1.5-.6M330.5 117.5l-1.3-1-1.5-.6-1.5-.6M327.1 116.6l-.9-1.3 1.5-.4M335.6 117.5l-1.2-1.1-1.4-.7-.8-.3M333.1 116.7l-.9-1.3 1.6-.3M339.4 117.5l-.9-1.3-1.4-.8M337.7 116.9l-.6-1.5 1.6-.1M344.2 117l-.9-1.3-1.3-.9-.8-.4M341.9 115.8l-.7-1.4 1.6-.2M348.5 117.4l-.5-1.5-1.1-1.1-.7-.5M346.7 115.9l-.5-1.6 1.6.1M352.1 117l-.7-1.4-1.2-1.1-.6-.4M350.1 115.6l-.5-1.5 1.5 0M218.4 120.9l1.6.5 1.5.4 1.5.5M222.1 121l.9 1.3-1.5.5M222.9 121.2l1.4.6 1.5.7 1.5.6.7.3M227.2 122.1l.8 1.3-1.6.3M227.4 120.9l1.3 1 1.4.9 1.3.8 1.4.8M232.2 123l.6 1.4-1.6.1M232.2 121.5l1.2 1.1 1.2.9 1.4.9 1.3.9 1.4.8M238.1 124.7l.6 1.4-1.6.1M235.8 121.6l1.1 1.1 1.3 1 1.3.9 1.4.9 1.3.8M241.6 124.8l.6 1.5-1.5.1M240.8 121.9l1.1 1.1 1.4.9 1.3.8 1.5.7 1.5.5.8.3M247.4 124.9l1 1.3-1.6.4M245.3 121.3l1.2 1.1 1.5.7 1.5.5 1.6.3M249.9 122.8l1.2 1.1-1.5.7M249.7 121.9l1.5.4 1.6.1 1.6-.3.8-.2M253.7 121.3l1.5.6-1.1 1.2M253.7 120.9l1.4-.7.6-1.4M254.3 119.7l1.4-.9.3 1.5M257.8 121.6l1.1-1.2.5-1.4-.5-1.5-1.2-1.1M258.1 117.9l-.4-1.5 1.6.2M262.4 121l.7-1.4.1-1.6-.8-1.4-1.1-1-.7-.5M261.1 116.6l-.5-1.5 1.6.1M267 121.6l1-1.2.6-1.5-.1-1.6-.9-1.3-1.2-1.1M266.8 116.5l-.4-1.6 1.6.2M271 121.8l1.2-1 1-1.3.5-1.5-.5-1.4-1.2-1.1M272.3 117l-.3-1.5 1.6.2M275.8 120.9l1.3-.8 1.4-1 1-1.2M278 118.3l1.5-.4-.2 1.6M280.2 121.9l1.6 0 1.6.3 1.5.4 1.5.5M285.5 121.8l.9 1.3-1.5.4M284 121.8l1.5.6 1.5.6 1.4.7.7.4M288.4 122.7l.7 1.4-1.5.2M288.5 121.1l1.2 1.1 1.2 1 1.3.9.6.5M292.3 123.1l.5 1.5-1.6 0M293.8 121.6l.9 1.2 1.1 1.2 1.2 1.1 1.1 1.1.6.6M298.4 125.2l.3 1.6-1.6-.3M297.7 121.4l.7 1.4 1 1.2 1.1 1.2 1.1 1.1.6.6M301.9 125.3l.3 1.6-1.6-.3M302 121.4l.7 1.5 1 1.2 1.1 1.2 1.2 1 .6.5M306.2 125.3l.4 1.5-1.6-.1M306.8 121l.4 1.5 1 1.2 1.3 1M309 123.2l.5 1.5-1.6-.1M310.7 121.4l.8 1.3.7.4M311.7 121.6l.5 1.5-1.6-.1M315.3 120.9l-1.2-.8M319.5 121.3l0-1.6-1.1-1M318.7 120.2l-.3-1.5 1.5.2M323.8 121.3l.3-1.6-.8-1.4-1.3-.9M322.6 118.9l-.6-1.5 1.6 0M328.8 121.4l.8-1.4 0-1.6-1-1.2-.7-.4M328.4 118.3l-.5-1.5 1.6.1M332.9 121.6l1.2-1.1.9-1.3-.1-1.6-1.1-1.1M334.1 118.1l-.3-1.6 1.6.2M337.9 120.9l1.2-1.1.9-1.3-.2-1.6-1.1-1.1M339 117.4l-.3-1.6 1.5.3M341.5 121.7l1.3-.8 1.3-1 1-1.3.2-1.5-.7-1.4-.6-.5M344.2 116.8l-.2-1.6 1.5.3M346 121.5l1.3-.9 1.2-1 .9-1.3.1-1.6-.8-1.3-.6-.6M348.3 116.4l-.2-1.6 1.5.3M350.2 121.8l1.4-.8 1.3-.9 1.2-1.1.7-1.5-.4-1.5-.6-.6M353.8 117l0-1.6 1.5.6M216.4 125.5l1.6.2 1.6.2 1.6.3 1.5.3 1.6.4 1.5.5M224.8 126.1l1 1.3-1.5.5M221.2 125.2l1.6.4 1.6.4 1.5.5 1.5.5 1.5.6 1.4.6M229.5 126.9l.8 1.3-1.5.3M225.6 125.8l1.5.5 1.5.6 1.4.6 1.5.7 1.4.7 1.5.7.7.4M234.3 128.6l.8 1.4-1.6.2M230 125.3l1.5.7 1.4.7 1.4.8 1.4.8 1.4.7 1.4.8.7.3M238.5 128.7l.7 1.4-1.5.3M234 125.9l1.4.8 1.4.8 1.4.8 1.4.7 1.4.7 1.5.7 1.5.6.7.2M243.8 129.9l.9 1.3-1.5.4M237.7 125.8l1.4.8 1.4.8 1.4.8 1.4.6 1.5.6 1.5.5 1.6.4.8.2M247.6 129.3l1.1 1.2-1.5.6M243.3 126l1.4.7 1.5.6 1.5.5 1.6.4 1.5.2 1.6 0 1.6 0 .8-.1M253.5 127.5l1.3.8-1.2 1M246.5 125.8l1.5.5 1.6.4 1.6.2 1.6 0 1.6-.1 1.5-.3 1.6-.4M256 125.6l1.5.5-1 1.2M251.8 126.3l1.6-.1 1.6-.1 1.5-.4 1.5-.5 1.5-.6 1.4-.8 1.4-.8M260.7 122.9l1.6.1-.6 1.5M255.9 126.2l1.5-.4 1.5-.6 1.5-.7 1.4-.7 1.3-.9 1.2-1 1.1-1.2M263.8 121.1l1.6-.4-.2 1.6M259.9 126l1.4-.7 1.4-.8 1.3-.9 1.4-.9 1.2-1 1-1.2.6-1.5.1-.8M267.1 119.3l1.2-1.1.6 1.4M264.6 126.3l1.4-.8 1.3-.8 1.4-.9 1.4-.8 1.3-.9 1.3-1 1.1-1.1.5-.6M272.8 119.8l1.5-.4-.1 1.6M268.8 125.5l1.4-.8 1.5-.8 1.4-.7 1.4-.6 1.5-.7 1.5-.6 1.5-.5M277.5 120.4l1.5.4-1 1.3M273.7 126.2l1.5-.5 1.5-.4 1.6-.4 1.6-.1 1.6 0 1.6.1.8.2M282.7 124l1.2 1.1-1.5.7M277.6 125.9l1.6-.2 1.6-.1 1.6.1 1.6.3 1.5.4 1.5.6M286.1 125.7l.9 1.3-1.5.4M282.6 125.4l1.6.3 1.5.4 1.5.6 1.5.7 1.4.7.6.4M290.1 127.1l.6 1.4-1.5.2M286.8 125.7l1.5.7 1.4.7 1.4.9 1.3.9 1.3.9 1.3.9M294.5 129.2l.5 1.5-1.6 0M291.5 126.2l1.3.9 1.2 1 1.3 1 1.3.9 1.2 1 1.3 1 .7.4M299.2 130.9l.6 1.5-1.6 0M295.5 125.4l1.2 1.1 1.2 1 1.2 1.1 1.2 1 1.3 1 1.3.9 1.4.9M303.6 130.9l.7 1.5-1.6.1M299.6 125.4l1.1 1.1 1.2 1.1 1.2 1 1.3 1 1.3.8 1.4.8.8.3M307.1 130.1l.8 1.4-1.6.3M304.5 126.2l1.2 1 1.3.9 1.4.8 1.4.6 1.6.5 1.6.3M311.8 129.2l1.2 1.1-1.5.7M309.1 126.1l1.5.7 1.5.5 1.6.3 1.6 0 1.5-.2M315.4 126.6l1.4.8-1.1 1M313.3 126.2l1.6 0 1.6-.1 1.6-.5 1.4-.6.7-.4M318.7 124.4l1.5.2-.7 1.4M318 125.3l1.5-.6 1.4-.8 1.3-.9 1.1-1.1.4-.7M322.2 121.7l1.5-.5 0 1.6M322.1 126.1l1.3-.9 1.3-.9 1.3-1 1.2-1 1.1-1.2.6-1.5M327.5 120.4l1.4-.8.3 1.5M325.8 126l1.4-.9 1.3-.9 1.3-.9 1.3-.9 1.2-1.1 1.1-1.1.4-.7M332.3 120l1.5-.5 0 1.6M331.1 125.8l1.4-.8 1.4-.8 1.4-.7 1.5-.7 1.4-.7 1.3-.9 1.3-.9M339.3 120.3l1.5 0-.5 1.5M334.7 126.2l1.4-.7 1.4-.7 1.5-.6 1.5-.7 1.4-.6 1.5-.7 1.4-.7.7-.5M343.9 120.9l1.6.1-.7 1.5M339.6 125.8l1.5-.6 1.4-.6 1.5-.6 1.5-.6 1.5-.7 1.4-.6 1.4-.8.7-.4M348.9 120.8l1.6.1-.6 1.4M343.7 125.2l1.5-.6 1.5-.5 1.5-.6 1.5-.6 1.5-.7 1.4-.7 1.4-.8.7-.4M353.1 120.2l1.6.1-.7 1.5M348.8 125.7l1.5-.5 1.5-.5 1.5-.5 1.5-.5 1.6-.5 1.5-.4 1.6-.4.7-.2M358.8 121.7l1.4.5-1 1.2M352.9 125.2l1.5-.4 1.6-.5 1.5-.4 1.6-.3 1.5-.3 1.6-.3 1.6-.2M362.4 122.1l1.4.7-1.1 1.1M219 130.5l1.6.3 1.6.2 1.6.4 1.5.3 1.6.5 1.5.4M227.4 131.4l1 1.2-1.5.5M223.5 130.2l1.5.4 1.6.4 1.5.5 1.5.5 1.5.6 1.5.5.7.3M232.5 132.1l.8 1.3-1.5.4M227.6 130.4l1.5.5 1.5.6 1.5.6 1.5.6 1.4.6 1.5.6 1.5.6M237.1 133.2l.9 1.3-1.5.4M231.9 130.3l1.4.7 1.5.6 1.4.7 1.5.6 1.5.6 1.5.6 1.5.5.8.2M242 133.6l1 1.2-1.5.5M236.1 129.7l1.4.7 1.5.7 1.4.7 1.5.6 1.5.5 1.5.5 1.6.3.8.2M246.2 132.7l1.1 1.2-1.5.6M240.9 129.8l1.4.6 1.5.6 1.5.5 1.6.4 1.6.3 1.5.2 1.6.1.8.1M251.2 131.6l1.2 1-1.3.8M244.3 130.7l1.5.5 1.6.4 1.6.2 1.6.2 1.6.1 1.6 0 1.5-.2.8-.1M254.7 131.1l1.4.7-1.1 1.1M249.5 130l1.5.2 1.6 0 1.6-.1 1.6-.2 1.6-.3 1.5-.4 1.5-.6.8-.3M259.6 128l1.6.3-.9 1.4M254.1 130.5l1.6-.2 1.5-.3 1.6-.4 1.5-.5 1.5-.6 1.4-.7 1.4-.7.8-.4M263.8 126.5l1.6.2-.8 1.4M258.3 130.7l1.5-.5 1.5-.5 1.5-.7 1.4-.6 1.5-.8 1.4-.7 1.4-.8.7-.4M267.6 125.5l1.6.2-.7 1.4M262.9 130l1.5-.6 1.4-.7 1.5-.8 1.4-.7 1.4-.7 1.4-.8 1.5-.6.7-.4M272.2 124.4l1.5.3-.8 1.4M267.1 130.5l1.5-.7 1.4-.7 1.5-.6 1.5-.6 1.5-.6 1.5-.4 1.6-.4.8-.1M276.9 125.7l1.5.7-1.2 1.1M271.3 130.7l1.5-.6 1.5-.5 1.6-.4 1.6-.3 1.5-.2 1.6-.1 1.6.1.8.1M281.8 127.8l1.2 1-1.4.8M275.9 130.2l1.6-.3 1.6-.2 1.6 0 1.6.1 1.6.3 1.5.4.8.2M285.2 129.5l1 1.2-1.5.5M280.2 130.8l1.6.1 1.6.2 1.5.3 1.6.5 1.5.6 1.4.7M288.6 131.8l.8 1.4-1.6.3M284.8 130l1.5.5 1.5.6 1.5.7 1.4.7 1.4.8 1.4.8.6.4M293.5 133.1l.6 1.4-1.5.1M288.6 130.2l1.5.8 1.4.8 1.3.8 1.4.8 1.3.9 1.4.8 1.4.8M297.6 134.5l.7 1.4-1.6.2M293.7 129.8l1.3 1 1.3.9 1.3.9 1.3.9 1.4.9 1.3.8 1.5.7.7.4M303 134.9l.8 1.4-1.6.2M297.2 130.3l1.3 1 1.3.9 1.3.9 1.4.9 1.4.7 1.4.7 1.5.6.8.3M306.6 135l1 1.3-1.6.4M302.2 130.2l1.3.9 1.4.8 1.4.8 1.5.6 1.5.5 1.6.4 1.5.3.8.1M312 133.5l1.2 1.1-1.4.7M307 130.4l1.4.7 1.5.6 1.6.4 1.5.2 1.6.1 1.6-.1 1.6-.3.8-.2M317.1 131.2l1.5.6-1.1 1.2M310.6 130l1.6.4 1.6.2 1.6 0 1.6-.2 1.5-.4 1.5-.5.8-.3M319.2 128.8l1.6.4-.9 1.3M314.9 129.7l1.6-.2 1.6-.3 1.5-.5 1.5-.7 1.4-.8 1.3-.8.7-.4M322.9 125.9l1.6.1-.6 1.4M319.7 129.7l1.5-.6 1.4-.7 1.4-.9 1.3-.8 1.3-.9 1.4-.9 1.3-.9M327.7 123.9l1.6.1-.6 1.4M323.8 130.8l1.4-.8 1.4-.8 1.3-.8 1.4-.9 1.3-.9 1.4-.8 1.4-.8.7-.4M332.5 124.5l1.6.1-.7 1.5M328.7 130.5l1.4-.8 1.4-.8 1.3-.8 1.4-.8 1.5-.7 1.4-.7 1.5-.7.7-.3M337.7 124.6l1.6.3-.8 1.4M332.8 129.7l1.4-.8 1.5-.7 1.4-.7 1.5-.7 1.4-.6 1.5-.6 1.5-.6.7-.3M342.2 124.3l1.5.4-.8 1.3M336.9 129.7l1.5-.7 1.5-.6 1.4-.7 1.5-.6 1.5-.5 1.5-.6 1.5-.6.7-.3M346.5 124.7l1.5.4-.8 1.3M342.1 130.3l1.5-.6 1.5-.5 1.5-.6 1.5-.5 1.6-.5 1.5-.5 1.5-.4.8-.3M352 125.9l1.5.5-1 1.3M345.8 130.1l1.5-.5 1.6-.5 1.5-.5 1.5-.4 1.6-.4 1.5-.4 1.6-.4.8-.2M355.9 126.2l1.5.6-1.1 1.2M350.4 130.6l1.5-.4 1.6-.4 1.5-.3 1.6-.4 1.6-.2 1.6-.3 1.5-.2M359.9 127.7l1.4.7-1.1 1.1M215.8 134.9l1.6.1 1.6.1 1.6.2 1.5.2 1.6.3 1.6.3M224.2 135l1.1 1.1-1.5.6M220.3 134.2l1.6.3 1.6.2 1.6.3 1.5.4 1.6.4 1.5.4M228.7 135l1 1.2-1.5.5M224.7 134.6l1.5.4 1.6.4 1.5.4 1.5.4 1.6.5 1.5.5.8.2M233.7 136.1l1 1.3-1.5.5M229.7 134.6l1.6.5 1.5.5 1.5.5 1.5.5 1.5.5 1.6.5 1.5.5M239.4 136.8l1 1.3-1.5.5M234.2 134.7l1.5.5 1.5.5 1.6.6 1.5.4 1.5.5 1.6.4 1.5.3.8.2M244.6 136.9l1.1 1.2-1.4.6M238 134.1l1.5.6 1.5.5 1.5.5 1.6.4 1.5.3 1.6.3 1.6.3.8 0M248.4 136l1.2 1-1.4.8M243 134.5l1.6.5 1.5.3 1.6.3 1.6.2 1.6.2 1.6 0 1.6-.1.8 0M253.5 135.1l1.4.8-1.3 1M247.6 135.2l1.5.2 1.6.1 1.6.1 1.6-.1 1.6-.1 1.6-.2 1.6-.3.8-.2M258 134.1l1.5.6-1.1 1.2M251.4 135.1l1.6 0 1.6 0 1.6-.2 1.6-.3 1.6-.3 1.5-.4 1.5-.5.8-.2M261.7 132.7l1.5.5-.9 1.3M255.5 134.1l1.6-.2 1.5-.3 1.6-.4 1.5-.4 1.5-.6 1.5-.5 1.5-.7.7-.3M265.4 130.4l1.5.3-.8 1.4M259.8 134.6l1.5-.4 1.5-.4 1.6-.6 1.5-.5 1.5-.6 1.4-.6 1.5-.6.8-.3M269.5 130.2l1.6.4-.9 1.3M265.3 134.7l1.5-.5 1.5-.5 1.5-.5 1.5-.6 1.6-.5 1.5-.4 1.6-.4.7-.1M275.3 130.6l1.4.6-1.1 1.1M269 135.2l1.5-.5 1.6-.5 1.5-.4 1.6-.3 1.5-.3 1.6-.2 1.6 0 .8 0M279.4 132.1l1.3.9-1.3.9M273.5 134.9l1.6-.3 1.5-.3 1.6-.1 1.6-.1 1.6.1 1.6.2 1.6.3M283.5 133.6l1.1 1.1-1.5.7M278.4 134.2l1.6-.1 1.6.1 1.6.2 1.5.4 1.6.4 1.5.5.7.3M287.6 134.7l.9 1.3-1.5.4M282.1 134.8l1.6.3 1.5.3 1.6.5 1.5.5 1.5.6 1.4.7.7.3M291.1 136.6l.8 1.4-1.5.3M286.8 134l1.5.6 1.4.6 1.5.7 1.4.7 1.4.8 1.5.7 1.4.7M296.1 137.4l.8 1.4-1.6.2M290.9 134.9l1.4.8 1.4.7 1.4.8 1.4.7 1.5.7 1.4.7 1.5.7.7.3M300.8 139l.8 1.3-1.5.3M295.3 134.3l1.4.8 1.4.9 1.4.7 1.4.8 1.4.7 1.5.6 1.5.5.8.3M305.1 138.3l1 1.3-1.6.4M299.4 134.6l1.4.8 1.4.8 1.4.7 1.5.6 1.5.5 1.6.5 1.5.3.8.2M309.4 137.8l1.1 1.2-1.4.6M304.8 134.5l1.5.6 1.5.6 1.5.4 1.6.3 1.6.3 1.6 0 1.5 0 .8-.1M315.1 135.8l1.3.8-1.2 1M309.2 134.4l1.6.3 1.6.3 1.6.1 1.6 0 1.5-.2 1.6-.3 1.6-.4.7-.3M319.5 133.4l1.5.5-1 1.3M312.9 134.9l1.6 0 1.6-.1 1.6-.2 1.5-.3 1.6-.5 1.5-.5 1.4-.7.7-.3M322.9 132l1.5.3-.7 1.4M317.7 134.2l1.6-.3 1.5-.5 1.5-.6 1.5-.6 1.4-.8 1.4-.7 1.3-.9.7-.4M327 129.3l1.6.1-.6 1.5M321.8 134l1.5-.6 1.4-.6 1.4-.8 1.4-.8 1.4-.8 1.4-.8 1.4-.8.7-.4M330.8 128.2l1.6.2-.7 1.4M326.7 135.1l1.4-.7 1.4-.8 1.4-.7 1.4-.8 1.4-.8 1.4-.7 1.5-.7.7-.4M335.7 129.3l1.6.2-.8 1.4M331.2 134.2l1.4-.7 1.4-.8 1.4-.7 1.5-.7 1.4-.7 1.5-.6 1.5-.6.7-.3M340.5 128.7l1.5.4-.8 1.3M335 134.1l1.5-.7 1.4-.7 1.5-.7 1.4-.6 1.5-.6 1.5-.5 1.5-.6.8-.2M344.6 129.1l1.5.4-.9 1.3M340 134.5l1.5-.5 1.5-.6 1.5-.5 1.6-.5 1.5-.5 1.5-.5 1.6-.4.7-.2M350 130.3l1.4.5-1 1.2M343.7 134.1l1.5-.5 1.5-.5 1.6-.4 1.5-.5 1.6-.4 1.5-.3 1.6-.4.8-.1M353.8 130.3l1.5.7-1.1 1.1M348.9 134.3l1.5-.4 1.6-.3 1.6-.3 1.5-.3 1.6-.3 1.6-.2 1.6-.2M358.5 131.6l1.4.7-1.2 1.1M352.6 135l1.5-.3 1.6-.3 1.6-.2 1.6-.2 1.6-.1 1.6-.2.8 0M361.5 132.9l1.4.8-1.3 1M218.2 139.3l1.6.1 1.6.2 1.6.2 1.6.2 1.6.2 1.5.3M226.6 139.4l1.1 1.1-1.4.7M222.4 138.5l1.6.2 1.5.2 1.6.3 1.6.3 1.6.4 1.5.3M230.7 139l1.1 1.2-1.5.6M227.5 139.4l1.6.3 1.6.3 1.5.4 1.6.4 1.5.3 1.6.4.8.2M236.6 140.5l1.1 1.2-1.5.6M231.9 138.9l1.6.4 1.5.4 1.6.4 1.5.4 1.6.4 1.5.3 1.6.3.8.2M242.5 140.6l1.1 1.1-1.4.6M235.6 138.9l1.5.4 1.5.4 1.6.4 1.6.3 1.5.4 1.6.2 1.6.3.8.1M246.1 140.3l1.2 1.1-1.4.7M241 138.5l1.6.4 1.5.3 1.6.3 1.6.2 1.6.2 1.6.1 1.6.1.8 0M251.6 139.2l1.3.9-1.3.9M245 138.7l1.5.3 1.6.2 1.6.2 1.6 0 1.6.1 1.6-.1 1.6-.1.8-.1M255.5 138.4l1.4.8-1.2 1M249.5 138.4l1.6.1 1.6 0 1.6 0 1.6-.1 1.6-.2 1.6-.3 1.5-.3.8-.1M259.9 136.8l1.5.7-1.1 1.1M254 138.6l1.6-.1 1.5-.1 1.6-.3 1.6-.3 1.6-.3 1.5-.4 1.6-.4.7-.3M264.2 135.9l1.5.5-1 1.3M258.5 139.1l1.6-.3 1.5-.3 1.6-.4 1.5-.4 1.6-.4 1.5-.4 1.6-.5.7-.2M268.6 135.7l1.5.5-1 1.2M262.2 138.9l1.5-.4 1.6-.4 1.5-.4 1.6-.4 1.5-.4 1.5-.4 1.6-.4.8-.2M272.3 135.3l1.5.6-1.1 1.2M266.9 139.3l1.6-.4 1.5-.4 1.6-.3 1.5-.3 1.6-.3 1.6-.2 1.6-.1.8-.1M277.4 136.4l1.3.8-1.3 1M271.7 138.8l1.6-.3 1.6-.3 1.6-.2 1.6-.1 1.6 0 1.6.1 1.6.2.8.1M282.5 137.2l1.2 1.1-1.5.7M275.2 139.3l1.5-.1 1.6-.1 1.6 0 1.6.1 1.6.2 1.6.3 1.6.4M285.2 138.9l1.1 1.2-1.5.6M280.5 139.3l1.6.1 1.6.3 1.6.3 1.5.4 1.5.5 1.6.5.7.2M289.7 140.3l.9 1.3-1.5.5M284.2 138.6l1.5.3 1.6.5 1.5.5 1.5.5 1.5.6 1.5.6 1.5.6M293.9 140.9l.9 1.3-1.6.3M288.5 139.3l1.5.5 1.5.6 1.5.6 1.5.6 1.5.6 1.4.6 1.5.6.8.2M298.8 142.3l.9 1.3-1.5.4M293.4 139.2l1.4.6 1.5.7 1.4.6 1.5.7 1.5.5 1.5.6 1.6.5.7.2M303.5 142.3l1 1.3-1.5.5M298.3 138.7l1.4.7 1.5.7 1.4.6 1.6.5 1.5.5 1.5.4 1.6.3.8.1M308.5 141.4l1.1 1.1-1.5.7M302 138.5l1.5.7 1.5.5 1.5.5 1.6.4 1.5.3 1.6.2 1.6.2.8 0M312.4 140.3l1.2 1-1.3.8M306.4 138.5l1.5.5 1.6.3 1.6.3 1.6.2 1.6 0 1.6 0 1.6-.2.8-.1M316.9 138.8l1.4.7-1.2 1.1M311 138.8l1.6.1 1.6.1 1.6 0 1.6-.2 1.6-.2 1.5-.4 1.6-.4.7-.3M321.3 137.1l1.5.4-.9 1.3M315.2 139.2l1.6-.1 1.5-.2 1.6-.3 1.6-.4 1.5-.5 1.5-.6 1.5-.6.7-.3M325.1 135.9l1.6.3-.8 1.3M320.3 138.9l1.5-.4 1.6-.5 1.5-.5 1.4-.7 1.5-.6 1.4-.7 1.4-.8.7-.3M329.8 134.1l1.5.3-.7 1.4M323.8 138.7l1.5-.6 1.5-.6 1.5-.6 1.4-.7 1.4-.7 1.5-.8 1.4-.7.7-.4M333.1 133.4l1.6.2-.8 1.4M329 139.6l1.5-.7 1.5-.6 1.4-.7 1.5-.7 1.4-.6 1.5-.7 1.5-.6.7-.3M338.4 134.4l1.6.3-.9 1.3M333.2 138.4l1.5-.6 1.5-.7 1.4-.6 1.5-.6 1.5-.6 1.5-.6 1.5-.5.7-.3M342.8 133.5l1.5.4-.9 1.3M337.7 139.5l1.5-.5 1.5-.6 1.5-.5 1.5-.5 1.5-.5 1.6-.4 1.5-.4.8-.2M347.6 135.3l1.5.6-1 1.2M342.3 139.2l1.5-.5 1.6-.5 1.5-.4 1.6-.4 1.5-.3 1.6-.3 1.6-.3.8-.1M352.5 135.7l1.5.7-1.2 1.1M346.2 138.6l1.5-.3 1.6-.4 1.5-.3 1.6-.3 1.6-.2 1.6-.3 1.6-.1M355.8 135.9l1.4.8-1.2 1M350.8 138.9l1.6-.3 1.6-.2 1.6-.2 1.5-.2 1.6-.1 1.6-.1.8-.1M359.8 136.9l1.3.8-1.2 1M216.2 143.4l1.6.1 1.5.1 1.6.1 1.6.1 1.6.1 1.6.2M224.5 143l1.2 1.1-1.4.7M221.2 143.1l1.6.2 1.6.1 1.6.2 1.5.2 1.6.2 1.6.2M229.6 143.2l1.1 1-1.4.8M224.7 143.6l1.6.2 1.6.2 1.6.2 1.6.3 1.5.2 1.6.3.8.1M233.9 144l1.1 1.1-1.4.7M230 143.7l1.6.2 1.6.3 1.6.3 1.6.2 1.5.3 1.6.3 1.6.2M240 144.4l1.1 1.1-1.4.7M234.3 143.7l1.6.3 1.6.3 1.6.3 1.5.2 1.6.3 1.6.2 1.6.2.8 0M245 144.5l1.2 1-1.4.8M238 144l1.6.3 1.5.2 1.6.3 1.6.2 1.6.2 1.6.1 1.6.1.8 0M248.6 144.5l1.3.9-1.4.9M242.7 142.9l1.5.3 1.6.2 1.6.2 1.6.1 1.6.1 1.6 0 1.6 0 .8-.1M253.3 142.9l1.3.8-1.3 1M247.2 142.8l1.5.2 1.6.1 1.6 0 1.6 0 1.6-.1 1.6-.1 1.6-.1.8-.1M257.7 141.9l1.4.8-1.2 1M251 143.3l1.6 0 1.6 0 1.6-.1 1.6-.1 1.6-.2 1.6-.2 1.6-.2.8-.2M261.5 141.6l1.5.7-1.2 1.1M255.8 144l1.6-.1 1.6-.2 1.6-.2 1.6-.2 1.6-.3 1.6-.2 1.5-.3.8-.2M266.3 141.7l1.4.6-1.1 1.2M260.5 143.3l1.6-.2 1.6-.3 1.5-.3 1.6-.3 1.6-.3 1.6-.2 1.5-.3.8-.1M270.9 140.6l1.4.7-1.1 1.1M264.7 143l1.5-.3 1.6-.3 1.6-.3 1.6-.2 1.5-.3 1.6-.2 1.6-.1.8-.1M275.1 140.4l1.4.8-1.2 1M269.5 143.2l1.6-.3 1.6-.2 1.5-.2 1.6-.1 1.6-.1 1.6 0 1.6.1.8.1M280.2 141.5l1.2 1-1.3.8M274.1 143.6l1.6-.1 1.6-.1 1.6 0 1.5.1 1.6.1 1.6.2 1.6.3M284.1 143l1.1 1.1-1.4.7M278.3 143.3l1.6 0 1.6.1 1.5.2 1.6.2 1.6.4 1.6.3.7.2M287.5 143.5l1 1.2-1.5.6M281.9 143.2l1.5.2 1.6.3 1.6.3 1.5.4 1.6.4 1.5.4.8.3M291 144.2l1 1.3-1.5.5M286.4 143.8l1.5.4 1.6.4 1.5.5 1.5.4 1.6.5 1.5.5 1.5.5M296.1 145.7l1 1.3-1.5.5M291.1 143.3l1.5.5 1.5.5 1.5.5 1.6.6 1.5.5 1.5.4 1.5.5.8.2M301.5 145.7l1 1.3-1.5.5M295.4 143.8l1.5.5 1.5.6 1.5.5 1.6.4 1.5.4 1.6.4 1.5.4.8.1M305.8 146l1.1 1.1-1.4.7M299.9 143.4l1.5.5 1.5.5 1.6.4 1.5.4 1.6.3 1.6.2 1.6.2.8.1M310.4 145l1.2 1-1.4.8M304.6 143.8l1.6.4 1.5.3 1.6.3 1.6.2 1.6.1 1.6 0 1.6 0 .8 0M315.2 144.2l1.3.9-1.3.9M308.3 142.9l1.5.3 1.6.2 1.6.1 1.6 0 1.6 0 1.6-.2 1.6-.2.8-.1M318.8 142.3l1.4.7-1.2 1.1M313.4 143.2l1.6.1 1.6-.1 1.6-.2 1.6-.2 1.5-.3 1.6-.4 1.5-.4.8-.3M323.7 140.9l1.5.5-1 1.3M317.3 143.5l1.5-.2 1.6-.2 1.6-.4 1.5-.4 1.6-.4 1.5-.5 1.5-.6.7-.3M327.3 140.1l1.5.4-.9 1.3M322 143.3l1.6-.3 1.5-.5 1.5-.5 1.5-.5 1.5-.6 1.5-.6 1.5-.6.7-.4M331.8 139l1.5.3-.8 1.4M325.8 143.9l1.5-.5 1.5-.5 1.5-.6 1.5-.5 1.5-.6 1.5-.6 1.5-.6.7-.3M335.5 139.3l1.5.4-.8 1.3M330.5 143.1l1.5-.6 1.5-.6 1.4-.5 1.5-.6 1.5-.6 1.5-.5 1.5-.6.8-.2M340.2 138.4l1.5.5-.9 1.3M335.4 143.1l1.5-.6 1.5-.5 1.6-.5 1.5-.5 1.5-.5 1.5-.4 1.6-.4.8-.2M345.4 138.9l1.5.6-1.1 1.2M339.5 143.6l1.6-.4 1.5-.5 1.6-.4 1.5-.3 1.6-.4 1.6-.3 1.5-.3.8-.1M349.8 140.2l1.4.7-1.1 1.1M344.1 142.9l1.6-.3 1.6-.4 1.5-.3 1.6-.2 1.6-.2 1.6-.2 1.6-.2M353.8 140.3l1.4.8-1.2 1M348.5 143.9l1.6-.3 1.6-.2 1.5-.2 1.6-.1 1.6-.2 1.6-.1.8 0M357.5 142l1.3.8-1.2 1M352.4 143.8l1.6-.2 1.5-.1 1.6-.1 1.6-.1 1.6-.1 1.6 0M360.6 142.3l1.3.9-1.2.9"/>
<rect x="340" y="130.6" width="13.6" height="9" fill="#a424ee"/>
</g>
<g clip-path="url(#clipb)" fill="none" stroke="#f2a21a" stroke-width="1.25" stroke-linejoin="round">
<path d="M241.9 18.2l1-.2 1.5 1.2 2.6-.1 1.2.3 1.7-1 2.1-.4 2.6-1.2 2.6-.4 3.4 0 2.6-.5 2.6.4 1.7-.6 2 0 .2.9 1.2-.5.2 1-.9 1.1.9 1-1.6 1.6-.3.9 1.4.4 1.2.8 1.7.6 1.2-.2 3.4 1.1.9 1.5 3.1.9 2.6 1.1 1.7-1.1.2-1.2-.2-.9 1.7-1.2 2.6 0 1.4 1 2.7.6.5.5 3.1.3 3.5.9 1.7-.7 1.7-.5 2.3.5 2 .4 1.2-.4 1.2 3.2-.5 1.6-.6 1.5-1.1-1-1.7-2.8.1 1.2.7 1.4.9 1.6.5 1.2.7 1.3 1.2 2.6 1 1.2 2.3 3.4.5 1.7 0 2.5.3 1.4 1.9 1.4 1.4 3.5.3.9 1.2.9 1.8 1.8 1.9 1.7 1.3.5.4 1.5-.9.7 1.4.8 1.5 1.1 1.8-.5 1.9-.2 2.4-.5 2.5-.6 2.8-.8.2 2.6-.6.2-.6 1.9-1.8 3-1.7 3.5-1.7 2.3-1.7 2.1-1.7 1.8-2.6 1.7-2.6 2.7-1.7 1.9-1.2 1.4-1.2 1.6-.9 1.9-.7 1.1-.7 2.6 1.2.9-.3 2.3.7 2.6 1.2 1.3.2 2.6.1 3.9-.3 2.5-2.4 2.1-2.6 1.4-2.2 2.1-2.4 1.7.6 2.2.4 2.1.2 3-.9 1.2-3.4 1.4-.7 1.2.5 1.3-.9 3.1-1.9 1.4-2 3.4-3.3 2.5-2.9 1.7-1.6.5-1.5 0-3.6-.1-1.9.8-2.6.7-1.4-.7-1.4-.5 0-1.4-.6-1.4.3-1.4-1.5-2.3-1.4-3.2-1.4-2.3-.9-1.2-.5-2.8-.7-3.7-.8-1.6-1.4-2.6-2.1-3.4-.5-2.3.2-2.2.7-2.7.5-1.7 1.9-2.7.3-1.7-1-2.7-.3-1.7-1.2-4.3-.2-.5-.5-1.4-1.4-1.9-2.2-2.5-1.1-1.8-.7-1.2.9-1.9.3-1.3.6-2.2 0-1.5-.7-1.4-.9-.8-1-.4-2.1.4-1.9.1-1-1-.7-1.3-1.2-1.2-2.8 0-2.7.5-2.8 1.1-2.5 1.1-1.9-.6-2.6-.2-5 1.5-2.6-1.1-3.1-2.5-1.2-.8-1.5-.7-1.4-1.6 0-2-1.6-1-1-1.3-.8-.7-1.6-1-1-1.4-.2-1.4 0-1.4-.7-1.3 1.2-2.3.7-4.4-.3-1-.4-2.1-1-1.1.3-1.7 1.1-1.5.8-1.9 1.2-1.2.7-1.8.5-1.4 2.3-2.3 1.9-.9 1.7-1.2 1.7-1.4.7-1.4-.4-1.4 1.1-2.3 1.5-1.6 2.4-1.2 1.2-1.8.6-1.2z"/>
<path d="M336.8 102.3l1 2.5 1.1 3.3-.6 1.3-1 1.7-.3 2.1-1.4 4.1-1.2 3.3-1.4 4.4-1.7.6-1.7.7-1.9-1.1-.5-2.5-.7-2.6 1-2.1.9-2-.7-2.6 0-2.3.7-1.4 1.9-.5 1.3-.4 1.2-1.2 1.2-.7.6-1.8 1.3-.7.9-2.1z"/>
<path d="M310.8 26.1l1.2-2.1.4-1.1.7-1.4.6-1.4-.1-1.9.7-1.4-1.2 0-1.6-.4-1.9 1.1-1.7.2-2.6-1.3-1 .9-1.9 0-2.2-.5-1.8-1.6-1.7-4.4 75.7 0 0 26-14.6 0-3.5-.3-1.7-.4-2-.3-.6-1.6-1.2-.7-1.3.7-1.2.4-2.3-.6-1.7-1-1.7-.9-1.1-1.6-1.2-1.4-1.2-.9-1.7.2-.8 0-.6 1.1 1.2 1.5.7 1.4 1.2 1.1 1.1 1.1.1 1.5 1.1 1.1.3-1.8.9-.1.2 1.5-.6 1.1.6.5 1.7.2 2.4.2 1.2-1.2 1.4-1.3 1-1 .5-.4 0 2.3.5.9 1.4 1 1.7.6 1.2 1.2 1.1.7-1.4 2.6-.9 1.1-1.2 2.3-1.7.7-.5 1.2-1.7.4-.9.5-2.6 1.2-2.2.6 0 1.4-2.1.8-2.6 1.1-1.5 1.1-1.9.1-2.6.9-1.7 1.1-1.7.3-1.2-.2-.5-2.2-.4-1.8-.2-1.8-1.2-1.7-1.3-1.8-.7-1.7-1.4-1.8-1.4-2.1-.1-1.4-1.1-1.8-1.7-2.3-1.7-3-1.4-2.2-1-1.5-.4-2.4-1.2-3.2z"/>
<path d="M292.4 19.1l1.4-.1 1.2-.1 2.2.2-.5.5-2.2.1-2.1-.6z"/>
<path d="M307.6 19.8l1-.9 2.9-.5-1 1.2-1.7.7-1.2-.5z"/>
<path d="M343.7 59.2l2-.2-.5.6-1.2 0-.3-.4z"/>
<path d="M306.7 82.1l2.4-1.4 1.4 1 .2 1.6-1.4 2.3-1.4.2-1.4-1.4.2-2.3z"/>
<path d="M302.2 87.2l.7 3.7 1.4 2.6.3 2.7.9.1-.7-3.7-1.5-3.5-.7-2.1-.4.2z"/>
<path d="M310.5 97.9l.5 3 .5 2.3 1 3.2-.8-4.1-.5-3.1-.7-1.3z"/>
<path d="M248.9 19.6l.2 2.6-.5 2.3-3 .9-2.5 3-6.1 2.3 0 1.7"/>
<path d="M229.3 32.4l7.7 0"/>
<path d="M237 32.4l0 3-5.6 0 0 4.4-1.9.9.1 3-6.8 0"/>
<path d="M237 33.2l6.7 4 10.4 6.5 3.4 4.1 1.7-.4 2.8-.5 2.9-2.5 7.6-4.6"/>
<path d="M243.7 37.2l-2.9 0 1.7 15.1-10.1 1.8-1.4 1.4"/>
<path d="M224 52.3l3.1-.3 3.9 3.5"/>
<path d="M231 55.5l1.4 3.9-1.7 0-2.3-.4-5.1.4"/>
<path d="M232.4 59.4l4.1.3 1.4 3.4.3 1.7.7 1.6-1.2 1.2-.3.6 1.7 5.3"/>
<path d="M229.3 64.8l3.4-1.2 1.6 2.8-.4.7-1.7 2"/>
<path d="M234.3 66.4l2.2 1.6 1.2-.4"/>
<path d="M242.5 62.9l1.4-2.6 2.9-2.9 4.3-2.8 3.1-.3 4-.6 1-2.2 0-4.1"/>
<path d="M238.2 63.2l4.3-.3 4.7 1.4.3 2.8-1 3.2.5 2.1"/>
<path d="M247.2 61.8l4.8 0 1.5 0 2.3-1.2-.4-1.8-1.7-1-1-1.2-1.6-2"/>
<path d="M251.8 61.7l1.1 4 .1 4.8"/>
<path d="M254.6 61.8l.2 3.6.1 4.9"/>
<path d="M256.8 60.1l1.4.5 0 2.6-1.6 2.2 0 4.7"/>
<path d="M258.2 60.6l1-3.2 4.5.7 3.8.6 5.7-.6 2.2-1 3.3-11.1.6-6-2.9 1.6-3.9-1.8"/>
<path d="M276.4 59.2l.7 1.8-2.2 2.8-1.9 2.4-1.6 3.4-2-.5-2.6 3.7"/>
<path d="M279.3 40l14 6.9 0-.9 1.7 0 0-3.5"/>
<path d="M293.3 46.9l-.2 6.7-2.6 3-.7 2.4 1.6 2.3-.9.7"/>
<path d="M276.4 59.2l.4 2.1 2 2.3-.7 1.8 2.5 2.2 3.4-.5 2.6-1.9 2.7-2.7 1.2-.5"/>
<path d="M278.8 63.6l-2 6.7 1 1.4 2.1 5.6-.2.7"/>
<path d="M279.7 78l3.1-3.1 1.2-1.3 1.4-1.4 2.5 1.4 2.6.6 3.5-2 1.5-.2 3.6 0 2.8 1.5 3.1 1.5"/>
<path d="M290.5 62l2.1 3.9 2.6 1.6 3.9 4.5"/>
<path d="M295.2 25.6l-.2 16.9"/>
<path d="M271.8 22.9l-2.6 5-.2 5.8-.7 1.4 1.4 3.2 2.8 1.5"/>
<path d="M266.4 16.3l-.5 4.9 2.1 3.3 1.2 3.4"/>
<path d="M295 42.5l20.5 0"/>
<path d="M291.4 61.3l5.1 1.8 1.9 1.2 4.5-.9 2.1.7 3.2-3.8 2.5 4.2"/>
<path d="M314.8 56l-.4 2.3-1.7 1.6-1.2 2.8-.8 1.8 0 1.9-1.9 1.1 3.9 4"/>
<path d="M318.2 49.5l-.8 1.8-1.9.3-.7 4.4 2.4-1 2.4.5 2.7.9 2.5 2.6 1.3-.2"/>
<path d="M323.9 61.7l1.7.3 3.1 4.2 5.5.9-5 5.3-3.2.7-1.9 1.2-1.2 0-.7-.7-2.1 1.4-2.6-.1-2.2-1.4-1.6-.7-1-1.3"/>
<path d="M323.9 61.7l1.7-.7"/>
<path d="M322.5 84.2l0-7.9 1.6-2"/>
<path d="M305 75l.7-.5 3.7-.2 1.1-.5 2.2-2.3"/>
<path d="M310.5 73.8l1 5.1-1.2 2.1.2 2"/>
<path d="M305 75l-1.4 3.4-.7 3.9 0 1.4 1.4-.6.2 2.3-2.1 1.6"/>
<path d="M310.5 83l6.3 3.7 2.6 2.8"/>
<path d="M304.5 83l2.2 0"/>
<path d="M279.7 78l2.9 6-2.6 2.3-1.5 1.4-1.9 1.9-3.4 2.3"/>
<path d="M284 73.6l-1.2 8.7"/>
<path d="M276.9 77.3l-2 0-3.5-.1-2.5 0"/>
<path d="M271.4 77.2l0 2.2-2.9 0"/>
<path d="M276.9 77.3l-.8 1.4.5 3.2-2.1 3.5-1.9-.7-1.5 3.4"/>
<path d="M273 91.4l1.4.2 5.6 0 .6 3 1.5.9 2.6-2 1.7 0 3.1.5.3 4.8 3.3 1.6.2 3.7-3.5 0 0 5.6 2.1 2.3-4 1.4-3.6-1.6-9.1-.7-3.1.5"/>
<path d="M293.3 104.1l0-3 2.4 0 1.9 1 1.2-.5 1.9 1.4 2.2 1.6 0-1.9-1.7-2.1-.2-3.2 3.8-1.6"/>
<path d="M302.9 104.6l1.2 3.9-2.6 1.6-3.1 2.6-2.9-.2-3.6-.5"/>
<path d="M304.8 95.8l3.8 1.9 1.7.4 1.2 3.3 5 .2 5-1.9"/>
<path d="M309.3 105.8l-.9-.8.4-1.6.5-3.2 1-2.1"/>
<path d="M304.1 108.5l.2.9 4.3 1.2-.4 4 .2 2.3-2.7 3.5-3.1-.3-3-2.8-2.7-2.3-1.4-2.5"/>
<path d="M312.5 106.4l1.2 1-.1 2.1-1.4 1.3-1.2-1.4-1.7-3.6-5 2.9"/>
<path d="M305.7 120.4l1.3 3.7 0 3.4 1.6.9"/>
<path d="M287.9 113.4l.2 6.5-1.7 0 0 4.9 0 6.4-4.5.7-1.5-.4"/>
<path d="M286.4 124.8l1.2 1.3 3.6 0 4.8 0 2.1-2.3 4.5-3.7"/>
<path d="M286.4 131.2l1.7.5 2.6-1.2"/>
<path d="M298.4 133.3l1.2-1.2 2.5 0 .5 1.7-2.1 1.3-2.1-1.8"/>
<path d="M305.3 126.6l1.9.4-.3 2.1-1.6.1-.3-1.4.3-1.2"/>
<path d="M312 29.3l1.9.5 1.7-2.3 1.8 0 2-3 3.1 1.4 6.4 3.9 3.1.2 2-.5"/>
<path d="M314.8 24.4l4.6.1"/>
<path d="M313.1 22.9l.1.7 2.1.8 3.4-2 3.8-1.7.7-2.9"/>
<path d="M332 30l3.2 1"/>
<path d="M326 51.3l1.7-.7 3.4.3 1.7.6 3.5-2.9 5.1-.8.9 2.6 1 1.6"/>
<path d="M341.4 47.8l5.2-1.8 1-3.5-.7-1.3-4.4-2.6"/>
<path d="M347.6 42.5l.9-3.5.5-1.6"/>
<path d="M334.6 28.4l-1.1-2.3-1.9-2.6-1.3-2.1 0-3-1.8-3.2"/>
</g>
<path d="M217.6 145.9V148.1" stroke="#222" stroke-width="0.8"/>
<path d="M234.8 145.9V148.1" stroke="#222" stroke-width="0.8"/>
<path d="M252 145.9V150.1" stroke="#222" stroke-width="0.8"/>
<path d="M269.2 145.9V148.1" stroke="#222" stroke-width="0.8"/>
<path d="M286.4 145.9V148.1" stroke="#222" stroke-width="0.8"/>
<path d="M303.6 145.9V150.1" stroke="#222" stroke-width="0.8"/>
<path d="M320.8 145.9V148.1" stroke="#222" stroke-width="0.8"/>
<path d="M338 145.9V148.1" stroke="#222" stroke-width="0.8"/>
<path d="M214.1 134H209.9" stroke="#222" stroke-width="0.8"/>
<path d="M214.1 116.4H211.9" stroke="#222" stroke-width="0.8"/>
<path d="M214.1 98.8H211.9" stroke="#222" stroke-width="0.8"/>
<path d="M214.1 81.2H209.9" stroke="#222" stroke-width="0.8"/>
<path d="M214.1 63.6H211.9" stroke="#222" stroke-width="0.8"/>
<path d="M214.1 46H211.9" stroke="#222" stroke-width="0.8"/>
<path d="M214.1 28.4H209.9" stroke="#222" stroke-width="0.8"/>
<rect x="214.1" y="18" width="139.6" height="127.9" fill="none" stroke="#111" stroke-width="1"/>
<text x="206.3" y="30.7" font-size="6.5" text-anchor="end" fill="#222">30N</text>
<text x="206.3" y="83.5" font-size="6.5" text-anchor="end" fill="#222">0</text>
<text x="206.3" y="136.3" font-size="6.5" text-anchor="end" fill="#222">30S</text>
<text x="252" y="159.5" font-size="6.5" text-anchor="middle" fill="#222">0</text>
<text x="303.6" y="159.5" font-size="6.5" text-anchor="middle" fill="#222">30E</text>
<g clip-path="url(#clipc)">
<path fill="#f0f8ec" fill-rule="evenodd" d="M19.1 173.3l152.5 0 0 135.3-3-.7.2-.6-2.2.2-4.9 3.3-67.4 0 3.1-1.5.2-1 3-.1.2-.4-2.2-.8-.4-.7 3.9-2.2.5-1.3 4-.7 3-1.3 2.7.5-1.1-2 .3-1.5.6-.3 1.5 2.7 2 1.7 8.5 2.3.4-.4-.9-.5-8-2.4-2.4-2.6-.6-2.6-.5.8-.4-.2 1.9-2.1 4.1-1.4 1.5-1 2.5-4 0-2.5.4-.4 3.2-.1.9-1-1.8-3-3.4-8-.4-5.5-3-4.4-3.5-3.3-3.9-4.8-3.6-2.6-1.5-.4-2.9 1-2.6 1.9-2.5 0-4.4-1.4-2.8-2.5-.8-.3-3 .2-.4.6 2.6 6-1 5-.9 2-1.3 1-2.5-1.3-1.9.3.5 1 3.5 3.5.6 1.5-.7 1-2 .6-1.2-.1-1.8-1.4.1-1.1-.6-1.1-5.5-2.1-6.5.4-9-.5-3-.6-.3.4 1.8 3.1 5 2.1 12-3 1 .2 3.2 2.6.3 1-1.1 0 .7 1 4.9 3.2 1.1 3.3.2 5.5.9 2-1.3 1 2.6 2.1 1.2 1.4-.3 1 2.6 2.6-2 .3-3.5-.6-4.9-3.8-2.7-4.5-2.4-1.6-2-.4-2 .2-2-.9-1.3.7 1.3 1-.1 1 1.1 1.1 1.5.7 4.3.7 6.7 5 6.3 3.5-1.3.5-3-.1-4-1-2.5-1.6-4-.5-1 .6-.3 1.1 0 .5.7.5-2.3.5 10.4 2.6 2.5 2.2 1.5-.1 4.8 4.3.2.8-2.8.2 0 1-1 .5-.4 1.5-7.5 0-1.5-2 .9-4.5-.4-1.5-.8-.9-1.5-.9-.2.3.3 1.5-1.1 2.5-2.3-1-6.7-.6-2-.6-.8-.8.3-.5 2.5-2.3 4.8-.2-7.8-2.4-.7-.6.1-1-.9-.5-4 .1-1.7-2.1-1.8-1-1.5.5-.2 1.5 2.7 2.5 2 4.3 2.9 1.7.4 1-.5.5-1.3.1-1.7-.6-1.9-1.5-2.9-3.4-3.5-.3-2-1.6-.2.3 2.7 1.8 2.7 3.2 5.3 3.2 8.5 2.5 3.5-.4 2.5 1.1-.8 2.6-4.9 0-.3-.8-1.5-.6-5.5-.3-3-.9-5-.7-1.5-.9-2.5-3.1-4-2-1-1.1-1.5-.2-.5-1.6 1.5-.3 1.1.5.3 1 1.6.1 2.5 1.2-.2-1.8-2.3-1.5-.6-1.5-1.3-1.5.4-.3 3.5 2 .4-.2-1.1-1.5-6.8-6.5-2.2-3-8.3-2.9-1.5-1-4.2-5.1.7-.9 2 .8.3-.4-1.1-2 4.8.9 4.5 2 2.5.4 5.5 3 1.5 1.2 0 .5-.5.1-5.5-1.1-2.5.4-2.4-.4-.2.5.9.5 6.2.8 3.5 3.3 2.5 1.4 1.5.5 1-.2.4-1.3-.3-2 .4-.2 6.2 1.7 1.3 1 2.4-1.5-1.4-1.1-5-1.1-3.5-2.7-7-1.9-5.2-3.2-3.3-.5-3-1.1-1.8-2.4-3.2-.9-4.5-2.1 0-95 .5 0zM80.6 182.8l-2.3 3.5.3 1.1 1 .7.5-.6.1-2.2 1.9-1.5-.5-.9-1-.1zM146.8 260.8l-.6 6.5-1.4 2.5 0 2-2.7 2.8-.5.3-.5-.9-1.1.3.5 2-1.5 3 .4 4-.6 1.5 1.6 1 3.6 0-.5-1.5 1.4-1.5-.2-3.5 4.4-1.4 1-1 .3-1.6 1.2-1.6 2-.2 1-1.2-1-2-1.7-7-3.3-2.5-1-.5-.8.5zM38 267.3l-.9 1.7-.5.2-4-1.9-2.9.5-.6.5 4 1.7 3.5 3.5 5.5 3.3-.2 1 2.7 1.1-.1-.6-1.3-1 .3-.5 2.1-.2 4 2.7 5.5.9 2.4 1.6 3 1-5.7-4.5-4.2-.8-3.5-3.4-2-.9-3 .1-2.3-2.5.2-2-.7-1.5-.7-.4-.6.4zM42.6 268.3l-.3 1 .4.5 1.9 1.2 3 .5 1.3.8 2.2 3 5.5.3 1.1.7 2.4 3.6 3.5 1.4.5 0 2.4-2.5 3.1-4.4 1.5-.6 2 3.2 4.5-.1 2.5.7 1.5 3.6 0-2.1-1.7-2.3-3.8-1.8-5.4-4.2-2.6.3-3 3.2-2 .9-1-.3-2-2-4-2.8-2.5-.6-.3.3.6 1 3.7 2 4.8 4 .2.5-.5.7-4.7-3.7-6.8-1.8-2.6-2.2-3.9-2.4-1.5.4zM156.4 271.8l-1 .5-.4 2.5.3 1 1.3.6 3.5-.1-2-3.7-1.7-.8zM165 272.3l.5 1 1.9 1.5.2-.5-.5-1.5-1-.7-1.1.2zM75.3 280.8l.1 1 1.7 1-.5-1.8-.5-.4-.8.2zM62 283.8l2.5.5-1.4-.9-1 0-.1.4zM155.6 289.3l5 3.1 1-.2 1-.9-.5-.7-2.5-.2-4-1.1zM171 299.3l.5 0-.5 0zM162.7 301.3l.9.7 1.2-.2-2.1-.5zM140.6 302.8l-2.4.5-.5.5 1.4.9 1.5-.2 2.3-1.7-.8-.3-1.5.3zM100.8 308.3l1 .5-.2 1 3.5.9-.1-.9-.9-1-1.5-.6-1.8.1zM80.1 273l.7.3-.2.3-.7-.3.2-.3zM19.1 277.7l2.5 1.9 3.5 4.4 6 2.3 2.5 2 .8 3.5-.8 1.4-3-2.3-1.3.4 1.6 4-.3.9-.6.1 2.4 3.5 6.2 2.4 8.5 5.8 4.5 1.3.6.5-.2 1-2.4 0-.5-1.1-2.5.7-1.1-1.6-2.1-1.5-4.3-1.6-6.5-1.4-4.5-5.5-2-1.3-1.5 0-4 1.8-2 .2 0-.7 1.5-.7.8-1.3-.3-.6-2 .1 0-18.7.5.1zM89.6 278.7l1.2.6 0 1-.7.7-.6-.2-.5-1 .6-1.1zM37.1 292.7l0 .6-.4-.5.4-.1zM26.6 301.3l1.5.9 2 3.5 2.5.4 2.5 1.1 1.2 1.1.2 1-.4.3-4-.8-2.5.4-6-2.5-1.6-1.9-.2-1 4.8-2.5zM18.7 307.3l3.9 2.2 5.2 1.3-9.2 0 .1-3.5zM167.6 308.2l.5.1-.4.5 3.9.7 0 1.3-6 0 .3-1.5 1.7-1.1zM88.6 309.7l1.5 1.1-1.7 0 .2-1.1zM33.6 310.2l.8.1.1.5-2.8 0 1.9-.6z"/>
<path fill="#dcf0d8" fill-rule="evenodd" d="M19.1 173.3l41.4 0 1.6 3 3.5 1.6.4.9.6 2-2.6 5.5 1.6 2.5 3 3.2 3.5 1.7 1.5 2.2 2.5 1.5 2 3.8.5 0 1.2-1.4 1.8-.3 2.3-1.7 1.3-2-.4-3 .8-5 2.4-4.5-.1-5.5-1.3-2.5-1.5 1.1-1-.4-.5-1.2.2-1.5 13.4 0 .5 1.5 1.9.9 1.4-.9.2-1.5 70.4 0 0 107.1-1.7-2.6-.9-4-1.3-2-2.1-.7-4.5.7-3.5-2.1-3.5-1-1-1.9-.2-2.5-.8-1.5-1.9-1.5-3.1-1.4-1 .9-.8 6.5-.5 1-1.2 1.1-2.3-.6.3.9 1 .2.9.9-.4 1.8-1.5.7-3.2 0 .8 1 .5 2-1.2 3 .4 4-.7 1.5 1.4 1.1 2.5.5 3-.2 1-.9 2.3-.5-2.6-2.5 1.1-1 .7-1.5 4 3.8 3 1.7 1.5-1.7 5.5-.5 6.7 3.7 3.3 1 0 10.9-1.5.2-3 1.6-2 .5-1.5-.5-3.5-2.7-3-1.4-1.1-1.1-.9-2.3-2-1.1-3.5-3.7-1.7-.4 3.4 6 2.8 2 3.4 1.5 2.5 2.5 2.6 3.6 2 .3 7-1.5 0 4.5-2-.8-3.5.3-1.5.7-2 2-2 .2-1.2-1.3-.8-5.7-.5-.6-1 0-.8 4.8 1.3 4.5-7.7 0-1-2.5-1.8-1.7-.5-2.1 1 .5 3 4.5 1-.5 1.2-1.7-.7-2.8-4-2.7-1.5-.5-2.5-.1-5.5.9-3.5-1.2-2-1.7-2.5-.9 1-2.3-2 1 .7 4.3.9 1 4.5 2-3.6-.2-.3.2.4 1.5 2.9 2.3 7 2 .6.7-7.9 0-1.9-2.5-1.3-.9.9 3.4-2.7 0-.9-1-1.8-.5-.6.5-.2 1-2.2 0 0-1.1-3.5-.4-2.5-2-1.5-.5-2 2.5 0 1.5-7.3 0-.2-1-3-3.5-.2-.5.8-1-.9-1.5.3-.6 5-.8 2.2.4 4.3 1.9 1-.4-.5-.8 7.5 2 5 .2 1.1-.4-6.1-2.2-7-1.6-1.7-1.2-1.3-2.2-.4-2.3.9-.3 2.6 3.8.9.3.6-.3-1.6-.8-1.3-2.7.1-1.5 2.7-.7 4-2.7 2.9-1.1-2.4-2.4-.4-1.6 4.4 0 .9-1.5-1.9-2-4.2-9-.6-6-2.5-4-3.7-3.5-3-4.6-5.5-3.1-2.6.2-3.9 2.3-2 .2-4.5-1.3-3.3-3.2-4.2.2-.7.8.2 1.4 2.6 4.6-.6 2.6-3 1.5-1 1.4-6.3 0 2.4 3 .1.5-.7.3-7.5-.9-5-1.2-2.5.8-1.5-.7-2 .2-.8-1 .8-2-.9-.5-1.6.1-1 1.6-1.5-.6-1.5.8-.8-.9 1.8-1.4-.2-1.1-4.3-1.1-1 .2-.8.9-.3 3.5-1.4 1.4-1-.2-2.5-1.5-.6.8-2.4.9-2.5-.7-6-.2-.5-.5-1.2 1 .2 1.6-5.5 2.3-2-.1-2.3-1.3-.6-2-1.1-.2 0-90.8.5 0zM89.9 186.3l-2.8 1.4-.7 1.6.2 1 1.8 2.5 6.2 4.1 3.6.4.4-1-1.2-3.5.5-2 1.3-2-.6-1.8-1.5-.9-2 1.1-3 0-1-1-1.2.1zM53 256.8l.6 1.3 1 .9.5-.2.3-.5-.3-.5-1.5-1.3-.6.3zM26.1 260.8l-.3.5.3.5 1.6 0 .8-.5-1.4-.9-1 .4zM30.2 262.3l.4.4.1-.4-.5 0zM129.6 264.3l8.5 4.2 1.5-.1-3.2-2.6-5.3-1.7-1.5.2zM132.5 268.3l2.6 2.7 2 .9-3-3.3-1.6-.3zM137.9 272.8l.5 0-.5 0zM129.3 284.8l.8 0-.8 0zM148.9 285.3l3.2 3.1 5.4 2.9 4.6 5.1 1.7-4.1 1.5-1.5.2-.5-.8-.5-5.1-.3-3.7-1.2-4.8-3.1-1.5-.3-.7.4zM144.3 287.3l-.8.5.6.1 1.2-.6-.7-.4-.3.4zM138.2 287.8l2.9.8 1.9-.3-4.8-.5zM132.2 290.3l.1 4.5 2.8-.2 1.5 1.8 3.5 2.8 9.2-.4-3.2 0-5.5-1.8-1.5-1.2-1.5-3.1-1.8-1.9-2.2-.9-1.4.4zM167.6 298.3l0 .5.7-.5-.7 0zM120 298.8l1.3 0-.2-.3-1.1.3zM166.5 298.8l1.1 0-1.1 0zM70.1 173.3l7.9 0-.8 6-1.1.5-1-.4-3.5-4.5-1.8-1.1-.2-.5.5 0zM48.1 265.6l2.4.2-.1.5-1.3.1-1.4-.6.4-.2zM49.1 268.3l1-.1 3 2.9 4.3 2.2-3.8-.5-2.6-1-2.3-2.5-.1-.5.5-.5zM27.6 269.7l2-.3 2.5.9 5.9 5-.4.5-8.5-3.8-1.7-1.7.2-.6zM72.6 269.7l1.5 0 1.2 1.6-1.2.5-1-.4-1.4-1.1.9-.6zM151.6 274.8l1.2 0 1.3 1.5 2.5 1.1 4.5.1 3-1.5 2-.2 1.5 2.5 1.3 1 .4 2.5 2.3.9 0 2.4-.6.2.6.6-1.5.4-3.5-2.5-2-.2-7-4.6-4.7-.7-1.8-2 .5-1.5zM27.6 276.3l7 1.9 4.5 2.2-3-.6-3 .4-3-.8-3.2-2.1-.2-.5.9-.5zM81.6 276.3l.5.5 0 .9-.8-.9.3-.5zM39.1 277l2.3 1.3-1.2 0-1.3-1 .2-.3zM19.1 278.6l.4.2-.9.3 0-.7.5.2zM24.6 279.2l6 3.3 6 .8 1.2.5 5.8 7.5 2 1.6 3.4 1.4-.4 1.4-2 .1-3.5-2.5-5.5-5.3-2.5-3.5-8.4-2.7-1.3-1-.8-1.6zM19 280.3l1.7 2.5-.6 2.4-1.5 0 0-5.2.4.3zM49.1 280.4l5.5.9 4 2.1-1 .3-6.5-1.2-1.8-1.2-.2-.9zM80.1 282.5l.3 3.3 1.1 2-.4.1-1.6-2.6.1-2.1.5-.7zM63.6 286.4l1.5.1.7.8-2.1 0-.6-.5.5-.4zM50.1 287.8l3.3.5.9.5.2 1-.9.7-4-.3-.2-1.9.7-.5zM83.6 289.6l.6.2-.6-.2zM23.1 290.7l4.5 2.2-3 .1-4 1.9-2 0 0-1.6 1.5.3.8-.3 2.2-2.6zM80.6 290.6l6.9 3.7-3.4-.5-3.4-2.5-.4-.5.3-.2zM76.1 291.2l7.8 4.6.9 1-3.6-1-4.7-2.5-.9-1.5.5-.6zM25.6 295.7l1.4.1 1.5 1 2.9 4-.8 0-3-3.3-2-1.2-.3-.5.3-.1zM77.6 300.6l2.9.7 1.6 1.8.7 5.2.6 1.5-.4 1-2.6 0 .3-2-.3-1-1.8-.4-.4-.6.3-3.5-1.2-2.5.3-.2zM26.6 304.7l3.2 3.1-2.4-1-.9-1 .1-1.1zM48.1 305.2l2.5.5 1 .6 0 .5-2 0-1.3-1-.2-.6zM67.1 308.1l1.4.2-.3 2.5-1.6 0-.2-2 .7-.7z"/>
<path fill="#c8e8cc" fill-rule="evenodd" d="M19.1 173.3l20 0 .1 4 2.2 3-.2 2.5 1.1 4 0 .5-1.7 1.9-.2 2.1.2 2.5 1.5 1.9 1 .5 2-.2 2.5-1.1.9-4.1 1.2-3 5.4-.1 2-1.5.5.1 1.5 2 2.5.3 4.5 3.3 2.5 3.4 2.2 1.5 5 7 2.3.6 4.9-1.1 1.7-3 5.4-2.4 1.5.4 2 1.9 2 .8 6.5-.2 5 1.2 2-.2 1.4-2 .1-1.5-.5-.9-2.5-.3-1.5-2.2-1.2 1.9-1.3.8-1.9-.3-.1-1.1 4-3 1.2.1-.2-.8-1.1-.7.1-1.2 3.5-.4 4-3.1 1 .2 1.5 1.3 3-2.2 4-.3 3 1.1 2.7-1.4.5-.5.2-2 1.2-.5.5-1-.6-.5-2-.2-.6-1.3-1.7-1-.3-1.5 1.1-1.2 2 1.1 2 .1 1.5 1 1.5-.5 4 .1 2.2-1.6-.1-3 4.4 0 .3 1 1.2 1.5-.8 2 .1 2.5.7.6 1.5.1 1-.8.5-1.4 0-3.4-1.2-2.1 11.2 0 .5 1.5 1.5.8 2.5-.8.5-1.5 8 0 0 103.8-1-.8-1.2-3.5-1.8-1.8-2-.7-3.5-.1-1.5-.6-5-3.1-4-4.7-4-2.2-3-.3-1.1.5-.1 1 1.5 1.5-.3 3.5-1 1.2-4-.7-9.5-3.4-1.5 0-1.4.9 1.5 1.5-.3 1 .8 1.5 1.6 1.5 6.2 4 2 2.5-1 4 .3 3.5-.7.6-1-.4-1.6-1.7-.2-.5.6-1.5-1.8-1.9-.5-3.1-2-1.1-1.1.1-.3.5 2.4 5.5 1.8 1.5.8 1.5 4.4 3.3 2.9.7-.3.5-1.1.1-4.5-.9-5-3.2-.5-.5.3-1-1.8-1.8-1-.2-.3.5 1.3 2-.5.5-2-.8-.5-2.7-2.1-2.5.3-1.5-1.2-.7-1.5-2.2-.1-5.1-1.9-4.4 2 .4 4 2.8 1.3-.3-2.3-1.3-3-3.1-4.8-1.1-1.6-2.5-1.6-5-4.5-.3-3.5-1.3-2.9.6-2.6 1.8-2.5.5-4.1-1.3-2.4-2.9-1-.6-4.5.1-1.2 1.4.7 3.5-2 3.1-.7-.1-1.7-3-.6-.3-3 .7-1.3 1.6-3.7.7-1 1.1-.7-.3.4-1-1.8-2.5-1.4-.6-3-.1-6.5 1-3.5-.4-9 .3-2.5-1.6-7 2-3.5-.6-.8-1.5-.7-.4-1.1.9-.1 2-.8.8-2-.4-2.5.2-2.5-1.4-3.5-.1 0-81.1.5 0zM164.4 175.3l-.5 1 1.2.9.5-1.4-.5-.6-.7.1zM167.6 175.3l-.5 1 .9 1-.4 1.5.5.5.8-.5-.7-1.5.1-1.5-.7-.5zM141.1 186.3l-.6.5-.2 2.5-.9 1.5.1 1 .8 1-.2 1-1.5 1.8-2 1.4-2 .5-.6.8 0 1.5 1 3 .6.5 1.5 0 5-1.5 1.6-2 1.9-.7 1.2-1.3 1.8-.9 5.2-4.6-2.2-1.7-3.5-.7-2.5-2.8-2.5 0-2-.8zM133.9 192.8l-.6 1 .3.9.5 0 .7-1.4-.3-.5-.6 0zM90.4 203.3l-.9 1-.2 1 2.3 1.8 1.6-.8.4-1.5-.4-1-1.6-.6-1.2.1zM120.4 241.8l-.3 1 1 1 .5-.4.2-1.1-.4-.5-1 0zM116.3 242.8l-4.2.9-1 .7 0 1.6 1.5 2 1 .3 1.5-.8 1.5 1.3 1.5-.2.9-.8.4-1.5-.6-3-1.2-.7-1.3.2zM121.5 254.8l-.9.7-3 .9 0 1.7 1.5.9 1.5.2.1-1.4.5-.5 2.9.2 2-1.2.5-.1 1.5 1.5 1.2-.4-.2-1.3-1.5-1.6-3 .5-2-.5-1.1.4zM123.1 260.8l1.5 1.2-.7-1.2-.8 0zM45.1 173.3l2 0-.5 1.5-.5.3-1.2-.3-.3-.5.5-1zM53.1 173.3l1.4 0 .6 4.5-.3 1-.7.5-1.5-.4-1.7-2.6 2.2-3zM133.1 173.3l2.2 0-.7 2.9-1.5-1.4-.3-1 .3-.5zM46.1 185.7l1-.1.5.7-1.4 0-.1-.6zM65.6 257.6l2.5 1.2-.2 1.5-.8-.1-.7-1.4-1.4-.5.6-.7zM35.1 261.8l.8 0-.8 0zM132.6 266.7l-.4.1.4-.1zM135.6 268.7l6 2.3.7.8-.2.5-1.5.5-1.5-.3-2-1.7-1.5-2.1zM30.1 270.8l.6 0-.6 0zM162.6 278.3l1 .5.5 1.2-1.5-.2-1.8-1 1.8-.5zM147.6 282.7l1.5.3.9.8-1.4 0-1-.5 0-.6zM123.1 285.3l4.5.7 6.4 1.8 1.1 1 2.9 1.5 1.6 2.5 0 1.3-1.7-2.3-2.3-1.8-10.5-2.8-2-1.1 0-.8zM146.6 285.7l1.5 0 .7.6-.2.4-2-.2-.5-.2.5-.6zM163.6 285.7l.6.1-.6-.1zM38.1 286l.6.8-.1.8-.7-.8.2-.8zM164.6 286.1l7 2.2 0 1.3-2 .1-5-3.6zM162.1 287.6l2.6.7-3 0 .4-.7zM145.1 288.8l1-.3.9.8.1 1.8-1 .6-1.6-1.4.6-1.5zM153.1 289.7l1.8.6 1 1-2.3-.8-.5-.8zM126.6 291.2l2-.2 1.2 1.3-2.7 2.6-1 .5-3.8-1.1-.1-.5.9-1 2.1-.5 1.4-1.1zM142.1 292.1l3.5.2.6.5-.1 1.5-1 .7-2-.2-1.5-1.5-.1-.5.6-.7zM157.1 292.3l4.5 5 1 1.7-4.8-3.7-.7-3zM169.1 292.6l2.5.2 0 2.7-2.5.1-.5-.4-.2-1.9.7-.7zM119.1 293.3l1-.1 1 .6.3 1-.4.5-3.9.3-1-.8.5-.9 2.5-.6zM114.1 296.2l0 1.2 0-1.2zM145.1 297.3l6.5-.1 6.4 1.6 1.7 1.5 1.9 3.6 1.8 1.4-.8.7-1.5 0-.9-1.7-.5-2.5-2.1-2-8.5-2.4-2 .3-2-.4zM114.6 297.8l0 .6 0-.6zM115.1 298.6l0 .5 0-.5zM124.6 298.7l1 .4 1.3 2.7 1.7 1.8-4-1.6-6.2-1.2 3.7-.7 2.5-1.4zM143.6 299.8l9-.1 1.5.7.9 1.4-.9.4-8-1.6-3-.1-.7-.2 1.2-.5zM164.6 300.1l1 .2-1-.2zM105.6 303.2l2.5-.3 2.6.4 2.9 2.2.6.8-2.5 2.5.6 2-3.3 0-.4-2.5-1.4-.5-1-1 0-1.5-1-2 .4-.1zM125.6 305.8l3 .4 1.2 1.6-5.7 0-.4-.5 1.9-1.5zM120.6 306.7l.5.1-.2.5-.4 0 .1-.6zM135.6 310.2l1-.2 1.5.8-2.1 0-.4-.6z"/>
<path fill="#a6dcbc" fill-rule="evenodd" d="M19.1 173.3l6.4 0 .4 1.5.7.6 1.9-1.1-.1-1 7.1 0-.9 4.5-.8.5-.7-1.7-1-.8-.2 2.5.3 1 3.9 1.3.9 1.2 1.3 4-.5 5 3.3 7.9 4-.6 3 .9 2 3.6 4 2.2 4.6-1 1.4-1.3 3 .5 3-2.5 2.5-.6 7 5.7 4 .2 2.5-.8 2.5.2 1 .4 1.5 1.4 2 .6 1.5 1.7 1.5.5 1.5-.3 1.5-1.4.6-1.3.4-2.8 1-1.3 4.5-.8 4.5 1.4 2.5 0 3.9-2 2.2-4-.5-3 1.9-1.4 2-2.5 2.5-1.4 2.5-.7 4 1.1 2 1.9 1.9 1 .5 2-.5 3.5 4.1 6.9 2-.1 8-2.4 3-.2 1-1.1 1-2.7 5.4-4.4 3.7-2 .6-1-1.1-1-3.1-.5-1.7-2-2.4-1.5-1.4-4.5.7-2 0-2 3.3-1.8 1.5 0 1 .6 2.5 4.3 2-.9 2.5 1.3 2 .3 2 1.6 2-.6 2 .1 0 88-7-1.8-1 .3.1.6-1.4 0-.8-.5.6-1-1.4-2-2.1-1-3-.4-4-3.2-6.5-4-6.5.8-3-.4-1.5 2.1-1 .4-1.3-1.8-.5-2-1.4-2.5-.5-2.5-1.3-2-.3-7.5-4.2-3.1-8 2.7-4.7.4-1.6 2 .2 5-.7 1.5-1.2.6-3 0-2 .6-2.5 1.8-1.8.5-4.1-1-1.2-1-1.6-2.5-2.3-.7-4 .5-.9.7-1.1 2.4-4.5-.1-2 1.1-2 1.8-1.5.4-1.5-.4-2-1.8-1.5-.5-8.5.6-9-.1-2.5-.2-4.5-1.7-2-.1-3 .7-7.5-1.6-3 1-2.5 1.4-3-1.2-4 .7 0-78.9.5 0zM19.9 177.8l-.1 1.5 2.3 2.1 1.2-2.6-1.7-1.4-1.7.4zM25.1 179.8l0 1.8 2.1 1.2 1.1 3 .2 2 1.1.2 1.5-.5 2 1 1.5-.3.5-.9-.1-1-1.6-1.5-2.4-3.5-2.4-1.2-1.5.1-1.5-.7-.5.3zM53.1 190.3l3-.3 2.4 1.3-.1.5-1.3 1.5-1 .1-3.5-1.1-.4-1.5.9-.5zM63.1 193.6l1 .2.1 1-.6 1.3-1 .6-1.2-1.4 1.7-1.7zM123.1 266.3l1.2 1-.4 2 1.2 2 6-.4 1.5.8 1.4 1.6-3.4-.8-4.5 1.9-2.8-.6-1.3-2 .5-4.5.6-1zM139.1 271.2l1.1.6-.7 0-.4-.6zM135.1 274.5l.5 1-.5-.2 0-.8zM125.6 286.2l1.6.1 4.1 1.5-1.2.1-4.5-1.7zM131.6 288.1l.9.2-.9-.2zM107.6 304l2.5 0 1.8 1.3-1.8.8-1.5 0-1.2-1.3.2-.8z"/>
<path fill="#6ecac0" fill-rule="evenodd" d="M154.1 180.1l.6.2.5 1-1.1 1.2-1-.7.2-1 .8-.7zM162.1 182.8l1 .7 1 2 1.5 1.3 1.5 3.3 1 .1 3.5-1.2 0 80.3-7.5-2.2-3-2-7-2.9-5.7-3.9-2.8-4.2-5.5 1.2-6-1.9-2.5.2-1.6-5.3-1.4-7.3-3.1-2.7-2.4-1.1-3 1.9-2 .7-2.5.7-3.5-.3-2.3.6-2.2 2.5.1 4-.8 2.5-4.3 1.4-4 2.3-3.5-.7-1.5-1.1-1.5-2.7-3-1-4 .5-4.5 1.9-3 .7-4 2.8-1.5-.3-1.6-1.3-1.4-.5-5.5 0-1.5-.5-2.5.6-2-1.3-2 .8-4.5.4-2.5-1.6-1.5.2-5-.8-3.5.7-2.5-.8-2 .2-3.5-.6-5 1.5-1.5-.4-1.5-1.6-2.5 1.7-1.5.4 0-51.2 4.3-4.2.1-.5-1.1-1-.2-1 1.9-3.1 1 .8 1.4 3.8 1.1.2 1.5-1.1 1.5.4-.4 2 .4.4 2-.6 2-1.4 1.5.1 3 3.2 2.7 5.8 2.8 0 3 2 2 0 5.5 1.8 3.3-1.3 4.2-.9 2 .9.4 2 1.1.3 3.5-.3 1.5-1.8 2.5.4 2 1.2 7.5-1.5 2.5 1 1.5 1.3 2 .6 1.5 1.6 3.5.4 1.4-.7 1.1-1.5 2-4.5 2-.9 7 1.2 3.5-.4 3.5-1.1 6 3.4 6-.3.4-.4-.4-.5-1 .4-3.5-2.2-1.2-3.7-2.6-1.5 0-3.5.4-1 1.9-1 2.3-2.5 1.7-.8 2.5 1.5 2.8 3.3.4 4 2.8 3.5 1.4 3.5.6.5 7.7-2 6.6-.5 1.4-1 1.3-3.5 4.5-3.8 1.5-.6 2.5.3 2.2-1.4.3-2.5-.5-1.4-2-1.2-3.5-.7-.8-1.7.2-1 1.1-1.3 3.5-.2 1.5-.5zM133.7 214.3l-1.6.5-2.5 2-.8 2.5-.1 4 .4 1.1 2.1 1.4 1.9 3.9 1 .4 1-.5 1-1.5 2.2-.8 2.1-3-2-4.5.1-3-1.4-.7-1.2-1.8-2.2 0zM21.6 188.7l1.1.1.3.5-1.4.4-.5-.4.5-.6zM65.1 204.7l.5-.3.2.4-.7-.1zM126.1 272.7l1.3.1-1.3.8-.8-.3.8-.6z"/>
<path fill="#7ccfc2" fill-rule="evenodd" d="M124.1 191.2l1.7 1.1 2.1 3 1.1 3.5 3.4 4 .7 3.8 1 1 9-2.8 8 .3 1.1-1.3.5-4 3.4-3 1.5-.4 2.5 1.6 1.5.3 3.3-1.5 2.2-4 2.5.5 2-.4 0 75.4-4-.4-2.8-1.1-3.2-2.3-3.6-1.2-3.9-2.1-4.5-3.2-1.5-2.7-.5-3.8-1-.7-2 0-.8-1 0-3 1.1-2-.4-3-1.6 0-.4 4.5-1.9.9-.7-3.9 1.2-2.2.6-.3-3.8-.5-.5.5.3 2-.8 1.5-.2 3.5-2.1 1-2 0-.8-1-.4-3.5-2.8-5.3-3.4-2.2-2.1-2.3-1.5.8-1.5 2.6-2 1.1-2.5.6-5-.6-1.5.3-3.1 3-1.4 2.2.1 1.3 1.3 2.5-.3 1-3.6 1.6-2.5 1.9-1.5.3-1.5-.3-2.2-1.5-.9-2.5-.9-.6-3.5-1.1-5 .1-1.5-.9 0-3.5-.6-1.5 1.7-2.5-.6-1-3.5-.5-2.5 1-4.1-2.5-3.9-1.5-3.2 0-5.8 4-2.5.8-2.5-.2-2-1.8-3-1.6-6 2.4-2 0-3.5-.9-4.5.6-3 1.2-1.5 2-2.3 1-1.2 1.2-2.5-.5-1.5-2.3-2.5.7-1-1 0-33.2 2.5.4 4 2 4 1 2.1-.8 1.4-2.1 4-.7 6 1.5 2.5-.7 2.5.8 3.5 3.1 2 .4 6-2.9 2.5 1.5 4.5.6 2-.1 3 .8 2.5-2.1 4.5.8 1.7-1.9 2.3-.8 2.5.9 2 2.7 1.8 1.2 4.7.8 2.5-1.4 3-4.8 3-1 2.5.5 5.5.1 2 1.4 3.5.4 2-.5 2.5 1.3 3-.6 5 0 1-1.2-.3-3-1.7-3.1-2.4-1.9-.6-2-1.9-2.5.8-2.5 1.6-1.1zM131.9 208.8l-1.3 1 .2 2-.7 2-2 1.5-.7 2.5-1.6 2 1.1 5 2.2 4 .2 3-.7 4 1 1.4 1-.5 1-2.1 1.8-1.8 2.7-1.4 1.5-1.6 2.1-1 2.2-4.5-1.8-5 0-3-.5-1.1-5.7-3.9-.6-2.5-1.4 0zM145 237.8l-.4 1.1 1.5.2.3.7-.9 2 .2.5 1.4.3 3-1.4.2-1.4-1-1-4.3-1zM27.1 201.5l.5-.2.3.5-.3.8-.5-.3 0-.8zM70.1 240.1l1 .2.2 1-1.7 2.7-1-.5-.1-1.2.6-1.4 1-.8zM30.1 241.3l1.5.4 3.5 2.5 1-.6 1.5-2 3.5 1-.6 1.7.3 2.5-1.7.9-2.5-1.5-1.5.7-3-1.1-.5-.5-.4-2-1.5-1-.1-.6.5-.4zM47.6 243.1l.7.2.3 1.2-1-.6 0-.8zM56.1 244.5l2.3 3.3-.3.5-1.9-1.5-.6-2 .5-.3z"/>
<path fill="#48b0d8" fill-rule="evenodd" d="M168.1 196.3l3.5 1.4 0 36-2.5-.4-5-4-1.5-.4-2.7.9-1.7 3.5-1 4-2.6 2.3-3-1-6-3.2-2.5-.3-.1-1.8-.9-2 .1-1.5 2.3-1.5.5-1.5-2.9-5.2-.8-2.3-.6-5 .3-4 1.8-1.5 1.3-2 2-.9 1.5 0 3.5 1.4 1.5-.5 1.1-2 .4-3.9 1-.9 3-1.3 3.5 1.1 3.5-1.5 3-2zM126.6 197.3l.5.5 0 1.2-.8-.7.3-1zM128.6 200.9l1 .2 1.6 1.7.3 1-.4 1.2-1-.3-1.5-2.7 0-1.1zM105.1 208.2l1.5.6 1.1 3 .9.6 1.5-.4 3-2.1 3 0 2.5 1.3 4-1 3 0 1.2.6-.4 4.5-2.4 3-.2 2 .7 5.5 1.1 1 1.6 3 .2 3.5-.8 1.4-.5 0-1-3.4-1.5-.3-3 2.3-2 4-4.5 1.1-2.1-.6-2-3-1.4-.7-7 1.9-.5 1.4 2 .6 1.6 1.3.2 1-.8.5-1.5-.6-2.5-.1-1 .7-.1 1 1 2.5 2.2 1.5.9 2-.4 1-3.1 3.1-1.7-.1-1.1-2 .3-1.5 1.2-1.5-4.7-1.3-2.5.3-2.5-.9-1.5.6-1-.7-.4-2 .4-1 2 .9 1.5-1.6.1-1.3-.8-1-6.3-2.3-3.5-.7-3 .2-3-1.2-6-1.5-2 .3-5.5 3.8-2 .5-2-.1-3-2.2-3-1-5.5 2.5-1.5 0-3.5-1.1-5.5.7-3 1-3.5 2-2.5 0-2-.9-4-.1 0-30.2 2 0 8.5 2.5 5-1 3 0 2.5-.5 6 0 2 .6 2.5 2 4.5 2.1 2.5-.3 1.5-1.7 1.5-.7 11 1.6 6 0 2.8-.8.7-2 1.5-.8 5 4.1 5.5.8 2.5-.7 4.5-4 2-.9 3.5-.6zM136.1 235.3l1.3 1-.3 1.3-2.5.6-1.5.9-.4-.3.4-1.2 3-2.3zM164.6 237.7l5 .4 2-.6 0 27.6-4-1-.5 1-.5-.2-4.5-3.3-4.5-.1-5.4-2.7-1.9-2-.8-2.5-.1-3-2-3.5.2-1 1-.8 3.5-1.7 5-1.2 3-3.7 4.5-1.7zM169.1 265.8l1.6 0-1.6 0z"/>
<path fill="#2a8ec8" fill-rule="evenodd" d="M168.1 198.7l3.5.2 0 3.6-.5.8.5 3.1 0 18.8-2-.9-2.4-2-1.6-2.9-.8 1.4 1.3 1.5-1 2.5-4.5 2.5-3.5.8-1.5-1.4-3-.4-.4-1.5-.6-.6-2.5 1.1-1-.2-4.5-4.2-1.2-2.1.4-3.5 1.5-2 .5-1.5.8-.5 3.1-.5 1.4-1.3 2 .6 2-.6 2.8-1.7-.1-3.5 1.3-2.5 4-.2 6-2.9zM159.3 210.8l.7 3.5-2.4 1.7-1.2 2.8.4.5 1.8.1 2 1.1 1.3-1.7 1.9-1 .8-3-.6-1-2.2-1.5-1.2-1.7-1.3.2zM19.1 210l12 1.9 11-1.5 3.5.1 1.5.4 6.5 4.2 4.5.4 2-.7.7-1 1.3-.6 2-.1 8 1 4.5-.1 5.5-1.1 10 3.5 3-.9 2-1.8 2.5-1.3 2 2.4 3 .6 3.5-.1 7-3 2.5.8 4.5 0 2.1 1.7-3.2 5 .4 2-1.2 1.5 1.7 6.5-2.9 1.5-.9 3-2.2 0-2.3 1.7-2-2.7-2-.6-3-.6-2.5.6-3.5-.1-2.5.5-2 .6-.4.6-.2 2.5 1.1 2-.7 1-1.3.3-3-1.2-.8-2.1-.7-.4-3.5.3-6.5-1.8-4 .1-10-2.3-1.7.6-2.8 2.2-3 1.6-2.5-.2-3.3-2.6-2.7-.8-2.5.7-3.5 1.9-1.5-.1-3-1.4-3.5.9-3 .1-6 2.6-1.5-.4-2-1.7-2.4.7-.3 1-1.3.2-1 0 0-28 .5 0zM107.3 220.3l.3.7.5 0 .2-.7-.7-.4-.3.4zM104 227.3l-.4 1.5.5.6 2.5-.1.5-.4 0-1.4-.5-.4-1.5-.3-1.1.5zM25.9 227.8l.7 0-.7 0zM26.5 228.3l.1-.5-.1.5zM171.6 226l0 2.1-.7-.8.7-1.3zM155.6 229.2l.6.1-1 1.5 0 4.5-.6 1.5-1.5.3-4.8-2.3-.2-1.6 2.5-1.2 2-2 3-.8zM164.1 239.6l1.5-.3 4 1.2.4.8-.3 2 1.9 1 0 1.4-1.9 1.1.1 3.5-1.2 1.9-1 .4-1.5-1.3-.7 0 .5 5-.8 1.7-2.5.2-2.5 1.9-2 0-4-1.7-2-1.7-.6-1.4-.2-4.5 1.8-1.1 5 .4-.7-3.3 1.2-.4 1.5 1.1 1-.2.3-1.5-2.3.2-.1-1.2 2.1-3.2 3-2zM158.6 250.8l.9 2 1 0 .1-1.5-1.5-.8-.5.3zM170.6 262.2l1-.3 0 2-1.5-1.1.5-.6z"/>
<path fill="#1468b0" fill-rule="evenodd" d="M19.1 211.3l2.5.8 2-.2 6.5.9 1.9 1-.1.5-1.8 1 1 .5 2.3-.5.2-.5-1-.5.2-.5 2.8-1.6 6.5-1.2 3.5.2 1.5.5 3 2.4 3.5 1.9 4.5.5 4.5-.5 2.5 1.4.3-2.1.7-.5 9.5 0 5.5-1.1 1.5.1 6.5 2.2 2.2 1.8 0 1.5-1.3 1 .2 2.5 5.5 5.5.2.5-1.2 1 1 1-.1.5-2.9 2-1.6 1.7-1 .2-4.5-.2-2-1.2-3-.6-4.5.9-10-1.9-2 .8-4 2.9-2 .6-2-.5-4-2.7-5.5-1-5-2.1-7 3-6 .5-3.5-1.3-3 2.8-3.5 1.2 0-19.3 1.6 1.2 1.4 2 2 .6 1-.6.5-2.1 1.4-1.9-4.4-1.8-3.5.9 0-4.1.5 0zM48.2 216.3l0 1 1.4 1.4 1.5-.4.4-.5-.2-.5-2.1-1-1 0zM79.1 216.8l-7 2-4-.3-.8 1.3 1.3 1.6 4 .7 5-3.3 3.5-1.5-2-.5zM35.9 223.3l-.1.5 2.2 2 13.1 5.8 4 1.1 2.3-.4-.1-1-1.2-1.2-3.5.2-2.8-.5-2.2-1-5-3.8-5-1.9-1.7.2zM41.8 223.3l2.3 1.5 1.5 0-.5-.7-3.3-.8zM79 224.3l-1 .5-1.1 2-1.3 1 2 .5 2.1-1 .9-2.5-1.6-.5zM81.3 224.3l-.7.5.3.5 1.2.3.4-.3-.2-1-1 0zM30.2 224.8l-3.1 1.2-5 .3-1.2.5 0 .5 2.2 1.3 5 1.3 1.4-.1 1.4-1 .5-1-.1-3-1.1 0zM89.9 227.3l.9 1 2.1.5-2.3-1.6-.7.1zM65.1 229.3l-.7.5 3.2.1 3 1.5 2.6-.1-6.2-2-1.9 0zM62.2 230.3l-.5.5.4.5 1.6-1-1.5 0zM151.1 214.8l1.7 0-1.2.7-.7-.2.2-.5zM171.6 217l0 2.3-.7-1 .7-1.3zM150.6 217.7l.5-.3 1 .6.2.8-.7.9-.7-.4-.3-1.6zM97.1 219.6l1.2.7-.5 1-.9 0-.4-.5.6-1.2z"/>
<path fill="#0c3c88" fill-rule="evenodd" d="M41.6 211.8l2.3.5.2.5-.7.5-4.8 1.1-1-.1-.3-.5.8-1.2 3.5-.8zM45.6 212.3l1 0 1.8 1.5-.3.4-2.8-.4-.6-1 .9-.5zM81.1 214.2l1.5.1 6 2 1.3 1.5-.8.4-10-2.4-.9-.5.6-.5 2.3-.6zM37.1 215.8l5.5-.3 2.3.8 1 1.5.1 3-.9.2-3-1.9-.8-.8-.2-1.2-.5-.1-.4 1.3-.6.2-3.5-1.5-.3-.7 1.3-.5zM72.6 215.8l1.5 0 .2.5-2.2.9-2-.4-.2-.5 2.7-.5zM29.1 217.2l4-.1 1.9 1.2-.9.7-3 .1-.7.7-.1 1 2.1.5-.3 1-4 1.2-1-.4-3.1.2-1.4-.5 2.5-1 1.5-3.2 2.5-1.4zM56.1 217.3l6 0 1.1 1 .9 3.2 2 .1 1.8.7.7.5-.4 1 .9.2 1-.8 1.3.6.9 3.5-.7 1.6-6-1.1-5.5 1.8-3.5-1.4-3.5.8-2.5-.8-1.8-1.9 1.9-4 .1-1.5 2.4-2.5 2.9-1zM80.6 218.3l3-.4 2.9.9.9 1 .1 1.5 1.1 2.5-3 .4-2-1.6-2-.6-.5-1.2 1.2-1 0-.5-3.8 0 2.1-1zM90.1 224.7l1.5.9 1.5 1.9-2.6-1.7-.7-1 .3-.1zM34.6 225.2l3 1.4 4 1.2 8.2 4-2.2 0-6-2.5-2 .4-3 1.9-2.5.8-3.5.3-3-.7-1.3-1.2 2.8-.1 2.5-.9 1.1-1.5.7-2.5 1.2-.6zM19.1 227.7l3.8 2.1-.7 1 .3 1.5-.6 1.5-1.8 1.5-1.5.4 0-8.1.5.1zM87.1 229.3l4 1.3 2.5.1.5.6-3.5 2.6-3 .2-4.5-1.8-1.8-2 1.3-.4 2.5.3 2-.9zM72.1 229.8l6-.5 1.4 1-2.4.8-2.9-.3-1.7-.5-.4-.5zM64.1 231.6l1-.3.3.5-6.3 4-2-.1-2-1.4.5-.4 3.5-.2 5-2.1z"/>
<path fill="#08204c" fill-rule="evenodd" d="M82.6 215.2l2.2.6-1.7 0-.5-.6zM59.6 218.8l1.5.5-.5.2-1-.7zM56.1 219.2l2 .3 1.3.8 1.7 4.6 3.2.4-1.2 2-1.7.5-1.1-1.5-4.7-3.6-1.1.6-1.9 3.5-1.1 0 2.1-5.2 2.5-2.4zM35.6 227.7l3.4.1 1.1.5-.6.5-4.4 2.5-4.8.5.1-.5 3-1.5 2.2-2.1z"/>
</g>
<g clip-path="url(#clipc)" fill="none" stroke="#3a3a3a" stroke-width="0.55" stroke-linejoin="round">
<path d="M50.7 176.5l1.1-.2 1.6 1.3 2.7-.2 1.3.4 1.8-1.1 2.1-.4 2.7-1.2 2.7-.4 3.5 0 2.7-.6 2.7.4 1.8-.5 2.2 0 .1.9 1.3-.6.2 1.1-.9 1.1.9 1.1-1.6 1.6-.4.9 1.4.4 1.3.9 1.8.5 1.2-.1 3.6 1 .9 1.7 3.2.9 2.7 1.1 1.8-1.1.2-1.3-.2-.9 1.8-1.3 2.7 0 1.4 1.1 2.9.6.5.5 3.2.4 3.6.9 1.8-.8 1.8-.5 2.3.5 2.2.4 1.2-.4 1.3 3.3-.6 1.6-.6 1.6-1.2-1-1.7-2.9.1 1.2.7 1.5.9 1.6.6 1.3.7 1.3 1.3 2.7 1 1.2 2.4 3.5.5 1.8 0 2.5.3 1.5 2 1.4 1.4 3.6.4.9 1.3 1 1.7 1.8 2 1.8 1.4.5.4 1.5-.9.7 1.4.9 1.7 1.1 1.7-.6 2-.1 2.5-.6 2.7-.5 2.9-.9.1 2.7-.5.2-.7 1.9-1.8 3.1-1.8 3.6-1.8 2.4-1.8 2.2-1.8 1.8-2.6 1.8-2.7 2.7-1.8 2-1.3 1.4-1.2 1.7-.9 2-.7 1.1-.7 2.7 1.2.9-.4 2.3.8 2.7 1.2 1.3.2 2.7.2 4-.4 2.5-2.5 2.2-2.7 1.5-2.3 2.1-2.5 1.8.7 2.2.4 2.2.1 3.1-.8 1.2-3.6 1.5-.7 1.2.5 1.3-.9 3.3-2 1.4-2.1 3.5-3.4 2.5-3.1 1.8-1.6.5-1.6 0-3.7-.1-2 .9-2.7.7-1.4-.7-1.5-.6 0-1.4-.7-1.5.4-1.4-1.6-2.4-1.5-3.2-1.4-2.4-.9-1.3-.5-2.8-.7-3.9-.9-1.6-1.5-2.7-2.1-3.4-.6-2.4.2-2.3.7-2.8.6-1.8 1.9-2.7.4-1.8-1.1-2.7-.3-1.8-1.3-4.4-.2-.5-.5-1.4-1.4-2-2.4-2.6-1-1.8-.7-1.3.8-1.9.4-1.3.5-2.4 0-1.4-.7-1.5-.9-.9-1-.3-2.2.3-2 .2-1-1.1-.8-1.2-1.2-1.3-2.9 0-2.8.5-2.9 1.1-2.7 1.1-1.9-.5-2.7-.2-5.2 1.4-2.7-1.1-3.2-2.5-1.3-.9-1.6-.7-1.4-1.6 0-2-1.6-1.1-1.1-1.3-.9-.7-1.6-1.1-1.1-1.4-.2-1.5 0-1.4-.7-1.3 1.3-2.4.7-4.5-.4-1.1-.3-2.1-1.1-1.1.3-1.8 1.1-1.5.9-2 1.3-1.2.7-1.9.5-1.4 2.4-2.4 1.9-.9 1.8-1.2 1.8-1.5.7-1.4-.3-1.5 1-2.3 1.6-1.7 2.5-1.2 1.3-1.8.5-1.3z"/>
<path d="M149.5 263l1.1 2.6 1.1 3.4-.5 1.3-1.1 1.8-.4 2.1-1.4 4.2-1.3 3.4-1.4 4.6-1.8.5-1.8.7-1.9-1-.6-2.6-.7-2.7 1.1-2.2.9-2-.7-2.7 0-2.3.7-1.5 1.9-.5 1.5-.4 1.2-1.3 1.3-.7.5-1.8 1.5-.7.8-2.2z"/>
<path d="M122.5 184.6l1.3-2.1.3-1.1.7-1.5.8-1.4-.2-2 .7-1.4-1.3 0-1.6-.4-1.9 1.1-1.8.2-2.7-1.3-1.1.9-2 0-2.3-.5-1.8-1.7-1.8-4.5 78.8 0 0 26.8-15.2 0-3.6-.4-1.8-.3-2.1-.4-.6-1.6-1.2-.8-1.5.8-1.2.3-2.3-.5-1.8-1.1-1.8-.9-1.1-1.6-1.2-1.5-1.3-.9-1.8.2-.9 0-.5 1.1 1.2 1.6.8 1.5 1.2 1 1.1 1.1.2 1.7 1 1 .4-1.8.9-.1.2 1.6-.6 1.1.6.5 1.8.2 2.5.2 1.2-1.3 1.4-1.3 1.1-1 .6-.4 0 2.3.5 1 1.4 1 1.8.6 1.3 1.3 1 .7-1.4 2.7-.9 1.1-1.2 2.3-1.8.8-.6 1.2-1.8.4-.8.5-2.7 1.3-2.4.5 0 1.5-2.1.9-2.7 1.1-1.6 1.1-2 .1-2.7.9-1.8 1.1-1.7.4-1.3-.2-.5-2.3-.4-1.8-.2-1.9-1.2-1.8-1.5-1.8-.7-1.8-1.4-1.8-1.4-2.2-.2-1.4-1.1-1.8-1.8-2.4-1.8-3.1-1.4-2.3-1.1-1.5-.3-2.5-1.3-3.3z"/>
<path d="M103.4 177.4l1.4-.1 1.2-.1 2.4.2-.6.6-2.3 0-2.1-.6z"/>
<path d="M119.1 178.1l1.1-.9 3-.5-1 1.3-1.8.7-1.3-.6z"/>
<path d="M156.7 218.7l2.2-.2-.6.5-1.2 0-.4-.3z"/>
<path d="M118.2 242.2l2.5-1.4 1.5 1 .1 1.7-1.4 2.3-1.4.2-1.5-1.4.2-2.4z"/>
<path d="M113.6 247.5l.7 3.8 1.4 2.7.4 2.7.9.2-.7-3.8-1.7-3.7-.7-2.1-.3.2z"/>
<path d="M122.2 258.5l.5 3.1.5 2.3 1.1 3.3-.9-4.2-.5-3.2-.7-1.3z"/>
<path d="M58.1 178l.2 2.7-.6 2.3-3 .9-2.7 3.1-6.3 2.4 0 1.8"/>
<path d="M37.7 191.2l8 0"/>
<path d="M45.7 191.2l0 3-5.9 0 0 4.6-1.9.9.1 3-7.1 0"/>
<path d="M45.7 191.9l7 4.1 10.7 6.7 3.6 4.2 1.8-.4 2.9-.5 3-2.5 7.9-4.7"/>
<path d="M52.7 196l-3 0 1.8 15.6-10.6 1.8-1.4 1.5"/>
<path d="M32.1 211.6l3.2-.3 4.2 3.6"/>
<path d="M39.5 214.9l1.4 4-1.8 0-2.3-.4-5.4.4"/>
<path d="M40.9 218.9l4.3.3 1.4 3.5.4 1.8.7 1.6-1.3 1.3-.3.5 1.8 5.4"/>
<path d="M37.7 224.5l3.6-1.3 1.6 2.9-.4.7-1.8 2"/>
<path d="M42.9 226.1l2.3 1.6 1.2-.3"/>
<path d="M51.5 222.5l1.4-2.7 3-2.9 4.5-2.9 3.2-.4 4.1-.5 1.1-2.4 0-4.2"/>
<path d="M47 222.8l4.5-.3 4.8 1.4.3 2.9-1 3.3.5 2.1"/>
<path d="M56.3 221.4l5 0 1.6 0 2.3-1.3-.3-1.8-1.8-1.1-1.1-1.2-1.6-2"/>
<path d="M61.1 221.2l1.1 4.2.2 4.9"/>
<path d="M64 221.4l.2 3.6.1 5.1"/>
<path d="M66.3 219.6l1.4.5 0 2.7-1.6 2.2 0 4.9"/>
<path d="M67.7 220.1l1.1-3.2 4.7.7 3.9.5 5.9-.5 2.3-1.1 3.4-11.4.8-6.2-3.1 1.7-4.1-1.8"/>
<path d="M86.7 218.7l.7 1.8-2.3 2.9-2 2.5-1.6 3.5-2.1-.6-2.7 3.8"/>
<path d="M89.8 198.9l14.5 7.1 0-.9 1.7 0 0-3.6"/>
<path d="M104.3 206l-.2 6.9-2.7 3.1-.7 2.5 1.6 2.3-.9.8"/>
<path d="M86.7 218.7l.4 2.1 2.1 2.4-.7 1.8 2.5 2.4 3.6-.6 2.7-2 2.8-2.7 1.3-.5"/>
<path d="M89.2 223.2l-2.1 6.9 1.1 1.4 2.1 5.8-.2.7"/>
<path d="M90.1 238l3.2-3.2 1.3-1.3 1.4-1.4 2.7 1.4 2.7.6 3.6-2 1.6-.2 3.7 0 2.9 1.4 3.2 1.7"/>
<path d="M101.4 221.6l2.1 4 2.7 1.6 4.1 4.7"/>
<path d="M106.2 184.1l-.2 17.4"/>
<path d="M81.9 181.4l-2.7 5.1-.2 5.9-.7 1.5 1.4 3.2 2.9 1.7"/>
<path d="M76.3 174.5l-.5 5.1 2.1 3.4 1.3 3.5"/>
<path d="M106 201.5l21.4 0"/>
<path d="M102.3 220.8l5.4 1.9 1.9 1.2 4.7-.9 2.1.7 3.4-3.9 2.5 4.3"/>
<path d="M126.6 215.4l-.3 2.4-1.8 1.6-1.3 2.9-.9 1.8 0 2-1.9 1.1 4.1 4.1"/>
<path d="M130.2 208.7l-.9 1.8-1.9.4-.8 4.5 2.5-1.1 2.5.6 2.9.9 2.5 2.7 1.4-.2"/>
<path d="M136.1 221.2l1.8.4 3.2 4.3 5.8.9-5.2 5.4-3.4.8-2 1.2-1.3 0-.7-.7-2.1 1.5-2.7-.2-2.3-1.5-1.6-.7-1.1-1.3"/>
<path d="M136.1 221.2l1.8-.7"/>
<path d="M134.7 244.4l0-8.2 1.6-2"/>
<path d="M116.4 235l.7-.6 4-.2 1.1-.5 2.3-2.4"/>
<path d="M122.2 233.7l1 5.2-1.2 2.2.2 2"/>
<path d="M116.4 235l-1.4 3.4-.7 4 0 1.4 1.4-.5.2 2.3-2.2 1.7"/>
<path d="M122.2 243.1l6.6 3.8 2.7 2.9"/>
<path d="M115.9 243.1l2.3 0"/>
<path d="M90.1 238l3.1 6.2-2.7 2.3-1.6 1.5-2 2-3.6 2.3"/>
<path d="M94.6 233.5l-1.3 8.9"/>
<path d="M87.3 237.3l-2.2 0-3.6-.2-2.7 0"/>
<path d="M81.5 237.1l0 2.4-3 0"/>
<path d="M87.3 237.3l-.9 1.5.5 3.2-2.2 3.6-1.9-.7-1.6 3.5"/>
<path d="M83.1 251.8l1.5.2 5.9 0 .5 3.1 1.6.9 2.7-2 1.8 0 3.2.5.4 4.9 3.4 1.6.2 3.8-3.6 0 0 5.8 2.1 2.4-4.1 1.4-3.7-1.6-9.5-.7-3.3.5"/>
<path d="M104.3 264.8l0-3 2.5 0 1.9 1 1.3-.5 2 1.4 2.3 1.7 0-2-1.8-2.2-.2-3.2 4-1.7"/>
<path d="M114.3 265.4l1.2 4-2.6 1.6-3.3 2.7-3-.2-3.8-.5"/>
<path d="M116.3 256.3l3.9 2 1.8.4 1.2 3.4 5.2.2 5.2-2"/>
<path d="M120.9 266.6l-.9-.9.4-1.6.5-3.3 1.1-2.1"/>
<path d="M115.5 269.4l.2.9 4.5 1.2-.4 4.2.2 2.3-2.9 3.7-3.2-.4-3-2.9-2.9-2.3-1.4-2.6"/>
<path d="M124.3 267.2l1.3 1.1-.2 2.1-1.4 1.3-1.3-1.4-1.8-3.7-5.2 2.9"/>
<path d="M117.1 281.7l1.5 3.8 0 3.4 1.6.9"/>
<path d="M98.7 274.4l.2 6.7-1.8 0 0 5.1 0 6.5-4.7.7-1.6-.3"/>
<path d="M97.1 286.2l1.3 1.3 3.7 0 5 0 2.2-2.4 4.6-3.8"/>
<path d="M97.1 292.7l1.8.5 2.7-1.2"/>
<path d="M109.6 294.9l1.3-1.3 2.5 0 .5 1.8-2.1 1.3-2.2-1.8"/>
<path d="M116.8 288l2 .4-.4 2.1-1.6.2-.4-1.4.4-1.3"/>
<path d="M123.8 187.9l1.9.5 1.8-2.3 1.8 0 2.2-3.1 3.2 1.5 6.6 3.9 3.2.2 2.2-.5"/>
<path d="M126.6 182.8l4.9.2"/>
<path d="M124.8 181.4l.2.7 2.2.7 3.6-2 3.9-1.8.7-2.9"/>
<path d="M144.5 188.6l3.4 1.1"/>
<path d="M138.3 210.5l1.8-.7 3.5.4 1.8.5 3.6-2.9 5.4-.9.9 2.7 1 1.7"/>
<path d="M154.4 206.9l5.4-1.8 1-3.6-.7-1.3-4.6-2.7"/>
<path d="M160.8 201.5l.9-3.6.6-1.7"/>
<path d="M147.2 187l-1.1-2.4-1.9-2.7-1.5-2.1 0-3.1-1.7-3.3"/>
</g>
<path d="M25.5 307.8V310M25.5 176.3V174.1" stroke="#222" stroke-width="0.8"/>
<path d="M43.4 307.8V310M43.4 176.3V174.1" stroke="#222" stroke-width="0.8"/>
<path d="M61.3 307.8V312M61.3 176.3V172.1" stroke="#222" stroke-width="0.8"/>
<path d="M79.2 307.8V310M79.2 176.3V174.1" stroke="#222" stroke-width="0.8"/>
<path d="M97.1 307.8V310M97.1 176.3V174.1" stroke="#222" stroke-width="0.8"/>
<path d="M115 307.8V312M115 176.3V172.1" stroke="#222" stroke-width="0.8"/>
<path d="M132.9 307.8V310M132.9 176.3V174.1" stroke="#222" stroke-width="0.8"/>
<path d="M150.8 307.8V310M150.8 176.3V174.1" stroke="#222" stroke-width="0.8"/>
<path d="M21.6 295.6H17.4M168.6 295.6H172.8" stroke="#222" stroke-width="0.8"/>
<path d="M21.6 277.5H19.4M168.6 277.5H170.8" stroke="#222" stroke-width="0.8"/>
<path d="M21.6 259.4H19.4M168.6 259.4H170.8" stroke="#222" stroke-width="0.8"/>
<path d="M21.6 241.3H17.4M168.6 241.3H172.8" stroke="#222" stroke-width="0.8"/>
<path d="M21.6 223.2H19.4M168.6 223.2H170.8" stroke="#222" stroke-width="0.8"/>
<path d="M21.6 205.1H19.4M168.6 205.1H170.8" stroke="#222" stroke-width="0.8"/>
<path d="M21.6 187H17.4M168.6 187H172.8" stroke="#222" stroke-width="0.8"/>
<rect x="21.6" y="176.3" width="147" height="131.5" fill="none" stroke="#111" stroke-width="1"/>
<text x="13.2" y="189.3" font-size="6.5" text-anchor="end" fill="#222">30N</text>
<text x="13.2" y="243.6" font-size="6.5" text-anchor="end" fill="#222">0</text>
<text x="13.2" y="297.9" font-size="6.5" text-anchor="end" fill="#222">30S</text>
<text x="61.3" y="321.4" font-size="6.5" text-anchor="middle" fill="#222">0</text>
<text x="115" y="321.4" font-size="6.5" text-anchor="middle" fill="#222">30E</text>
<g clip-path="url(#clipd)">
<path fill="#b0b0f8" fill-rule="evenodd" d="M245.9 174.2l1.2-.5 3.3 0-.3 2 1.1 1.5.3 3.5-.3 1.5-.8.9-1 .2-3.5-1.1-2 2.2-4 2.1-3.5-.5-2.9-1.3-.1-1.5 3.7-5.5 1.3-.7 3.9-.8 3.6-2zM345.4 184.6l1-.2 1 .8 2 4.1 1.5 1.5 6-.5 2 .7 2.2 4.7-.2 2-1.5.9-5 .6-2-.4-1.5-2.1-2.7.5-1.3 1.2-2.8-.7-.7-1.5-1.8-2-.9-4.5 2.9-4 1.8-1.1zM312.4 189.1l2-.2 3 1.9 2.3 2.9 1.2 2.6 3.9 4.9 1.1 4.6 3.1 4.9-1.1 3.5 0 1.4.5 1.2 1.5.9 2.5.1 1.5-1 3-2.5 1.4-3.1 1.6-1.2 5.5.8 4.7-2.1-.2-1-3.4-2.5.4-.8 2-.1 3.5.8 1.5-2.2 1.5-.8.7.6.3 2-.3 2-1.3 2-3.4 3.8-4 2.7-3.5 3.9-4 1-2.5 2.3-1.5.8-2-.1-2.5-1.1-1 .2-.8 1 .7 2-.4.7-3-.9-.5.2.3 1.5-1.3 4.5 1.8 2 .3 1-1.1 2.9-7 .9-2-1.3-1-1.5-1 1.1 3.1 2.4.1.5-4.2 3.7-3 .9-.1.9.8.5 1.3.3 2.5-.4 3.5-1.3 1.2 2.4 1.8 1.1 1.5 1.7 2.1-2.3-.2-2 1.1-1.8 2.1.8-1.9 2.5.8.2 5.2-1.2 2.3-2.9 1.5-.2 1.5.4 4.5 3.8 5.5-.7 3 1.3 2-.8.2-.9-.7-1.3-5-1.1-.3-.6 1.7-2-.5-3.5 1.4-3 1.2-1.5 2-.4 1.8-1.6-.3-.8-1.3-.7-3.2-.6-1.2-1.9 1.2-4.5 2.1-3-1.2-2.5 0-1.5 1.1-1.9 3-.9 2.5-.2 1.5.8 3 .1 0 5.9-2.5.2-.3 1.5.7 3 1 1 1.1.1 0 11.1-2.1.8.6.7 1.5.3 0 14.3-2.7.2 2.7 1 0 3.1-3-.3-3.5 1.3-2-1.9-.5.3-.2 1.5-.8 1.1-2.5 1-3.5 3.1-2.5.9-4-2.7-6.5-2.7-1.5-4.7-1-.3-.4 1.8-.1 5.5-1.2 5.5-.8.5-1.5-.4-3-2.1-4.6-5-1.7-.5-.2-.5 1.6-1.5 5.4-2 .2-1-.5-1.5-.7-.3-3 .9-2.5-.5-2.1-3.1-1.9-1.4-2.5.4-2.2 2.5-1.8.9-2-.5-4.5.8-2.5-1.1-4 4.1-.8-.2-1.3-1.5-3.9-1.8-2-2.5-1.1.3-1.4-1.6-1.5 0-1.5 1.5-1 .1-2.3-2-.1-3.5-.6-1.6-4.5-2.4-.2-5.5-.8-1.2-1.5-.2-7.5 4.3-1.5-.1-.6-1.3-.6-5 .2-3.5-.7-.5-1.8.4-1.8 3.1-4.2 4.1-4.5-2.4-4-4.4-1.5-.8-1 .2-1.5 1.3-4.5-1.4-1 .1-.4.8.6 1.5-.2 1-6 1-2.4-1.5-1.1-2.5 1.2-6 1.7-3-1.9-.7-2.2.7-1.4 2 .9 3.5 1.7 3-1.4 2.5-2.6-1.1-3-.3-1-.8-1.4-2.8-.5-3.5-1.5-3 2.4-1.7 3.3-1.3.2-.5-1-.6-3.5-.4-2.5-1.7-2-.4 0-2.1 5-2.6 4-.6 3.5-2 1.5 0 5 2.3 2-3.3 3-.9 4 1.7 4 .9 2.4-1.3.7-2 1.4-1.4 4-.6 3.5-1.3 1.9.8 4.6 5.1 2 .1 2 1.9 1-.1 4-2.3 4 .4 3-1.3 1.5 0 2 1.2 1 2.8 1 1 5.5 2.1 8.5.4 1.4 1.2.2.5-.6 1 .5.6.7-.1.2-1 3.6-1.1 1 .1 1.5 1.2 2.5-.4 5.5.4 2-.9 1 .1.1.6-1.6.9-1.5 2.4-3.5 1.4.4.8 1.1.2 2.5-1.2 3-2.9 4.1-1.1-1.1-1.5-.5-3-3-1.5-.8-1 .1-2 1.7-3.5 0-1-2.7-2.5-1-1.5-.5-3.5.7-1.6zM318.9 202.2l-.4 2 .9 1.2 1-.7.4-1.5-.9-1.5-1 .5zM252.3 203.2l-.6 1 0 1 1.7.4.6-.4-.1-1-1-1.3-.6.3zM319.7 212.2l1.4 2.5.8 3.3 3.5.3-3.2-3.1-1.3-2.7-1.2-.3zM280.3 212.7l.6 1.3 1.4.2-1.1-1.5-.9 0zM275.7 213.7l-.3 1.5.5 1.1.8-.6.3-1-.6-1.2-.7.2zM250.3 217.7l-.7 2.5.8 1 .7-.5.3-1.5-.5-1.5-.6 0zM283 218.2l1.4.5-.5-.6-.9.1zM313.1 219.7l-1.7 1-1.3 2.5 0 1 1.4 2.5-1.1 2.5 7 4.3 1.5.1.7-.9-1-3.5-1.4-2.5-2.5-2 .3-4.5-.6-.5-1.3 0zM291.7 222.7l0 1.5 1.2.1 0-1.4-.5-.4-.7.2zM296.2 222.7l-.5.5 0 1 1.7 1.7 1.5.9 1.6-.6.2-1-.8-1-2.5-1.6-1.2.1zM299.8 235.2l.1 1.5.5.5.5-.2-.5-1.7-.6-.1zM298 240.7l-.5 4.5.4.9 2.5.7 1.9-.6-1.1-3.5-2.3-2.2-.5-.3-.4.5zM285 244.2l.4 1.1 1-.2-.1-.9-.9-.5-.4.5zM337.3 255.2l-.6.5.2.5.5 0 1.5-.5.1-.5-1.7 0zM346.7 255.7l-.5.5.2.5.9-.5.1-.5-.7 0zM302.4 198.1l1-.3.7.4-2.7 3.7-1-1.4-2.1-.3 2.2-1.5 1.9-.6zM232.4 199.1l.6.1.3 1-1.3-.5.4-.6zM333.9 260.6l.1.6-1.8 3.5-.8.8-1-.2 2-3.3 1.5-1.4zM225.4 275.1l.5-.2.4.8-1.2 2-1.7.9-1.3-.4.1-1 3.2-2.1zM259.4 305.6l1 .4.1.7-1.7 0-.1-.5.7-.6z"/>
<path fill="#7070f0" fill-rule="evenodd" d="M245.9 175.6l2.5.4 1.6 1.2.3 1.5-.9 1.7-1 .3-2.5-.7-2.8.7-1.2 1-1 2.5-1.5.9-2.5-.1-2.1-.8-.2-1 2.3-2.4 1.4-2.6 7.6-2.6zM344.9 185.1l1.5-.3.7.4 1.8 3.9 2 2.2 6-.5 2 .8 1.8 3.6-.3 2.5-1.5.8-5.5.5-1-.5-1.5-2-4.5.9-3.5-2.2-1.3-1.5-.5-4 2.5-3.5 1.3-1.1zM312.9 189.7l1.5-.2 3 1.9 2.2 2.8 1.2 2.5 3.2 4 .9 2 .7 3.5 2.6 4 0 1.5-1.1 3 .8 2.5.8.5 3.7.6 3.5-2.1 1 .1 1.3-4.1 1.7-1.7 5.5.9 5.6-2.2.3-1-3.1-2.5-.4-.5.6-.3 4.5.5 1.5-2.1 1-.4.6 1.3-.3 2.5-1.8 2.4-7.2 6.1-2.8 3.2-4 1.1-3.5 3-2.5.1-1.8-1.4-5.2-1.3-4.3.8.8-1.4 2.5-.3.5-.8-2.8-2-1.7-4.1-2.8-2.9 0-1.5 2.3-3 .1-2.5-1.1-1.5-1.5-.1-.7.6-1.3 3.9-1 .1-1-.5-.2-1.5 2.4-3.5.1-1.5-.8-1.9-2-.5-1.6-1.6-.3-3 .4-1.5zM251.9 199.5l.5-.2.6.4-1.1 1.1 0-1.3zM255.4 201.4l1.5.8 2.5 2.6 2.5-.4 2 1.4 3 1.2 4.1-2.8 4.9-1.6 2.2.6.7 1 .4 2 2 3.5-1.7 1.5-.3 1.5.4 2.5-2.8 5 .4.5 1.9-.5 1.3-1.7 1.5.2 2.5 1.3.5-.2.3-1.1-.4-1.5 1.6-.1.5-.4-.3-4.5-1.7-1.7 3.5-.4 4.5.6 1.5 2 .2 2.5-1.2 1.1-4.1 1.9 1.1 2 2.5-.9 1.5.4.3.5-.8 1.3-3-.2-.4 1.9.9 2.5 1 .3 1.5-1.1 1 .1 2.4 2.2 1.1 2.1.5.2 1.5-.5 2.5-2.6 1 0 4 5.3 3.5.5 1 .5.6 1 1.6.5-.4 3 1.6 1.5-.2 1-1.2 1.3-1.5.6-1.3-.4-1.1-2-1.1-.8-1.5.6-3.5.4-.4-.2 0-2-1.6-1.3-2-2.8-2-.6-.5.2-.7 2-1.8.6-.4-.6.1-2.5-1.7-1-.9.5-1.1 2.1-1 .5-1.5-1.9-2.5-.3-2-1.8-1.4-.6-.2-.5.6-.4 2 .3 1.5-1.9 0-2.1-2-1.4-3.5-.4-2 2.2-2 .6-4.9-.9-.4-.5.5-1.5-1.6 0-1.4 2 1.7 1.5 0 3-2.9.4-1.5 1.2-4 1.5-.6-.6-.3-3 .8-3.5-.3-1-1.1-.8-3.5.5-2.5-.6-.5 3.4-2.4 3.5-1.1.7-1.5-1.2-2-4.3-.5-.5-1.5.4-3-3.1-7.5-.9-2-.7-.5 1.7-1.6-.1-1.1-1-1.6-5-.7-.7-3.5-.1-3.2 1.3-1.6 1.5.3 3.6-1 .4-2-.8-1.5-1.7-.8-3.5 1.3-1.4 3.5-1.6.2-3.5 1.8-1.6 5 .3 3.1-2.7 1.4-1.9 2-.6 4 .5 5 2.2 6-4.2 2.5 1.5.3 1.5.7.8 4 .6 1.3-.9.2-1-1.6-2.5.1-.8zM275.7 212.2l-1.8.5-.2.5 1.7 4.4 1.5-.9.9-2-.7-2-1.4-.5zM249.6 215.7l-1 1-.4 2.5.7 3.7 2.5-.9.9-1.8-.4-4.5-2.3 0zM300.9 213.2l1.5.5 3.5-.7 1 .2.2.5-1.2 2-1 .6-4.5-1.9-.5-.7 1-.5zM316.9 213.6l1.5.7 1.4 2.9.3 2.5.8 1.5-.5.5 1.6 1-1.1.7-1 0 .5-1.2-2-1-1.5-3-2.5-2 1-1.8 1.5-.8zM354.9 214.2l1-.3 1.6 1.3.1 1-1.2 1.9-.5.1-1.4-1.5-.1-1.5.5-1zM300.9 217.5l.5.2-.5.9 0-1.1zM307.4 218.4l.7 1.3-.7 1-.3-1.5.3-.8zM354.4 219.7l1-.3.5.6-1.1 3.2.3 1 2.7 2.5 4.1 5-.5 2.5-2 1.1-2.5.1-1.4-1.2-1.6-.2-1.1 1.7 0 1.5.6.2 3-1.3 1 1 2 .2 1.5 1.4 1.5.1 0 11.2-5.5.3-.6.4-.4 1.7-2.1-.7-.2-2.5.4-1 1.9-1.5-.1-1-2.4-3.3-2.4-1.2-.3-1.5-.1-3.5.4-1.5.9-1.1 1.5-.6 3.4-3.3-4.2-2.5-.6-1 .9-5 1.5-1.5zM293.4 237.1l.5-.3.1.4-1.9 2.5-.5 1.5 3.8 1.7.4 1.8-.4 1.3-4.5-1.2-2.5.1-3.6-2.7-1.5-2 .1-1 2.5 1.6 3 .3 1.9-.9 2.6-3.1zM276.9 237.6l.5-.4 1.5.3 2.7 1.7 1.6 2.5.1 2-2.4 1.1-1-.1-3.2-5.5.2-1.6zM304.4 243.5l1.5.1-.2 1.6-.8.1-1-.6-.2-.5.7-.7zM331.4 248.1l2-.3.8.9 1.1 3.5-.9 1.1-1.2-2.6-4.5-1.5.3-.5 2.4-.6zM326.4 251.7l1.5-.2 1.1 1.7-.5 2-1.6 1.9-.8-4.4.3-1zM348.4 253.5l.8.2-.8-.2z"/>
<path fill="#1010f0" fill-rule="evenodd" d="M244.9 176.6l3.5.6.8.5.1 1-.9.5-2.5-.2-4 1.5-.9.7-1.6 2.5-1.9 0-.2-.5 1.4-1.5.5-3 5.7-2.1zM345.4 185l1 0 .9.7 1.6 3.9 2 2 1.5.2 4.5-.8 1.8.7 1.9 4-.6 2-2.1.8-4.5.4-1-.5-1.5-2-4 .3-4-1.7-1.2-1.8-.4-3.5 2.6-3.7 1.5-1zM313.9 190.1l2.5 1 2.5 2.5 1.6 3.1 3.5 4.5 1.2 5 2.1 3 .6 1.5-1.1 3.5 0 3-1.4 0-1.5-1-1.9-4.5-2.5-2.5.2-1.5 2.2-3.5 0-2.5-1-1.2-2.5-.9-1.5-4-2-.2-1.5-1.1-.2-3.6.7-.6zM316.4 201.9l.5.1.1 1.2-1.1 1.2-.5-1.2 1-1.3zM275.4 203.6l1-.1 1.1.7 1 5-.6 2.1-4.5-.1-1.7 1.5.2 1.5 2.2 1.5.1 1.5-.9 2 1.1.5-6.5 4.8-3.5-.1-3.5-1.8-2.5 1-2-1.1-1.5.3-1.3 1.4-1 4.5-1.2 1.5-.8-1-1.5-4 .6-1 2.6-1.5.6-1 .6-7-.6-.7-4.5.2-1.1.5-.5 1 .2 2.5-.6 2 1 1.2.1.8-1.6.9-1.5-.4-.5-1.1-8-.6-3-1.8-1.5-.2-1-.8-1.1-2.5-.9-.8-4.5.7-4.2 1.6-.9 1-.4 2.3-1.5-.4-1.1-1.9.2-2 4.2-2.5 1.3-3 2.4-.9 3 .3 1.5-1.2 1 1 1.8-4.2 1.7-1 2.5.4 6.5 2.6 1.4-.5 1.7-2 1.4-.7 1.2.2.7 1.5 7.1 1.3 6-2.5 2.2 2.2 3.8 1.6 4.1-3.6 3.9-1.6zM257.7 215.7l-1.9 2-.4 1 .5.9 2.5-2.9 0-.8-.7-.2zM354.9 203.4l.8.8-.1 2-1.2 1.9-1.5 1.1-3.6-3.5 3.6.1 2-2.4zM349.4 210.2l1.6 0-.1 1-7 6.7-4.1 1.3-3.9 3.1-1.7-.1-.5-.5.2-.6-3.5-.5-3.3-1.4.3-1 .5-.2 4.5.5 3.5-1.4 1 .4.9-1.8.7-3.5 1.4-1.3 1.5-.1 3.5 1 4.5-1.6zM355.9 215.6l.6.1-.1 1-.5-.2 0-.9zM286.4 218l1.5.5 1.5 2.2.5 5-.2 1-.8.6-1.2-2.6-3-3 1.2-3.5.5-.2zM294.4 226.1l1 .4 1 1.3 0 1-1 1.3-1-.5-.7-1.4.1-1.5.6-.6zM353.4 226.1l1-.3 1.3 1.4-1.5 0-.8-1.1zM303.4 227.9l1.1.3 2.4 3.9 2.4 1.6 0 .5-2.2 1.5.3 1-.5.8-1-.1-.4-.7 0-1.5-1.4-2.5-.9-3.5.2-1.3zM356.4 231.1l2-.4 1.5.5.8 1-.2 1.5-2.1.8-3.5-1.3-.1-1 1.6-1.1zM312.4 235.6l1.2.1-.7 2.8-.5.5-1.5-.8-.3-1 1.8-1.6zM277.4 238.1l1.5-.1 2 1.3 1.7 2.4-.2 1.4-1.5.1-2-1.7-1.7-2.3.2-1.1zM358.9 238.1l1.3 1.1.4 2.5 1.3 3-1.5 2.8-1.5 1.6-1 .3-1.2-.7.6-2.5-.8-4.5 1.4-2.9 1-.7zM354.4 238.7l.4.5-.9 1.5-1.5-.1-.4-.9.3-.5 2.1-.5zM285.9 242l4-.2 1.2 1.4-1.2.7-1.5.1-1.7-.8-.8-1.2z"/>
<path fill="#1030c0" fill-rule="evenodd" d="M244.9 177.2l.9.5-.2.5-1.4 1-2.8.6-1-.5.7-1.1 3.8-1zM345.9 185.1l1.5 1 1.5 3.8 2 1.9 1.5.3 4.5-.9 1.5.5 1.7 3 .1 2.5-2.3 1.2-4.5.3-1-.5-1.5-2-3.5.3-4.5-1.7-1.1-1.6-.3-3.5 2.4-3.5 2-1.1zM314.9 193.1l2-.2 2 1.1 5 8.2 1 4 2.2 3 .5 1.5-1.1 3 0 2.5-.6.7-2-1-1.5-4-2.6-2.7 0-1 2.2-3.5.3-3.5-1-1-2.4-1-1.5-3.9-3-1.1-.2-.5.7-.6zM354.9 204.2l.5.3 0 1.7-1.5 1.8-1 .1-1.9-1.4-.1-.5 2.7-.5 1.3-1.5zM274.4 204.6l1.5-.2.6.3.8 4.5-.9.8-4 .6-2.7 3.1-2.8.5-1.8 3 .1 3-.4 2.5-.4.3-3-1.3-2.5.1-1.2-.6-.1-1 1.3-1.8 1.5-.9 1.9-.3.3-.5-1-1-3.2-1.3-3.2 1.3-.2-1.5 1.2-1-.8-.8-1.5-.2-3 .9-3 0-1 .4-1.4 1.7.2 3-.5 1.5-.8.6-2 .4-6-.4-1-1-3.5-1.2-1-.8-2.3-3.6 0-.5 2-1.5.8-4.2 1-1.1 3.5.1 5.5 2.1 4-.6 2 .3 2.5-1.2 6 1.1 5-2.3.6.3.4 2.4 5 2 1.5-.8 3.5-3.8 2.5-1.4zM222.9 210.7l1-.2 1.5.5 2 1.7.4 1-1.5 1-8.9 2.6 0-1.1 3.7-2.5.6-2 1.2-1zM349.4 210.7l.6.5-.6 1-6 5.7-4 1.2-3 2.6-1.5 0 2.5-3.9 1.1-5.1.9-1.3 1.5-.4 4 1 4.5-1.3zM271.4 216.7l1.5-.3.4.3-.3 1-3.4 4.5-1.2 1.1-1 .2-.6-1.3 1.8-1.5 1.2-3 1.6-1zM334.4 218.2l1.5-.2-.2 1.7-2.8 1-4-.9-1.1-1.1 4.6 0 2-.5zM286.9 218.6l1 .6.8 1.5-.3 2.8-1-.2-1.4-1.6.2-2.5.7-.6zM251.9 224.2l.3 1-.8 1.9-.5.1-.7-2 1.7-1zM356.4 231.6l2.5 0 .7.6.2 1-1.4.6-2.2-.6-.6-1 .8-.6zM305.4 231.8l1.8 1.9-1.3 0-.5-1.9zM278.4 238.2l2.5 1.5 1 1.5 0 1-1 0-2.7-2-.6-1.5.8-.5zM358.9 239.4l.5.3-.5 2.5.7 3-.2.7-.5 0-1.3-3.7.3-1.4 1-1.4zM287.4 242.4l2 .2.1.6-1.6.1-.9-.6.4-.3z"/>
<path fill="#1a6a80" fill-rule="evenodd" d="M242.9 178.1l1.4.1-.4.5-1.5.3-.5-.3 1-.6zM344.9 185.6l1-.4 1 .5 2 4.5 2 1.9 2 .2 4-.9 1.5.5 1.7 3.3-.2 2-2 1-4.5.4-1-.6-1.2-1.8-3.3.1-3.5-.8-1.5-.9-1-1.4-.2-3.5 3.2-4.1zM317.9 194.1l1 .6 3 4.9-2.8-.9-1.2-4.6zM323.4 202.6l1.4 4.1 2.5 3.5-1 3.5-.2 2.5-.7.4-1.5-1-1.4-3.9-2-2-.5-1 1.9-3 1-2.9.5-.2zM273.9 205.6l1.5-.1 0 2.7-4 2-2 2.1-1-.1 2.3-3.5 3.2-3.1zM354.4 205.6l.5-.2.1.8-1.1 1.2-1 .2-1.2-.9 2.7-1.1zM234.4 208l1.5.1 2.5 1.7 7-.7 2.5 1.6 1.5-2.5 1-.3 2.3.8.7 1-.9 1.5-1.1.7-1.5.3-1.5-.5-1 .4-2.6 2.6-.8 4.5-1.1.6-2.5.1-2-.5-2.5-1.5-2 .4-1-.3-1.5-1-1-1.3-.5-2 2-1 0-2.7 2.5-2zM257.4 208.1l2 .1 1.5 1.8 3 .4 1.5.8.8 1.5-.8 1.8-1 .6-1 0-6.5-1.9-2.8-3.5.1-.5 3.2-1.1zM340.9 211.2l3.5 1 4-.9.8.4-5.8 5.9-3.6 1.1-3.4 2.3 1.7-4.3.6-4 .7-1 1.5-.5zM223.4 211.6l1 0 1 .8.5.8-.2 1-3.8 1.2-1.5-.2 2.2-2 .8-1.6zM329.4 218.7l6 0-.3 1-.7.5-2 .4-3.2-.9-.7-.5.9-.5zM286.9 219.6l.5.1.3 1-.3 1.1-.6-.6.1-1.6zM356.9 232.2l1.4 0 .4.5-1.3.3-.6-.3.1-.5zM278.4 238.6l1.6.6 1.1 2-.7 0-2-1.3-.4-.7.4-.6z"/>
<path fill="#189a40" fill-rule="evenodd" d="M344.9 185.7l1-.4 1 .6 1.8 4.3 2.2 2.1 2 .2 4-.9 1.5.5 1.5 3.1-.2 2-1.8.9-4.5.4-1-.7-1-1.7-3 .2-3.5-.8-2-1-.9-1.3-.3-3 3.2-4.5zM318.9 195.6l2 2.6 0 .7-1.6-.7-.6-1.5.2-1.1zM323.4 203.5l1.1 3.2 2.5 3.5-1.6 6.1-1.5-.9-1.2-3.7-2.3-2.5.2-1 2.8-4.7zM352.9 206.6l.8.1-.8.3 0-.4zM256.4 209.1l1.5-.4 2.5 2 4 .9.6 1.1-.4 1-1.2.4-6-1-1.9-2.4-.1-1 1-.6zM250.9 209.4l.5.3-.5.6 0-.9zM234.4 210.2l.5-.3 3 1.1 7-1.3 1.4 1 .2 1-2.4 3-1.4 3.5-2.8.7-2-.6-2.4-2.1-1.6-5 .5-1zM339.9 211.6l1.5-.1 3 1 3.5-.6.4.3-4.9 5.2-5.5 2 .8-6.2 1.2-1.6zM223.9 213.7l0 .5-1.1 0 1.1-.5zM230.9 213.8l1.5.3 1.4 1.1.6 1-.2 1-1.3.2-1.5-1.1-.8-1.6.3-.9zM329.4 219.1l5.4.1-.9 1-1.5.2-2.7-.7-.3-.6zM278.4 239.2l1 0 .8 1-.8.1-1-1.1z"/>
<path fill="#3cbc28" fill-rule="evenodd" d="M345.4 185.6l1 0 .6.6 1.6 4 2.3 2.3 2 .2 4-.9 1.5.5 1.4 2.9-.3 2-2.1.9-4 .2-.9-.6-1.1-1.8-3 .3-3.5-.8-2-1-.8-1.2-.3-3 2.1-3.4 1.5-1.2zM323.4 204.5l.8 2.2 2.6 3.5-1.4 5.5-.5.3-1-1-1-3.3-2.1-2.5.1-1 2.5-3.7zM256.4 209.7l1.5-.3 2 1.7 3 .8.6.8-1.1.5-5-.4-1.3-1.6-.2-1 .5-.5zM242.4 210.6l2.5-.3.9.9-.2 1-4.2 5.1-2 .6-1.9-.7-1-2 .4-2.5 1.7-1 3.8-1.1zM340.4 211.6l4 1.1 3.2 0-4.3 4.5-4.4 1.3-.5-.3.5-5 .5-1 1-.6zM231.9 214.7l1.1 1-.1.7-1.5-1.1 0-.5.5-.1zM330.9 219.2l3 0 .2.5-2.2.6-1.7-.6.7-.5z"/>
<path fill="#88d028" fill-rule="evenodd" d="M345.4 185.7l1.5.5 1.5 4 2.5 2.5 2 .3 4-1 1.5.5 1.2 2.7-.4 2-1.8.8-4 .2-2-2.5-3 .3-3.5-.7-2-1-.7-1.1-.3-3 2-3.2 1.5-1.3zM322.9 205.9l.5-.1 3.2 4.4-1.7 5.4-1-.9-1-3.4-1.8-2.1.2-1 1.6-2.3zM256.9 209.9l1 .1 2.8 2.2-3.3.3-1-1.3 0-.9.5-.4zM241.9 211.2l2.5-.4.7.4 0 1-4.2 4.2-1.5.5-1-.2-.9-1.5.3-2 1.3-1 2.8-1zM339.9 212l1.5-.1 2.5.9 3 .4-4 4-4 .7.2-4.7.8-1.2zM331.4 219.5l2.2.2-1.7.3-1-.3.5-.2z"/>
<path fill="#c8e420" fill-rule="evenodd" d="M344.9 186.1l1-.3 1 .7 1.7 4.2 2.3 2.2 2 .3 4-.9 1.5.4 1.1 2.5-.5 2-1.6.7-3.5.3-1-.5-1.5-2.3-3 .5-3.3-.7-2.1-1-.7-1-.2-3 2.8-4.1zM322.9 206.7l2.5 2 1 1.5-1.5 4.9-1-.9-.8-3-1.7-2 .2-1 1.3-1.5zM256.9 210.4l1.1.3.9 1 0 .5-1.5 0-.7-1 .2-.8zM241.9 211.6l2.5-.1-.3 1.2-3.2 2.8-1 .4-1-.2-.5-1 .4-1.5 3.1-1.6zM340.4 212.1l5.5 1.1.2.5-3.2 3.2-3 .7-.6-.4 0-3.5.2-1 .9-.6zM332.4 219.7l.5 0-.5 0z"/>
<path fill="#f8e800" fill-rule="evenodd" d="M345.4 186l1.5.7 1.5 4 3 2.8 5.5-.9 1.5.4 1 2.7-.5 1.4-1.5.7-3.5.2-.7-.3-1-2-.8-.5-3 .6-4-1-1.5-.8-.6-1.3 0-3 2.1-3 1-.7zM322.4 207.7l.5-.4 1 .3 2.2 2.6-1.2 4-.5.4-.8-2.9-1.9-2.5.7-1.5zM257.4 210.9l.8.8-.3.2-.6-.2.1-.8zM241.9 212.1l1.5-.3.4.4-.3.5-2.6 2.1-1.5-.1.2-1.5 2.3-1.1zM339.9 212.6l1.5-.2 4.1 1.3-2.6 2.9-2.8.6-.5-.5-.1-2.5.4-1.6z"/>
<path fill="#f8a010" fill-rule="evenodd" d="M345.4 186.2l1.5.8 1.3 3.7 3.2 3.3 6-1 1 .3.7 1.9-.2 1.6-1.5.9-3.5.1-.6-1.6-1.4-1.4-3 .9-5.5-1.5-.8-1-.3-3 1.6-2.6 1.5-1.4zM322.4 208.1l1.5-.1 1.8 1.7.2 1-1.5 3-.8-2.5-1.6-2 .4-1.1zM241.9 212.6l.6.1-.3.5-1.8.9.3-.9 1.2-.6zM340.9 212.7l3.8 1.5-1.8 2.1-2 .6-.6-.2-.4-2.5.2-1 .8-.5z"/>
<path fill="#f85010" fill-rule="evenodd" d="M345.4 186.6l1 .1 1.6 4 2.6 3 .1.5-.8 1-4.7-.5-2.3-1.1-.3-3.4 1.8-2.9 1-.7zM357.4 193.5l1 .2.6 1.5-.3 1.5-1.8 1-2.5 0 0-.9 3-3.3zM323.4 208.2l2 1.5.2 1-.7 1.3-.5.1-2-2.9.5-1 .5 0zM340.9 213.7l2.5.5.1 1-2.2 1-.7-2 .3-.5z"/>
<path fill="#f80808" fill-rule="evenodd" d="M345.9 187.4l.5-.1.5.8.7 2.6 2 2.5.1 1-2.8-.4-2 .4-1.9-1 .4-1.1 1 .3.5-.4 1-4.6zM344.4 188.1l.2 1.1-1.2 1.8-.5-.2 0-.9 1.5-1.8zM357.4 194.2l.5-.3.5.4.4 1.4-.3 1-1.6.7-1.8-.2 2.3-3zM323.4 208.6l1.7 1.1-.2 1.3-.5 0-1.4-1.3-.1-.8.5-.3z"/>
</g>
<g clip-path="url(#clipd)" fill="none" stroke="#3a3a3a" stroke-width="0.55" stroke-linejoin="round">
<path d="M241.8 177.1l1.1-.2 1.6 1.3 2.7-.2 1.3.4 1.8-1.1 2.1-.4 2.7-1.2 2.7-.4 3.6 0 2.6-.6 2.7.4 1.8-.5 2.2 0 .1.9 1.3-.6.2 1.1-.9 1.1.9 1.1-1.6 1.6-.4.9 1.4.4 1.3.9 1.8.5 1.2-.1 3.6 1 .9 1.7 3.2.9 2.7 1.1 1.8-1.1.2-1.3-.2-.9 1.8-1.3 2.7 0 1.4 1.1 2.9.6.5.5 3.2.4 3.6.9 1.8-.8 1.8-.5 2.3.5 2.2.4 1.2-.4 1.3 3.3-.6 1.6-.6 1.6-1.2-1-1.7-2.9.1 1.2.7 1.5.9 1.6.6 1.3.7 1.3 1.2 2.7 1.1 1.2 2.4 3.5.5 1.8 0 2.5.3 1.5 2 1.4 1.4 3.6.4.9 1.3 1 1.7 1.8 2 1.8 1.4.5.4 1.5-.9.7 1.4.9 1.7 1.1 1.7-.6 2-.1 2.5-.6 2.7-.5 2.9-.9.1 2.7-.5.2-.7 1.9-1.8 3.1-1.8 3.6-1.8 2.4-1.8 2.2-1.8 1.8-2.6 1.8-2.7 2.7-1.8 2-1.3 1.4-1.2 1.7-.9 2-.7 1.1-.7 2.7 1.2.9-.4 2.3.8 2.7 1.2 1.3.2 2.7.2 4-.4 2.5-2.5 2.2-2.7 1.5-2.3 2.1-2.5 1.8.7 2.2.4 2.2.1 3.1-.9 1.2-3.5 1.5-.7 1.2.5 1.3-.9 3.3-2 1.4-2.1 3.5-3.4 2.5-3.1 1.8-1.6.5-1.6 0-3.7-.1-2 .9-2.7.7-1.4-.7-1.5-.6 0-1.4-.7-1.5.4-1.4-1.6-2.4-1.5-3.2-1.4-2.4-.9-1.3-.5-2.8-.7-3.9-.9-1.6-1.5-2.7-2.1-3.4-.6-2.4.2-2.3.7-2.8.6-1.8 1.9-2.7.4-1.8-1.1-2.7-.3-1.8-1.3-4.4-.2-.5-.5-1.4-1.4-2-2.4-2.6-1-1.8-.7-1.3.8-1.9.4-1.3.5-2.4 0-1.4-.7-1.5-.9-.9-1-.3-2.2.3-2 .2-1-1.1-.7-1.2-1.3-1.3-2.9 0-2.8.5-2.9 1.1-2.7 1.1-1.9-.5-2.7-.2-5.2 1.4-2.7-1.1-3.2-2.5-1.3-.9-1.6-.7-1.4-1.6 0-2-1.6-1.1-1.1-1.3-.9-.7-1.6-1.1-1.1-1.4-.2-1.5 0-1.4-.7-1.3 1.3-2.4.7-4.5-.4-1.1-.3-2.1-1.1-1.1.3-1.8 1.1-1.5.9-2 1.3-1.2.7-1.9.5-1.4 2.4-2.4 1.9-.9 1.8-1.2 1.8-1.5.7-1.4-.3-1.5 1-2.3 1.6-1.7 2.5-1.2 1.3-1.8.5-1.3z"/>
<path d="M340.6 263.6l1.1 2.6 1.1 3.4-.5 1.3-1.1 1.8-.4 2.1-1.4 4.2-1.3 3.4-1.4 4.6-1.8.5-1.8.7-1.9-1-.6-2.6-.7-2.7 1.1-2.2.9-2-.7-2.7 0-2.3.7-1.5 1.9-.5 1.5-.4 1.2-1.3 1.3-.7.5-1.8 1.5-.7.8-2.2z"/>
<path d="M313.6 185.2l1.3-2.1.3-1.1.7-1.5.8-1.4-.2-2 .7-1.4-1.3 0-1.6-.4-1.9 1.1-1.8.2-2.7-1.3-1.1.9-2 0-2.3-.5-1.8-1.7-1.8-4.5 78.8 0 0 26.8-15.2 0-3.6-.4-1.8-.3-2.1-.4-.6-1.6-1.2-.8-1.5.8-1.2.3-2.3-.5-1.8-1.1-1.8-.9-1.1-1.6-1.2-1.5-1.3-.9-1.8.2-.9 0-.5 1.1 1.2 1.6.8 1.5 1.2 1 1.1 1.1.2 1.7 1 1 .4-1.8.9-.1.2 1.6-.6 1.1.6.5 1.8.2 2.5.2 1.2-1.3 1.4-1.3 1.1-1 .6-.4 0 2.3.5 1 1.4 1 1.8.6 1.3 1.3 1 .7-1.4 2.7-.9 1.1-1.2 2.3-1.8.8-.6 1.2-1.8.4-.9.5-2.6 1.3-2.4.5 0 1.5-2.1.9-2.7 1.1-1.6 1.1-2 .1-2.7.9-1.7 1.1-1.8.4-1.3-.2-.5-2.3-.4-1.8-.2-1.9-1.2-1.8-1.5-1.8-.7-1.8-1.4-1.8-1.4-2.2-.2-1.4-1.1-1.8-1.8-2.4-1.8-3.1-1.4-2.3-1.1-1.5-.3-2.5-1.3-3.3z"/>
<path d="M294.5 178l1.4-.1 1.3-.1 2.3.2-.6.6-2.3 0-2.1-.6z"/>
<path d="M310.2 178.7l1.1-.9 3-.5-1 1.3-1.8.7-1.3-.6z"/>
<path d="M347.8 219.3l2.2-.2-.6.5-1.2 0-.4-.3z"/>
<path d="M309.3 242.8l2.5-1.4 1.5 1 .1 1.7-1.4 2.3-1.4.2-1.5-1.4.2-2.4z"/>
<path d="M304.7 248.1l.7 3.8 1.4 2.7.4 2.7.9.2-.7-3.8-1.7-3.7-.7-2.1-.3.2z"/>
<path d="M313.3 259.1l.5 3.1.5 2.3 1.1 3.3-.9-4.2-.5-3.2-.7-1.3z"/>
<path d="M249.2 178.6l.2 2.7-.6 2.3-3 .9-2.7 3.1-6.3 2.4 0 1.8"/>
<path d="M228.8 191.8l8 0"/>
<path d="M236.8 191.8l0 3-5.9 0 0 4.6-1.9.9.1 3-7.1 0"/>
<path d="M236.8 192.5l7 4.1 10.7 6.7 3.6 4.2 1.8-.4 2.9-.5 3-2.5 7.9-4.7"/>
<path d="M243.8 196.6l-3 0 1.8 15.6-10.6 1.8-1.4 1.5"/>
<path d="M223.2 212.2l3.2-.3 4.2 3.6"/>
<path d="M230.6 215.5l1.4 4-1.8 0-2.3-.4-5.4.4"/>
<path d="M232 219.5l4.3.3 1.4 3.5.4 1.8.7 1.6-1.3 1.3-.3.5 1.8 5.4"/>
<path d="M228.8 225.1l3.6-1.3 1.6 2.9-.4.7-1.8 2"/>
<path d="M234 226.7l2.3 1.6 1.2-.3"/>
<path d="M242.6 223.1l1.4-2.7 3-2.9 4.5-2.9 3.2-.4 4.1-.5 1.1-2.4 0-4.2"/>
<path d="M238.1 223.4l4.5-.3 4.8 1.4.3 2.9-1 3.3.5 2.1"/>
<path d="M247.4 222l5 0 1.6 0 2.3-1.3-.3-1.8-1.8-1.1-1.1-1.2-1.6-2"/>
<path d="M252.2 221.8l1.1 4.2.2 4.9"/>
<path d="M255.1 222l.2 3.6.1 5.1"/>
<path d="M257.4 220.2l1.4.5 0 2.7-1.6 2.2 0 4.9"/>
<path d="M258.8 220.7l1.1-3.2 4.7.7 3.9.5 5.9-.5 2.3-1.1 3.4-11.4.8-6.2-3.1 1.7-4.1-1.8"/>
<path d="M277.8 219.3l.7 1.8-2.3 2.9-2 2.5-1.6 3.5-2.1-.6-2.7 3.8"/>
<path d="M280.9 199.5l14.5 7.1 0-.9 1.8 0 0-3.6"/>
<path d="M295.4 206.6l-.2 6.9-2.7 3.1-.7 2.5 1.6 2.3-.9.8"/>
<path d="M277.8 219.3l.4 2.1 2.1 2.4-.7 1.8 2.5 2.4 3.6-.6 2.7-2 2.8-2.7 1.3-.5"/>
<path d="M280.3 223.8l-2.1 6.9 1 1.4 2.2 5.8-.2.7"/>
<path d="M281.2 238.6l3.2-3.2 1.3-1.3 1.4-1.4 2.7 1.4 2.7.6 3.6-2 1.6-.2 3.7 0 2.9 1.4 3.2 1.7"/>
<path d="M292.5 222.2l2.1 4 2.7 1.6 4.1 4.7"/>
<path d="M297.3 184.7l-.1 17.4"/>
<path d="M273 182l-2.7 5.1-.2 5.9-.7 1.5 1.4 3.2 2.9 1.7"/>
<path d="M267.4 175.1l-.5 5.1 2.1 3.4 1.3 3.5"/>
<path d="M297.2 202.1l21.3 0"/>
<path d="M293.4 221.4l5.4 1.9 1.9 1.2 4.7-.9 2.1.7 3.4-3.9 2.5 4.3"/>
<path d="M317.7 216l-.3 2.4-1.8 1.6-1.3 2.9-.9 1.8 0 2-1.9 1.1 4.1 4.1"/>
<path d="M321.3 209.3l-.9 1.8-1.9.4-.8 4.5 2.5-1.1 2.5.6 2.9.9 2.5 2.7 1.4-.2"/>
<path d="M327.2 221.8l1.8.4 3.2 4.3 5.8.9-5.2 5.4-3.4.8-2 1.2-1.3 0-.7-.7-2.1 1.5-2.7-.2-2.3-1.5-1.6-.7-1.1-1.3"/>
<path d="M327.2 221.8l1.8-.7"/>
<path d="M325.8 245l0-8.2 1.6-2"/>
<path d="M307.5 235.6l.7-.6 4-.2 1.1-.5 2.3-2.4"/>
<path d="M313.3 234.3l1 5.2-1.2 2.2.2 2"/>
<path d="M307.5 235.6l-1.4 3.4-.7 4 0 1.4 1.4-.5.2 2.3-2.2 1.7"/>
<path d="M313.3 243.7l6.6 3.8 2.7 2.9"/>
<path d="M307 243.7l2.3 0"/>
<path d="M281.2 238.6l3.1 6.2-2.7 2.3-1.6 1.5-2 2-3.6 2.3"/>
<path d="M285.7 234.1l-1.3 8.9"/>
<path d="M278.4 237.9l-2.2 0-3.6-.2-2.7 0"/>
<path d="M272.6 237.7l0 2.4-3 0"/>
<path d="M278.4 237.9l-.9 1.5.5 3.2-2.2 3.6-1.9-.7-1.6 3.5"/>
<path d="M274.2 252.4l1.5.2 5.9 0 .5 3.1 1.6.9 2.7-2 1.8 0 3.2.5.4 4.9 3.4 1.6.2 3.8-3.6 0 0 5.8 2.1 2.4-4.1 1.4-3.7-1.6-9.5-.7-3.3.5"/>
<path d="M295.4 265.4l0-3 2.5 0 1.9 1 1.3-.5 2 1.4 2.3 1.7 0-2-1.8-2.2-.2-3.2 4-1.7"/>
<path d="M305.4 266l1.2 4-2.6 1.6-3.3 2.7-3-.2-3.8-.5"/>
<path d="M307.4 256.9l3.9 2 1.8.4 1.2 3.4 5.2.2 5.2-2"/>
<path d="M312 267.2l-.9-.9.4-1.6.5-3.3 1.1-2.1"/>
<path d="M306.6 270l.2.9 4.5 1.2-.4 4.2.2 2.3-2.9 3.7-3.2-.4-3-2.9-2.9-2.3-1.4-2.6"/>
<path d="M315.4 267.8l1.3 1.1-.2 2.1-1.5 1.3-1.2-1.4-1.8-3.7-5.2 2.9"/>
<path d="M308.2 282.3l1.5 3.8 0 3.4 1.6.9"/>
<path d="M289.8 275l.2 6.7-1.8 0 0 5.1 0 6.5-4.7.7-1.6-.3"/>
<path d="M288.2 286.8l1.3 1.3 3.7 0 5 0 2.2-2.4 4.6-3.8"/>
<path d="M288.2 293.3l1.8.5 2.7-1.2"/>
<path d="M300.7 295.5l1.3-1.3 2.5 0 .5 1.8-2.1 1.3-2.2-1.8"/>
<path d="M307.9 288.6l2 .4-.4 2.1-1.6.2-.4-1.4.4-1.3"/>
<path d="M314.9 188.5l1.9.5 1.8-2.3 1.8 0 2.2-3.1 3.2 1.5 6.6 3.9 3.2.2 2.2-.5"/>
<path d="M317.7 183.4l4.9.2"/>
<path d="M315.9 182l.2.7 2.2.7 3.6-2 3.9-1.8.7-2.9"/>
<path d="M335.6 189.2l3.4 1.1"/>
<path d="M329.4 211.1l1.8-.7 3.5.4 1.8.5 3.6-2.9 5.4-.9.9 2.7 1 1.7"/>
<path d="M345.5 207.5l5.3-1.8 1.1-3.6-.7-1.3-4.6-2.7"/>
<path d="M351.9 202.1l.9-3.6.6-1.7"/>
<path d="M338.3 187.6l-1.1-2.4-1.9-2.7-1.5-2.1 0-3.1-1.7-3.3"/>
</g>
<path d="M216.6 307.6V309.8M216.6 176.7V174.5" stroke="#222" stroke-width="0.8"/>
<path d="M234.5 307.6V309.8M234.5 176.7V174.5" stroke="#222" stroke-width="0.8"/>
<path d="M252.4 307.6V311.8M252.4 176.7V172.5" stroke="#222" stroke-width="0.8"/>
<path d="M270.3 307.6V309.8M270.3 176.7V174.5" stroke="#222" stroke-width="0.8"/>
<path d="M288.2 307.6V309.8M288.2 176.7V174.5" stroke="#222" stroke-width="0.8"/>
<path d="M306.1 307.6V311.8M306.1 176.7V172.5" stroke="#222" stroke-width="0.8"/>
<path d="M324 307.6V309.8M324 176.7V174.5" stroke="#222" stroke-width="0.8"/>
<path d="M341.9 307.6V309.8M341.9 176.7V174.5" stroke="#222" stroke-width="0.8"/>
<path d="M212.4 296.2H208.2M359.6 296.2H363.8" stroke="#222" stroke-width="0.8"/>
<path d="M212.4 278.1H210.2M359.6 278.1H361.8" stroke="#222" stroke-width="0.8"/>
<path d="M212.4 260H210.2M359.6 260H361.8" stroke="#222" stroke-width="0.8"/>
<path d="M212.4 241.9H208.2M359.6 241.9H363.8" stroke="#222" stroke-width="0.8"/>
<path d="M212.4 223.8H210.2M359.6 223.8H361.8" stroke="#222" stroke-width="0.8"/>
<path d="M212.4 205.7H210.2M359.6 205.7H361.8" stroke="#222" stroke-width="0.8"/>
<path d="M212.4 187.6H208.2M359.6 187.6H363.8" stroke="#222" stroke-width="0.8"/>
<rect x="212.4" y="176.7" width="147.2" height="130.9" fill="none" stroke="#111" stroke-width="1"/>
<text x="204" y="189.9" font-size="6.5" text-anchor="end" fill="#222">30N</text>
<text x="204" y="244.2" font-size="6.5" text-anchor="end" fill="#222">0</text>
<text x="204" y="298.5" font-size="6.5" text-anchor="end" fill="#222">30S</text>
<text x="252.4" y="321.2" font-size="6.5" text-anchor="middle" fill="#222">0</text>
<text x="306.1" y="321.2" font-size="6.5" text-anchor="middle" fill="#222">30E</text>
<g clip-path="url(#clipe)">
<path fill="#90d0f4" fill-rule="evenodd" d="M66.4 375.2l1.3.7.9 2-1 1.5-1.7.5-1.5-.6-.4-.9 2.4-3.2zM157.4 376.9l2.3.5 2.5 2.5.9 2.5-.7 2-1 .1-.7-.6-1.2-3.5-3.5-1.5 0-1 1.4-1zM44.4 379.4l3.7 0-3.2.4-.5-.4zM43.4 379.9l.7 0-.7 0zM25.9 382.4l1.5-.4 1 .7 5.5.3 3-.3 2 2.6.5 3.1-2.5.4-3.5-2.7-2-.3-4.5 1.2-4.5 0-4 2.4 0-4 7.5-3zM156.4 391.4l3 0 4 .7 3-.5 1.5.6 2.5 2.3 0 24.1-.9 1.8.9 3.4 0 4.7-.7 1.4.7.9 0 24.3-1.8 2.3-.3 1 .8 2-.7.7-3 .4-4.5 1.5-3-.2-.9-.9.4-1 3-2.2 1.2-1.8-1.7-4.5-1-1.4-2.5-.7-3 .7-3.5-1.5-5 .7-4.6-3.8-.1-1 1.7-4.8 2.5-4 4-3.3.5-.2 1 .3-1-.6-.9-1.9.3-2-.8-3 .2-1 2.2-.7 1.5 1.9 1 .1.9-.8 1.3-4 .8-1.1 1-.3 3.5 1.1 1.5-.1 4.4-2.6.9-1 .1-1-1.4-1.6-5.3-2.4-2.2-2.2-2.5-1.3-1.5.7-3.5-.2-2.6 2-.6 1.5 1.9 3-.2 3.1-1 1-1.5.5-.7-.6-.3-1.5-1 0-3.5 5 1.3 1.5.1 2.5.8 2.5-.2 1.4-3.3 4.1-.2 1.5-2.4 3.5-6.1 1.9-2.5-.4-2-2.7-1-.6-8.5 2.1-7.5-.9-11-2.7-1.5.2-2.5 1.2-4-.5-1.6-.6-2.4-2.1-1-.3-3.5.6-4.5 2.8-2.5-1.3-6.5-.3-2.5-1.8-9-1-1.5-1-8 1.6-9.5.8-2-.1-5.5-1.9-5.5.9-2.5 1.1-4-.9 0-36.5 2 .7 3.5 2.5 6-.7 5.5 1.6 3-.8 4.5-2.6 10.5.1 4.5-1 4.5.8 4.5-1.9 2.5-.4 2.9 1.1 2.2 3 1.4.7 4.5-.8 4.5.3 3.5-.7 6.5 1.9 4.5-.3 2-1.3 1.5-.4 8.5 2.8 6.5-.3 11 2.5 3.5-1.8 4-1 1-1.9 5-4.3 2.5-.4 2.9-1.5 4.1-.9 4.5-1.6zM129.8 415.4l-.8 2-.5 4.5 1.9 2.4 1.5.6 3.5-2.6 1.6-1.9.1-1.5-3.9-3.5-1.8-.5-1.6.5zM138.7 423.9l-.3 1-2.6 2-.6 1.5 1.3 5.5 1.4.9 2-1 2.3-1.9.4-1-.5-1.5-2-2-1-2.5.4-1-.6-.4-.2.4zM67.9 489.4l.8 3-.4 2.5 4.6 3.8 1.1 1.7 0 2.5-1.1 2.5-2 .2-5-2.2-.3-.5 1.8-3.5-1.4-5.5 1.9-4.5z"/>
<path fill="#3a88cc" fill-rule="evenodd" d="M66.4 375.6l1 .3.9 2-.9 1.4-1.5.3-1-.4-.5-.8 2-2.8zM157.4 377.3l1.7.1 1.7 1.5 1.4 3-.3 1.7-.6-.2-.9-3-4-2 1-1.1zM44.9 379.3l2.7.1-2.7-.1zM26.4 382.4l1-.1 1 .9 3 .1 5.5-.6 2 2.9.5 2.3-1.5.6-1.5-.1-3-2.6-2-.3-5 1.3-4 .1-4 2.4 0-3.8 8-3.1zM154.9 391.9l4-.4 4.5.8 3-.4 1.5.7 2.5 2.4 0 23.1-1.3 2.3 1.2 4.5-.1 2.5-1 2.5.2.8 1 .6 0 19-.5.6.5.6 0 3.1-2.2 2.8-.2 1.5.5 1.5-.6.4-7 1.9-2.7-.3-.1-1 2.3-2.1 1.5-2.4-2.7-6-2.8-.9-3 .5-3-1.7-3 .5-2-.8-1 .3-3.1-1.9-.8-1 1.8-5.5 3.1-4.1 2.5-1.4 3 .9.2-.4-.3-2.5-1.8-2 .3-1-.9-3 .2-1.5.8-.3 2 1.9 1.5 0 2.4-2.6 0-2.5.6-1.2 5.5.7 4.5-2.8 1.2-1.2 0-1.5-1.7-1.7-4.8-2.3 4.8.5 1-.5-3-1.2-4 .1-4-2.3-2 .8-2-.6-1.5.3-3.1 2.4-.9 1.5-1.5.7.6 2.3-3.6 5.7-1 1.3-1.5-.1-.5.4-.6 1.7-2.6 2-1 1.5 1.3 2.5.7 3.5 2.2 1-.2 2.5-1.8 2.5-5.5 1.7-2.5-.5-2-2.7-1-.5-2 .2-2.5 1.2-3 .7-4.5-.3-4.5-.6-10.5-2.6-1.5.1-2.5 1.2-3.6-.4-1.9-.7-2-2-1.5-.5-3.5.6-4.5 2.7-2.5-1.2-6-.1-3-2.1-9-1-1.5-.9-8 1.8-9.5.8-2-.2-5.5-1.9-5.5.9-2.5 1.1-4-.9 0-36.1 1.9.7 3.6 2.7 5.5-.9 6 1.5 3-.8 5-2.5 10 0 4.5-.8 5 .8 4-2.1 2.5-.4 2.7 1 2.3 3.1 1.5.8 4.5-.9 4.5.3 3.5-.6 6.5 1.9 4.5-.2 2.5-1.6 1-.2 8.5 2.8 6.5-.3 11.5 2.5 3-1.9 4-.9 1.4-2.3 4.6-3.7 2.5-.5 3.5-1.7 4-.8 2.5-1.3zM130.1 414.9l-1.1 1.5-1.2 5.5.6 1.7 3 2.1 4-2.9 2-2.4.5-1.5-3.9-3.5-2.1-.7-1.8.2zM139.6 414.9l.1 3 .7.6.8-1.6.1-1.5-.9-1-.8.5zM125.6 425.4l-1.2.9.2.6 1.3 0 .9-.5.4-1-.3-.4-1.3.4zM129.2 428.9l-.6.5.5.5.8-.1.1-.9-.8 0zM146.9 414.3l1.5.8.6 1.3-.3 2-1.3 1.1-.7-.6.2-2-.5-2 .5-.6zM140.4 424.7l1.5.5 0 3.4-1.8-1.7-.3-1.5.6-.7zM67.9 489.9l.6 3-1.1 2.5 3 1.3 2.6 2.2.9 1.5-.3 3.5-1.2 1.5-1.5 0-5-2.5 1.8-3.5-.4-4-1-1.5 1.6-4z"/>
<path fill="#40b040" fill-rule="evenodd" d="M36.4 383.3l.7.6-.2 2.1-.7-1.1.2-1.6zM22.9 383.9l1.5-.4 1.1.4-.9 2.5-2.7.3-3.5 2 0-2.1 1.5-.5 3-2.2zM156.4 392.3l3 .1 3.5 1.3 4 .3 3.5 2.7 0 12-1.4.2.6 1.5-5.2-1.9-5 .7-4-1.9-4.5-.7-8.5 4.3-1 1.3-1-.2-3-2.1-2 2.9-3 .6-1.2-.5-.3-1-1.5-1.3-1-.4-1 .2-.9 2 1.9 2-.5 2.5-.5.7-2-.2-1.5.7-.8 1.3-.9 3 .7 4.5 2.1 2-1.1 4-.1 3.5-2 2-3.9 1.4-9.3-.9-.4-.5.5-1.5-.2-2-.6-1-1-.3-3.6 1.8 0 1 1.6 1-1 .2-6.5-1.5-3 1.4-3-.4-1.4-.7-.7-1 0-2.5-1.4-.4-3 0-1.4.9-2.1.1-3 2.2-2.5-.5-7 .4-2-2.7-6-.6-2.5-1.3-1 .8-1.5-.3-2.1.9-5.4 1.3-4-.2-3 1-5-.1-6-2-6 .8-2 1.1-4-1.2 0-33.3 5 3.1 3-.4 3-1.1 6 1.3 3.5-.9 3.5-1.8 1.5-.4 6.5-.3 3 .4 4-.5 6 1.2 3.4-3 2.6-.5 2.6 1.5 1.9 3.5 1 .4 5-1 8-.6 7 2.6 3-.8 2.5.5 1.8-1.6 1.2-.3 1.5.4 3 1.8 4 .9 6.5-.8 2 .8 3.5.1 5.5 1.5 4-2.4 4-.3.6-2.2 4.4-3.5 4-.7 3-1.8 3-.1 4-2.5zM83.4 406.9l.5.3-.5-.3zM65.1 407.4l.3.6 0-1-.3.4zM70.8 409.9l-4.4.6-2 1.4-.1 1 2.1 2 3.2 1.5.5-.5.7-3.5 1.5-2-.4-.6-1.1.1zM99.1 409.9l-.2 2.5 1 .5.9-1 0-1-.9-1.4-.8.4zM81.8 411.9l-1.1.5 0 .5 1.4 1.5.3 1.8 1 .5.4-1.8 1.2-1.5-.1-1-1.5-.6-1.6.1zM73.3 426.9l-1 1 1.1 2.3.5-.7.2-2.1-.8-.5zM109.2 429.4l-.5 1 .7 1.2.5.1.4-1.3-.4-.8-.7-.2zM79.8 430.9l.6.4.2-.4-.8 0zM164.9 420.7l1-.1.5.5 2.3 3.3-1.6 7-1.2 1.2-3 .1-3.5 1.1-.6.6 0 1 .6.3 3-.3.1 1.5 5.9 3.3.5 0 .5-1.6 1-.8 0 5.2-3.5 2.8-2 3.1-3.5 2.3-2.5-2.2-3.1-1.1-2.4-3 0-3.2 1.5-.1 2.5 1.1.5-.8-.8-3.5-2.7-1.2-1-1.2-.4-2.1.6-2.5-1.1-2 1.9-1 3-2.9 2-1.3 3.5.4 1.8-.7-2-1 2.2-2.2zM165.4 434.3l1.8.1-1.8-.1zM132.4 434.9l2.6 2-.2 2-3.4 1.8-2 .2-1.5-1.5-.7-2 .2-.4 3.5-.2 1.5-1.9zM148.4 438.4l1 .5.7 1.5-3.1 4 1 2.5-.3.5-.8.1-4.4-2.6 0-1.5.4-1.2 2-2 3.5-1.8zM164.9 454.3l.6.6.4 1.5-.8 3-.7.8-1.5.3-.3-1.1 1.2-2 .3-2.5.8-.6zM69.9 497.6l1.7.8 1.3 1.8-.4 2.7-1.1 1.2-1.5-.2-1.4-1.5 1.4-4.8z"/>
<path fill="#f8e050" fill-rule="evenodd" d="M23.4 383.8l1.6.1-.6 2.3-3 .6-3 1.7 0-1 1.5-.6 2.2-2.5 1.3-.6zM155.9 392.7l3-.1 4 1.6 4 .3 3.5 2.6 0 11.2-6-.7-5 1.3-4-2-4-.6-2 .5-8.5 5-4-3.5-1.5.1-2.5 2.2-1 .4-4.5-1.4-1.8 2.8.3 1.2 1 .8 0 1.2-3.7 2.3-1.2 4 .6 5 1.9 2.5-1.6 6.5-1 2-4 1.6-1.5-.5-3 .5-4.5-.7-.3-.4 1.9-4 .5-2.5-.4-2-1.2-.9-1.4.4-.6 1.2-1.5.2-1.2 2.6-2.3 2 0 1.6-5-1.1-3 1.3-2.5-.3-1.6-1.5-.1-3-4.8-.6-5.5-1.8-1.2.4-.2 1 2.1 1.5-.9 1.5-1.3.6-2.5-.8-6.5 1.1-1-.6-1-2.4-3-.6-3.5-.1-2-1.3-2 1.1-1-.4-2 1.1-5.5 1.4-1.5.1-2-.8-4 1.5-4.5-.3-5.5-1.8-6.5.6-2 1.1-3-1.4-1 0 0-31.7 1.5.4 2.5 1.9 1.5.3 2.5-.3 3-1.5 6.5 1.3 8-3 6.5-.4 2.5.6 4.5-.5 6 1.3 3-3 2.5-.9 1.5.4 1.5 1.5 1.1 3 .9.7 6-1.1 8-.7 6.5 2.9 3.5-1 2.5 1 2-1.9 1.5-.2 3.5 2.1 4 1.4 7-1.3 2 .9 3-.3 6 1.6 1-.2 3-2.1 4.5-.1.3-2.7 4-3 4.7-.9 2.5-1.6 2.5.2 4-2.9zM85.2 405.4l-2.7 1-.1 1 1 1 1.5.1 1.1-2.1 1.3-1-2.1 0zM65.2 405.9l-.9 2.5.6.5 1-.2.3-.8-.3-1.9-.7-.1zM76.4 407.9l1.5.7.8-.2-.8-.7-1.5.2zM71.2 409.4l-2.3.5-3-.2-2 1.9 0 1.3 2 2 4 2.2.9-1.2.6-2.7 1.6-2.3-.6-1.5-1.2 0zM98.7 409.4l-.6 3.5 1.3.9 1.5-1 .5-1.4-1-2.4-1.7.4zM82 411.4l-1.6.6-.4.9 1.4 1.5.2 2 2.3 1 .5-2.5 1.8-3-1.3-.7-2.9.2zM23.9 411.9l0 .6 0-.6zM93.5 413.9l-.1 1.2 1 0 .5-1.2-.5-.4-.9.4zM22.1 417.9l.8.6.6-.6-.6-.4-.8.4zM101.2 425.4l.2.6.5-.6-.7 0zM86.6 425.9l-.5 1 .3.7.6-1.2-.1-.8-.3.3zM71.7 426.4l-.3 1 1.5 4 1.4 1 1.1.1.2-.6-1.1-2.5-.1-2.9-2.7-.1zM114.1 430.4l1.9 4 .9.5 1.5-.7.8-1.8-.2-1-4.6-1.5-.3.5zM134.9 410.8l.7.1-1.2.8.5-.9zM164.9 421.3l.7.1.4 1-1.1.4-1-.3 1-1.2zM166.9 423.1l1.2.8.3 1.5-1.7 6-.8.6-1.5.1-2.2-1.2-.7 1-3.1 1.6-.5.9 0 1 .5 1.2 3.1-.7.9 1.4 6.5 3.8 1 1.3-6 5.9-3 1.3-2.5-1.6-2.3-.6-2.1-3-.2-1.5.6-.8 1.5.3 2 1.3.6-.3.4-1-.8-2.5-.2-2.5-3.5-1.3-.5-.7 0-1.5.8-1.5-1.2-2.5 4.9-4.5 6-.7 2.5-1.6zM132.9 436.6l1 .1.6.7-.7 1.5-3.4 1.2-1 0-.7-.7.1-1 2.6-.6 1.5-1.2zM147.9 440.9l.4.5-2.1 3 .7 2.5-3.4-2-.5-1.5.9-1.1 4-1.4zM70.9 498.7l1.2 1.7-.2 1.1-1 1-.6-1.6.1-1.6.5-.6z"/>
<path fill="#f87420" fill-rule="evenodd" d="M164.9 396.9l1 .3.7 1.2.8 3.1-.5.4-6-.2-.6.7-.7 3.5-.7.5-3.9-2.5-2.1-.4-3 .9-6.5 4.2-.5-.2-3.5-6 .3-1 4.2-2.1 1.5.1 1.5 1.4 1 .3 1.5-.8 1.5-2.1 2-.1 3.5 1.1 8.5-2.3zM46.4 400.9l4-.4 2.5 2.3 2-1.2 3 .3 1.5 1.1 1.2 2.4.3 2-2.7 3.5-.3 3-.5 1-3 1.6-2.5-1.6-1 .2-2.4 2.3-3.1 1.9-1.5.5-2.1 1.6-1.4 3.5-2 2.3.2-1.8-.4-1-1.8-1.1-2-.2-4.5 1.3-3.5 4.1-1-1.2-2 1.5-1-.8-4 1.2 0-8.5 2.5.5 1-.9 2-.4 2.5-3.7 4.1-1.8-6-6.5.1-1 3.3-3.5 1.5-1 4 .8 1.5 2 1 .3 2-2 4-1.9 4.5-.7zM86.9 401.9l.6 0 .2.5-2.3 1-1.5.1-.6-.6.6-.5 3-.5zM76.4 404.3l1 .1-.8 1-4.2 1.4-2 1.3-1.7-.2.3-1 2.9-.6 4.5-2zM97.9 404.8l.1 1.6-1.6 3-1.5.5-1-.3 0-.7 1.4-1 2.6-3.1zM116.4 405.3l2 .2 1.4 2.4.1 2.5-1.5 1.7-1.8-.7-2.5-2 .9-3 1.4-1.1zM132.4 405.9l2 0-.2 1-2 2-1.8.1-.4-1.1 2.4-2zM18.9 406.9l.6 1.5-.1.8-.5.2-.5-.5 0-2.3.5.3zM75.4 409.7l3.5.6.5.6-3.4 3.5-1.1 2.5-1 .6-.9-1.1.1-2 2.3-4.7zM89.9 412.3l1.5.1-.4 1-5.1 3-.5-1 .5-1 4-2.1zM18.9 414.4l.4.5-.9.8 0-1.4.5.1zM61.9 414l4.4 2.4 1.7 2-1.1 6.5 1.4 3.5-.4.9-2.5-.7-2.5-1.9-3 1.3-2 .3-3.5-5.4-.2-2 .7-2.2 1-.6 4-.8 2-3.3zM91.9 417.7l1.5-.1 1 .5 4.5 3.8 0 1-1.5 2.3-5.5 1.1-2.5 1.1 0-1.5 2.6-5-1.9-1.5-.1-.5 1.9-1.2zM116.9 417.7l1.5.1 1.8 2.1 1.7 8.7-1.5-.9-4.5.1-3-1-1.5 1.7-1.5-.8-2.5 0-2.1-1.3-.4-1.5 3 .4 2 1.3 1-.6 2-2.9.5-.1 1 1 1.5-.4 1-1.7 0-4.2zM77.4 423.3l2.5-.2 2 1.1 1.2 1.7.1 3-3.8-.9-3.1.4-.2-1.5 1.3-3.6zM48.4 424.3l1-.3 5.8 1.4-.5.5-2.3.6-2.5.2-1.2-.8-.3-1.6zM32.4 426.3l3 1.4 2.9-.3-.7 2 3.3 1.1.5.9-.4 1.5-1.7 0-3.9-1.4-2.5-2.2-1 1.3-2 0 0-1.2 2.5-3.1zM164.9 426.3l1 .2.5.9-.5 2.7-.8-.2-1.6-3 1.4-.6zM99.4 428.8l1 .2 1.1 1.4.3 1.5-.8 1-1.1-.4-.6-1.1-.3-1.5.4-1.1zM95.4 431.8l1 .5.2 1.1-.7 1.4-1 .7-.6-1.6 1.1-2.1z"/>
<path fill="#e02020" fill-rule="evenodd" d="M164.4 397.8l1 0 .4.6.1 1.9-1 .4-3.5-.1-1 .4-1 2.9-1 .8-3.5-1.4-2.5-.1-2.2.7-6.3 3.5-1.5-1.1-2.4-3.9.7-1 3.2-1.2 1 0 2 1.3 1 0 2.2-1.1 1-1.5.8-.3 5 .9 7.5-1.7zM49.4 400.9l1.5.5 2.5 3.6.5-.1.1-2 .9-.7 3 .9 2 2.1.2 2.2-2.5 3.5-.7 3.6-3 1.3-2.5-1.7-4.5 3.8-1.5.6-2.5 0-.4.4.2 1.5-2.8 1.7-4-.6-6 2.2-2 1.7-1.5-.3-2.5 1.7-1.5-.8-2.5 1.9-1.5.4 0-2.6 1.2-.8-1.2-1.2 0-2.5 3 .7 1-1.2 2.1-.8 2.4-3.4 4.2-1.6-.4-1-5.5-6 0-1 3.2-3.6 1.5-.5 1.5.8 2 0 1 1.8 1.5.7 1-.4 1.4-1.8 3.6-2 7.5-1zM55.2 410.4l-.8 1.5.5 1.1 1-.5.4-1.1-.4-1.4-.7.4zM116.4 405.8l1.5-.2 1 1.3.4 2.5-.9 1.8-.7-.3-1.9-2.5 0-1.5.6-1.1zM131.9 407.1l.8.3-.2.5-1.4.5.8-1.3zM76.4 410.3l1.6.1.6.5-2.7 2.3-2 2.5-.4-.8.3-1.5 1.7-1.5.9-1.6zM89.4 412.9l1-.2.3.2-.4.5-1.9.7-2 1.7-.5-.1.3-1.3 3.2-1.5zM61.9 415.7l3.5.7 1.5 1.5.3 3.5-.7 3.5 1.1 3-.2.7-1.5-.4-1.7-1.3-.4-1 .1-1.6-3.5 3-2 .6-3.6-5-.3-2 .9-2 4.5-1.2 2-2zM92.4 418.3l2 .4 3.9 3.7-.1 1-.8 1.3-3.5.2-1.1-.5-.3-1 .6-2-1.5-2.5.8-.6zM118.4 422.9l1-.2 1 1 .4 1.7-.4 1.6-4.5.3-2.5-1.4-1.3 0 .8-1.6 1 1 .5-.1 4-2.3zM78.4 423.8l1.5.6.2 2-3.2 1.4-.4-.4.4-1.8.6-1.2.9-.6zM106.4 425.9l1.8.5.6.5-.3.5-1.7-.5-.4-1zM164.9 427.2l1 .3 0 1.8-.5.1-.5-1 0-1.2zM95.4 433.3l0 .9 0-.9z"/>
<path fill="#a01818" fill-rule="evenodd" d="M152.9 400.3l4 .4.5.2.2 1-1.2.4-4.5-.6-.2-.3 1.2-1.1zM43.4 403.8l3 0 3.4 1.6 1.7 1.5.7 2-.4 1-.9.4-4-.3-1.7 3.4-2.3 1.6-2.5-1.3-1.9-2.8.4-1.7.5-.3 2 .5 1-.5.1-1-1-1 .6-2 1.3-1.1zM145.4 403.6l2.2.3-1.2 1-1 .1-.5-.6.5-.8zM28.9 407.9l6.5 2.7 1.2.8.2 1-1.9 1.3-2.5-.2-3.5-3.6-.4-1.5.4-.5zM36.9 416.9l1 .5-2.5.5 0-.5 1.5-.5zM61.4 417.7l1-.1 1 .5.6 1.8-2.3 4.5-1.3 1.3-1 .2-2.7-2.5-.6-2 .8-1.3 4.5-2.4z"/>
</g>
<g clip-path="url(#clipe)" fill="none" stroke="#3a3a3a" stroke-width="0.55" stroke-linejoin="round">
<path d="M50.6 372.1l1.1-.2 1.6 1.3 2.7-.2 1.3.4 1.8-1.1 2.1-.4 2.7-1.2 2.7-.4 3.6 0 2.6-.5 2.7.3 1.8-.5 2.2 0 .1.9 1.3-.5.2 1-.9 1.1.9 1.1-1.6 1.6-.4.9 1.4.4 1.3.9 1.8.5 1.2-.1 3.6 1.1.9 1.6 3.2.9 2.7 1.1 1.8-1.1.2-1.3-.2-.9 1.8-1.3 2.7 0 1.4 1.1 2.9.6.5.5 3.2.4 3.6.9 1.8-.7 1.8-.6 2.3.6 2.2.3 1.2-.3 1.3 3.2-.6 1.6-.6 1.6-1.2-1-1.7-2.9.1 1.3.7 1.4.9 1.6.6 1.3.7 1.3 1.2 2.7 1.1 1.2 2.4 3.5.5 1.8 0 2.5.3 1.5 2 1.4 1.4 3.6.4.9 1.3.9 1.7 1.8 2 1.8 1.4.6.4 1.4-.9.8 1.4.9 1.7 1 1.7-.5 2-.2 2.5-.5 2.7-.6 2.9-.9.1 2.7-.5.2-.7 2-1.8 3.1-1.8 3.6-1.8 2.4-1.8 2.1-1.8 1.8-2.6 1.8-2.7 2.8-1.8 1.9-1.3 1.5-1.2 1.6-.9 2-.7 1.1-.7 2.7 1.2.9-.4 2.4.8 2.7 1.2 1.2.2 2.7.2 4-.4 2.6-2.5 2.1-2.7 1.5-2.3 2.1-2.5 1.8.7 2.2.4 2.2.1 3.1-.9 1.2-3.5 1.5-.7 1.2.5 1.3-.9 3.3-2 1.4-2.1 3.4-3.4 2.6-3.1 1.8-1.6.5-1.6 0-3.7-.2-2 .9-2.7.8-1.4-.8-1.5-.5 0-1.4-.7-1.5.4-1.4-1.6-2.4-1.5-3.2-1.4-2.4-.9-1.3-.5-2.9-.7-3.7-.9-1.7-1.5-2.7-2.1-3.4-.6-2.4.2-2.3.7-2.7.6-1.8 1.9-2.8.4-1.8-1.1-2.7-.3-1.8-1.3-4.3-.2-.6-.5-1.4-1.4-2-2.4-2.5-1-1.8-.7-1.3.8-2 .4-1.3.5-2.3 0-1.5-.7-1.4-.9-.9-1-.4-2.2.4-2 .2-1-1.1-.7-1.3-1.3-1.2-2.9 0-2.8.5-2.9 1.1-2.7 1.1-1.9-.6-2.7-.2-5.2 1.5-2.7-1.1-3.2-2.5-1.3-.9-1.6-.7-1.4-1.7 0-2-1.6-1-1.1-1.3-.9-.7-1.6-1.1-1.1-1.5-.2-1.4 0-1.5-.7-1.2 1.3-2.4.7-4.5-.4-1.1-.3-2.2-1.1-1 .3-1.8 1.1-1.5.9-2 1.3-1.2.7-1.9.5-1.4 2.4-2.4 1.9-.9 1.8-1.2 1.8-1.5.7-1.4-.3-1.5 1-2.3 1.6-1.6 2.5-1.3 1.3-1.8.5-1.3z"/>
<path d="M149.4 458.5l1.1 2.6 1.1 3.4-.5 1.3-1.1 1.8-.4 2.2-1.4 4.1-1.3 3.4-1.4 4.6-1.8.5-1.8.7-1.9-1.1-.6-2.5-.7-2.7 1.1-2.2.9-2-.7-2.7 0-2.3.7-1.5 1.9-.5 1.5-.4 1.2-1.2 1.3-.8.5-1.8 1.5-.7.8-2.2z"/>
<path d="M122.4 380.3l1.3-2.2.3-1.1.7-1.4.8-1.5-.2-2 .7-1.4-1.3 0-1.6-.4-1.9 1.1-1.8.2-2.7-1.3-1.1.9-2 0-2.3-.5-1.8-1.7-1.8-4.5 78.8 0 0 26.8-15.2 0-3.6-.4-1.8-.3-2.1-.4-.6-1.6-1.2-.7-1.5.7-1.2.3-2.3-.5-1.8-1.1-1.8-.9-1.1-1.6-1.2-1.5-1.3-.9-1.8.2-.9 0-.5 1.1 1.2 1.6.8 1.5 1.2 1.1 1.1 1 .2 1.7 1 1.1.4-1.9.9-.1.2 1.6-.6 1.1.6.5 1.8.2 2.5.2 1.2-1.3 1.4-1.3 1.1-1 .6-.4 0 2.4.5.9 1.4 1 1.8.6 1.3 1.2 1 .8-1.4 2.7-.9 1.1-1.2 2.3-1.8.7-.6 1.3-1.8.4-.9.5-2.6 1.3-2.4.5 0 1.5-2.1.9-2.7 1.1-1.6 1-2 .2-2.7.9-1.7 1.1-1.8.4-1.3-.2-.5-2.4-.4-1.8-.2-1.8-1.2-1.8-1.5-1.8-.7-1.8-1.4-1.8-1.4-2.2-.2-1.4-1.1-1.8-1.8-2.4-1.8-3.1-1.4-2.3-1.1-1.5-.3-2.5-1.3-3.2z"/>
<path d="M103.3 373l1.4-.1 1.3-.1 2.3.2-.6.6-2.3.1-2.1-.7z"/>
<path d="M119 373.8l1.1-1 3-.5-1 1.3-1.8.7-1.3-.5z"/>
<path d="M156.6 414.2l2.2-.1-.6.5-1.2 0-.4-.4z"/>
<path d="M118.1 437.8l2.5-1.5 1.5 1.1.1 1.6-1.4 2.4-1.4.2-1.5-1.5.2-2.3z"/>
<path d="M113.5 443l.7 3.8 1.4 2.7.4 2.7.9.2-.7-3.8-1.7-3.6-.7-2.2-.3.2z"/>
<path d="M122.1 454l.5 3.1.5 2.3 1.1 3.3-.9-4.2-.5-3.2-.7-1.3z"/>
<path d="M58 373.6l.2 2.7-.6 2.3-3 .9-2.7 3.1-6.3 2.4 0 1.8"/>
<path d="M37.6 386.8l8 0"/>
<path d="M45.6 386.8l0 3-5.9 0 0 4.6-1.9.9.1 3-7.1 0"/>
<path d="M45.6 387.5l7 4.2 10.7 6.6 3.6 4.2 1.8-.4 2.9-.5 3-2.5 7.9-4.7"/>
<path d="M52.6 391.7l-3 0 1.8 15.5-10.6 1.8-1.4 1.5"/>
<path d="M32 407.2l3.2-.4 4.2 3.7"/>
<path d="M39.4 410.5l1.4 3.9-1.8 0-2.3-.3-5.4.3"/>
<path d="M40.8 414.4l4.3.4 1.4 3.4.4 1.8.7 1.7-1.3 1.2-.3.6 1.8 5.4"/>
<path d="M37.6 420l3.6-1.2 1.6 2.9-.4.7-1.8 2"/>
<path d="M42.8 421.7l2.3 1.6 1.2-.4"/>
<path d="M51.4 418l1.4-2.7 3-2.9 4.5-2.9 3.2-.3 4.1-.6 1.1-2.3 0-4.2"/>
<path d="M46.9 418.4l4.5-.4 4.8 1.5.3 2.9-1 3.2.5 2.2"/>
<path d="M56.2 417l5 0 1.6 0 2.3-1.3-.3-1.8-1.8-1.1-1.1-1.3-1.6-2"/>
<path d="M61 416.8l1.1 4.1.2 4.9"/>
<path d="M63.9 417l.2 3.6.1 5"/>
<path d="M66.2 415.2l1.4.5 0 2.7-1.6 2.2 0 4.9"/>
<path d="M67.6 415.7l1.1-3.3 4.7.8 3.9.5 5.9-.5 2.3-1.1 3.4-11.4.8-6.2-3.1 1.7-4.1-1.8"/>
<path d="M86.6 414.2l.7 1.9-2.3 2.9-2 2.5-1.6 3.4-2.1-.5-2.7 3.8"/>
<path d="M89.7 394.5l14.5 7.1 0-.9 1.8 0 0-3.6"/>
<path d="M104.2 401.6l-.2 6.9-2.7 3-.7 2.6 1.6 2.3-.9.7"/>
<path d="M86.6 414.2l.4 2.2 2.1 2.4-.7 1.8 2.5 2.3 3.6-.5 2.7-2 2.8-2.7 1.3-.6"/>
<path d="M89.1 418.8l-2.1 6.8 1.1 1.5 2.1 5.8-.2.7"/>
<path d="M90 433.6l3.2-3.3 1.3-1.2 1.4-1.5 2.7 1.5 2.7.5 3.6-2 1.6-.2 3.7 0 2.9 1.5 3.2 1.6"/>
<path d="M101.3 417.1l2.1 4 2.7 1.6 4.1 4.7"/>
<path d="M106.1 379.7l-.1 17.4"/>
<path d="M81.8 377l-2.7 5.1-.2 5.9-.7 1.5 1.4 3.2 2.9 1.7"/>
<path d="M76.2 370.1l-.5 5.1 2.1 3.4 1.3 3.5"/>
<path d="M106 397.1l21.3 0"/>
<path d="M102.2 416.4l5.4 1.8 1.9 1.3 4.7-.9 2.1.7 3.4-4 2.5 4.4"/>
<path d="M126.5 411l-.3 2.3-1.8 1.7-1.3 2.9-.9 1.8 0 2-1.9 1 4.1 4.2"/>
<path d="M130.1 404.3l-.9 1.8-1.9.4-.8 4.5 2.5-1.1 2.5.6 2.9.9 2.5 2.7 1.4-.2"/>
<path d="M136 416.8l1.8.3 3.2 4.4 5.8.9-5.2 5.4-3.4.7-2 1.3-1.3 0-.7-.7-2.1 1.4-2.7-.2-2.3-1.4-1.6-.7-1.1-1.3"/>
<path d="M136 416.8l1.8-.7"/>
<path d="M134.6 439.9l0-8.1 1.6-2"/>
<path d="M116.3 430.5l.7-.5 4-.2 1.1-.5 2.3-2.4"/>
<path d="M122.1 429.3l1 5.2-1.2 2.2.2 2"/>
<path d="M116.3 430.5l-1.4 3.5-.7 3.9 0 1.5 1.4-.6.2 2.4-2.2 1.6"/>
<path d="M122.1 438.7l6.6 3.8 2.7 2.8"/>
<path d="M115.8 438.7l2.3 0"/>
<path d="M90 433.6l3.1 6.1-2.7 2.4-1.6 1.4-2 2-3.6 2.4"/>
<path d="M94.5 429.1l-1.3 8.8"/>
<path d="M87.2 432.9l-2.2 0-3.6-.2-2.7 0"/>
<path d="M81.4 432.7l0 2.3-3 0"/>
<path d="M87.2 432.9l-.9 1.4.5 3.3-2.2 3.6-1.9-.7-1.6 3.4"/>
<path d="M83 447.3l1.5.2 5.9 0 .5 3.1 1.6.9 2.7-2 1.8 0 3.2.5.4 4.9 3.4 1.7.2 3.8-3.6 0 0 5.7 2.1 2.4-4.1 1.4-3.7-1.6-9.5-.7-3.3.5"/>
<path d="M104.2 460.4l0-3.1 2.5 0 1.9 1.1 1.3-.6 2 1.5 2.3 1.6 0-2-1.8-2.2-.2-3.2 4-1.6"/>
<path d="M114.2 460.9l1.2 4-2.6 1.6-3.3 2.7-3-.2-3.8-.5"/>
<path d="M116.2 451.9l3.9 1.9 1.8.4 1.2 3.4 5.2.2 5.2-2"/>
<path d="M120.8 462.2l-.9-.9.4-1.7.5-3.2 1.1-2.2"/>
<path d="M115.4 464.9l.2.9 4.5 1.2-.4 4.2.2 2.4-2.9 3.6-3.2-.4-3-2.9-2.9-2.3-1.4-2.6"/>
<path d="M124.2 462.7l1.3 1.1-.2 2.2-1.5 1.2-1.2-1.4-1.8-3.6-5.2 2.9"/>
<path d="M117 477.2l1.5 3.8 0 3.4 1.6.9"/>
<path d="M98.6 469.9l.2 6.7-1.8 0 0 5.1 0 6.5-4.7.7-1.6-.3"/>
<path d="M97 481.7l1.3 1.3 3.7 0 5 0 2.2-2.4 4.6-3.8"/>
<path d="M97 488.2l1.8.5 2.7-1.2"/>
<path d="M109.5 490.4l1.3-1.3 2.5 0 .5 1.8-2.1 1.3-2.2-1.8"/>
<path d="M116.7 483.5l2 .4-.4 2.1-1.6.2-.4-1.4.4-1.3"/>
<path d="M123.7 383.5l1.9.6 1.8-2.4 1.8 0 2.2-3.1 3.2 1.5 6.6 4 3.2.1 2.2-.5"/>
<path d="M126.5 378.5l4.9.1"/>
<path d="M124.7 377l.2.7 2.2.8 3.6-2 3.9-1.8.7-2.9"/>
<path d="M144.4 384.2l3.4 1.1"/>
<path d="M138.2 406.1l1.8-.7 3.5.4 1.8.5 3.6-2.9 5.4-.9.9 2.7 1 1.6"/>
<path d="M154.3 402.5l5.3-1.8 1.1-3.6-.7-1.3-4.6-2.7"/>
<path d="M160.7 397.1l.9-3.6.6-1.7"/>
<path d="M147.1 382.6l-1.1-2.3-1.9-2.8-1.5-2.1 0-3.1-1.7-3.3"/>
</g>
<path d="M25.4 503V505.2M25.4 371.4V369.2" stroke="#222" stroke-width="0.8"/>
<path d="M43.3 503V505.2M43.3 371.4V369.2" stroke="#222" stroke-width="0.8"/>
<path d="M61.2 503V507.2M61.2 371.4V367.2" stroke="#222" stroke-width="0.8"/>
<path d="M79.1 503V505.2M79.1 371.4V369.2" stroke="#222" stroke-width="0.8"/>
<path d="M97 503V505.2M97 371.4V369.2" stroke="#222" stroke-width="0.8"/>
<path d="M114.9 503V507.2M114.9 371.4V367.2" stroke="#222" stroke-width="0.8"/>
<path d="M132.8 503V505.2M132.8 371.4V369.2" stroke="#222" stroke-width="0.8"/>
<path d="M150.7 503V505.2M150.7 371.4V369.2" stroke="#222" stroke-width="0.8"/>
<path d="M21.4 491.09H17.2M167.4 491.09H171.6" stroke="#222" stroke-width="0.8"/>
<path d="M21.4 473.01H19.2M167.4 473.01H169.6" stroke="#222" stroke-width="0.8"/>
<path d="M21.4 454.93H19.2M167.4 454.93H169.6" stroke="#222" stroke-width="0.8"/>
<path d="M21.4 436.85H17.2M167.4 436.85H171.6" stroke="#222" stroke-width="0.8"/>
<path d="M21.4 418.77H19.2M167.4 418.77H169.6" stroke="#222" stroke-width="0.8"/>
<path d="M21.4 400.69H19.2M167.4 400.69H169.6" stroke="#222" stroke-width="0.8"/>
<path d="M21.4 382.61H17.2M167.4 382.61H171.6" stroke="#222" stroke-width="0.8"/>
<rect x="21.4" y="371.4" width="146" height="131.6" fill="none" stroke="#111" stroke-width="1"/>
<text x="13" y="384.91" font-size="6.5" text-anchor="end" fill="#222">30N</text>
<text x="13" y="439.15" font-size="6.5" text-anchor="end" fill="#222">0</text>
<text x="13" y="493.39" font-size="6.5" text-anchor="end" fill="#222">30S</text>
<text x="61.2" y="516.6" font-size="6.5" text-anchor="middle" fill="#222">0</text>
<text x="114.9" y="516.6" font-size="6.5" text-anchor="middle" fill="#222">30E</text>
<g clip-path="url(#clipf)">
<path fill="#d2e0f8" fill-rule="evenodd" d="M222.5 369.4l5 1.7 5-.8 6.5 2.8 2 .4 8.5-.8 2 .3 1 1 2.5 4.7 6 3.6 2.2 3.2 3.1 2.5 1.9 3.5 5.3 1.5 1 3.5.7 1 1.3.4 4-.4 1.5.4 4 2.6 4.5 4.5.5.1.6-2.1 1.4-1.8 3.5-2.9 1.5-.1 4 1.4 4.5.1 4 1.4 1.5-.4.9-1.7.2-5.5-.5-1.5-2.4-2.5 0-1 1.3-1.1 3 .8 2.4 1.8 1.1 3.6 2 3.4.2 5 1.9 4 1.8 7 3.6 4.4 4 1.6-.4 2-1.6 1.9-4.5 2-2.5-.2-3.7-1.7-2.2-2.5-.5-2 .5-1.5.9-1 3.6-1-1.8-5.5-1.3-1.1-5 .7-5.5 2.3-4 .2-2.3 1.9 2.3 1.9 1.5-.7 1 .2 2.7 4.1.2 1.5-1.1 3 .3 2.5-1.6 2.4-1.5.7-2.5-.8-2 .3-5.5 2.8-6.8 2.1-2.2 1.3-2.3-.3-3.1-3-1.1-.4-1 .7-1.5 2.5-1 .5-5.5.1-3-1.6-3 0-1.5 2.7-1.5.9-3.5-.2-4-2.7-3.5-.6-2 .3-3.5 1.7-5.5-.1-5.5 1.5-1-.3-2-2.3-2.5-1.5-2-.8-2.5-.2-1 .7-1.5 2.2-2 .9-1.5 1.7-2 .3-2 1.2-1.5 0-3.5-3.4-3.5-1.1 0-6.2 1.5-1-.5-1-1-.5 0-4.7.4-.8-.4-3.2 0-40.1 2.8-1.2 4.3-3 5.9-.9 4-2.2zM239.3 427.5l.7 1.1-.2-1.1-.3-.4-.2.4zM338 380.9l3 .1 3.5 2.6 1.8 2.4.3 2-1.5 2.5-.3 1.5.7 2.6 1.4 1.9 0 1-4.4 3.2-2 .9-10.5.3-4.5-1.5-1.2-1.4.2-1.9 5-6.2 1.5-.5 4 .9 5.5-.5.2-1.3-.5-1.5-4.6-5 .2-1 2.2-1.1zM342.5 434.3l1-.3 1 .4.7.6-.2.5-2.5.1-.4-.6.4-.7zM225 474.4l2.5-.1 1 .7-2 .7-3 .1-.9-.3.4-.5 2-.6zM246.5 487.4l1-.3 4 1.6 1.5 1.2.2 3.6.5 1 2.9 3 2.4 1.7 2.5 3.3.3 1.5-.8 1.3-5.5-.5-3 1.2-1.5-1.6-2 1.2-1.8 1.9-5.6 0 .3-2-.9-6 .5-1.6 1-1.1 3.5-.7 8 3.3.8-.4-.6-1.5-3.2-1.4-1.3-1.1-1.4-3.5-1.8-2.5 0-1.6z"/>
<path fill="#aabef2" fill-rule="evenodd" d="M222.5 370.5l5.5 2 6-.3 5 2.1 10-1 2 .5 2.5 5.2 5.7 4 2.3 3 3.4 3 1.9 3 5.7 2.5 1.4 3 1.1 1 5.3.5 2.2 2.6 5.9 3.9 2.5 5-1.4 2.1-.3 1.4.8.8 3.5.1 2 .8.6 1.3-.1 3.5 1 1.4 2 .3 3-1.9 1.3-.3.7 4 2 .2.6.8-.1 1.1-1.5 1-4-.5-5 3.1-4 .5-4 1.9-3 .4-14-6-1 1 .5 1 2 1 3.7 1-1 2.5-3.7.7-1.5-.4-2-1.5-4 0-1 .7-1.9 2.5-2.1.7-1.5-.3-1.4-1.4-1.2-2 .2-2-1.1-.7-4-.3-1.5.5-.4 1 .4 1.5-1.5 1.1-.5.1-.3-.7-.7-.3-3.1 1.3-3.9-.2-1.5.4-2-1.4-2.5-.6-2-1.5-7-1.4-2.5.4.2-2.2 2-3.5-.7-1.9-1.5-.8-2-.1-3 2.2-1.5.2-1.5-.5-.7-1.6 5.7-4.1 1 2.6 3.2 1 3.3 2.6.1-2.6-.6-2-2.7-3 .7-3.5-.6-1-2.4-.2-4 2-2.1.2-5.9 5.1-.7-2.1-1.8-1 0-37.9 7.5-4.2 6-.7 3.5-1.7zM286.5 410l-1.7 1.5-.6 1.5.3 1.6 1 .8 1 0 .7-.9.2-4-.4-.6-.5.1zM280.7 414l-.4 2 .7.6.9-1.1.2-1-.6-.9-.8.4zM253.3 417.5l.2 1.4 1.2.6.2-1-.4-.8-.5-.4-.7.2zM243.3 423l-1.8.8-3 .5-.8.7.1 3 .9 3 .8.7 3.4-.2-1.3-3.5.4-1.5 2.3-3-.3-.7-.7.2zM229.6 427.5l-.6.5.5.6 1.1-1.1-1 0zM338.5 381l1.5-.1 1 .4 3.5 2.6 1.5 2.1.3 2-1.5 2.5-.3 1.5.9 3 1.1 1.5 0 1-4.5 3.2-1.5.4-6.5 0-3.5.5-5-1.6-.8-1 0-1.5 5.3-6.1 1.5-.4 3 .8 6.4-.3.1-2-.5-1.5-4.5-5 .3-1 2.2-1zM311.5 387.9l2.5.3 2.6 1.8 1.4 4 1.7 3 .2 5 2.2 4.5 1.4 6.2 4 5.2 3.1 1.6.1 1-.7 1.5-4 2.3-2.5.2-4-1.8-1-.8-1.6-2.4 0-1.5 1-1.5 3.9-1-1.6-3.5-.7-3-1-1.1-6 .7-6 2.6-3-.3-3.5.7-3-1.9-2 1.1-.8-.3-1.8-7 .9-1.5 3.2-2.8 1.5-.2 3.5 1.5 5-.1 4 1.5 2.2-.9.5-2 .2-5.5-.5-1.5-2.1-2.5-.1-1 .8-.6zM210 430.3l1.5.4 2.3 2.8.1 1.5-1.4 1.7-.9-.7-.4-3-1.6-2.5.4-.2zM224 474.9l2.5-.4.7.5-2.7.7-1.1-.2.6-.6zM247.5 487.8l5 2.3.4.9-.1 3 2.4 3-.2.2-3.5-1.2-1.4-1-1.5-4-1.6-2.4.5-.8zM244 496.9l2.5.1 5.5 2 1 1 0 1-.7 1-5.9 5.5-3.9 0 .2-1.5-1.4-6.5 1.2-1.9 1.5-.7zM255.5 497.2l3 2.2 2.6 3.1.3 1-.4 1.3-1.5.2-4.2-1.5-.3-1.5.5-4.8z"/>
<path fill="#7c94f0" fill-rule="evenodd" d="M222 371.4l6.5 2.2 6-.1 4 1.5 9.5-.9 1.5.3 1.3 2.1 1 3.5 5.8 3 8.4 9.4 4.5 1.9 4.3 4.7 3.7.5.8.5 5 5 .7 2.5-.4 2-1.6 1.6-2.5 1-1.5 3-1.5.7-5.3 1.2-1.7 1-.1 1 3.6-.3 3-1.5 1.8.3.7 1 0 4.5 1.2 2.5 1.8 1.5 6.4 1.5.3.5-.3 1-1.9 1.2-3-.1-8.5-4.1-.6-1 .9-4.5-.8-1-3.5 1.9-2 1.7-1.9 2.4-.6 2.3-.5.4-.8-.2-1.2-2.3-1.4-.2.4 2.4 1.5.5.2.6-.7.3-1.5-.6-2.4.3-.7 2.5-1.4.8-.3-3.8.4-7-1.6-2.1-1.6-3.4-1.4-1.2-2.2.2-1.3 1.8-2 .5-1.9 1.7-.6.1.7-2.6 2.8-1.2-3.5 0-4-1.4-1.3.1-1.1 1-.1 1 3.5 2.2 0 2.2-1.5 1-3.6.1-2.6 2-.8 1.3-2-1.9-3.5 1.5-1.5-.8-.8-2.6-.5-5.5.8-1 1.5 0 .8-2-1.8-.8-1-1.1-1.8 1.4-.2 1.8-.5-.3.4-1.5-.3-1.5-2.6-1.3-8 2.1-5 2.3-3-.8 0-36.4 5.5-2.3 2.5-1.8 6-.4 2.5-1.5zM234.4 384.5l-.6 1 1.2 3.4 2 .3 1-.5.8-1.7-.3-1-3-1.5-1.1 0zM231.8 389l.2.8 1 .3 1-.1.7-1-2.9 0zM338 381.4l2.5-.1 3.5 2.5 1.5 1.7.5 2-1.5 3-.2 1.5.7 3 1.2 1.5-.1 1-1.1 1.1-4 2.1-7 .1-3.5.6-4.4-1.4-1-1 .1-1.5 5.3-5.4 8.5-.2 2 1 .5-.4-.7-4.5-1.7-2-.7-2-2.1-1.5 1.7-1.1zM311.5 388.4l2.5.1 2.6 2 1.1 3.5 1.8 3.2.1 4.8 2.4 4.9 1.4 6.1 3.6 5.1 2.5 1.9.2 1-.6 1-3.1 1.9-2.3.1-4.2-2.5-1.5-2.2-.2-1.3 1.2-1.3 4.7-.2 0-.5-1.2-.8-1.6-2.2-1.2-4.5-.7-.9-5-.4-6 3.2-2.5.4-2.5-.7-3 .1-3.5-2.1-1.5.6-1.5-2.8-.3-1.9.4-1 3.9-2.5 1 .1 2.5 1.5 4.5-1.1 4.5 1.5 3.6-.5.4-.5-.5-1.5.1-6.5-.5-1.5-1.8-2.5.2-1.1zM291 420.4l.5.3 0 .8-1 1.7-.4-1.2.9-1.6zM251 421.8l1-.2 1 .9.1 3 1.7 1.5-.7.5-2.6.4-3.6-1.4.9-3.5 2.2-1.2zM244 428.9l1 1.3-.8-.2-.2-1.1zM224.5 475l1.6 0-1.6 0zM249 489.2l3.2 1.8-.1 2.5.9 2.3-1.5-.1-1.4-1.2-.7-3.5-.9-1.5.5-.3zM244.5 497.4l1.5.1 5 1.6.8.4.5 1-2.5 3.5-4.4 3.5-1.7 0-2.2-7 .7-2 2.3-1.1zM256.5 498.5l1.6 1 2.6 3 .3 1.5-.5.7-3-.6-1.5-1.1-.3-2 .8-2.5z"/>
<path fill="#6078e8" fill-rule="evenodd" d="M222 372.3l1-.1 6.5 2.6 3.5.2 2-.4 4.5 1.1 8-.5 1.1 2.3.6 3 .8 1 3.5 0 3 1.7 4.9 5.3 1.5 2.5 2.8 2.5 3.8 1.3 1.5 2.2 3.5 2.3 4 1.1 3.9 5.1.8 2-.1 1.5-2.6 1.4-3 4.3-6.6 1.8-2.7 1.5-1.7 2-.7 2.5-1.8 1.6-2 .6-1.5-.2-.3-.5 1.6-1.5-1.6-5.5-1.4-.5-1.3 1.4-2.1-2.4-1.4-.7-4-.6-5.5.8-3.5-1.4-3 .6-10.5-4.1-2.5.7-4-1.1-3.5.5-8.5 3.4-1.5 0-2-1.1 0-34.7 5.5-1.8 3-2.2 5 0 3-1.5zM233.2 382.5l-2.9 1.5-.7 1 .1 3.5 1.1 2 1.2.5 3.5-.1 3.5-.7 1.5.6 1-.2 1.1-3.1-1.6-3.4-3-.1-3-1.4-1.8-.1zM244.5 383l-1 1.5-.3 2 .4 1 .9.2 1.8-.7.2-2 .9-1.5-1.9-.8-1 .3zM212.8 394.5l.6 2 1.1.2.7-1.2-.3-1-1.4-.5-.7.5zM338.5 381.5l1.7 0 .8 1 3.3 2 1.1 1.5.1 1.9-1.5 3.1.5 3.8-1-.2-1.2-1.6-1-4.5-1.6-2.5 0-1 1.1-1.5-.1-.5-3.6-.5 1.4-1zM312.5 388.5l2.8 1 1.3 1.5 1.1 3.5 1.5 3 0 4.5 2.3 4.3 2 7.7-1 .1-1.5-1.6-1.5-5.3-3.9-1.2-1.2-1-.1-1 1.2-2.5-1.7-2 0-6.5-2-4 .7-.5zM337 392.5l2.5 0 3 2.4 1.5.1 1.5 1 .5 1-1.5 1.6-3.5 1.6-7.5.3-3 .6-3.7-1.1-1.2-1 .1-1.5 4.8-4.5 6.5-.5zM297 402.5l3.5 1.3 1.5-.3 3-1.5 6 1.2 1.1.8.4 2-.5 1-3.3 2.5-3.2.9-2-1.1-4-.4-3-2.7-2-.4 0-2 2.5-1.3zM320 417.4l1-.2 2.5 1.1 2-.6 2.2 3.3-.2 1.5-2.5 1.2-3.5-1.9-1.7-2.3-.2-1.5.4-.6zM229 418.5l1.3.5-.8 2.2-1 .9-.6-.6-.1-1.5.2-1 1-.5zM278 425.7l1.1.8-.6 0-.5-.8zM282 429l1.3.5-1.2 0-.1-.5zM250.5 492.1l.5 0 1 3.1-1.5-.8-.3-1.4.3-.9zM244.5 498l6 1.4 1.1 1.1-.6 1.5-2.1 2.5-3.4 2-1-.1-1-1.1-1.7-4.8.7-1.8 2-.7zM256.5 499.4l1 0 1.1 1.1 2 2.5-.1 1.2-2 0-1.9-1.2-.5-1.5.4-2.1z"/>
<path fill="#10a030" fill-rule="evenodd" d="M222 373.4l1-.4 3.5 2.2 5.5 1.2 3.5-.7 2.2.8 1.3 1.4 3.5-1.7 1-.1.7.4.2 1.5-.4 1.5-1 .7-2 .2-1.5 1.7-6-.9-4.5 1.8-.6 1.5-.2 3.5 1.3 2.7 1.5 1.2 7-.5 3.5.5 3.5-2.6 4.5-.1-1.7-3.7 3.7-2.8 2-.4 3 1.9 3.8 4.3 1.5 3 2.2 2 0 2.1 4-.1 2 2.6 5 2 2 .2.9.7 2.4 4 .6 2-.4 1-3 1.9 1.1 1.1-.7 2-1.9 1.6-8.5 2.3-2-.9-3.5.3-4-1.5-7-1.4-6.9.6-4.1-2.7-.5-.2-.5 1.2-.6.2-1.2-.5-1.2-1.3-1 .8-1 0-6.5-2.5-2.5.9-7-.9-8.5 3.7-1.5.1-1-.5-1.5-1.4 0-12.5 5-2.6 3.5 2.4 2.5-2.1 2.5.3 1.3-.9-.8-1-2.5.1-1-1.9-7 .4-1-.9-.4-2.2 3.6 0-.1-1.5 2.7-3.5.4-2.5 1.8-1.5-.7-4 .4-1 4.8-1.6 1.5-1zM256.4 397.5l-3.9 3.6-.6 1.4 5.1-.8 1-.7.5-2-1.5-1.7-.6.2zM263.8 398l-3.3 3.5-.4 1 .2 1 2.2.8 2.5 2.2 2.7 0 .4-4.5-.3-1-2.6-3-1.4 0zM208.9 402l.1.9-.1-.9zM207 377.9l1.5-.1 1.1.7 1.7 3-.1 1.5-1.2 1.5-3 1.2-1.5.1 0-7.4 1.5-.5zM342 384.9l1-.3 1 .4.9 1.5-1.5 4 .6 3-.5.1-.5-.9-2.3-6.7 1.3-1.1zM313 389l2.5 1 1 1.4 2.1 6.1-1.1 3.3-1-.8-2-.5-.2-.5-.1-5.5-1.6-4 .4-.5zM333.5 393.5l6-.3 2.5 2 3 1 .6.8-.6 1-3.5 1.7-8 .4-3 .7-1.4-.3-2.3-1-.6-1.5 3.8-3.6 3.5-.9zM317.5 401.3l1.5 1.4 1.5 2.9-1.5-.2-1.4-.9-.5-1.5.4-1.7zM304.5 403.3l2-.1 3.7.8.7 1-.2 1.5-2.5 2.5-1.7.7-1-.1-2-1.2-3.5-.5-1.5-1.4 0-1.3 3-.2 3-1.7zM321 407.8l.5-.1.5 1.3 0 3.1-1-1.1 0-3.2zM322 419.8l3-.1.7 1.3-.1 1-.6.2-2.4-.7-.9-1 .3-.7zM243 498.9l3.5-.1 4 1.2.4 1-2.9 3.9-1.5.9-1.5 0-1.5-1.4-1.3-2.9-.1-1.5.9-1.1zM257 499.7l1 .5 1.8 2.3.3 1.5-1.3 0-1.8-1.2-.5-1.3.5-1.8z"/>
<path fill="#44b844" fill-rule="evenodd" d="M223.5 374.4l1.4 1.6.6 3 1.5 3 0 6.5 3 4.7 1 .3 2-.6 6-.6 3 1.1.8 3.1.7.7 2-1 2.2-.2.8-.6.9-1.9 3.5-3 .1-1-.5-1.3-2.5-2.7 1.7-2 1.8-.3 1 1.1 1.5.4.9.8 2.3 4.5-1.2.8-2.6.2-.6 1 .6 2.5-.7 2.5-5.3 5 2.1 1.4 7-.8 2 2.3 5 2.4 2.5 0 3.5-1.6 2 .1 1.2 1.2 1 3 1.8 1.5 0 1-2 1.7-8 1.9-2-.9-5-.1-4-1.9-10-.9-2.5.4-4.5-2.6-2 0-11.5-2.8-1.9.2-.1 1-.5.4-2.5-.3-1.4-.6-2.6-2.3-1.4.8-.4 2.5-.9 1-4.8 1.4-1.5 0-1-1.4.5-1.6 3 .8 2.9-2.7-.2-5 .4-1.5 2.4-2.4 1-.1 2.5.9 1.5-.6.6-.8-.1-2.5-4.3-4-1.2-4.5-.5-.4-1.1.4.6-1.7.5-.4 1 .2.3-.6.2-3.5 1-2.2 1.5-.5 2.6.2.5-2.5.9-.6zM226 397.5l-2.6 1 0 1 1.1.2 1.6-1.7-.1-.5zM228.5 377.4l6.5-.1.3.7-.8 1.2-3 1.5-2 .3-1.4-1 .4-2.6zM242 377.5l.5 0 0 .7-2 .7 1.5-1.4zM314 390.2l1 .1 1 .9 1.5 4.8 0 1.1-1.5 1.2-1-.3-1-7.8zM337.5 394l2 .1 3 2.1 2 .5.5.3-.8 1-2.7 1.1-3.5-.3-7.5 1.4-2.5-.6-1-.8.5-1.4 3.2-2.4 6.8-1zM259.5 395.1l1.5.4 0 1-.5.6-1 .1-.5-.6 0-1 .5-.5zM210 397.9l.2.6-4.7 3 0-1.6 4.5-2zM270 399.9l1.3.1.8.5 0 .5-1.6.8-.6-.8.1-1.1zM277 402.7l2 3.2-.5 1.1-1-.4-.5-.9 0-3zM304.5 404.8l1.5-.3.9.5.7 1-.6 1.5-1 .6-4.4-1.1.4-.9 2.5-1.3zM243 499.3l2-.2 3.7.9 1.1.5.3 1-2.1 3.1-2.5.7-1.5-1-1.2-1.8-.5-2 .7-1.2zM257 500.5l1 .1 1.7 2.9-1.2 0-1-.6-.5-.9 0-1.5z"/>
<path fill="#a4e874" fill-rule="evenodd" d="M218.5 380.2l1.5.3 1.1 1.5.4 4.9 1 .5 2.7.1-.7 2.5 2 1 .1 3-.5 1.5-1.1.8-1.2-.3-1.6-3-2-2-.1-.5.9-1.5-2.8-2.5-.2-5.5.5-.8zM254.5 385.5l1.2 0 .6 1-.1 2-1.2.7-1-.7-.6-1.5.3-1 .8-.5zM238.5 393.4l1.5.1 1 .6.1.9-.8 2 .8 1.5 4.1 2.5 1.8.5 1.6 1.5 2.4.9 4-.5 3 .4 2.5 1.7 5 2.3 7.5-.5 3.5 4.3.2.9-1.9 1.5-6.8 1.5-2-.7-5-.3-4.5-2.1-7.5-.3-3.5-1.8-1.5.8-1.5 0-3-1.6-2.5-.1-11-2.5-4 .5-2.5-.6-1.3-1.3-.3-1.5-2.4-.2-.7-.8-.1-2 1.3-2.1 3.5 2.2 5.4-.1 1.9-.5.2-1 2-1.2 4.4-1.3 1.4-2.5 1.2-.5.4.5-2.6 3 .4 1 .8.3 3.1-3.8.4-1.6zM338.5 395l1.5.4 2.1 1.6 0 1-.6.3-4-.9-8 1.4-1.1-.3.4-1 2.6-1.5 2.6-.5 2.5.1 2-.6zM243 499.9l2-.3 4 1.4.2 1-.6 1.5-1.6 1.3-2-.2-2-2.4-.3-1.2.3-1.1zM257.5 501l1.1 1 .1 1-1.2-.8 0-1.2z"/>
<path fill="#f8f020" fill-rule="evenodd" d="M231.5 400.4l2.5-.2 4 1.5 4.5-.6 4 1.2 4.5 2.2 5-.5 9 4.1 7-.1 1.5 1 2.3 3.5-1.8 1.3-6 1.1-2-.6-5-.4-4.5-2-7.5-.2-4-2.8-3.5 1-3-1.4-2 .3-11-2.4-5 0-1-.4-.4-1 2.5-2.5 9.9-2.1zM236 403.5l-.3 1.5 1.3 1.4 1.8-2.4-1.3-.9-1.5.4zM244 500l4.1 1.5.4 1-.5 1.1-1.5.8-2-.8-1.5-2.6 1-1z"/>
<path fill="#f01010" fill-rule="evenodd" d="M230 401.5l3-.4 1 .4-.7 2.5.7 2.9-5 .1-3.5-1.1-3 .1-1-.5.8-2 1.3-1 6.4-1zM245 402.9l1.5 0 3 1.6.9 1 .5 1.5 1.1.7 1-.2 1.3-2.5 1.2-.2 8 3.4 4 1.3 3-.7 1.5.2 1.5 1.2 1.1 2.3-1.1.9-3.5.8-6.5-.4-3-.7-4-1.7-7.5-.1-4-3.1-4 .8-1-.5-1.2-1.5.1-1.5 4.1-2.4 1 .5 1-.7zM244 500.6l1.5.3 1.8 1.1.4 1-.4.5-1.3.3-1.5-.8-1-1.5.5-.9z"/>
<path fill="#c00c10" fill-rule="evenodd" d="M224.5 402.8l6 .1.7 1.1-.1 2-.6.5-2 .1-2.5-1.5-2-.5 0-1.1.5-.7zM246 403.5l1 .1 1.7 1.4.2 2 2.5 3-.6 1-2.3-.4-3.5-3-3.5.5-1-.6 1-1.3 3.6-1.2.9-1.5zM255.5 408.4l8 .6 4.5 1.7 3.5-.6 1.3.9.2 1.5-3 1.1-2.5-.6-4.8 0-7.4-2.5-.7-1 .9-1.1zM245 501.6l1.2.9-.2.4-1.5-.9.5-.4z"/><path d="M246.3 421.5l.9 2.6.2 2.2-.8-.6-.6-2.2z" fill="#1a1a30"/>
</g>
<g clip-path="url(#clipf)" fill="none" stroke="#3a3a3a" stroke-width="0.55" stroke-linejoin="round">
<path d="M236.7 372.6l1.1-.2 1.6 1.3 2.7-.2 1.3.3 1.8-1 2.1-.4 2.7-1.3 2.7-.3 3.5 0 2.7-.6 2.7.4 1.8-.6 2.2 0 .1.9 1.3-.5.2 1.1-.9 1.1.9 1.1-1.6 1.6-.4.9 1.4.4 1.3.9 1.8.5 1.2-.2 3.6 1.1.9 1.6 3.2.9 2.7 1.1 1.8-1.1.2-1.2-.2-.9 1.8-1.3 2.7 0 1.4 1.1 2.9.5.5.6 3.2.3 3.6.9 1.8-.7 1.8-.5 2.3.5 2.2.4 1.2-.4 1.3 3.3-.6 1.6-.6 1.5-1.2-1-1.7-2.9.1 1.3.7 1.5.9 1.6.6 1.2.7 1.3 1.3 2.7 1 1.3 2.4 3.4.5 1.8 0 2.6.3 1.4 2 1.5 1.4 3.6.4.9 1.3.9 1.7 1.8 2 1.8 1.4.5.4 1.5-.9.7 1.4.9 1.7 1.1 1.7-.5 2-.2 2.5-.6 2.7-.5 2.9-.9.1 2.7-.5.2-.7 2-1.8 3-1.8 3.7-1.8 2.3-1.8 2.2-1.8 1.8-2.6 1.8-2.7 2.7-1.8 2-1.3 1.4-1.2 1.7-.9 2-.7 1-.7 2.8 1.2.9-.4 2.3.8 2.7 1.2 1.3.2 2.7.2 4-.4 2.5-2.5 2.2-2.7 1.4-2.3 2.2-2.5 1.8.7 2.2.4 2.1.1 3.1-.8 1.3-3.6 1.4-.7 1.3.5 1.3-.9 3.2-2 1.5-2.1 3.4-3.4 2.5-3.1 1.8-1.6.6-1.6 0-3.7-.2-2 .9-2.7.7-1.4-.7-1.5-.5 0-1.5-.7-1.4.4-1.5-1.6-2.3-1.5-3.3-1.4-2.3-.9-1.3-.5-2.9-.7-3.8-.9-1.6-1.5-2.7-2.1-3.5-.6-2.3.2-2.4.7-2.7.6-1.8 1.9-2.7.4-1.8-1.1-2.7-.3-1.8-1.3-4.4-.2-.5-.5-1.5-1.4-1.9-2.4-2.6-1-1.8-.7-1.3.8-1.9.4-1.3.5-2.4 0-1.4-.7-1.5-.9-.9-1-.3-2.2.3-2 .2-1-1.1-.8-1.2-1.2-1.3-2.9 0-2.8.6-2.9 1-2.7 1.1-1.9-.5-2.7-.2-5.2 1.4-2.7-1-3.2-2.6-1.3-.9-1.6-.7-1.4-1.6 0-2-1.6-1.1-1.1-1.3-.9-.7-1.6-1.1-1.1-1.4-.2-1.5 0-1.4-.7-1.3 1.3-2.3.7-4.5-.4-1.1-.3-2.2-1.1-1.1.3-1.8 1.1-1.4.9-2 1.3-1.3.7-1.8.5-1.5 2.4-2.3 1.9-.9 1.8-1.3 1.8-1.4.7-1.5-.3-1.4 1-2.4 1.6-1.6 2.5-1.3 1.3-1.8.5-1.2z"/>
<path d="M335.5 459l1.1 2.5 1.1 3.5-.5 1.2-1.1 1.8-.4 2.2-1.4 4.2-1.3 3.4-1.4 4.5-1.8.6-1.8.7-1.9-1.1-.6-2.5-.7-2.7 1.1-2.2.9-2-.7-2.7 0-2.4.7-1.4 1.9-.6 1.5-.3 1.2-1.3 1.3-.7.5-1.8 1.5-.7.8-2.2z"/>
<path d="M308.5 380.7l1.3-2.2.3-1 .7-1.5.8-1.4-.2-2 .7-1.5-1.3 0-1.6-.3-1.9 1.1-1.8.1-2.7-1.2-1.1.9-2 0-2.3-.6-1.8-1.6-1.8-4.5 78.8 0 0 26.7-15.2 0-3.6-.3-1.8-.4-2.1-.3-.6-1.7-1.2-.7-1.5.7-1.2.4-2.3-.6-1.8-1-1.8-.9-1.1-1.7-1.2-1.4-1.3-.9-1.8.2-.9 0-.5 1 1.2 1.7.8 1.4 1.2 1.1 1.1 1.1.2 1.6 1 1.1.4-1.8.9-.2.2 1.6-.6 1.1.6.6 1.8.1 2.5.2 1.2-1.2 1.4-1.3 1.1-1.1.6-.4 0 2.4.5.9 1.4 1.1 1.8.5 1.3 1.3 1 .7-1.4 2.7-.9 1.1-1.2 2.4-1.8.7-.6 1.3-1.8.3-.8.6-2.7 1.2-2.4.6 0 1.4-2.1.9-2.7 1.1-1.6 1.1-2 .2-2.7.9-1.8 1.1-1.7.3-1.3-.2-.5-2.3-.4-1.8-.2-1.8-1.2-1.8-1.5-1.8-.7-1.9-1.4-1.8-1.4-2.1-.2-1.5-1.1-1.8-1.8-2.3-1.8-3.1-1.4-2.4-1.1-1.4-.3-2.5-1.3-3.3z"/>
<path d="M289.4 373.5l1.4-.1 1.2-.1 2.4.2-.6.5-2.3.1-2.1-.6z"/>
<path d="M305.1 374.2l1.1-.9 3-.5-1 1.2-1.8.7-1.3-.5z"/>
<path d="M342.7 414.7l2.2-.2-.6.6-1.2 0-.4-.4z"/>
<path d="M304.2 438.2l2.5-1.4 1.5 1 .1 1.7-1.4 2.3-1.4.2-1.5-1.4.2-2.4z"/>
<path d="M299.6 443.4l.7 3.8 1.4 2.8.4 2.7.9.1-.7-3.7-1.7-3.7-.7-2.1-.3.1z"/>
<path d="M308.2 454.5l.5 3 .5 2.4 1.1 3.3-.9-4.2-.5-3.3-.7-1.2z"/>
<path d="M244.1 374l.2 2.7-.6 2.4-3 .9-2.7 3.1-6.3 2.3 0 1.8"/>
<path d="M223.7 387.2l8 0"/>
<path d="M231.7 387.2l0 3.1-5.9 0 0 4.5-1.9.9.1 3.1-7.1 0"/>
<path d="M231.7 387.9l7 4.2 10.7 6.7 3.6 4.1 1.8-.3 2.9-.6 3-2.5 7.9-4.7"/>
<path d="M238.7 392.1l-3 0 1.8 15.5-10.6 1.9-1.4 1.4"/>
<path d="M218.1 407.6l3.2-.3 4.2 3.6"/>
<path d="M225.5 410.9l1.4 4-1.8 0-2.3-.4-5.4.4"/>
<path d="M226.9 414.9l4.3.3 1.4 3.5.4 1.8.7 1.6-1.3 1.3-.3.5 1.8 5.4"/>
<path d="M223.7 420.5l3.6-1.3 1.6 2.9-.4.7-1.8 2"/>
<path d="M228.9 422.1l2.3 1.6 1.2-.3"/>
<path d="M237.5 418.5l1.4-2.7 3-2.9 4.5-2.9 3.2-.4 4.1-.5 1.1-2.4 0-4.1"/>
<path d="M233 418.9l4.5-.4 4.8 1.4.3 2.9-1 3.3.5 2.2"/>
<path d="M242.3 417.4l5 0 1.6 0 2.3-1.3-.3-1.8-1.8-1-1.1-1.3-1.6-2"/>
<path d="M247.1 417.2l1.1 4.2.2 4.9"/>
<path d="M250 417.4l.2 3.6.1 5.1"/>
<path d="M252.3 415.6l1.4.5 0 2.8-1.6 2.1 0 4.9"/>
<path d="M253.7 416.1l1.1-3.2 4.7.7 3.9.6 5.9-.6 2.3-1.1 3.4-11.4.8-6.1-3.1 1.6-4.1-1.8"/>
<path d="M272.7 414.7l.7 1.8-2.3 2.9-2 2.5-1.6 3.5-2.1-.6-2.7 3.8"/>
<path d="M275.8 395l14.5 7 0-.9 1.7 0 0-3.6"/>
<path d="M290.3 402l-.2 6.9-2.7 3.1-.7 2.5 1.6 2.4-.9.7"/>
<path d="M272.7 414.7l.4 2.2 2.1 2.3-.7 1.8 2.5 2.4 3.6-.6 2.7-2 2.8-2.7 1.3-.5"/>
<path d="M275.2 419.2l-2.1 6.9 1.1 1.4 2.1 5.8-.2.7"/>
<path d="M276.1 434l3.2-3.2 1.3-1.3 1.4-1.4 2.7 1.4 2.7.6 3.6-2 1.6-.2 3.7 0 2.9 1.4 3.2 1.7"/>
<path d="M287.4 417.6l2.1 4 2.7 1.6 4.1 4.7"/>
<path d="M292.2 380.2l-.2 17.3"/>
<path d="M267.9 377.5l-2.7 5-.2 6-.7 1.4 1.4 3.3 2.9 1.6"/>
<path d="M262.3 370.6l-.5 5 2.1 3.5 1.3 3.4"/>
<path d="M292 397.5l21.4 0"/>
<path d="M288.3 416.9l5.4 1.8 1.9 1.2 4.7-.9 2.1.8 3.4-4 2.5 4.3"/>
<path d="M312.6 411.4l-.3 2.4-1.8 1.6-1.3 2.9-.9 1.8 0 2-1.9 1.1 4.1 4.2"/>
<path d="M316.2 404.8l-.9 1.8-1.9.3-.8 4.5 2.5-1 2.5.5 2.9.9 2.5 2.7 1.4-.2"/>
<path d="M322.1 417.2l1.8.4 3.2 4.3 5.8.9-5.2 5.5-3.4.7-2 1.2-1.3 0-.7-.7-2.1 1.5-2.7-.2-2.3-1.5-1.6-.7-1.1-1.2"/>
<path d="M322.1 417.2l1.8-.7"/>
<path d="M320.7 440.4l0-8.2 1.6-2"/>
<path d="M302.4 431l.7-.6 4-.2 1.1-.5 2.3-2.3"/>
<path d="M308.2 429.7l1 5.2-1.2 2.2.2 2"/>
<path d="M302.4 431l-1.4 3.4-.7 4 0 1.4 1.4-.5.2 2.3-2.2 1.7"/>
<path d="M308.2 439.1l6.6 3.8 2.7 2.9"/>
<path d="M301.9 439.1l2.3 0"/>
<path d="M276.1 434l3.1 6.2-2.7 2.3-1.6 1.5-2 2-3.6 2.3"/>
<path d="M280.6 429.5l-1.3 8.9"/>
<path d="M273.3 433.3l-2.2 0-3.6-.2-2.7 0"/>
<path d="M267.5 433.1l0 2.4-3 0"/>
<path d="M273.3 433.3l-.9 1.5.5 3.2-2.2 3.6-1.9-.7-1.6 3.5"/>
<path d="M269.1 447.8l1.5.2 5.9 0 .5 3 1.6.9 2.7-1.9 1.8 0 3.2.5.4 4.9 3.4 1.6.2 3.8-3.6 0 0 5.8 2.1 2.3-4.1 1.5-3.7-1.6-9.5-.8-3.3.6"/>
<path d="M290.3 460.8l0-3.1 2.5 0 1.9 1.1 1.3-.5 2 1.4 2.3 1.6 0-1.9-1.8-2.2-.2-3.3 4-1.6"/>
<path d="M300.3 461.3l1.2 4-2.6 1.7-3.3 2.7-3-.2-3.8-.6"/>
<path d="M302.3 452.3l3.9 2 1.8.4 1.2 3.4 5.2.2 5.2-2"/>
<path d="M306.9 462.6l-.9-.9.4-1.6.5-3.3 1.1-2.1"/>
<path d="M301.5 465.3l.2.9 4.5 1.3-.4 4.2.2 2.3-2.9 3.6-3.2-.3-3-2.9-2.9-2.4-1.4-2.5"/>
<path d="M310.3 463.2l1.3 1-.2 2.2-1.4 1.3-1.3-1.5-1.8-3.6-5.2 2.9"/>
<path d="M303.1 477.6l1.5 3.8 0 3.5 1.6.9"/>
<path d="M284.7 470.4l.2 6.7-1.8 0 0 5 0 6.5-4.7.8-1.6-.4"/>
<path d="M283.1 482.1l1.3 1.3 3.7 0 5 0 2.2-2.3 4.6-3.8"/>
<path d="M283.1 488.6l1.8.6 2.7-1.3"/>
<path d="M295.6 490.8l1.3-1.2 2.5 0 .5 1.8-2.1 1.2-2.2-1.8"/>
<path d="M302.8 483.9l2 .4-.4 2.2-1.6.2-.4-1.5.4-1.3"/>
<path d="M309.8 384l1.9.5 1.8-2.3 1.8 0 2.2-3.1 3.2 1.4 6.6 4 3.2.2 2.2-.6"/>
<path d="M312.6 378.9l4.9.2"/>
<path d="M310.8 377.5l.2.7 2.2.7 3.6-2 3.9-1.8.7-2.9"/>
<path d="M330.5 384.7l3.4 1.1"/>
<path d="M324.3 406.6l1.8-.8 3.5.4 1.8.5 3.6-2.8 5.4-1 .9 2.8 1 1.6"/>
<path d="M340.4 402.9l5.4-1.8 1-3.6-.7-1.2-4.6-2.8"/>
<path d="M346.8 397.5l.9-3.6.6-1.6"/>
<path d="M333.2 383.1l-1.1-2.4-1.9-2.7-1.5-2.2 0-3-1.7-3.3"/>
</g>
<path d="M211.5 504.5V506.7M211.5 372V369.8" stroke="#222" stroke-width="0.8"/>
<path d="M229.4 504.5V506.7M229.4 372V369.8" stroke="#222" stroke-width="0.8"/>
<path d="M247.3 504.5V508.7M247.3 372V367.8" stroke="#222" stroke-width="0.8"/>
<path d="M265.2 504.5V506.7M265.2 372V369.8" stroke="#222" stroke-width="0.8"/>
<path d="M283.1 504.5V506.7M283.1 372V369.8" stroke="#222" stroke-width="0.8"/>
<path d="M301 504.5V508.7M301 372V367.8" stroke="#222" stroke-width="0.8"/>
<path d="M318.9 504.5V506.7M318.9 372V369.8" stroke="#222" stroke-width="0.8"/>
<path d="M336.8 504.5V506.7M336.8 372V369.8" stroke="#222" stroke-width="0.8"/>
<path d="M208.5 491.54H204.3M354.9 491.54H359.1" stroke="#222" stroke-width="0.8"/>
<path d="M208.5 473.46H206.3M354.9 473.46H357.1" stroke="#222" stroke-width="0.8"/>
<path d="M208.5 455.38H206.3M354.9 455.38H357.1" stroke="#222" stroke-width="0.8"/>
<path d="M208.5 437.3H204.3M354.9 437.3H359.1" stroke="#222" stroke-width="0.8"/>
<path d="M208.5 419.22H206.3M354.9 419.22H357.1" stroke="#222" stroke-width="0.8"/>
<path d="M208.5 401.14H206.3M354.9 401.14H357.1" stroke="#222" stroke-width="0.8"/>
<path d="M208.5 383.06H204.3M354.9 383.06H359.1" stroke="#222" stroke-width="0.8"/>
<rect x="208.5" y="372" width="146.4" height="132.5" fill="none" stroke="#111" stroke-width="1"/>
<text x="200.1" y="385.36" font-size="6.5" text-anchor="end" fill="#222">30N</text>
<text x="200.1" y="439.6" font-size="6.5" text-anchor="end" fill="#222">0</text>
<text x="200.1" y="493.84" font-size="6.5" text-anchor="end" fill="#222">30S</text>
<text x="247.3" y="518.1" font-size="6.5" text-anchor="middle" fill="#222">0</text>
<text x="301" y="518.1" font-size="6.5" text-anchor="middle" fill="#222">30E</text>
<rect x="86.3" y="51.8" width="57" height="26.2" fill="none" stroke="#e8141c" stroke-width="1.3"/>
<rect x="274.9" y="51.8" width="57.1" height="25.6" fill="none" stroke="#e8141c" stroke-width="1.3"/>
<rect x="86.4" y="217.2" width="56.4" height="25.8" fill="none" stroke="#e8141c" stroke-width="1.3"/>
<rect x="277.2" y="217.4" width="55.6" height="25.2" fill="none" stroke="#e8141c" stroke-width="1.3"/>
<rect x="86.8" y="413.1" width="56" height="25.5" fill="none" stroke="#e8141c" stroke-width="1.3"/>
<rect x="273.1" y="413.3" width="56.1" height="25.3" fill="none" stroke="#e8141c" stroke-width="1.3"/>
<text x="14" y="15.1" font-size="8.6" textLength="9.3" lengthAdjust="spacingAndGlyphs" fill="#222">(a)</text>
<text x="24" y="14.4" font-size="6.4" textLength="12" lengthAdjust="spacingAndGlyphs" fill="#1a1a1a">ERA5</text>
<text x="38.7" y="14.4" font-size="6.4" textLength="34.8" lengthAdjust="spacingAndGlyphs" fill="#1a1a1a">Wind Vectors &amp;</text>
<text x="79.6" y="14.4" font-size="6.4" textLength="33.2" lengthAdjust="spacingAndGlyphs" fill="#1a1a1a">Rh at 850 hPa</text>
<text x="123.6" y="14.4" font-size="6.4" textLength="12" lengthAdjust="spacingAndGlyphs" fill="#1a1a1a">0720</text>
<text x="137.9" y="14.4" font-size="6.4" textLength="12.1" lengthAdjust="spacingAndGlyphs" fill="#1a1a1a">06 h</text>
<text x="205" y="15.3" font-size="8.6" textLength="9.3" lengthAdjust="spacingAndGlyphs" fill="#222">(b)</text>
<text x="215" y="14.6" font-size="6.4" textLength="12" lengthAdjust="spacingAndGlyphs" fill="#1a1a1a">ERA5</text>
<text x="229.7" y="14.6" font-size="6.4" textLength="34.8" lengthAdjust="spacingAndGlyphs" fill="#1a1a1a">Wind Vectors &amp;</text>
<text x="270.6" y="14.6" font-size="6.4" textLength="33.2" lengthAdjust="spacingAndGlyphs" fill="#1a1a1a">Rh at 700 hPa</text>
<text x="314.6" y="14.6" font-size="6.4" textLength="12" lengthAdjust="spacingAndGlyphs" fill="#1a1a1a">0720</text>
<text x="328.9" y="14.6" font-size="6.4" textLength="12.1" lengthAdjust="spacingAndGlyphs" fill="#1a1a1a">06 h</text>
<text x="12.2" y="171.8" font-size="9.6" textLength="7.7" lengthAdjust="spacingAndGlyphs" fill="#222">(c)</text>
<text x="21.1" y="170.8" font-size="8.5" textLength="52.7" lengthAdjust="spacingAndGlyphs" fill="#111">ERA5 0720 06h</text>
<text x="201.6" y="171.4" font-size="9.6" textLength="9.3" lengthAdjust="spacingAndGlyphs" fill="#222">(d)</text>
<text x="212.1" y="170.4" font-size="8.5" textLength="51.1" lengthAdjust="spacingAndGlyphs" fill="#111">ERA5 0720 06h</text>
<text x="12.2" y="366.4" font-size="9.6" textLength="7.1" lengthAdjust="spacingAndGlyphs" fill="#222">(e)</text>
<text x="20.5" y="365.4" font-size="8.5" textLength="53.3" lengthAdjust="spacingAndGlyphs" fill="#111">ERA5 0720 06h</text>
<text x="198.7" y="366.8" font-size="9.6" textLength="6.8" lengthAdjust="spacingAndGlyphs" fill="#222">(f)</text>
<text x="206.7" y="365.8" font-size="8.5" textLength="52.1" lengthAdjust="spacingAndGlyphs" fill="#111">ERA5 0720 06h</text>
<text x="121.4" y="169.4" font-size="8.5" textLength="47.1" lengthAdjust="spacingAndGlyphs" fill="#111">PWAT kg/m^2</text>
<text x="323.3" y="168.8" font-size="8.5" textLength="36.6" lengthAdjust="spacingAndGlyphs" fill="#111">CAPE J/kg</text>
<text x="143.5" y="364.8" font-size="8.3" textLength="25" lengthAdjust="spacingAndGlyphs" fill="#111">K index</text>
<text x="321.7" y="365" font-size="8.3" textLength="33.1" lengthAdjust="spacingAndGlyphs" fill="#111">TTs index</text>
<rect x="170.8" y="18.6" width="8.2" height="12.59" fill="#ee1010"/>
<rect x="170.8" y="31.14" width="8.2" height="12.59" fill="#f66414"/>
<rect x="170.8" y="43.68" width="8.2" height="12.59" fill="#ffd400"/>
<rect x="170.8" y="56.22" width="8.2" height="12.59" fill="#a8e020"/>
<rect x="170.8" y="68.76" width="8.2" height="12.59" fill="#3cb42a"/>
<rect x="170.8" y="81.3" width="8.2" height="12.59" fill="#17885a"/>
<rect x="170.8" y="93.84" width="8.2" height="12.59" fill="#1240b0"/>
<rect x="170.8" y="106.38" width="8.2" height="12.59" fill="#1c1cf0"/>
<rect x="170.8" y="118.92" width="8.2" height="12.59" fill="#9898f8"/>
<rect x="170.8" y="131.46" width="8.2" height="12.59" fill="#ffffff"/>
<path d="M170.8 31.14H179" stroke="#555" stroke-width="0.3"/>
<path d="M170.8 43.68H179" stroke="#555" stroke-width="0.3"/>
<path d="M170.8 56.22H179" stroke="#555" stroke-width="0.3"/>
<path d="M170.8 68.76H179" stroke="#555" stroke-width="0.3"/>
<path d="M170.8 81.3H179" stroke="#555" stroke-width="0.3"/>
<path d="M170.8 93.84H179" stroke="#555" stroke-width="0.3"/>
<path d="M170.8 106.38H179" stroke="#555" stroke-width="0.3"/>
<path d="M170.8 118.92H179" stroke="#555" stroke-width="0.3"/>
<path d="M170.8 131.46H179" stroke="#555" stroke-width="0.3"/>
<rect x="170.8" y="18.6" width="8.2" height="125.4" fill="none" stroke="#666" stroke-width="0.6"/>
<text x="181.2" y="33.44" font-size="6.4" fill="#333">100</text>
<text x="181.2" y="45.98" font-size="6.4" fill="#333">95</text>
<text x="181.2" y="58.52" font-size="6.4" fill="#333">90</text>
<text x="181.2" y="71.06" font-size="6.4" fill="#333">85</text>
<text x="181.2" y="83.6" font-size="6.4" fill="#333">80</text>
<text x="181.2" y="96.14" font-size="6.4" fill="#333">75</text>
<text x="181.2" y="108.68" font-size="6.4" fill="#333">70</text>
<text x="181.2" y="121.22" font-size="6.4" fill="#333">65</text>
<text x="181.2" y="133.76" font-size="6.4" fill="#333">60</text>
<rect x="361.3" y="19.2" width="8.3" height="12.53" fill="#ee1010"/>
<rect x="361.3" y="31.68" width="8.3" height="12.53" fill="#f66414"/>
<rect x="361.3" y="44.16" width="8.3" height="12.53" fill="#ffd400"/>
<rect x="361.3" y="56.64" width="8.3" height="12.53" fill="#a8e020"/>
<rect x="361.3" y="69.12" width="8.3" height="12.53" fill="#3cb42a"/>
<rect x="361.3" y="81.6" width="8.3" height="12.53" fill="#17885a"/>
<rect x="361.3" y="94.08" width="8.3" height="12.53" fill="#1240b0"/>
<rect x="361.3" y="106.56" width="8.3" height="12.53" fill="#1c1cf0"/>
<rect x="361.3" y="119.04" width="8.3" height="12.53" fill="#9898f8"/>
<rect x="361.3" y="131.52" width="8.3" height="12.53" fill="#ffffff"/>
<path d="M361.3 31.68H369.6" stroke="#555" stroke-width="0.3"/>
<path d="M361.3 44.16H369.6" stroke="#555" stroke-width="0.3"/>
<path d="M361.3 56.64H369.6" stroke="#555" stroke-width="0.3"/>
<path d="M361.3 69.12H369.6" stroke="#555" stroke-width="0.3"/>
<path d="M361.3 81.6H369.6" stroke="#555" stroke-width="0.3"/>
<path d="M361.3 94.08H369.6" stroke="#555" stroke-width="0.3"/>
<path d="M361.3 106.56H369.6" stroke="#555" stroke-width="0.3"/>
<path d="M361.3 119.04H369.6" stroke="#555" stroke-width="0.3"/>
<path d="M361.3 131.52H369.6" stroke="#555" stroke-width="0.3"/>
<rect x="361.3" y="19.2" width="8.3" height="124.8" fill="none" stroke="#666" stroke-width="0.6"/>
<text x="372.6" y="33.98" font-size="6.4" fill="#333">100</text>
<text x="372.6" y="46.46" font-size="6.4" fill="#333">95</text>
<text x="372.6" y="58.94" font-size="6.4" fill="#333">90</text>
<text x="372.6" y="71.42" font-size="6.4" fill="#333">85</text>
<text x="372.6" y="83.9" font-size="6.4" fill="#333">80</text>
<text x="372.6" y="96.38" font-size="6.4" fill="#333">75</text>
<text x="372.6" y="108.86" font-size="6.4" fill="#333">70</text>
<text x="372.6" y="121.34" font-size="6.4" fill="#333">65</text>
<text x="372.6" y="133.82" font-size="6.4" fill="#333">60</text>
<text x="171.8" y="153.2" font-size="5" fill="#444">(%)</text>
<text x="362.6" y="153.2" font-size="5" fill="#444">(%)</text>
<rect x="23.8" y="325.4" width="11.93" height="11.9" fill="#ffffff"/>
<rect x="35.67" y="325.4" width="11.93" height="11.9" fill="#edf8ea"/>
<rect x="47.55" y="325.4" width="11.93" height="11.9" fill="#d8f0d6"/>
<rect x="59.42" y="325.4" width="11.93" height="11.9" fill="#c2e6c6"/>
<rect x="71.3" y="325.4" width="11.93" height="11.9" fill="#a0d8b8"/>
<rect x="83.17" y="325.4" width="11.93" height="11.9" fill="#72c6b8"/>
<rect x="95.05" y="325.4" width="11.93" height="11.9" fill="#6cc4c8"/>
<rect x="106.92" y="325.4" width="11.93" height="11.9" fill="#46acd4"/>
<rect x="118.8" y="325.4" width="11.93" height="11.9" fill="#2a8cc4"/>
<rect x="130.68" y="325.4" width="11.93" height="11.9" fill="#186cb4"/>
<rect x="142.55" y="325.4" width="11.93" height="11.9" fill="#0e4a98"/>
<rect x="154.43" y="325.4" width="11.93" height="11.9" fill="#082a58"/>
<path d="M35.67 325.4V337.3" stroke="#333" stroke-width="0.5"/>
<path d="M47.55 325.4V337.3" stroke="#333" stroke-width="0.5"/>
<path d="M59.42 325.4V337.3" stroke="#333" stroke-width="0.5"/>
<path d="M71.3 325.4V337.3" stroke="#333" stroke-width="0.5"/>
<path d="M83.17 325.4V337.3" stroke="#333" stroke-width="0.5"/>
<path d="M95.05 325.4V337.3" stroke="#333" stroke-width="0.5"/>
<path d="M106.92 325.4V337.3" stroke="#333" stroke-width="0.5"/>
<path d="M118.8 325.4V337.3" stroke="#333" stroke-width="0.5"/>
<path d="M130.68 325.4V337.3" stroke="#333" stroke-width="0.5"/>
<path d="M142.55 325.4V337.3" stroke="#333" stroke-width="0.5"/>
<path d="M154.43 325.4V337.3" stroke="#333" stroke-width="0.5"/>
<rect x="23.8" y="325.4" width="142.5" height="11.9" fill="none" stroke="#333" stroke-width="0.6"/>
<text x="35.67" y="345.1" font-size="6.2" text-anchor="middle" fill="#333">10</text>
<text x="47.55" y="345.1" font-size="6.2" text-anchor="middle" fill="#333">15</text>
<text x="59.42" y="345.1" font-size="6.2" text-anchor="middle" fill="#333">20</text>
<text x="71.3" y="345.1" font-size="6.2" text-anchor="middle" fill="#333">25</text>
<text x="83.17" y="345.1" font-size="6.2" text-anchor="middle" fill="#333">30</text>
<text x="95.05" y="345.1" font-size="6.2" text-anchor="middle" fill="#333">35</text>
<text x="106.92" y="345.1" font-size="6.2" text-anchor="middle" fill="#333">40</text>
<text x="118.8" y="345.1" font-size="6.2" text-anchor="middle" fill="#333">45</text>
<text x="130.68" y="345.1" font-size="6.2" text-anchor="middle" fill="#333">50</text>
<text x="142.55" y="345.1" font-size="6.2" text-anchor="middle" fill="#333">55</text>
<text x="154.43" y="345.1" font-size="6.2" text-anchor="middle" fill="#333">60</text>
<rect x="214.2" y="325.4" width="10.24" height="11.9" fill="#ffffff"/>
<rect x="224.39" y="325.4" width="10.24" height="11.9" fill="#b4b4f8"/>
<rect x="234.57" y="325.4" width="10.24" height="11.9" fill="#7474f0"/>
<rect x="244.76" y="325.4" width="10.24" height="11.9" fill="#1414f4"/>
<rect x="254.94" y="325.4" width="10.24" height="11.9" fill="#1034c4"/>
<rect x="265.13" y="325.4" width="10.24" height="11.9" fill="#107070"/>
<rect x="275.31" y="325.4" width="10.24" height="11.9" fill="#109438"/>
<rect x="285.5" y="325.4" width="10.24" height="11.9" fill="#34c030"/>
<rect x="295.69" y="325.4" width="10.24" height="11.9" fill="#84d428"/>
<rect x="305.87" y="325.4" width="10.24" height="11.9" fill="#c8e424"/>
<rect x="316.06" y="325.4" width="10.24" height="11.9" fill="#f8e810"/>
<rect x="326.24" y="325.4" width="10.24" height="11.9" fill="#f8a010"/>
<rect x="336.43" y="325.4" width="10.24" height="11.9" fill="#f85010"/>
<rect x="346.61" y="325.4" width="10.24" height="11.9" fill="#f80a0a"/>
<path d="M224.39 325.4V337.3" stroke="#333" stroke-width="0.5"/>
<path d="M234.57 325.4V337.3" stroke="#333" stroke-width="0.5"/>
<path d="M244.76 325.4V337.3" stroke="#333" stroke-width="0.5"/>
<path d="M254.94 325.4V337.3" stroke="#333" stroke-width="0.5"/>
<path d="M265.13 325.4V337.3" stroke="#333" stroke-width="0.5"/>
<path d="M275.31 325.4V337.3" stroke="#333" stroke-width="0.5"/>
<path d="M285.5 325.4V337.3" stroke="#333" stroke-width="0.5"/>
<path d="M295.69 325.4V337.3" stroke="#333" stroke-width="0.5"/>
<path d="M305.87 325.4V337.3" stroke="#333" stroke-width="0.5"/>
<path d="M316.06 325.4V337.3" stroke="#333" stroke-width="0.5"/>
<path d="M326.24 325.4V337.3" stroke="#333" stroke-width="0.5"/>
<path d="M336.43 325.4V337.3" stroke="#333" stroke-width="0.5"/>
<path d="M346.61 325.4V337.3" stroke="#333" stroke-width="0.5"/>
<rect x="214.2" y="325.4" width="142.6" height="11.9" fill="none" stroke="#333" stroke-width="0.6"/>
<text x="224.39" y="345.1" font-size="6.2" text-anchor="middle" fill="#333">100</text>
<text x="244.76" y="345.1" font-size="6.2" text-anchor="middle" fill="#333">500</text>
<text x="265.13" y="345.1" font-size="6.2" text-anchor="middle" fill="#333">900</text>
<text x="285.5" y="345.1" font-size="6.2" text-anchor="middle" fill="#333">1300</text>
<text x="305.87" y="345.1" font-size="6.2" text-anchor="middle" fill="#333">1700</text>
<text x="326.24" y="345.1" font-size="6.2" text-anchor="middle" fill="#333">2100</text>
<text x="346.61" y="345.1" font-size="6.2" text-anchor="middle" fill="#333">2500</text>
<rect x="23.8" y="521.3" width="17.86" height="12.2" fill="#ffffff"/>
<rect x="41.61" y="521.3" width="17.86" height="12.2" fill="#90d0f4"/>
<rect x="59.42" y="521.3" width="17.86" height="12.2" fill="#3a88cc"/>
<rect x="77.24" y="521.3" width="17.86" height="12.2" fill="#40b040"/>
<rect x="95.05" y="521.3" width="17.86" height="12.2" fill="#f8e050"/>
<rect x="112.86" y="521.3" width="17.86" height="12.2" fill="#f87420"/>
<rect x="130.68" y="521.3" width="17.86" height="12.2" fill="#e02020"/>
<rect x="148.49" y="521.3" width="17.86" height="12.2" fill="#a01818"/>
<path d="M41.61 521.3V533.5" stroke="#333" stroke-width="0.5"/>
<path d="M59.42 521.3V533.5" stroke="#333" stroke-width="0.5"/>
<path d="M77.24 521.3V533.5" stroke="#333" stroke-width="0.5"/>
<path d="M95.05 521.3V533.5" stroke="#333" stroke-width="0.5"/>
<path d="M112.86 521.3V533.5" stroke="#333" stroke-width="0.5"/>
<path d="M130.68 521.3V533.5" stroke="#333" stroke-width="0.5"/>
<path d="M148.49 521.3V533.5" stroke="#333" stroke-width="0.5"/>
<rect x="23.8" y="521.3" width="142.5" height="12.2" fill="none" stroke="#333" stroke-width="0.6"/>
<text x="41.61" y="541.6" font-size="6.2" text-anchor="middle" fill="#333">25</text>
<text x="59.42" y="541.6" font-size="6.2" text-anchor="middle" fill="#333">26</text>
<text x="77.24" y="541.6" font-size="6.2" text-anchor="middle" fill="#333">30</text>
<text x="95.05" y="541.6" font-size="6.2" text-anchor="middle" fill="#333">31</text>
<text x="112.86" y="541.6" font-size="6.2" text-anchor="middle" fill="#333">35</text>
<text x="130.68" y="541.6" font-size="6.2" text-anchor="middle" fill="#333">36</text>
<text x="148.49" y="541.6" font-size="6.2" text-anchor="middle" fill="#333">40</text>
<rect x="209.8" y="522.1" width="11.95" height="12.2" fill="#ffffff"/>
<rect x="221.7" y="522.1" width="11.95" height="12.2" fill="#d2e0f8"/>
<rect x="233.6" y="522.1" width="11.95" height="12.2" fill="#aabef2"/>
<rect x="245.5" y="522.1" width="11.95" height="12.2" fill="#7c94f0"/>
<rect x="257.4" y="522.1" width="11.95" height="12.2" fill="#6078e8"/>
<rect x="269.3" y="522.1" width="11.95" height="12.2" fill="#10a030"/>
<rect x="281.2" y="522.1" width="11.95" height="12.2" fill="#44b844"/>
<rect x="293.1" y="522.1" width="11.95" height="12.2" fill="#a4e874"/>
<rect x="305" y="522.1" width="11.95" height="12.2" fill="#f8f020"/>
<rect x="316.9" y="522.1" width="11.95" height="12.2" fill="#f01010"/>
<rect x="328.8" y="522.1" width="11.95" height="12.2" fill="#c00c10"/>
<rect x="340.7" y="522.1" width="11.95" height="12.2" fill="#080808"/>
<path d="M221.7 522.1V534.3" stroke="#333" stroke-width="0.5"/>
<path d="M233.6 522.1V534.3" stroke="#333" stroke-width="0.5"/>
<path d="M245.5 522.1V534.3" stroke="#333" stroke-width="0.5"/>
<path d="M257.4 522.1V534.3" stroke="#333" stroke-width="0.5"/>
<path d="M269.3 522.1V534.3" stroke="#333" stroke-width="0.5"/>
<path d="M281.2 522.1V534.3" stroke="#333" stroke-width="0.5"/>
<path d="M293.1 522.1V534.3" stroke="#333" stroke-width="0.5"/>
<path d="M305 522.1V534.3" stroke="#333" stroke-width="0.5"/>
<path d="M316.9 522.1V534.3" stroke="#333" stroke-width="0.5"/>
<path d="M328.8 522.1V534.3" stroke="#333" stroke-width="0.5"/>
<path d="M340.7 522.1V534.3" stroke="#333" stroke-width="0.5"/>
<rect x="209.8" y="522.1" width="142.8" height="12.2" fill="none" stroke="#333" stroke-width="0.6"/>
<text x="221.7" y="542.4" font-size="6.2" text-anchor="middle" fill="#333">43</text>
<text x="233.6" y="542.4" font-size="6.2" text-anchor="middle" fill="#333">44</text>
<text x="245.5" y="542.4" font-size="6.2" text-anchor="middle" fill="#333">45</text>
<text x="257.4" y="542.4" font-size="6.2" text-anchor="middle" fill="#333">46</text>
<text x="269.3" y="542.4" font-size="6.2" text-anchor="middle" fill="#333">47</text>
<text x="281.2" y="542.4" font-size="6.2" text-anchor="middle" fill="#333">48</text>
<text x="293.1" y="542.4" font-size="6.2" text-anchor="middle" fill="#333">49</text>
<text x="305" y="542.4" font-size="6.2" text-anchor="middle" fill="#333">50</text>
<text x="316.9" y="542.4" font-size="6.2" text-anchor="middle" fill="#333">51</text>
<text x="328.8" y="542.4" font-size="6.2" text-anchor="middle" fill="#333">52</text>
<text x="340.7" y="542.4" font-size="6.2" text-anchor="middle" fill="#333">56</text>
</svg></body></html>
